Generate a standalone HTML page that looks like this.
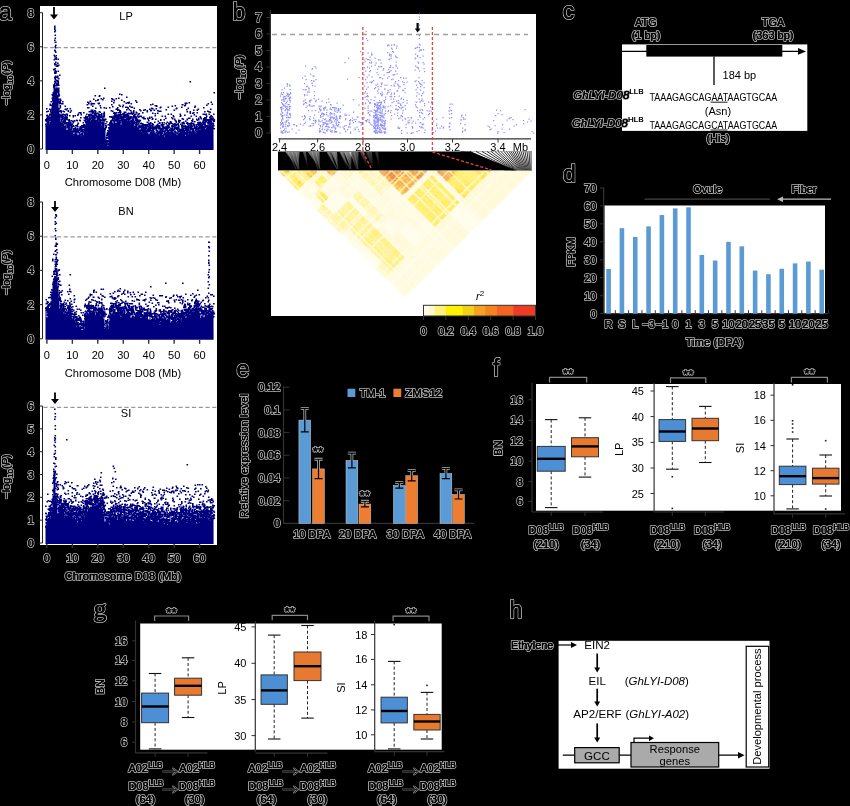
<!DOCTYPE html><html><head><meta charset="utf-8"><style>html,body{margin:0;padding:0;background:#000}svg{display:block;will-change:transform}</style></head><body><svg width="850" height="806" viewBox="0 0 850 806">
<style>text{font-family:"Liberation Sans",sans-serif}.h{stroke:#b8b8b8;stroke-width:2.1px;paint-order:stroke;stroke-linejoin:round}.k{stroke:#000;stroke-width:0.45px}</style>
<rect x="0" y="0" width="850" height="806" fill="#000"/>
<rect x="40" y="6" width="177" height="539" fill="#fff"/>
<text x="-0.9" y="19.8" font-size="23" class="h">a</text>
<text x="-0.9" y="19.8" font-size="23" class="k">a</text>
<path d="M45.5 150L45.5 124.39L46.5 124.39L46.5 123.56L47.5 123.56L47.5 122.66L48.5 122.66L48.5 118.85L49.5 118.85L49.5 124.31L50.5 124.31L50.5 113.55L51.5 113.55L51.5 107.6L52.5 107.6L52.5 96.6L53.5 96.6L53.5 87.19L54.5 87.19L54.5 84.6L55.5 84.6L55.5 88.17L56.5 88.17L56.5 87.3L57.5 87.3L57.5 95.04L58.5 95.04L58.5 107.67L59.5 107.67L59.5 114.83L60.5 114.83L60.5 121.49L61.5 121.49L61.5 123.12L62.5 123.12L62.5 126.19L63.5 126.19L63.5 121.85L64.5 121.85L64.5 125.94L65.5 125.94L65.5 121.89L66.5 121.89L66.5 130.07L67.5 130.07L67.5 125.91L68.5 125.91L68.5 127.15L69.5 127.15L69.5 127.27L70.5 127.27L70.5 131.24L71.5 131.24L71.5 127.64L72.5 127.64L72.5 131.39L73.5 131.39L73.5 136.08L74.5 136.08L74.5 131.81L75.5 131.81L75.5 134.83L76.5 134.83L76.5 131.84L77.5 131.84L77.5 134.94L78.5 134.94L78.5 132.73L79.5 132.73L79.5 134.85L80.5 134.85L80.5 136.76L81.5 136.76L81.5 135.17L82.5 135.17L82.5 130.5L83.5 130.5L83.5 135.25L84.5 135.25L84.5 126.93L85.5 126.93L85.5 121L86.5 121L86.5 121.59L87.5 121.59L87.5 119.16L88.5 119.16L88.5 120.83L89.5 120.83L89.5 121.42L90.5 121.42L90.5 120.16L91.5 120.16L91.5 116.35L92.5 116.35L92.5 116.08L93.5 116.08L93.5 117.82L94.5 117.82L94.5 119.78L95.5 119.78L95.5 120.3L96.5 120.3L96.5 121.32L97.5 121.32L97.5 120.4L98.5 120.4L98.5 122.08L99.5 122.08L99.5 119.95L100.5 119.95L100.5 120.74L101.5 120.74L101.5 125.32L102.5 125.32L102.5 123.17L103.5 123.17L103.5 119L104.5 119L104.5 127.97L105.5 127.97L105.5 139.42L106.5 139.42L106.5 141.73L107.5 141.73L107.5 146L108.5 146L108.5 131.93L109.5 131.93L109.5 123.76L110.5 123.76L110.5 125.02L111.5 125.02L111.5 123.24L112.5 123.24L112.5 124.12L113.5 124.12L113.5 120.03L114.5 120.03L114.5 121.55L115.5 121.55L115.5 123.14L116.5 123.14L116.5 121.75L117.5 121.75L117.5 119.33L118.5 119.33L118.5 120.7L119.5 120.7L119.5 117.27L120.5 117.27L120.5 124.52L121.5 124.52L121.5 120.47L122.5 120.47L122.5 120.64L123.5 120.64L123.5 118.98L124.5 118.98L124.5 119.28L125.5 119.28L125.5 118.85L126.5 118.85L126.5 121.28L127.5 121.28L127.5 120.95L128.5 120.95L128.5 121.23L129.5 121.23L129.5 124.49L130.5 124.49L130.5 117.1L131.5 117.1L131.5 120.79L132.5 120.79L132.5 120.57L133.5 120.57L133.5 121.24L134.5 121.24L134.5 126.05L135.5 126.05L135.5 122.91L136.5 122.91L136.5 120.01L137.5 120.01L137.5 128.17L138.5 128.17L138.5 125.39L139.5 125.39L139.5 130.1L140.5 130.1L140.5 132.75L141.5 132.75L141.5 132.11L142.5 132.11L142.5 133.56L143.5 133.56L143.5 132.98L144.5 132.98L144.5 133L145.5 133L145.5 131.11L146.5 131.11L146.5 132.69L147.5 132.69L147.5 134.83L148.5 134.83L148.5 128.64L149.5 128.64L149.5 135.02L150.5 135.02L150.5 130.24L151.5 130.24L151.5 131.53L152.5 131.53L152.5 130.11L153.5 130.11L153.5 130.71L154.5 130.71L154.5 133.4L155.5 133.4L155.5 137.09L156.5 137.09L156.5 132.73L157.5 132.73L157.5 131.61L158.5 131.61L158.5 132.47L159.5 132.47L159.5 135.51L160.5 135.51L160.5 131.21L161.5 131.21L161.5 129.23L162.5 129.23L162.5 135.05L163.5 135.05L163.5 137.74L164.5 137.74L164.5 133.59L165.5 133.59L165.5 130.04L166.5 130.04L166.5 133.33L167.5 133.33L167.5 132.21L168.5 132.21L168.5 133.99L169.5 133.99L169.5 136.19L170.5 136.19L170.5 130.4L171.5 130.4L171.5 130.6L172.5 130.6L172.5 132.06L173.5 132.06L173.5 133.03L174.5 133.03L174.5 133.26L175.5 133.26L175.5 131.87L176.5 131.87L176.5 135.39L177.5 135.39L177.5 129.44L178.5 129.44L178.5 135.03L179.5 135.03L179.5 131.27L180.5 131.27L180.5 131.04L181.5 131.04L181.5 129.33L182.5 129.33L182.5 130.07L183.5 130.07L183.5 132.49L184.5 132.49L184.5 132.37L185.5 132.37L185.5 135.96L186.5 135.96L186.5 129.69L187.5 129.69L187.5 130.87L188.5 130.87L188.5 134.3L189.5 134.3L189.5 126.59L190.5 126.59L190.5 130.69L191.5 130.69L191.5 131.96L192.5 131.96L192.5 128.44L193.5 128.44L193.5 129.32L194.5 129.32L194.5 132.13L195.5 132.13L195.5 133.39L196.5 133.39L196.5 134.37L197.5 134.37L197.5 128.9L198.5 128.9L198.5 129.6L199.5 129.6L199.5 129.41L200.5 129.41L200.5 132.49L201.5 132.49L201.5 128.81L202.5 128.81L202.5 127.67L203.5 127.67L203.5 128.32L204.5 128.32L204.5 125.83L205.5 125.83L205.5 129.51L206.5 129.51L206.5 128.28L207.5 128.28L207.5 126.01L208.5 126.01L208.5 125.13L209.5 125.13L209.5 122.8L210.5 122.8L210.5 120.98L211.5 120.98L211.5 125.77L212.5 125.77L212.5 127.5L213.5 127.5L213.6 150Z" fill="#00007f"/>
<path d="M45 119h1.6v1.6h-1.6zM45 120h1.6v1.6h-1.6zM45 123.5h1.6v1.6h-1.6zM45.5 119h1.6v1.6h-1.6zM45.5 119.5h1.6v1.6h-1.6zM45.5 125.5h1.6v1.6h-1.6zM46 108h1.6v1.6h-1.6zM46 111h1.6v1.6h-1.6zM46 115h1.6v1.6h-1.6zM46 117.5h1.6v1.6h-1.6zM46 118.5h1.6v1.6h-1.6zM46 120.5h1.6v1.6h-1.6zM46.5 114.5h1.6v1.6h-1.6zM46.5 119h1.6v1.6h-1.6zM46.5 120h1.6v1.6h-1.6zM46.5 121h1.6v1.6h-1.6zM46.5 122.5h1.6v1.6h-1.6zM47 116h1.6v1.6h-1.6zM47 119.5h1.6v1.6h-1.6zM47 122.5h1.6v1.6h-1.6zM47.5 110.5h1.6v1.6h-1.6zM47.5 116.5h1.6v1.6h-1.6zM47.5 117.5h1.6v1.6h-1.6zM47.5 118h1.6v1.6h-1.6zM47.5 119.5h1.6v1.6h-1.6zM47.5 120.5h1.6v1.6h-1.6zM48 116.5h1.6v1.6h-1.6zM48 122h1.6v1.6h-1.6zM48.5 115h1.6v1.6h-1.6zM49 108.5h1.6v1.6h-1.6zM49 113.5h1.6v1.6h-1.6zM49 117h1.6v1.6h-1.6zM49 118h1.6v1.6h-1.6zM49 120h1.6v1.6h-1.6zM49.5 103.5h1.6v1.6h-1.6zM49.5 104.5h1.6v1.6h-1.6zM49.5 117.5h1.6v1.6h-1.6zM49.5 118.5h1.6v1.6h-1.6zM49.5 119.5h1.6v1.6h-1.6zM49.5 123.5h1.6v1.6h-1.6zM49.5 124h1.6v1.6h-1.6zM50 109h1.6v1.6h-1.6zM50 109.5h1.6v1.6h-1.6zM50 111h1.6v1.6h-1.6zM50 117h1.6v1.6h-1.6zM50 118h1.6v1.6h-1.6zM50 122h1.6v1.6h-1.6zM50 123h1.6v1.6h-1.6zM50 124h1.6v1.6h-1.6zM50 125.5h1.6v1.6h-1.6zM50.5 101h1.6v1.6h-1.6zM50.5 111.5h1.6v1.6h-1.6zM50.5 113h1.6v1.6h-1.6zM50.5 113.5h1.6v1.6h-1.6zM50.5 114h1.6v1.6h-1.6zM50.5 114.5h1.6v1.6h-1.6zM50.5 116.5h1.6v1.6h-1.6zM51 104.5h1.6v1.6h-1.6zM51 115h1.6v1.6h-1.6zM51.5 94h1.6v1.6h-1.6zM51.5 97.5h1.6v1.6h-1.6zM51.5 106h1.6v1.6h-1.6zM51.5 108h1.6v1.6h-1.6zM52 94.5h1.6v1.6h-1.6zM52 97.5h1.6v1.6h-1.6zM52 98.5h1.6v1.6h-1.6zM52 100h1.6v1.6h-1.6zM52 103h1.6v1.6h-1.6zM52 103.5h1.6v1.6h-1.6zM52 104.5h1.6v1.6h-1.6zM52 106.5h1.6v1.6h-1.6zM52 108h1.6v1.6h-1.6zM52.5 92h1.6v1.6h-1.6zM52.5 93.5h1.6v1.6h-1.6zM52.5 96h1.6v1.6h-1.6zM52.5 100h1.6v1.6h-1.6zM52.5 107.5h1.6v1.6h-1.6zM53 69h1.6v1.6h-1.6zM53 84.5h1.6v1.6h-1.6zM53 85h1.6v1.6h-1.6zM53 86h1.6v1.6h-1.6zM53 94h1.6v1.6h-1.6zM53 95h1.6v1.6h-1.6zM53.5 54.5h1.6v1.6h-1.6zM53.5 59h1.6v1.6h-1.6zM53.5 68.5h1.6v1.6h-1.6zM53.5 84h1.6v1.6h-1.6zM53.5 86h1.6v1.6h-1.6zM53.5 86.5h1.6v1.6h-1.6zM53.5 91.5h1.6v1.6h-1.6zM54 25.5h1.6v1.6h-1.6zM54 27h1.6v1.6h-1.6zM54 28.5h1.6v1.6h-1.6zM54 31h1.6v1.6h-1.6zM54 39.5h1.6v1.6h-1.6zM54 49.5h1.6v1.6h-1.6zM54 56h1.6v1.6h-1.6zM54 63h1.6v1.6h-1.6zM54 64h1.6v1.6h-1.6zM54 71.5h1.6v1.6h-1.6zM54 72.5h1.6v1.6h-1.6zM54 76.5h1.6v1.6h-1.6zM54 77h1.6v1.6h-1.6zM54 80.5h1.6v1.6h-1.6zM54 82.5h1.6v1.6h-1.6zM54.5 30h1.6v1.6h-1.6zM54.5 34.5h1.6v1.6h-1.6zM54.5 37.5h1.6v1.6h-1.6zM54.5 41.5h1.6v1.6h-1.6zM54.5 46h1.6v1.6h-1.6zM54.5 50.5h1.6v1.6h-1.6zM54.5 58h1.6v1.6h-1.6zM54.5 68h1.6v1.6h-1.6zM54.5 70h1.6v1.6h-1.6zM54.5 78h1.6v1.6h-1.6zM54.5 78.5h1.6v1.6h-1.6zM54.5 81h1.6v1.6h-1.6zM54.5 84.5h1.6v1.6h-1.6zM55 41.5h1.6v1.6h-1.6zM55 44.5h1.6v1.6h-1.6zM55 47h1.6v1.6h-1.6zM55 51.5h1.6v1.6h-1.6zM55 61.5h1.6v1.6h-1.6zM55 63.5h1.6v1.6h-1.6zM55 70.5h1.6v1.6h-1.6zM55 72.5h1.6v1.6h-1.6zM55 75.5h1.6v1.6h-1.6zM55 76.5h1.6v1.6h-1.6zM55 81.5h1.6v1.6h-1.6zM55 82h1.6v1.6h-1.6zM55.5 55h1.6v1.6h-1.6zM55.5 57h1.6v1.6h-1.6zM55.5 58.5h1.6v1.6h-1.6zM55.5 65.5h1.6v1.6h-1.6zM55.5 71h1.6v1.6h-1.6zM55.5 80h1.6v1.6h-1.6zM55.5 85h1.6v1.6h-1.6zM55.5 89h1.6v1.6h-1.6zM56 65.5h1.6v1.6h-1.6zM56 79.5h1.6v1.6h-1.6zM56 83h1.6v1.6h-1.6zM56 83.5h1.6v1.6h-1.6zM56 85h1.6v1.6h-1.6zM56 87.5h1.6v1.6h-1.6zM56 88h1.6v1.6h-1.6zM56 88.5h1.6v1.6h-1.6zM56.5 64.5h1.6v1.6h-1.6zM56.5 65.5h1.6v1.6h-1.6zM56.5 76.5h1.6v1.6h-1.6zM56.5 80h1.6v1.6h-1.6zM56.5 83.5h1.6v1.6h-1.6zM56.5 84.5h1.6v1.6h-1.6zM57 62.5h1.6v1.6h-1.6zM57 65.5h1.6v1.6h-1.6zM57 75.5h1.6v1.6h-1.6zM57 80h1.6v1.6h-1.6zM57 81h1.6v1.6h-1.6zM57 83h1.6v1.6h-1.6zM57 84h1.6v1.6h-1.6zM57 90h1.6v1.6h-1.6zM57 91h1.6v1.6h-1.6zM57 95h1.6v1.6h-1.6zM57.5 58.5h1.6v1.6h-1.6zM57.5 70.5h1.6v1.6h-1.6zM57.5 77.5h1.6v1.6h-1.6zM57.5 80.5h1.6v1.6h-1.6zM57.5 82h1.6v1.6h-1.6zM57.5 83h1.6v1.6h-1.6zM57.5 88.5h1.6v1.6h-1.6zM57.5 92h1.6v1.6h-1.6zM57.5 95.5h1.6v1.6h-1.6zM58 64.5h1.6v1.6h-1.6zM58 78h1.6v1.6h-1.6zM58 84.5h1.6v1.6h-1.6zM58 87.5h1.6v1.6h-1.6zM58 89.5h1.6v1.6h-1.6zM58 90.5h1.6v1.6h-1.6zM58 92.5h1.6v1.6h-1.6zM58 93.5h1.6v1.6h-1.6zM58 95.5h1.6v1.6h-1.6zM58 98.5h1.6v1.6h-1.6zM58 99.5h1.6v1.6h-1.6zM58 101h1.6v1.6h-1.6zM58 101.5h1.6v1.6h-1.6zM58 108h1.6v1.6h-1.6zM58.5 94.5h1.6v1.6h-1.6zM58.5 103h1.6v1.6h-1.6zM59 74.5h1.6v1.6h-1.6zM59 110.5h1.6v1.6h-1.6zM59 114h1.6v1.6h-1.6zM59 115.5h1.6v1.6h-1.6zM59.5 98.5h1.6v1.6h-1.6zM59.5 101h1.6v1.6h-1.6zM59.5 102.5h1.6v1.6h-1.6zM59.5 105h1.6v1.6h-1.6zM59.5 106h1.6v1.6h-1.6zM59.5 107h1.6v1.6h-1.6zM59.5 110.5h1.6v1.6h-1.6zM59.5 116h1.6v1.6h-1.6zM60 99.5h1.6v1.6h-1.6zM60 110h1.6v1.6h-1.6zM60 114.5h1.6v1.6h-1.6zM60.5 103h1.6v1.6h-1.6zM60.5 110.5h1.6v1.6h-1.6zM60.5 111h1.6v1.6h-1.6zM60.5 112h1.6v1.6h-1.6zM60.5 119h1.6v1.6h-1.6zM61 115.5h1.6v1.6h-1.6zM61 117h1.6v1.6h-1.6zM61 120h1.6v1.6h-1.6zM61 120.5h1.6v1.6h-1.6zM61 124.5h1.6v1.6h-1.6zM61.5 114h1.6v1.6h-1.6zM61.5 118h1.6v1.6h-1.6zM61.5 118.5h1.6v1.6h-1.6zM61.5 121.5h1.6v1.6h-1.6zM61.5 122.5h1.6v1.6h-1.6zM61.5 123h1.6v1.6h-1.6zM61.5 123.5h1.6v1.6h-1.6zM62 101h1.6v1.6h-1.6zM62 103h1.6v1.6h-1.6zM62 115h1.6v1.6h-1.6zM62 117h1.6v1.6h-1.6zM62 121.5h1.6v1.6h-1.6zM62 124h1.6v1.6h-1.6zM62.5 110.5h1.6v1.6h-1.6zM62.5 113.5h1.6v1.6h-1.6zM62.5 116h1.6v1.6h-1.6zM62.5 121.5h1.6v1.6h-1.6zM62.5 122h1.6v1.6h-1.6zM62.5 124h1.6v1.6h-1.6zM62.5 124.5h1.6v1.6h-1.6zM62.5 126h1.6v1.6h-1.6zM63 118h1.6v1.6h-1.6zM63 120h1.6v1.6h-1.6zM63 121.5h1.6v1.6h-1.6zM63 127.5h1.6v1.6h-1.6zM63.5 111h1.6v1.6h-1.6zM63.5 118h1.6v1.6h-1.6zM63.5 118.5h1.6v1.6h-1.6zM64 114h1.6v1.6h-1.6zM64 117h1.6v1.6h-1.6zM64 118.5h1.6v1.6h-1.6zM64 120h1.6v1.6h-1.6zM64 121.5h1.6v1.6h-1.6zM64 122.5h1.6v1.6h-1.6zM64 123h1.6v1.6h-1.6zM64.5 105.5h1.6v1.6h-1.6zM64.5 108.5h1.6v1.6h-1.6zM64.5 115h1.6v1.6h-1.6zM64.5 116h1.6v1.6h-1.6zM64.5 116.5h1.6v1.6h-1.6zM64.5 119h1.6v1.6h-1.6zM64.5 120.5h1.6v1.6h-1.6zM64.5 126.5h1.6v1.6h-1.6zM64.5 127h1.6v1.6h-1.6zM65 117.5h1.6v1.6h-1.6zM65 125.5h1.6v1.6h-1.6zM65 126h1.6v1.6h-1.6zM65 127h1.6v1.6h-1.6zM65.5 109h1.6v1.6h-1.6zM65.5 113.5h1.6v1.6h-1.6zM65.5 118.5h1.6v1.6h-1.6zM65.5 122h1.6v1.6h-1.6zM66 116h1.6v1.6h-1.6zM66 116.5h1.6v1.6h-1.6zM66 118h1.6v1.6h-1.6zM66 123h1.6v1.6h-1.6zM66 130.5h1.6v1.6h-1.6zM66.5 108h1.6v1.6h-1.6zM66.5 113.5h1.6v1.6h-1.6zM66.5 114.5h1.6v1.6h-1.6zM66.5 117h1.6v1.6h-1.6zM66.5 119h1.6v1.6h-1.6zM66.5 122.5h1.6v1.6h-1.6zM66.5 124.5h1.6v1.6h-1.6zM66.5 130h1.6v1.6h-1.6zM67 122h1.6v1.6h-1.6zM67 123.5h1.6v1.6h-1.6zM67 126h1.6v1.6h-1.6zM67 126.5h1.6v1.6h-1.6zM67.5 110h1.6v1.6h-1.6zM67.5 110.5h1.6v1.6h-1.6zM67.5 124.5h1.6v1.6h-1.6zM68 119.5h1.6v1.6h-1.6zM68 120h1.6v1.6h-1.6zM68 123h1.6v1.6h-1.6zM68 125.5h1.6v1.6h-1.6zM68 126.5h1.6v1.6h-1.6zM68.5 119h1.6v1.6h-1.6zM68.5 120h1.6v1.6h-1.6zM68.5 120.5h1.6v1.6h-1.6zM68.5 121.5h1.6v1.6h-1.6zM68.5 124h1.6v1.6h-1.6zM68.5 124.5h1.6v1.6h-1.6zM68.5 126.5h1.6v1.6h-1.6zM68.5 128.5h1.6v1.6h-1.6zM69 115h1.6v1.6h-1.6zM69 121h1.6v1.6h-1.6zM69 122h1.6v1.6h-1.6zM69 124h1.6v1.6h-1.6zM69.5 108h1.6v1.6h-1.6zM69.5 111.5h1.6v1.6h-1.6zM69.5 123h1.6v1.6h-1.6zM69.5 125h1.6v1.6h-1.6zM69.5 129h1.6v1.6h-1.6zM70 122h1.6v1.6h-1.6zM70 129.5h1.6v1.6h-1.6zM70 130.5h1.6v1.6h-1.6zM70.5 110h1.6v1.6h-1.6zM70.5 120h1.6v1.6h-1.6zM70.5 124.5h1.6v1.6h-1.6zM70.5 125h1.6v1.6h-1.6zM70.5 125.5h1.6v1.6h-1.6zM70.5 127h1.6v1.6h-1.6zM70.5 128.5h1.6v1.6h-1.6zM71 123.5h1.6v1.6h-1.6zM71 125.5h1.6v1.6h-1.6zM71 127h1.6v1.6h-1.6zM71 130.5h1.6v1.6h-1.6zM71.5 123.5h1.6v1.6h-1.6zM71.5 125.5h1.6v1.6h-1.6zM71.5 126h1.6v1.6h-1.6zM72 120.5h1.6v1.6h-1.6zM72 131.5h1.6v1.6h-1.6zM72.5 115h1.6v1.6h-1.6zM72.5 116h1.6v1.6h-1.6zM72.5 122h1.6v1.6h-1.6zM72.5 125h1.6v1.6h-1.6zM72.5 130.5h1.6v1.6h-1.6zM73 120.5h1.6v1.6h-1.6zM73 125.5h1.6v1.6h-1.6zM73 128h1.6v1.6h-1.6zM73 129h1.6v1.6h-1.6zM73 129.5h1.6v1.6h-1.6zM73 134h1.6v1.6h-1.6zM73 136.5h1.6v1.6h-1.6zM73.5 128.5h1.6v1.6h-1.6zM73.5 130.5h1.6v1.6h-1.6zM73.5 134h1.6v1.6h-1.6zM73.5 134.5h1.6v1.6h-1.6zM74 120h1.6v1.6h-1.6zM74 129h1.6v1.6h-1.6zM74 130.5h1.6v1.6h-1.6zM74 136h1.6v1.6h-1.6zM74 137h1.6v1.6h-1.6zM74.5 115h1.6v1.6h-1.6zM74.5 127h1.6v1.6h-1.6zM74.5 130.5h1.6v1.6h-1.6zM74.5 131.5h1.6v1.6h-1.6zM74.5 133.5h1.6v1.6h-1.6zM74.5 134.5h1.6v1.6h-1.6zM75 125h1.6v1.6h-1.6zM75 128.5h1.6v1.6h-1.6zM75 132.5h1.6v1.6h-1.6zM75 133h1.6v1.6h-1.6zM75 136h1.6v1.6h-1.6zM75 136.5h1.6v1.6h-1.6zM75.5 130h1.6v1.6h-1.6zM75.5 130.5h1.6v1.6h-1.6zM75.5 132h1.6v1.6h-1.6zM75.5 134h1.6v1.6h-1.6zM76 119.5h1.6v1.6h-1.6zM76 129h1.6v1.6h-1.6zM76 131.5h1.6v1.6h-1.6zM76 135.5h1.6v1.6h-1.6zM76.5 120h1.6v1.6h-1.6zM76.5 124.5h1.6v1.6h-1.6zM76.5 126h1.6v1.6h-1.6zM76.5 128h1.6v1.6h-1.6zM76.5 130.5h1.6v1.6h-1.6zM77 114.5h1.6v1.6h-1.6zM77 123.5h1.6v1.6h-1.6zM77 126h1.6v1.6h-1.6zM77 128h1.6v1.6h-1.6zM77 128.5h1.6v1.6h-1.6zM77 129h1.6v1.6h-1.6zM77.5 113.5h1.6v1.6h-1.6zM77.5 122.5h1.6v1.6h-1.6zM77.5 130h1.6v1.6h-1.6zM77.5 130.5h1.6v1.6h-1.6zM77.5 135.5h1.6v1.6h-1.6zM78 131.5h1.6v1.6h-1.6zM78 136.5h1.6v1.6h-1.6zM78.5 112h1.6v1.6h-1.6zM78.5 129.5h1.6v1.6h-1.6zM79 119.5h1.6v1.6h-1.6zM79 127.5h1.6v1.6h-1.6zM79 128h1.6v1.6h-1.6zM79 131.5h1.6v1.6h-1.6zM79 132.5h1.6v1.6h-1.6zM79 134.5h1.6v1.6h-1.6zM79 135.5h1.6v1.6h-1.6zM79.5 120h1.6v1.6h-1.6zM79.5 126h1.6v1.6h-1.6zM79.5 127h1.6v1.6h-1.6zM79.5 134h1.6v1.6h-1.6zM79.5 136h1.6v1.6h-1.6zM80 112h1.6v1.6h-1.6zM80 112.5h1.6v1.6h-1.6zM80 117h1.6v1.6h-1.6zM80 128.5h1.6v1.6h-1.6zM80 130.5h1.6v1.6h-1.6zM80 134h1.6v1.6h-1.6zM80 136h1.6v1.6h-1.6zM80 136.5h1.6v1.6h-1.6zM80.5 114h1.6v1.6h-1.6zM80.5 127.5h1.6v1.6h-1.6zM80.5 129h1.6v1.6h-1.6zM80.5 130h1.6v1.6h-1.6zM80.5 134h1.6v1.6h-1.6zM81 125h1.6v1.6h-1.6zM81 126.5h1.6v1.6h-1.6zM81 127.5h1.6v1.6h-1.6zM81 128.5h1.6v1.6h-1.6zM81 132.5h1.6v1.6h-1.6zM81 138h1.6v1.6h-1.6zM81.5 129h1.6v1.6h-1.6zM81.5 130.5h1.6v1.6h-1.6zM81.5 132.5h1.6v1.6h-1.6zM81.5 133h1.6v1.6h-1.6zM81.5 134.5h1.6v1.6h-1.6zM81.5 136.5h1.6v1.6h-1.6zM82 125h1.6v1.6h-1.6zM82 129h1.6v1.6h-1.6zM82 130.5h1.6v1.6h-1.6zM82 135.5h1.6v1.6h-1.6zM82.5 122h1.6v1.6h-1.6zM82.5 126.5h1.6v1.6h-1.6zM82.5 131h1.6v1.6h-1.6zM83 112h1.6v1.6h-1.6zM83 124h1.6v1.6h-1.6zM83 125h1.6v1.6h-1.6zM83 128.5h1.6v1.6h-1.6zM83 130.5h1.6v1.6h-1.6zM83.5 117h1.6v1.6h-1.6zM83.5 119.5h1.6v1.6h-1.6zM83.5 124h1.6v1.6h-1.6zM83.5 125h1.6v1.6h-1.6zM83.5 126h1.6v1.6h-1.6zM83.5 132h1.6v1.6h-1.6zM83.5 137h1.6v1.6h-1.6zM84 120h1.6v1.6h-1.6zM84 124.5h1.6v1.6h-1.6zM84 126h1.6v1.6h-1.6zM84 126.5h1.6v1.6h-1.6zM84 129h1.6v1.6h-1.6zM84 129.5h1.6v1.6h-1.6zM84 130h1.6v1.6h-1.6zM84 132.5h1.6v1.6h-1.6zM84 134h1.6v1.6h-1.6zM84 135.5h1.6v1.6h-1.6zM84.5 117.5h1.6v1.6h-1.6zM84.5 125.5h1.6v1.6h-1.6zM84.5 127h1.6v1.6h-1.6zM85 115.5h1.6v1.6h-1.6zM85 117h1.6v1.6h-1.6zM85 119h1.6v1.6h-1.6zM85 119.5h1.6v1.6h-1.6zM85 121.5h1.6v1.6h-1.6zM85 125.5h1.6v1.6h-1.6zM85 126h1.6v1.6h-1.6zM85.5 118.5h1.6v1.6h-1.6zM85.5 121h1.6v1.6h-1.6zM86 113.5h1.6v1.6h-1.6zM86 118h1.6v1.6h-1.6zM86 119h1.6v1.6h-1.6zM86.5 104h1.6v1.6h-1.6zM86.5 116h1.6v1.6h-1.6zM86.5 117.5h1.6v1.6h-1.6zM86.5 119h1.6v1.6h-1.6zM87 101.5h1.6v1.6h-1.6zM87 107h1.6v1.6h-1.6zM87 119.5h1.6v1.6h-1.6zM87 121h1.6v1.6h-1.6zM87 122h1.6v1.6h-1.6zM87 122.5h1.6v1.6h-1.6zM87.5 119.5h1.6v1.6h-1.6zM87.5 120.5h1.6v1.6h-1.6zM88 102h1.6v1.6h-1.6zM88 103h1.6v1.6h-1.6zM88 107h1.6v1.6h-1.6zM88 114h1.6v1.6h-1.6zM88 115h1.6v1.6h-1.6zM88 118.5h1.6v1.6h-1.6zM88 120h1.6v1.6h-1.6zM88 121.5h1.6v1.6h-1.6zM88.5 111h1.6v1.6h-1.6zM88.5 116.5h1.6v1.6h-1.6zM88.5 118h1.6v1.6h-1.6zM89 116h1.6v1.6h-1.6zM89 117h1.6v1.6h-1.6zM89 119.5h1.6v1.6h-1.6zM89 120h1.6v1.6h-1.6zM89 121h1.6v1.6h-1.6zM89.5 100.5h1.6v1.6h-1.6zM89.5 113.5h1.6v1.6h-1.6zM89.5 114.5h1.6v1.6h-1.6zM89.5 117.5h1.6v1.6h-1.6zM89.5 118.5h1.6v1.6h-1.6zM89.5 121h1.6v1.6h-1.6zM90 111h1.6v1.6h-1.6zM90 118h1.6v1.6h-1.6zM90 121.5h1.6v1.6h-1.6zM90.5 102.5h1.6v1.6h-1.6zM90.5 104h1.6v1.6h-1.6zM90.5 109.5h1.6v1.6h-1.6zM90.5 110h1.6v1.6h-1.6zM90.5 110.5h1.6v1.6h-1.6zM90.5 111h1.6v1.6h-1.6zM90.5 115h1.6v1.6h-1.6zM90.5 121.5h1.6v1.6h-1.6zM91 111h1.6v1.6h-1.6zM91 114h1.6v1.6h-1.6zM91 117h1.6v1.6h-1.6zM91 120h1.6v1.6h-1.6zM91.5 112.5h1.6v1.6h-1.6zM91.5 116.5h1.6v1.6h-1.6zM92 103h1.6v1.6h-1.6zM92 105.5h1.6v1.6h-1.6zM92 109.5h1.6v1.6h-1.6zM92 115h1.6v1.6h-1.6zM92 116.5h1.6v1.6h-1.6zM92 117h1.6v1.6h-1.6zM92 118h1.6v1.6h-1.6zM92.5 111h1.6v1.6h-1.6zM92.5 112h1.6v1.6h-1.6zM92.5 115.5h1.6v1.6h-1.6zM92.5 116h1.6v1.6h-1.6zM93 98.5h1.6v1.6h-1.6zM93 117h1.6v1.6h-1.6zM93 118h1.6v1.6h-1.6zM93.5 103h1.6v1.6h-1.6zM93.5 112.5h1.6v1.6h-1.6zM93.5 114h1.6v1.6h-1.6zM93.5 116.5h1.6v1.6h-1.6zM94 110h1.6v1.6h-1.6zM94 114h1.6v1.6h-1.6zM94 115.5h1.6v1.6h-1.6zM94 117h1.6v1.6h-1.6zM94 118.5h1.6v1.6h-1.6zM94 120.5h1.6v1.6h-1.6zM94.5 95h1.6v1.6h-1.6zM94.5 110.5h1.6v1.6h-1.6zM94.5 112h1.6v1.6h-1.6zM94.5 114h1.6v1.6h-1.6zM94.5 114.5h1.6v1.6h-1.6zM94.5 117h1.6v1.6h-1.6zM95 100h1.6v1.6h-1.6zM95 107.5h1.6v1.6h-1.6zM95 111h1.6v1.6h-1.6zM95 112h1.6v1.6h-1.6zM95 113h1.6v1.6h-1.6zM95 114.5h1.6v1.6h-1.6zM95 120h1.6v1.6h-1.6zM95.5 113h1.6v1.6h-1.6zM95.5 115h1.6v1.6h-1.6zM96 115.5h1.6v1.6h-1.6zM96 116h1.6v1.6h-1.6zM96 122h1.6v1.6h-1.6zM96 123h1.6v1.6h-1.6zM96.5 113h1.6v1.6h-1.6zM96.5 115.5h1.6v1.6h-1.6zM96.5 116.5h1.6v1.6h-1.6zM96.5 118h1.6v1.6h-1.6zM96.5 118.5h1.6v1.6h-1.6zM96.5 119.5h1.6v1.6h-1.6zM96.5 122h1.6v1.6h-1.6zM97 99.5h1.6v1.6h-1.6zM97 112.5h1.6v1.6h-1.6zM97 121h1.6v1.6h-1.6zM97.5 99h1.6v1.6h-1.6zM97.5 102.5h1.6v1.6h-1.6zM97.5 115.5h1.6v1.6h-1.6zM97.5 117h1.6v1.6h-1.6zM97.5 117.5h1.6v1.6h-1.6zM97.5 119h1.6v1.6h-1.6zM98 103h1.6v1.6h-1.6zM98 113.5h1.6v1.6h-1.6zM98 114h1.6v1.6h-1.6zM98 115.5h1.6v1.6h-1.6zM98 116.5h1.6v1.6h-1.6zM98 117.5h1.6v1.6h-1.6zM98 121.5h1.6v1.6h-1.6zM98 123h1.6v1.6h-1.6zM98.5 95.5h1.6v1.6h-1.6zM98.5 102.5h1.6v1.6h-1.6zM98.5 111h1.6v1.6h-1.6zM98.5 118h1.6v1.6h-1.6zM98.5 119.5h1.6v1.6h-1.6zM98.5 123.5h1.6v1.6h-1.6zM99 95h1.6v1.6h-1.6zM99 115h1.6v1.6h-1.6zM99 116h1.6v1.6h-1.6zM99 120h1.6v1.6h-1.6zM99 123.5h1.6v1.6h-1.6zM99.5 105h1.6v1.6h-1.6zM99.5 111.5h1.6v1.6h-1.6zM99.5 114h1.6v1.6h-1.6zM99.5 116.5h1.6v1.6h-1.6zM99.5 117h1.6v1.6h-1.6zM99.5 119h1.6v1.6h-1.6zM100 107h1.6v1.6h-1.6zM100 116h1.6v1.6h-1.6zM100 119h1.6v1.6h-1.6zM100.5 98h1.6v1.6h-1.6zM100.5 116h1.6v1.6h-1.6zM100.5 116.5h1.6v1.6h-1.6zM100.5 117h1.6v1.6h-1.6zM100.5 119.5h1.6v1.6h-1.6zM100.5 122.5h1.6v1.6h-1.6zM101 113h1.6v1.6h-1.6zM101 114h1.6v1.6h-1.6zM101 114.5h1.6v1.6h-1.6zM101 117h1.6v1.6h-1.6zM101 119.5h1.6v1.6h-1.6zM101 126.5h1.6v1.6h-1.6zM101 127h1.6v1.6h-1.6zM101.5 121.5h1.6v1.6h-1.6zM101.5 122.5h1.6v1.6h-1.6zM101.5 123h1.6v1.6h-1.6zM101.5 126h1.6v1.6h-1.6zM102 99h1.6v1.6h-1.6zM102 116h1.6v1.6h-1.6zM102 116.5h1.6v1.6h-1.6zM102 117h1.6v1.6h-1.6zM102 118h1.6v1.6h-1.6zM102 119h1.6v1.6h-1.6zM102 123.5h1.6v1.6h-1.6zM102.5 120h1.6v1.6h-1.6zM102.5 122h1.6v1.6h-1.6zM102.5 123h1.6v1.6h-1.6zM102.5 124.5h1.6v1.6h-1.6zM102.5 126.5h1.6v1.6h-1.6zM103 97.5h1.6v1.6h-1.6zM103 113h1.6v1.6h-1.6zM103 115h1.6v1.6h-1.6zM103 123h1.6v1.6h-1.6zM103.5 107h1.6v1.6h-1.6zM103.5 111.5h1.6v1.6h-1.6zM103.5 113h1.6v1.6h-1.6zM103.5 114.5h1.6v1.6h-1.6zM103.5 116h1.6v1.6h-1.6zM103.5 118.5h1.6v1.6h-1.6zM104 87.5h1.6v1.6h-1.6zM104 119h1.6v1.6h-1.6zM104 120h1.6v1.6h-1.6zM104 129h1.6v1.6h-1.6zM104.5 128h1.6v1.6h-1.6zM105 118.5h1.6v1.6h-1.6zM105 123h1.6v1.6h-1.6zM105 125h1.6v1.6h-1.6zM105 127h1.6v1.6h-1.6zM105 140h1.6v1.6h-1.6zM105.5 107.5h1.6v1.6h-1.6zM105.5 125h1.6v1.6h-1.6zM105.5 126.5h1.6v1.6h-1.6zM105.5 136.5h1.6v1.6h-1.6zM105.5 138h1.6v1.6h-1.6zM105.5 141h1.6v1.6h-1.6zM106 121h1.6v1.6h-1.6zM106 134.5h1.6v1.6h-1.6zM106 140h1.6v1.6h-1.6zM106 141.5h1.6v1.6h-1.6zM106.5 132.5h1.6v1.6h-1.6zM106.5 133.5h1.6v1.6h-1.6zM106.5 137h1.6v1.6h-1.6zM107 130h1.6v1.6h-1.6zM107 132h1.6v1.6h-1.6zM107 141h1.6v1.6h-1.6zM107 143.5h1.6v1.6h-1.6zM107 146.5h1.6v1.6h-1.6zM107.5 124h1.6v1.6h-1.6zM107.5 133h1.6v1.6h-1.6zM107.5 134.5h1.6v1.6h-1.6zM107.5 135.5h1.6v1.6h-1.6zM107.5 137h1.6v1.6h-1.6zM107.5 137.5h1.6v1.6h-1.6zM107.5 140h1.6v1.6h-1.6zM107.5 140.5h1.6v1.6h-1.6zM107.5 143h1.6v1.6h-1.6zM107.5 144h1.6v1.6h-1.6zM107.5 147h1.6v1.6h-1.6zM108 127h1.6v1.6h-1.6zM108 130h1.6v1.6h-1.6zM108 131.5h1.6v1.6h-1.6zM108 132h1.6v1.6h-1.6zM108.5 127h1.6v1.6h-1.6zM108.5 128h1.6v1.6h-1.6zM108.5 129h1.6v1.6h-1.6zM108.5 130.5h1.6v1.6h-1.6zM108.5 133h1.6v1.6h-1.6zM108.5 139.5h1.6v1.6h-1.6zM108.5 145h1.6v1.6h-1.6zM108.5 146h1.6v1.6h-1.6zM109 107h1.6v1.6h-1.6zM109 116h1.6v1.6h-1.6zM109 122.5h1.6v1.6h-1.6zM109 124.5h1.6v1.6h-1.6zM109 132h1.6v1.6h-1.6zM109.5 122h1.6v1.6h-1.6zM109.5 123h1.6v1.6h-1.6zM109.5 125h1.6v1.6h-1.6zM110 120.5h1.6v1.6h-1.6zM110 122.5h1.6v1.6h-1.6zM110 124.5h1.6v1.6h-1.6zM110.5 110h1.6v1.6h-1.6zM110.5 116h1.6v1.6h-1.6zM110.5 116.5h1.6v1.6h-1.6zM110.5 120h1.6v1.6h-1.6zM110.5 120.5h1.6v1.6h-1.6zM110.5 121h1.6v1.6h-1.6zM110.5 122h1.6v1.6h-1.6zM110.5 123h1.6v1.6h-1.6zM111 98h1.6v1.6h-1.6zM111 100.5h1.6v1.6h-1.6zM111 104h1.6v1.6h-1.6zM111 119.5h1.6v1.6h-1.6zM111 120h1.6v1.6h-1.6zM111 123h1.6v1.6h-1.6zM111 124h1.6v1.6h-1.6zM111 126h1.6v1.6h-1.6zM111.5 119.5h1.6v1.6h-1.6zM111.5 123.5h1.6v1.6h-1.6zM111.5 125h1.6v1.6h-1.6zM112 98.5h1.6v1.6h-1.6zM112 106h1.6v1.6h-1.6zM112 110.5h1.6v1.6h-1.6zM112 116.5h1.6v1.6h-1.6zM112 118h1.6v1.6h-1.6zM112 119h1.6v1.6h-1.6zM112 119.5h1.6v1.6h-1.6zM112 120h1.6v1.6h-1.6zM112 122.5h1.6v1.6h-1.6zM112 123.5h1.6v1.6h-1.6zM112 124.5h1.6v1.6h-1.6zM112.5 115.5h1.6v1.6h-1.6zM112.5 116.5h1.6v1.6h-1.6zM112.5 117h1.6v1.6h-1.6zM112.5 124h1.6v1.6h-1.6zM112.5 125.5h1.6v1.6h-1.6zM113 102h1.6v1.6h-1.6zM113 112.5h1.6v1.6h-1.6zM113 118h1.6v1.6h-1.6zM113.5 99.5h1.6v1.6h-1.6zM113.5 100h1.6v1.6h-1.6zM113.5 112h1.6v1.6h-1.6zM113.5 116.5h1.6v1.6h-1.6zM113.5 117.5h1.6v1.6h-1.6zM113.5 120h1.6v1.6h-1.6zM113.5 120.5h1.6v1.6h-1.6zM113.5 124h1.6v1.6h-1.6zM113.5 124.5h1.6v1.6h-1.6zM114 112.5h1.6v1.6h-1.6zM114 114h1.6v1.6h-1.6zM114 114.5h1.6v1.6h-1.6zM114 116h1.6v1.6h-1.6zM114 117.5h1.6v1.6h-1.6zM114 119h1.6v1.6h-1.6zM114 120h1.6v1.6h-1.6zM114.5 119h1.6v1.6h-1.6zM114.5 119.5h1.6v1.6h-1.6zM115 113.5h1.6v1.6h-1.6zM115 114h1.6v1.6h-1.6zM115 114.5h1.6v1.6h-1.6zM115 119.5h1.6v1.6h-1.6zM115 123.5h1.6v1.6h-1.6zM115 124.5h1.6v1.6h-1.6zM115.5 98h1.6v1.6h-1.6zM115.5 108.5h1.6v1.6h-1.6zM115.5 112h1.6v1.6h-1.6zM115.5 115.5h1.6v1.6h-1.6zM115.5 116h1.6v1.6h-1.6zM115.5 117h1.6v1.6h-1.6zM115.5 120h1.6v1.6h-1.6zM115.5 123h1.6v1.6h-1.6zM116 118h1.6v1.6h-1.6zM116 120h1.6v1.6h-1.6zM116.5 108h1.6v1.6h-1.6zM116.5 114.5h1.6v1.6h-1.6zM116.5 115h1.6v1.6h-1.6zM116.5 115.5h1.6v1.6h-1.6zM116.5 117h1.6v1.6h-1.6zM116.5 118.5h1.6v1.6h-1.6zM116.5 119h1.6v1.6h-1.6zM116.5 120.5h1.6v1.6h-1.6zM117 107h1.6v1.6h-1.6zM117 109.5h1.6v1.6h-1.6zM117 116.5h1.6v1.6h-1.6zM117 117.5h1.6v1.6h-1.6zM117 119.5h1.6v1.6h-1.6zM117.5 112h1.6v1.6h-1.6zM117.5 114h1.6v1.6h-1.6zM117.5 115.5h1.6v1.6h-1.6zM117.5 117.5h1.6v1.6h-1.6zM117.5 118.5h1.6v1.6h-1.6zM118 97.5h1.6v1.6h-1.6zM118 109h1.6v1.6h-1.6zM118 116h1.6v1.6h-1.6zM118 118h1.6v1.6h-1.6zM118.5 104.5h1.6v1.6h-1.6zM118.5 114.5h1.6v1.6h-1.6zM118.5 115.5h1.6v1.6h-1.6zM118.5 117.5h1.6v1.6h-1.6zM118.5 120.5h1.6v1.6h-1.6zM119 93.5h1.6v1.6h-1.6zM119 110.5h1.6v1.6h-1.6zM119 111.5h1.6v1.6h-1.6zM119 114h1.6v1.6h-1.6zM119 114.5h1.6v1.6h-1.6zM119 115h1.6v1.6h-1.6zM119 118h1.6v1.6h-1.6zM119 120h1.6v1.6h-1.6zM119 121.5h1.6v1.6h-1.6zM119.5 105.5h1.6v1.6h-1.6zM119.5 110h1.6v1.6h-1.6zM119.5 110.5h1.6v1.6h-1.6zM119.5 112h1.6v1.6h-1.6zM119.5 113h1.6v1.6h-1.6zM120 111.5h1.6v1.6h-1.6zM120 115.5h1.6v1.6h-1.6zM120 116.5h1.6v1.6h-1.6zM120 117h1.6v1.6h-1.6zM120 118h1.6v1.6h-1.6zM120 122h1.6v1.6h-1.6zM120.5 114h1.6v1.6h-1.6zM120.5 117.5h1.6v1.6h-1.6zM120.5 120h1.6v1.6h-1.6zM120.5 125.5h1.6v1.6h-1.6zM121 94h1.6v1.6h-1.6zM121 99.5h1.6v1.6h-1.6zM121 114h1.6v1.6h-1.6zM121 116.5h1.6v1.6h-1.6zM121 119h1.6v1.6h-1.6zM121 119.5h1.6v1.6h-1.6zM121 120h1.6v1.6h-1.6zM121.5 116h1.6v1.6h-1.6zM121.5 117.5h1.6v1.6h-1.6zM121.5 119h1.6v1.6h-1.6zM121.5 125h1.6v1.6h-1.6zM122 106h1.6v1.6h-1.6zM122 113.5h1.6v1.6h-1.6zM122 114h1.6v1.6h-1.6zM122 116.5h1.6v1.6h-1.6zM122 118.5h1.6v1.6h-1.6zM122 120.5h1.6v1.6h-1.6zM122.5 104.5h1.6v1.6h-1.6zM122.5 113h1.6v1.6h-1.6zM123 113.5h1.6v1.6h-1.6zM123 115h1.6v1.6h-1.6zM123 116h1.6v1.6h-1.6zM123 117.5h1.6v1.6h-1.6zM123 118h1.6v1.6h-1.6zM123 119h1.6v1.6h-1.6zM123 119.5h1.6v1.6h-1.6zM123.5 101h1.6v1.6h-1.6zM123.5 111.5h1.6v1.6h-1.6zM123.5 112.5h1.6v1.6h-1.6zM123.5 115h1.6v1.6h-1.6zM123.5 116.5h1.6v1.6h-1.6zM123.5 120.5h1.6v1.6h-1.6zM124 112h1.6v1.6h-1.6zM124 115.5h1.6v1.6h-1.6zM124 120.5h1.6v1.6h-1.6zM124.5 114h1.6v1.6h-1.6zM124.5 114.5h1.6v1.6h-1.6zM124.5 116.5h1.6v1.6h-1.6zM124.5 119h1.6v1.6h-1.6zM125 106.5h1.6v1.6h-1.6zM125 111.5h1.6v1.6h-1.6zM125 114h1.6v1.6h-1.6zM125 116h1.6v1.6h-1.6zM125 120.5h1.6v1.6h-1.6zM125.5 102.5h1.6v1.6h-1.6zM125.5 115h1.6v1.6h-1.6zM125.5 118h1.6v1.6h-1.6zM125.5 118.5h1.6v1.6h-1.6zM125.5 120h1.6v1.6h-1.6zM126 96.5h1.6v1.6h-1.6zM126 106.5h1.6v1.6h-1.6zM126 109h1.6v1.6h-1.6zM126 113.5h1.6v1.6h-1.6zM126 114.5h1.6v1.6h-1.6zM126 118h1.6v1.6h-1.6zM126.5 116h1.6v1.6h-1.6zM126.5 117.5h1.6v1.6h-1.6zM126.5 122h1.6v1.6h-1.6zM127 102h1.6v1.6h-1.6zM127 107h1.6v1.6h-1.6zM127 113h1.6v1.6h-1.6zM127 118.5h1.6v1.6h-1.6zM127 120.5h1.6v1.6h-1.6zM127.5 107.5h1.6v1.6h-1.6zM127.5 114.5h1.6v1.6h-1.6zM127.5 116h1.6v1.6h-1.6zM127.5 119h1.6v1.6h-1.6zM128 102.5h1.6v1.6h-1.6zM128 112.5h1.6v1.6h-1.6zM128 115.5h1.6v1.6h-1.6zM128 116.5h1.6v1.6h-1.6zM128 117h1.6v1.6h-1.6zM128 118h1.6v1.6h-1.6zM128 120h1.6v1.6h-1.6zM128 121.5h1.6v1.6h-1.6zM128.5 101.5h1.6v1.6h-1.6zM128.5 109h1.6v1.6h-1.6zM128.5 116.5h1.6v1.6h-1.6zM128.5 118.5h1.6v1.6h-1.6zM128.5 122h1.6v1.6h-1.6zM129 105.5h1.6v1.6h-1.6zM129 113h1.6v1.6h-1.6zM129 118h1.6v1.6h-1.6zM129 121h1.6v1.6h-1.6zM129 121.5h1.6v1.6h-1.6zM129 123.5h1.6v1.6h-1.6zM129.5 117.5h1.6v1.6h-1.6zM129.5 120.5h1.6v1.6h-1.6zM129.5 122.5h1.6v1.6h-1.6zM130 110h1.6v1.6h-1.6zM130 112.5h1.6v1.6h-1.6zM130 113h1.6v1.6h-1.6zM130 116h1.6v1.6h-1.6zM130 117.5h1.6v1.6h-1.6zM130 124h1.6v1.6h-1.6zM130.5 103h1.6v1.6h-1.6zM130.5 106.5h1.6v1.6h-1.6zM130.5 112.5h1.6v1.6h-1.6zM130.5 116h1.6v1.6h-1.6zM130.5 122.5h1.6v1.6h-1.6zM130.5 123h1.6v1.6h-1.6zM131 111.5h1.6v1.6h-1.6zM131 112h1.6v1.6h-1.6zM131 116h1.6v1.6h-1.6zM131 120h1.6v1.6h-1.6zM131.5 106.5h1.6v1.6h-1.6zM131.5 113h1.6v1.6h-1.6zM132 113.5h1.6v1.6h-1.6zM132 117.5h1.6v1.6h-1.6zM132 118h1.6v1.6h-1.6zM132 119.5h1.6v1.6h-1.6zM132.5 119h1.6v1.6h-1.6zM132.5 121.5h1.6v1.6h-1.6zM133 110h1.6v1.6h-1.6zM133 111h1.6v1.6h-1.6zM133 112.5h1.6v1.6h-1.6zM133 115h1.6v1.6h-1.6zM133 115.5h1.6v1.6h-1.6zM133 116.5h1.6v1.6h-1.6zM133 117h1.6v1.6h-1.6zM133 120.5h1.6v1.6h-1.6zM133 121h1.6v1.6h-1.6zM133 121.5h1.6v1.6h-1.6zM133.5 107.5h1.6v1.6h-1.6zM133.5 116h1.6v1.6h-1.6zM133.5 122h1.6v1.6h-1.6zM133.5 122.5h1.6v1.6h-1.6zM134 114h1.6v1.6h-1.6zM134 115h1.6v1.6h-1.6zM134 120.5h1.6v1.6h-1.6zM134.5 116h1.6v1.6h-1.6zM134.5 117.5h1.6v1.6h-1.6zM134.5 118h1.6v1.6h-1.6zM134.5 126h1.6v1.6h-1.6zM134.5 127.5h1.6v1.6h-1.6zM135 100h1.6v1.6h-1.6zM135 113.5h1.6v1.6h-1.6zM135 116h1.6v1.6h-1.6zM135 119.5h1.6v1.6h-1.6zM135 122h1.6v1.6h-1.6zM135 124h1.6v1.6h-1.6zM135 126h1.6v1.6h-1.6zM135.5 111.5h1.6v1.6h-1.6zM135.5 117.5h1.6v1.6h-1.6zM135.5 118.5h1.6v1.6h-1.6zM135.5 122h1.6v1.6h-1.6zM135.5 125h1.6v1.6h-1.6zM136 101.5h1.6v1.6h-1.6zM136 112h1.6v1.6h-1.6zM136 116.5h1.6v1.6h-1.6zM136 118h1.6v1.6h-1.6zM136 118.5h1.6v1.6h-1.6zM136 119.5h1.6v1.6h-1.6zM136 121h1.6v1.6h-1.6zM136 121.5h1.6v1.6h-1.6zM136.5 119.5h1.6v1.6h-1.6zM136.5 122h1.6v1.6h-1.6zM137 115h1.6v1.6h-1.6zM137 119h1.6v1.6h-1.6zM137 120h1.6v1.6h-1.6zM137 124h1.6v1.6h-1.6zM137 127.5h1.6v1.6h-1.6zM137 129.5h1.6v1.6h-1.6zM137 130h1.6v1.6h-1.6zM137.5 113.5h1.6v1.6h-1.6zM137.5 120h1.6v1.6h-1.6zM137.5 120.5h1.6v1.6h-1.6zM137.5 127h1.6v1.6h-1.6zM138 116.5h1.6v1.6h-1.6zM138 122.5h1.6v1.6h-1.6zM138 126.5h1.6v1.6h-1.6zM138.5 113h1.6v1.6h-1.6zM138.5 121h1.6v1.6h-1.6zM138.5 124.5h1.6v1.6h-1.6zM138.5 125.5h1.6v1.6h-1.6zM138.5 130h1.6v1.6h-1.6zM139 109h1.6v1.6h-1.6zM139 115.5h1.6v1.6h-1.6zM139 119.5h1.6v1.6h-1.6zM139 130h1.6v1.6h-1.6zM139 131h1.6v1.6h-1.6zM139.5 120h1.6v1.6h-1.6zM139.5 125.5h1.6v1.6h-1.6zM139.5 127h1.6v1.6h-1.6zM139.5 129.5h1.6v1.6h-1.6zM139.5 131.5h1.6v1.6h-1.6zM140 110h1.6v1.6h-1.6zM140 123h1.6v1.6h-1.6zM140 126h1.6v1.6h-1.6zM140 130h1.6v1.6h-1.6zM140 131h1.6v1.6h-1.6zM140.5 115.5h1.6v1.6h-1.6zM140.5 122.5h1.6v1.6h-1.6zM140.5 125h1.6v1.6h-1.6zM140.5 126h1.6v1.6h-1.6zM140.5 129h1.6v1.6h-1.6zM140.5 131.5h1.6v1.6h-1.6zM141 125.5h1.6v1.6h-1.6zM141 126h1.6v1.6h-1.6zM141 127.5h1.6v1.6h-1.6zM141.5 117h1.6v1.6h-1.6zM141.5 124.5h1.6v1.6h-1.6zM141.5 129h1.6v1.6h-1.6zM141.5 129.5h1.6v1.6h-1.6zM142 112h1.6v1.6h-1.6zM142 123h1.6v1.6h-1.6zM142 126h1.6v1.6h-1.6zM142 128.5h1.6v1.6h-1.6zM142 131h1.6v1.6h-1.6zM142 133h1.6v1.6h-1.6zM142 134.5h1.6v1.6h-1.6zM142.5 124.5h1.6v1.6h-1.6zM142.5 125h1.6v1.6h-1.6zM142.5 126.5h1.6v1.6h-1.6zM142.5 127h1.6v1.6h-1.6zM142.5 128.5h1.6v1.6h-1.6zM142.5 132h1.6v1.6h-1.6zM143 109.5h1.6v1.6h-1.6zM143 116.5h1.6v1.6h-1.6zM143 118h1.6v1.6h-1.6zM143 127h1.6v1.6h-1.6zM143 127.5h1.6v1.6h-1.6zM143 128h1.6v1.6h-1.6zM143 130h1.6v1.6h-1.6zM143 130.5h1.6v1.6h-1.6zM143 132h1.6v1.6h-1.6zM143.5 124h1.6v1.6h-1.6zM143.5 125h1.6v1.6h-1.6zM144 127h1.6v1.6h-1.6zM144 129.5h1.6v1.6h-1.6zM144 134.5h1.6v1.6h-1.6zM144.5 109h1.6v1.6h-1.6zM144.5 118h1.6v1.6h-1.6zM144.5 124h1.6v1.6h-1.6zM144.5 126h1.6v1.6h-1.6zM144.5 127h1.6v1.6h-1.6zM144.5 128.5h1.6v1.6h-1.6zM144.5 130h1.6v1.6h-1.6zM144.5 131.5h1.6v1.6h-1.6zM144.5 132.5h1.6v1.6h-1.6zM145 125.5h1.6v1.6h-1.6zM145 127.5h1.6v1.6h-1.6zM145 128h1.6v1.6h-1.6zM145.5 125.5h1.6v1.6h-1.6zM145.5 127.5h1.6v1.6h-1.6zM145.5 130h1.6v1.6h-1.6zM145.5 134h1.6v1.6h-1.6zM146 124h1.6v1.6h-1.6zM146 126h1.6v1.6h-1.6zM146 127.5h1.6v1.6h-1.6zM146 128h1.6v1.6h-1.6zM146 130.5h1.6v1.6h-1.6zM146 131h1.6v1.6h-1.6zM146 132.5h1.6v1.6h-1.6zM146 134h1.6v1.6h-1.6zM146.5 110h1.6v1.6h-1.6zM146.5 111h1.6v1.6h-1.6zM146.5 121.5h1.6v1.6h-1.6zM146.5 124h1.6v1.6h-1.6zM146.5 125.5h1.6v1.6h-1.6zM146.5 128.5h1.6v1.6h-1.6zM146.5 132.5h1.6v1.6h-1.6zM146.5 133.5h1.6v1.6h-1.6zM147 117.5h1.6v1.6h-1.6zM147 125h1.6v1.6h-1.6zM147 129h1.6v1.6h-1.6zM147 130.5h1.6v1.6h-1.6zM147 134.5h1.6v1.6h-1.6zM147.5 118.5h1.6v1.6h-1.6zM147.5 123.5h1.6v1.6h-1.6zM148 120h1.6v1.6h-1.6zM148 122.5h1.6v1.6h-1.6zM148 126h1.6v1.6h-1.6zM148 127h1.6v1.6h-1.6zM148 128h1.6v1.6h-1.6zM148 128.5h1.6v1.6h-1.6zM148.5 125.5h1.6v1.6h-1.6zM148.5 126.5h1.6v1.6h-1.6zM148.5 129h1.6v1.6h-1.6zM148.5 130.5h1.6v1.6h-1.6zM148.5 134h1.6v1.6h-1.6zM148.5 135h1.6v1.6h-1.6zM149 108.5h1.6v1.6h-1.6zM149 116.5h1.6v1.6h-1.6zM149 117.5h1.6v1.6h-1.6zM149 124h1.6v1.6h-1.6zM149 127h1.6v1.6h-1.6zM149.5 123h1.6v1.6h-1.6zM149.5 126h1.6v1.6h-1.6zM149.5 127h1.6v1.6h-1.6zM149.5 128.5h1.6v1.6h-1.6zM149.5 129.5h1.6v1.6h-1.6zM149.5 134h1.6v1.6h-1.6zM149.5 135.5h1.6v1.6h-1.6zM150 104h1.6v1.6h-1.6zM150 110h1.6v1.6h-1.6zM150 122h1.6v1.6h-1.6zM150 125h1.6v1.6h-1.6zM150 130h1.6v1.6h-1.6zM150 132h1.6v1.6h-1.6zM150 133.5h1.6v1.6h-1.6zM150 136.5h1.6v1.6h-1.6zM150.5 109.5h1.6v1.6h-1.6zM150.5 126.5h1.6v1.6h-1.6zM150.5 127h1.6v1.6h-1.6zM150.5 134h1.6v1.6h-1.6zM151 107.5h1.6v1.6h-1.6zM151 116.5h1.6v1.6h-1.6zM151 127h1.6v1.6h-1.6zM151 127.5h1.6v1.6h-1.6zM151 129.5h1.6v1.6h-1.6zM151 131.5h1.6v1.6h-1.6zM151.5 118.5h1.6v1.6h-1.6zM151.5 123h1.6v1.6h-1.6zM151.5 124.5h1.6v1.6h-1.6zM151.5 126.5h1.6v1.6h-1.6zM152 103.5h1.6v1.6h-1.6zM152 108h1.6v1.6h-1.6zM152 112.5h1.6v1.6h-1.6zM152 118h1.6v1.6h-1.6zM152 123.5h1.6v1.6h-1.6zM152 125h1.6v1.6h-1.6zM152 126h1.6v1.6h-1.6zM152 126.5h1.6v1.6h-1.6zM152 128h1.6v1.6h-1.6zM152 129.5h1.6v1.6h-1.6zM152.5 124h1.6v1.6h-1.6zM152.5 129h1.6v1.6h-1.6zM152.5 129.5h1.6v1.6h-1.6zM152.5 131.5h1.6v1.6h-1.6zM153 126.5h1.6v1.6h-1.6zM153 128.5h1.6v1.6h-1.6zM153 131h1.6v1.6h-1.6zM153 131.5h1.6v1.6h-1.6zM153.5 109.5h1.6v1.6h-1.6zM153.5 128h1.6v1.6h-1.6zM154 121.5h1.6v1.6h-1.6zM154 127h1.6v1.6h-1.6zM154 128h1.6v1.6h-1.6zM154 133h1.6v1.6h-1.6zM154 135h1.6v1.6h-1.6zM154.5 105h1.6v1.6h-1.6zM154.5 113h1.6v1.6h-1.6zM154.5 115h1.6v1.6h-1.6zM154.5 125.5h1.6v1.6h-1.6zM154.5 126.5h1.6v1.6h-1.6zM154.5 127.5h1.6v1.6h-1.6zM154.5 134h1.6v1.6h-1.6zM155 118.5h1.6v1.6h-1.6zM155 125.5h1.6v1.6h-1.6zM155 134.5h1.6v1.6h-1.6zM155 135.5h1.6v1.6h-1.6zM155.5 105h1.6v1.6h-1.6zM155.5 108h1.6v1.6h-1.6zM155.5 128.5h1.6v1.6h-1.6zM155.5 129.5h1.6v1.6h-1.6zM155.5 131.5h1.6v1.6h-1.6zM155.5 132h1.6v1.6h-1.6zM155.5 134.5h1.6v1.6h-1.6zM155.5 137.5h1.6v1.6h-1.6zM156 105.5h1.6v1.6h-1.6zM156 125h1.6v1.6h-1.6zM156 127h1.6v1.6h-1.6zM156 134h1.6v1.6h-1.6zM156 136.5h1.6v1.6h-1.6zM156 137.5h1.6v1.6h-1.6zM156.5 124.5h1.6v1.6h-1.6zM156.5 125.5h1.6v1.6h-1.6zM156.5 126.5h1.6v1.6h-1.6zM156.5 130h1.6v1.6h-1.6zM156.5 137h1.6v1.6h-1.6zM157 110h1.6v1.6h-1.6zM157 112.5h1.6v1.6h-1.6zM157 123.5h1.6v1.6h-1.6zM157 125h1.6v1.6h-1.6zM157 127h1.6v1.6h-1.6zM157 131.5h1.6v1.6h-1.6zM157 132.5h1.6v1.6h-1.6zM157 133h1.6v1.6h-1.6zM157 133.5h1.6v1.6h-1.6zM157.5 120.5h1.6v1.6h-1.6zM157.5 126h1.6v1.6h-1.6zM157.5 126.5h1.6v1.6h-1.6zM157.5 128h1.6v1.6h-1.6zM158 125h1.6v1.6h-1.6zM158 127h1.6v1.6h-1.6zM158 128h1.6v1.6h-1.6zM158 132.5h1.6v1.6h-1.6zM158.5 110.5h1.6v1.6h-1.6zM158.5 122.5h1.6v1.6h-1.6zM158.5 125h1.6v1.6h-1.6zM158.5 128h1.6v1.6h-1.6zM158.5 130.5h1.6v1.6h-1.6zM158.5 131.5h1.6v1.6h-1.6zM158.5 132.5h1.6v1.6h-1.6zM159 122h1.6v1.6h-1.6zM159 122.5h1.6v1.6h-1.6zM159 125.5h1.6v1.6h-1.6zM159 126.5h1.6v1.6h-1.6zM159.5 107h1.6v1.6h-1.6zM159.5 129h1.6v1.6h-1.6zM159.5 130.5h1.6v1.6h-1.6zM159.5 132.5h1.6v1.6h-1.6zM159.5 134h1.6v1.6h-1.6zM159.5 134.5h1.6v1.6h-1.6zM159.5 136h1.6v1.6h-1.6zM160 106.5h1.6v1.6h-1.6zM160 110.5h1.6v1.6h-1.6zM160 119h1.6v1.6h-1.6zM160 119.5h1.6v1.6h-1.6zM160 127.5h1.6v1.6h-1.6zM160 131h1.6v1.6h-1.6zM160 137h1.6v1.6h-1.6zM160.5 124h1.6v1.6h-1.6zM160.5 128.5h1.6v1.6h-1.6zM160.5 129h1.6v1.6h-1.6zM160.5 131h1.6v1.6h-1.6zM161 124.5h1.6v1.6h-1.6zM161 125h1.6v1.6h-1.6zM161 128h1.6v1.6h-1.6zM161 132h1.6v1.6h-1.6zM161.5 115.5h1.6v1.6h-1.6zM161.5 122h1.6v1.6h-1.6zM161.5 123h1.6v1.6h-1.6zM161.5 124h1.6v1.6h-1.6zM161.5 129.5h1.6v1.6h-1.6zM161.5 132.5h1.6v1.6h-1.6zM162 125h1.6v1.6h-1.6zM162 126.5h1.6v1.6h-1.6zM162 127.5h1.6v1.6h-1.6zM162 128h1.6v1.6h-1.6zM162 129.5h1.6v1.6h-1.6zM162 131h1.6v1.6h-1.6zM162.5 126h1.6v1.6h-1.6zM162.5 127.5h1.6v1.6h-1.6zM162.5 131h1.6v1.6h-1.6zM162.5 134.5h1.6v1.6h-1.6zM162.5 136h1.6v1.6h-1.6zM163 124h1.6v1.6h-1.6zM163 127h1.6v1.6h-1.6zM163 130.5h1.6v1.6h-1.6zM163 133.5h1.6v1.6h-1.6zM163 134.5h1.6v1.6h-1.6zM163 135h1.6v1.6h-1.6zM163 137.5h1.6v1.6h-1.6zM163.5 119h1.6v1.6h-1.6zM163.5 122h1.6v1.6h-1.6zM163.5 128h1.6v1.6h-1.6zM163.5 139h1.6v1.6h-1.6zM164 126.5h1.6v1.6h-1.6zM164 128h1.6v1.6h-1.6zM164 130.5h1.6v1.6h-1.6zM164 131.5h1.6v1.6h-1.6zM164 133h1.6v1.6h-1.6zM164 137h1.6v1.6h-1.6zM164 138.5h1.6v1.6h-1.6zM164 139h1.6v1.6h-1.6zM164.5 115.5h1.6v1.6h-1.6zM164.5 126.5h1.6v1.6h-1.6zM164.5 128h1.6v1.6h-1.6zM164.5 130h1.6v1.6h-1.6zM164.5 133h1.6v1.6h-1.6zM164.5 133.5h1.6v1.6h-1.6zM165 117.5h1.6v1.6h-1.6zM165 127.5h1.6v1.6h-1.6zM165 129h1.6v1.6h-1.6zM165.5 109h1.6v1.6h-1.6zM165.5 123h1.6v1.6h-1.6zM165.5 126h1.6v1.6h-1.6zM165.5 127h1.6v1.6h-1.6zM166 127.5h1.6v1.6h-1.6zM166 129h1.6v1.6h-1.6zM166 132h1.6v1.6h-1.6zM166 134.5h1.6v1.6h-1.6zM166.5 121.5h1.6v1.6h-1.6zM166.5 124.5h1.6v1.6h-1.6zM166.5 126h1.6v1.6h-1.6zM166.5 127h1.6v1.6h-1.6zM166.5 128h1.6v1.6h-1.6zM166.5 128.5h1.6v1.6h-1.6zM166.5 129.5h1.6v1.6h-1.6zM166.5 132h1.6v1.6h-1.6zM167 125h1.6v1.6h-1.6zM167 127h1.6v1.6h-1.6zM167 128h1.6v1.6h-1.6zM167 130.5h1.6v1.6h-1.6zM167 131.5h1.6v1.6h-1.6zM167.5 106.5h1.6v1.6h-1.6zM167.5 113.5h1.6v1.6h-1.6zM167.5 126h1.6v1.6h-1.6zM168 122.5h1.6v1.6h-1.6zM168 124.5h1.6v1.6h-1.6zM168 125h1.6v1.6h-1.6zM168 127h1.6v1.6h-1.6zM168 130h1.6v1.6h-1.6zM168 131.5h1.6v1.6h-1.6zM168 132.5h1.6v1.6h-1.6zM168 133.5h1.6v1.6h-1.6zM168.5 123.5h1.6v1.6h-1.6zM168.5 126.5h1.6v1.6h-1.6zM168.5 127h1.6v1.6h-1.6zM169 123h1.6v1.6h-1.6zM169 129h1.6v1.6h-1.6zM169 129.5h1.6v1.6h-1.6zM169 132h1.6v1.6h-1.6zM169 132.5h1.6v1.6h-1.6zM169 134.5h1.6v1.6h-1.6zM169 135.5h1.6v1.6h-1.6zM169.5 121h1.6v1.6h-1.6zM169.5 132h1.6v1.6h-1.6zM170 121.5h1.6v1.6h-1.6zM170 122.5h1.6v1.6h-1.6zM170 127.5h1.6v1.6h-1.6zM170 128h1.6v1.6h-1.6zM170 132h1.6v1.6h-1.6zM170 134h1.6v1.6h-1.6zM170.5 113.5h1.6v1.6h-1.6zM170.5 121.5h1.6v1.6h-1.6zM170.5 130h1.6v1.6h-1.6zM170.5 130.5h1.6v1.6h-1.6zM170.5 132h1.6v1.6h-1.6zM171 117h1.6v1.6h-1.6zM171 125.5h1.6v1.6h-1.6zM171 127.5h1.6v1.6h-1.6zM171 128h1.6v1.6h-1.6zM171 129.5h1.6v1.6h-1.6zM171 132h1.6v1.6h-1.6zM171.5 105.5h1.6v1.6h-1.6zM171.5 123h1.6v1.6h-1.6zM171.5 125h1.6v1.6h-1.6zM171.5 128h1.6v1.6h-1.6zM171.5 129.5h1.6v1.6h-1.6zM171.5 131.5h1.6v1.6h-1.6zM172 118h1.6v1.6h-1.6zM172 127h1.6v1.6h-1.6zM172 129h1.6v1.6h-1.6zM172 132.5h1.6v1.6h-1.6zM172.5 115h1.6v1.6h-1.6zM172.5 123.5h1.6v1.6h-1.6zM172.5 125.5h1.6v1.6h-1.6zM172.5 130h1.6v1.6h-1.6zM173 116h1.6v1.6h-1.6zM173 128.5h1.6v1.6h-1.6zM173 132.5h1.6v1.6h-1.6zM173 133.5h1.6v1.6h-1.6zM173.5 109.5h1.6v1.6h-1.6zM173.5 124h1.6v1.6h-1.6zM173.5 128.5h1.6v1.6h-1.6zM174 118.5h1.6v1.6h-1.6zM174 123h1.6v1.6h-1.6zM174 123.5h1.6v1.6h-1.6zM174 125h1.6v1.6h-1.6zM174 126h1.6v1.6h-1.6zM174 126.5h1.6v1.6h-1.6zM174 127.5h1.6v1.6h-1.6zM174 130.5h1.6v1.6h-1.6zM174 131h1.6v1.6h-1.6zM174.5 105h1.6v1.6h-1.6zM174.5 120h1.6v1.6h-1.6zM174.5 123.5h1.6v1.6h-1.6zM174.5 124h1.6v1.6h-1.6zM174.5 130.5h1.6v1.6h-1.6zM174.5 135h1.6v1.6h-1.6zM175 126.5h1.6v1.6h-1.6zM175 127.5h1.6v1.6h-1.6zM175 128h1.6v1.6h-1.6zM175 131.5h1.6v1.6h-1.6zM175 133.5h1.6v1.6h-1.6zM175 134h1.6v1.6h-1.6zM175.5 108h1.6v1.6h-1.6zM175.5 120.5h1.6v1.6h-1.6zM175.5 121.5h1.6v1.6h-1.6zM175.5 124.5h1.6v1.6h-1.6zM175.5 126.5h1.6v1.6h-1.6zM175.5 127h1.6v1.6h-1.6zM176 107.5h1.6v1.6h-1.6zM176 123.5h1.6v1.6h-1.6zM176 127h1.6v1.6h-1.6zM176 128.5h1.6v1.6h-1.6zM176 135.5h1.6v1.6h-1.6zM176.5 128.5h1.6v1.6h-1.6zM176.5 132.5h1.6v1.6h-1.6zM176.5 137h1.6v1.6h-1.6zM177 127h1.6v1.6h-1.6zM177 129.5h1.6v1.6h-1.6zM177.5 123h1.6v1.6h-1.6zM177.5 124h1.6v1.6h-1.6zM177.5 124.5h1.6v1.6h-1.6zM177.5 125.5h1.6v1.6h-1.6zM177.5 126.5h1.6v1.6h-1.6zM177.5 127h1.6v1.6h-1.6zM177.5 131h1.6v1.6h-1.6zM177.5 133.5h1.6v1.6h-1.6zM177.5 135.5h1.6v1.6h-1.6zM178 119.5h1.6v1.6h-1.6zM178 121h1.6v1.6h-1.6zM178 125h1.6v1.6h-1.6zM178 126.5h1.6v1.6h-1.6zM178 128h1.6v1.6h-1.6zM178 130.5h1.6v1.6h-1.6zM178 134.5h1.6v1.6h-1.6zM178.5 121.5h1.6v1.6h-1.6zM178.5 131h1.6v1.6h-1.6zM178.5 133h1.6v1.6h-1.6zM179 128.5h1.6v1.6h-1.6zM179 129h1.6v1.6h-1.6zM179 130.5h1.6v1.6h-1.6zM179 131h1.6v1.6h-1.6zM179 134.5h1.6v1.6h-1.6zM179.5 113.5h1.6v1.6h-1.6zM179.5 115.5h1.6v1.6h-1.6zM179.5 120h1.6v1.6h-1.6zM179.5 129h1.6v1.6h-1.6zM179.5 130h1.6v1.6h-1.6zM179.5 134.5h1.6v1.6h-1.6zM180 115h1.6v1.6h-1.6zM180 123.5h1.6v1.6h-1.6zM180 130h1.6v1.6h-1.6zM180 131h1.6v1.6h-1.6zM180 132.5h1.6v1.6h-1.6zM180.5 130h1.6v1.6h-1.6zM180.5 132.5h1.6v1.6h-1.6zM181 106.5h1.6v1.6h-1.6zM181 124.5h1.6v1.6h-1.6zM181 126h1.6v1.6h-1.6zM181 128.5h1.6v1.6h-1.6zM181 131h1.6v1.6h-1.6zM181 132.5h1.6v1.6h-1.6zM181.5 104h1.6v1.6h-1.6zM181.5 118h1.6v1.6h-1.6zM181.5 122h1.6v1.6h-1.6zM181.5 127.5h1.6v1.6h-1.6zM181.5 128h1.6v1.6h-1.6zM182 104h1.6v1.6h-1.6zM182 123h1.6v1.6h-1.6zM182 125h1.6v1.6h-1.6zM182 126h1.6v1.6h-1.6zM182.5 118.5h1.6v1.6h-1.6zM182.5 127.5h1.6v1.6h-1.6zM182.5 128.5h1.6v1.6h-1.6zM183 121.5h1.6v1.6h-1.6zM183 128h1.6v1.6h-1.6zM183 130h1.6v1.6h-1.6zM183 131h1.6v1.6h-1.6zM183 131.5h1.6v1.6h-1.6zM183 134h1.6v1.6h-1.6zM183.5 123h1.6v1.6h-1.6zM183.5 125.5h1.6v1.6h-1.6zM183.5 127.5h1.6v1.6h-1.6zM183.5 131h1.6v1.6h-1.6zM184 105h1.6v1.6h-1.6zM184 114.5h1.6v1.6h-1.6zM184 127.5h1.6v1.6h-1.6zM184 128h1.6v1.6h-1.6zM184 130h1.6v1.6h-1.6zM184 132h1.6v1.6h-1.6zM184.5 102.5h1.6v1.6h-1.6zM184.5 104.5h1.6v1.6h-1.6zM184.5 125h1.6v1.6h-1.6zM184.5 126h1.6v1.6h-1.6zM184.5 130h1.6v1.6h-1.6zM184.5 133h1.6v1.6h-1.6zM185 103h1.6v1.6h-1.6zM185 120.5h1.6v1.6h-1.6zM185 126h1.6v1.6h-1.6zM185 128.5h1.6v1.6h-1.6zM185 132h1.6v1.6h-1.6zM185 137h1.6v1.6h-1.6zM185.5 126.5h1.6v1.6h-1.6zM185.5 127h1.6v1.6h-1.6zM185.5 128h1.6v1.6h-1.6zM185.5 133.5h1.6v1.6h-1.6zM185.5 136h1.6v1.6h-1.6zM186 102.5h1.6v1.6h-1.6zM186 109h1.6v1.6h-1.6zM186 122.5h1.6v1.6h-1.6zM186 129.5h1.6v1.6h-1.6zM186 131h1.6v1.6h-1.6zM186 132.5h1.6v1.6h-1.6zM186 135h1.6v1.6h-1.6zM186.5 111h1.6v1.6h-1.6zM186.5 118.5h1.6v1.6h-1.6zM186.5 119h1.6v1.6h-1.6zM186.5 122h1.6v1.6h-1.6zM186.5 125.5h1.6v1.6h-1.6zM186.5 129h1.6v1.6h-1.6zM186.5 130h1.6v1.6h-1.6zM186.5 131h1.6v1.6h-1.6zM187 122.5h1.6v1.6h-1.6zM187 123h1.6v1.6h-1.6zM187 123.5h1.6v1.6h-1.6zM187 126.5h1.6v1.6h-1.6zM187 127.5h1.6v1.6h-1.6zM187 129h1.6v1.6h-1.6zM187.5 107.5h1.6v1.6h-1.6zM187.5 123h1.6v1.6h-1.6zM187.5 126h1.6v1.6h-1.6zM187.5 127h1.6v1.6h-1.6zM187.5 128h1.6v1.6h-1.6zM188 117.5h1.6v1.6h-1.6zM188 125h1.6v1.6h-1.6zM188 126h1.6v1.6h-1.6zM188 127.5h1.6v1.6h-1.6zM188 128.5h1.6v1.6h-1.6zM188 129h1.6v1.6h-1.6zM188 129.5h1.6v1.6h-1.6zM188 131.5h1.6v1.6h-1.6zM188.5 102h1.6v1.6h-1.6zM188.5 123h1.6v1.6h-1.6zM188.5 132h1.6v1.6h-1.6zM188.5 133.5h1.6v1.6h-1.6zM189 117.5h1.6v1.6h-1.6zM189 123h1.6v1.6h-1.6zM189 126.5h1.6v1.6h-1.6zM189 131h1.6v1.6h-1.6zM189 134h1.6v1.6h-1.6zM189.5 81h1.6v1.6h-1.6zM189.5 111h1.6v1.6h-1.6zM189.5 112.5h1.6v1.6h-1.6zM189.5 124.5h1.6v1.6h-1.6zM189.5 131.5h1.6v1.6h-1.6zM190 124h1.6v1.6h-1.6zM190 124.5h1.6v1.6h-1.6zM190 126h1.6v1.6h-1.6zM190 127.5h1.6v1.6h-1.6zM190 128h1.6v1.6h-1.6zM190 129h1.6v1.6h-1.6zM190.5 115.5h1.6v1.6h-1.6zM190.5 122h1.6v1.6h-1.6zM190.5 122.5h1.6v1.6h-1.6zM190.5 123.5h1.6v1.6h-1.6zM190.5 125h1.6v1.6h-1.6zM190.5 126h1.6v1.6h-1.6zM190.5 127h1.6v1.6h-1.6zM191 120h1.6v1.6h-1.6zM191 127.5h1.6v1.6h-1.6zM191 128h1.6v1.6h-1.6zM191 132.5h1.6v1.6h-1.6zM191.5 120h1.6v1.6h-1.6zM191.5 125.5h1.6v1.6h-1.6zM191.5 128.5h1.6v1.6h-1.6zM191.5 131h1.6v1.6h-1.6zM192 112.5h1.6v1.6h-1.6zM192 118.5h1.6v1.6h-1.6zM192 120.5h1.6v1.6h-1.6zM192 122.5h1.6v1.6h-1.6zM192 127.5h1.6v1.6h-1.6zM192 129h1.6v1.6h-1.6zM192 130h1.6v1.6h-1.6zM192.5 123h1.6v1.6h-1.6zM192.5 124h1.6v1.6h-1.6zM192.5 128.5h1.6v1.6h-1.6zM192.5 129h1.6v1.6h-1.6zM193 109.5h1.6v1.6h-1.6zM193 112h1.6v1.6h-1.6zM193 123.5h1.6v1.6h-1.6zM193 124h1.6v1.6h-1.6zM193 131h1.6v1.6h-1.6zM193.5 114h1.6v1.6h-1.6zM193.5 124h1.6v1.6h-1.6zM193.5 125.5h1.6v1.6h-1.6zM193.5 127.5h1.6v1.6h-1.6zM194 106.5h1.6v1.6h-1.6zM194 121h1.6v1.6h-1.6zM194 125.5h1.6v1.6h-1.6zM194 126.5h1.6v1.6h-1.6zM194 131.5h1.6v1.6h-1.6zM194 132.5h1.6v1.6h-1.6zM194.5 105.5h1.6v1.6h-1.6zM194.5 126.5h1.6v1.6h-1.6zM194.5 127.5h1.6v1.6h-1.6zM195 128h1.6v1.6h-1.6zM195 129h1.6v1.6h-1.6zM195 129.5h1.6v1.6h-1.6zM195.5 115.5h1.6v1.6h-1.6zM195.5 124h1.6v1.6h-1.6zM195.5 127h1.6v1.6h-1.6zM195.5 128h1.6v1.6h-1.6zM195.5 128.5h1.6v1.6h-1.6zM195.5 129h1.6v1.6h-1.6zM195.5 131h1.6v1.6h-1.6zM195.5 134h1.6v1.6h-1.6zM196 118.5h1.6v1.6h-1.6zM196 124h1.6v1.6h-1.6zM196 124.5h1.6v1.6h-1.6zM196 126h1.6v1.6h-1.6zM196 127.5h1.6v1.6h-1.6zM196 129.5h1.6v1.6h-1.6zM196 133h1.6v1.6h-1.6zM196.5 109.5h1.6v1.6h-1.6zM196.5 112h1.6v1.6h-1.6zM196.5 119.5h1.6v1.6h-1.6zM196.5 128h1.6v1.6h-1.6zM196.5 132h1.6v1.6h-1.6zM196.5 133h1.6v1.6h-1.6zM196.5 133.5h1.6v1.6h-1.6zM197 122h1.6v1.6h-1.6zM197 126h1.6v1.6h-1.6zM197 128h1.6v1.6h-1.6zM197 131h1.6v1.6h-1.6zM197 134.5h1.6v1.6h-1.6zM197.5 108.5h1.6v1.6h-1.6zM197.5 122.5h1.6v1.6h-1.6zM197.5 123.5h1.6v1.6h-1.6zM197.5 135.5h1.6v1.6h-1.6zM198 117.5h1.6v1.6h-1.6zM198 119h1.6v1.6h-1.6zM198 122h1.6v1.6h-1.6zM198 124.5h1.6v1.6h-1.6zM198 127h1.6v1.6h-1.6zM198 127.5h1.6v1.6h-1.6zM198 128.5h1.6v1.6h-1.6zM198.5 121.5h1.6v1.6h-1.6zM198.5 123h1.6v1.6h-1.6zM198.5 124.5h1.6v1.6h-1.6zM199 122.5h1.6v1.6h-1.6zM199 123.5h1.6v1.6h-1.6zM199 125h1.6v1.6h-1.6zM199 126h1.6v1.6h-1.6zM199 127.5h1.6v1.6h-1.6zM199.5 116h1.6v1.6h-1.6zM199.5 121.5h1.6v1.6h-1.6zM199.5 124h1.6v1.6h-1.6zM199.5 125.5h1.6v1.6h-1.6zM200 117h1.6v1.6h-1.6zM200 123h1.6v1.6h-1.6zM200 126h1.6v1.6h-1.6zM200 128h1.6v1.6h-1.6zM200 130h1.6v1.6h-1.6zM200 131.5h1.6v1.6h-1.6zM200 133h1.6v1.6h-1.6zM200.5 118h1.6v1.6h-1.6zM200.5 122.5h1.6v1.6h-1.6zM200.5 123h1.6v1.6h-1.6zM200.5 125.5h1.6v1.6h-1.6zM200.5 127h1.6v1.6h-1.6zM200.5 129h1.6v1.6h-1.6zM200.5 130.5h1.6v1.6h-1.6zM200.5 132h1.6v1.6h-1.6zM201 124.5h1.6v1.6h-1.6zM201.5 123.5h1.6v1.6h-1.6zM201.5 125.5h1.6v1.6h-1.6zM201.5 127h1.6v1.6h-1.6zM201.5 128.5h1.6v1.6h-1.6zM201.5 130h1.6v1.6h-1.6zM202 121.5h1.6v1.6h-1.6zM202 124h1.6v1.6h-1.6zM202 127.5h1.6v1.6h-1.6zM202 128h1.6v1.6h-1.6zM202.5 113.5h1.6v1.6h-1.6zM202.5 119.5h1.6v1.6h-1.6zM202.5 120h1.6v1.6h-1.6zM202.5 123h1.6v1.6h-1.6zM202.5 126h1.6v1.6h-1.6zM202.5 130h1.6v1.6h-1.6zM202.5 130.5h1.6v1.6h-1.6zM203 107h1.6v1.6h-1.6zM203 118h1.6v1.6h-1.6zM203 120h1.6v1.6h-1.6zM203 121.5h1.6v1.6h-1.6zM203 129h1.6v1.6h-1.6zM203.5 113.5h1.6v1.6h-1.6zM203.5 123h1.6v1.6h-1.6zM203.5 124h1.6v1.6h-1.6zM203.5 126.5h1.6v1.6h-1.6zM203.5 127h1.6v1.6h-1.6zM203.5 129.5h1.6v1.6h-1.6zM204 111h1.6v1.6h-1.6zM204 117h1.6v1.6h-1.6zM204 118.5h1.6v1.6h-1.6zM204 122h1.6v1.6h-1.6zM204 124h1.6v1.6h-1.6zM204 126.5h1.6v1.6h-1.6zM204.5 120h1.6v1.6h-1.6zM204.5 123.5h1.6v1.6h-1.6zM204.5 125h1.6v1.6h-1.6zM204.5 126.5h1.6v1.6h-1.6zM205 114h1.6v1.6h-1.6zM205 118.5h1.6v1.6h-1.6zM205 121.5h1.6v1.6h-1.6zM205 125.5h1.6v1.6h-1.6zM205 130.5h1.6v1.6h-1.6zM205.5 113.5h1.6v1.6h-1.6zM205.5 117h1.6v1.6h-1.6zM205.5 120.5h1.6v1.6h-1.6zM205.5 125h1.6v1.6h-1.6zM205.5 125.5h1.6v1.6h-1.6zM205.5 129h1.6v1.6h-1.6zM205.5 130h1.6v1.6h-1.6zM206 104.5h1.6v1.6h-1.6zM206 115.5h1.6v1.6h-1.6zM206 119.5h1.6v1.6h-1.6zM206 125.5h1.6v1.6h-1.6zM206 127.5h1.6v1.6h-1.6zM206 129.5h1.6v1.6h-1.6zM206.5 119h1.6v1.6h-1.6zM206.5 125h1.6v1.6h-1.6zM206.5 126.5h1.6v1.6h-1.6zM206.5 127.5h1.6v1.6h-1.6zM207 110.5h1.6v1.6h-1.6zM207 121.5h1.6v1.6h-1.6zM207 122h1.6v1.6h-1.6zM207 124.5h1.6v1.6h-1.6zM207 126.5h1.6v1.6h-1.6zM207 127h1.6v1.6h-1.6zM207 127.5h1.6v1.6h-1.6zM207 128.5h1.6v1.6h-1.6zM207.5 103h1.6v1.6h-1.6zM207.5 119h1.6v1.6h-1.6zM207.5 119.5h1.6v1.6h-1.6zM207.5 122.5h1.6v1.6h-1.6zM207.5 127h1.6v1.6h-1.6zM208 111h1.6v1.6h-1.6zM208 120h1.6v1.6h-1.6zM208 121.5h1.6v1.6h-1.6zM208 122h1.6v1.6h-1.6zM208 125.5h1.6v1.6h-1.6zM208.5 113.5h1.6v1.6h-1.6zM208.5 119h1.6v1.6h-1.6zM208.5 120.5h1.6v1.6h-1.6zM208.5 123h1.6v1.6h-1.6zM208.5 123.5h1.6v1.6h-1.6zM209 116.5h1.6v1.6h-1.6zM209 119h1.6v1.6h-1.6zM209 119.5h1.6v1.6h-1.6zM209.5 111.5h1.6v1.6h-1.6zM209.5 118h1.6v1.6h-1.6zM209.5 121.5h1.6v1.6h-1.6zM210 108.5h1.6v1.6h-1.6zM210 115.5h1.6v1.6h-1.6zM210 117h1.6v1.6h-1.6zM210 117.5h1.6v1.6h-1.6zM210 119.5h1.6v1.6h-1.6zM210 120h1.6v1.6h-1.6zM210 121h1.6v1.6h-1.6zM210 123.5h1.6v1.6h-1.6zM210.5 101.5h1.6v1.6h-1.6zM210.5 115h1.6v1.6h-1.6zM210.5 118h1.6v1.6h-1.6zM210.5 121h1.6v1.6h-1.6zM210.5 123.5h1.6v1.6h-1.6zM211 122.5h1.6v1.6h-1.6zM211 126h1.6v1.6h-1.6zM211 127h1.6v1.6h-1.6zM211.5 103.5h1.6v1.6h-1.6zM211.5 116h1.6v1.6h-1.6zM211.5 118h1.6v1.6h-1.6zM211.5 119h1.6v1.6h-1.6zM211.5 124.5h1.6v1.6h-1.6zM211.5 126h1.6v1.6h-1.6zM212 126h1.6v1.6h-1.6zM212.5 117.5h1.6v1.6h-1.6zM212.5 119.5h1.6v1.6h-1.6zM212.5 120h1.6v1.6h-1.6zM212.5 122.5h1.6v1.6h-1.6zM212.5 123h1.6v1.6h-1.6zM212.5 124h1.6v1.6h-1.6zM212.5 127.5h1.6v1.6h-1.6zM213 113.5h1.6v1.6h-1.6zM213 120h1.6v1.6h-1.6zM213 120.5h1.6v1.6h-1.6zM213 125h1.6v1.6h-1.6zM213.5 92h1.6v1.6h-1.6zM213.5 119h1.6v1.6h-1.6zM213.5 120.5h1.6v1.6h-1.6zM213.5 128h1.6v1.6h-1.6z" fill="#00007f"/>
<line x1="43.5" y1="47.6" x2="217" y2="47.6" stroke="#999" stroke-width="1.3" stroke-dasharray="4.1 2.65"/>
<line x1="42.5" y1="12.68" x2="42.5" y2="149" stroke="#222" stroke-width="1"/>
<line x1="38.5" y1="149" x2="42.5" y2="149" stroke="#222" stroke-width="1"/>
<text x="33.8" y="153" font-size="11" text-anchor="end" class="h">0</text>
<text x="33.8" y="153" font-size="11" text-anchor="end" class="k">0</text>
<line x1="38.5" y1="114.92" x2="42.5" y2="114.92" stroke="#222" stroke-width="1"/>
<text x="33.8" y="118.92" font-size="11" text-anchor="end" class="h">2</text>
<text x="33.8" y="118.92" font-size="11" text-anchor="end" class="k">2</text>
<line x1="38.5" y1="80.84" x2="42.5" y2="80.84" stroke="#222" stroke-width="1"/>
<text x="33.8" y="84.84" font-size="11" text-anchor="end" class="h">4</text>
<text x="33.8" y="84.84" font-size="11" text-anchor="end" class="k">4</text>
<line x1="38.5" y1="46.76" x2="42.5" y2="46.76" stroke="#222" stroke-width="1"/>
<text x="33.8" y="50.76" font-size="11" text-anchor="end" class="h">6</text>
<text x="33.8" y="50.76" font-size="11" text-anchor="end" class="k">6</text>
<line x1="38.5" y1="12.68" x2="42.5" y2="12.68" stroke="#222" stroke-width="1"/>
<text x="33.8" y="16.68" font-size="11" text-anchor="end" class="h">8</text>
<text x="33.8" y="16.68" font-size="11" text-anchor="end" class="k">8</text>
<line x1="46.9" y1="150" x2="46.9" y2="154" stroke="#333" stroke-width="1.4"/>
<text x="46.9" y="169" font-size="11" text-anchor="middle">0</text>
<line x1="72.35" y1="150" x2="72.35" y2="154" stroke="#333" stroke-width="1.4"/>
<text x="72.35" y="169" font-size="11" text-anchor="middle">10</text>
<line x1="97.8" y1="150" x2="97.8" y2="154" stroke="#333" stroke-width="1.4"/>
<text x="97.8" y="169" font-size="11" text-anchor="middle">20</text>
<line x1="123.25" y1="150" x2="123.25" y2="154" stroke="#333" stroke-width="1.4"/>
<text x="123.25" y="169" font-size="11" text-anchor="middle">30</text>
<line x1="148.7" y1="150" x2="148.7" y2="154" stroke="#333" stroke-width="1.4"/>
<text x="148.7" y="169" font-size="11" text-anchor="middle">40</text>
<line x1="174.15" y1="150" x2="174.15" y2="154" stroke="#333" stroke-width="1.4"/>
<text x="174.15" y="169" font-size="11" text-anchor="middle">50</text>
<line x1="199.6" y1="150" x2="199.6" y2="154" stroke="#333" stroke-width="1.4"/>
<text x="199.6" y="169" font-size="11" text-anchor="middle">60</text>
<text x="123" y="186.2" font-size="11.15" text-anchor="middle">Chromosome D08 (Mb)</text>
<text x="126" y="19.5" font-size="11" text-anchor="middle">LP</text>
<line x1="54" y1="7" x2="54" y2="15" stroke="#000" stroke-width="1.8"/>
<path d="M50 14.5L58 14.5L54 19.5Z" fill="#000"/>
<text x="10" y="82.84" font-size="11" text-anchor="middle" transform="rotate(-90 10 82.84)" class="h">−log<tspan font-size="7.9" dy="3">10</tspan><tspan dy="-3">(</tspan><tspan font-style="italic">P</tspan>)</text>
<text x="10" y="82.84" font-size="11" text-anchor="middle" transform="rotate(-90 10 82.84)" class="k">−log<tspan font-size="7.9" dy="3">10</tspan><tspan dy="-3">(</tspan><tspan font-style="italic">P</tspan>)</text>
<path d="M45.5 339.8L45.5 309.37L46.5 309.37L46.5 317.77L47.5 317.77L47.5 309.15L48.5 309.15L48.5 310.91L49.5 310.91L49.5 308.42L50.5 308.42L50.5 305.51L51.5 305.51L51.5 295.67L52.5 295.67L52.5 283.25L53.5 283.25L53.5 278.13L54.5 278.13L54.5 275.86L55.5 275.86L55.5 278.62L56.5 278.62L56.5 280.06L57.5 280.06L57.5 285.68L58.5 285.68L58.5 297.74L59.5 297.74L59.5 308.97L60.5 308.97L60.5 310.78L61.5 310.78L61.5 308.26L62.5 308.26L62.5 313.89L63.5 313.89L63.5 311.32L64.5 311.32L64.5 313.28L65.5 313.28L65.5 315.44L66.5 315.44L66.5 316.28L67.5 316.28L67.5 315.08L68.5 315.08L68.5 311.03L69.5 311.03L69.5 314.05L70.5 314.05L70.5 315.3L71.5 315.3L71.5 317.94L72.5 317.94L72.5 319.46L73.5 319.46L73.5 319.85L74.5 319.85L74.5 320.22L75.5 320.22L75.5 322.67L76.5 322.67L76.5 327.23L77.5 327.23L77.5 326.88L78.5 326.88L78.5 326.57L79.5 326.57L79.5 327.62L80.5 327.62L80.5 326.28L81.5 326.28L81.5 330.14L82.5 330.14L82.5 329.59L83.5 329.59L83.5 329.29L84.5 329.29L84.5 315.99L85.5 315.99L85.5 315.47L86.5 315.47L86.5 310.95L87.5 310.95L87.5 313.07L88.5 313.07L88.5 314.41L89.5 314.41L89.5 313.62L90.5 313.62L90.5 312.54L91.5 312.54L91.5 314.8L92.5 314.8L92.5 312.22L93.5 312.22L93.5 312.08L94.5 312.08L94.5 311.66L95.5 311.66L95.5 315.4L96.5 315.4L96.5 313.09L97.5 313.09L97.5 312.1L98.5 312.1L98.5 313.55L99.5 313.55L99.5 316L100.5 316L100.5 312.45L101.5 312.45L101.5 312.94L102.5 312.94L102.5 315.23L103.5 315.23L103.5 318.41L104.5 318.41L104.5 329.37L105.5 329.37L105.5 324.78L106.5 324.78L106.5 329.86L107.5 329.86L107.5 330.14L108.5 330.14L108.5 321.24L109.5 321.24L109.5 312.77L110.5 312.77L110.5 309.38L111.5 309.38L111.5 313.84L112.5 313.84L112.5 312.41L113.5 312.41L113.5 314.6L114.5 314.6L114.5 312.28L115.5 312.28L115.5 312.41L116.5 312.41L116.5 314.05L117.5 314.05L117.5 311.17L118.5 311.17L118.5 312.16L119.5 312.16L119.5 314.47L120.5 314.47L120.5 316.41L121.5 316.41L121.5 316.43L122.5 316.43L122.5 313.68L123.5 313.68L123.5 309.77L124.5 309.77L124.5 307.53L125.5 307.53L125.5 314.07L126.5 314.07L126.5 313.45L127.5 313.45L127.5 310.69L128.5 310.69L128.5 313.27L129.5 313.27L129.5 313.58L130.5 313.58L130.5 318.47L131.5 318.47L131.5 316.24L132.5 316.24L132.5 314.19L133.5 314.19L133.5 317.92L134.5 317.92L134.5 317.29L135.5 317.29L135.5 314.77L136.5 314.77L136.5 315.17L137.5 315.17L137.5 314.53L138.5 314.53L138.5 311.82L139.5 311.82L139.5 315.88L140.5 315.88L140.5 317.73L141.5 317.73L141.5 316.39L142.5 316.39L142.5 320.08L143.5 320.08L143.5 315.75L144.5 315.75L144.5 314.61L145.5 314.61L145.5 317.64L146.5 317.64L146.5 315.56L147.5 315.56L147.5 319.16L148.5 319.16L148.5 320.94L149.5 320.94L149.5 315.52L150.5 315.52L150.5 321.14L151.5 321.14L151.5 319.2L152.5 319.2L152.5 319.96L153.5 319.96L153.5 322.47L154.5 322.47L154.5 317.85L155.5 317.85L155.5 320.55L156.5 320.55L156.5 321.16L157.5 321.16L157.5 320.95L158.5 320.95L158.5 319.7L159.5 319.7L159.5 324.6L160.5 324.6L160.5 321.16L161.5 321.16L161.5 317.64L162.5 317.64L162.5 322.09L163.5 322.09L163.5 318.32L164.5 318.32L164.5 319.34L165.5 319.34L165.5 321.35L166.5 321.35L166.5 319.97L167.5 319.97L167.5 320.21L168.5 320.21L168.5 316.26L169.5 316.26L169.5 316.13L170.5 316.13L170.5 322.41L171.5 322.41L171.5 321.2L172.5 321.2L172.5 319.28L173.5 319.28L173.5 317.16L174.5 317.16L174.5 320.11L175.5 320.11L175.5 317.77L176.5 317.77L176.5 321.74L177.5 321.74L177.5 323.77L178.5 323.77L178.5 314.8L179.5 314.8L179.5 320.4L180.5 320.4L180.5 321.6L181.5 321.6L181.5 315.62L182.5 315.62L182.5 315.91L183.5 315.91L183.5 317.5L184.5 317.5L184.5 312.09L185.5 312.09L185.5 317.7L186.5 317.7L186.5 315.86L187.5 315.86L187.5 313.89L188.5 313.89L188.5 315.16L189.5 315.16L189.5 311.72L190.5 311.72L190.5 316.31L191.5 316.31L191.5 315.87L192.5 315.87L192.5 308.99L193.5 308.99L193.5 311.32L194.5 311.32L194.5 308.6L195.5 308.6L195.5 302.99L196.5 302.99L196.5 306.04L197.5 306.04L197.5 308.44L198.5 308.44L198.5 310.86L199.5 310.86L199.5 312.78L200.5 312.78L200.5 318.07L201.5 318.07L201.5 316.64L202.5 316.64L202.5 313.57L203.5 313.57L203.5 319.11L204.5 319.11L204.5 313.09L205.5 313.09L205.5 313.47L206.5 313.47L206.5 315.49L207.5 315.49L207.5 312.71L208.5 312.71L208.5 309.52L209.5 309.52L209.5 313.15L210.5 313.15L210.5 313.32L211.5 313.32L211.5 313.16L212.5 313.16L212.5 316.59L213.5 316.59L213.6 339.8Z" fill="#00007f"/>
<path d="M45 307.5h1.6v1.6h-1.6zM45.5 299h1.6v1.6h-1.6zM45.5 303h1.6v1.6h-1.6zM45.5 307h1.6v1.6h-1.6zM45.5 309.5h1.6v1.6h-1.6zM46 306.5h1.6v1.6h-1.6zM46 308h1.6v1.6h-1.6zM46 317.5h1.6v1.6h-1.6zM46 318.5h1.6v1.6h-1.6zM46.5 301h1.6v1.6h-1.6zM46.5 302.5h1.6v1.6h-1.6zM46.5 310.5h1.6v1.6h-1.6zM46.5 311.5h1.6v1.6h-1.6zM46.5 313.5h1.6v1.6h-1.6zM46.5 314h1.6v1.6h-1.6zM46.5 314.5h1.6v1.6h-1.6zM46.5 319.5h1.6v1.6h-1.6zM47 305.5h1.6v1.6h-1.6zM47 308.5h1.6v1.6h-1.6zM47 309.5h1.6v1.6h-1.6zM47 310.5h1.6v1.6h-1.6zM47 317.5h1.6v1.6h-1.6zM47.5 301.5h1.6v1.6h-1.6zM47.5 304h1.6v1.6h-1.6zM47.5 305.5h1.6v1.6h-1.6zM47.5 306.5h1.6v1.6h-1.6zM47.5 307.5h1.6v1.6h-1.6zM48 297h1.6v1.6h-1.6zM48 305.5h1.6v1.6h-1.6zM48 308h1.6v1.6h-1.6zM48 308.5h1.6v1.6h-1.6zM48.5 303.5h1.6v1.6h-1.6zM48.5 304.5h1.6v1.6h-1.6zM48.5 309.5h1.6v1.6h-1.6zM48.5 311.5h1.6v1.6h-1.6zM49 303h1.6v1.6h-1.6zM49 308.5h1.6v1.6h-1.6zM49.5 296.5h1.6v1.6h-1.6zM49.5 303h1.6v1.6h-1.6zM49.5 304h1.6v1.6h-1.6zM49.5 308h1.6v1.6h-1.6zM49.5 311.5h1.6v1.6h-1.6zM50 291.5h1.6v1.6h-1.6zM50 294h1.6v1.6h-1.6zM50 296.5h1.6v1.6h-1.6zM50 302.5h1.6v1.6h-1.6zM50 303.5h1.6v1.6h-1.6zM50 306.5h1.6v1.6h-1.6zM50 307h1.6v1.6h-1.6zM50.5 297h1.6v1.6h-1.6zM50.5 298h1.6v1.6h-1.6zM50.5 301h1.6v1.6h-1.6zM50.5 302h1.6v1.6h-1.6zM50.5 303h1.6v1.6h-1.6zM50.5 303.5h1.6v1.6h-1.6zM50.5 304h1.6v1.6h-1.6zM51 289h1.6v1.6h-1.6zM51 292h1.6v1.6h-1.6zM51 295h1.6v1.6h-1.6zM51.5 275.5h1.6v1.6h-1.6zM51.5 289.5h1.6v1.6h-1.6zM51.5 291.5h1.6v1.6h-1.6zM51.5 293.5h1.6v1.6h-1.6zM51.5 295h1.6v1.6h-1.6zM51.5 296h1.6v1.6h-1.6zM51.5 298.5h1.6v1.6h-1.6zM51.5 305h1.6v1.6h-1.6zM51.5 306h1.6v1.6h-1.6zM52 258.5h1.6v1.6h-1.6zM52 260h1.6v1.6h-1.6zM52 283.5h1.6v1.6h-1.6zM52 297h1.6v1.6h-1.6zM52.5 281.5h1.6v1.6h-1.6zM52.5 283.5h1.6v1.6h-1.6zM53 253.5h1.6v1.6h-1.6zM53 271h1.6v1.6h-1.6zM53 273.5h1.6v1.6h-1.6zM53 279h1.6v1.6h-1.6zM53 281h1.6v1.6h-1.6zM53 281.5h1.6v1.6h-1.6zM53 282h1.6v1.6h-1.6zM53 283h1.6v1.6h-1.6zM53.5 270.5h1.6v1.6h-1.6zM53.5 272.5h1.6v1.6h-1.6zM53.5 278h1.6v1.6h-1.6zM54 270h1.6v1.6h-1.6zM54 273.5h1.6v1.6h-1.6zM54 276.5h1.6v1.6h-1.6zM54 277h1.6v1.6h-1.6zM54 279.5h1.6v1.6h-1.6zM54.5 217h1.6v1.6h-1.6zM54.5 221h1.6v1.6h-1.6zM54.5 223.5h1.6v1.6h-1.6zM54.5 228h1.6v1.6h-1.6zM54.5 235h1.6v1.6h-1.6zM54.5 245.5h1.6v1.6h-1.6zM54.5 250.5h1.6v1.6h-1.6zM54.5 259h1.6v1.6h-1.6zM54.5 261h1.6v1.6h-1.6zM54.5 263.5h1.6v1.6h-1.6zM54.5 266h1.6v1.6h-1.6zM54.5 268h1.6v1.6h-1.6zM54.5 270.5h1.6v1.6h-1.6zM54.5 276h1.6v1.6h-1.6zM54.5 277.5h1.6v1.6h-1.6zM54.5 279h1.6v1.6h-1.6zM55 214h1.6v1.6h-1.6zM55 230h1.6v1.6h-1.6zM55 237.5h1.6v1.6h-1.6zM55 238.5h1.6v1.6h-1.6zM55 244.5h1.6v1.6h-1.6zM55 245h1.6v1.6h-1.6zM55 250h1.6v1.6h-1.6zM55 254h1.6v1.6h-1.6zM55 261h1.6v1.6h-1.6zM55 265h1.6v1.6h-1.6zM55 268h1.6v1.6h-1.6zM55 268.5h1.6v1.6h-1.6zM55 273.5h1.6v1.6h-1.6zM55.5 214.5h1.6v1.6h-1.6zM55.5 215.5h1.6v1.6h-1.6zM55.5 222.5h1.6v1.6h-1.6zM55.5 242.5h1.6v1.6h-1.6zM55.5 245.5h1.6v1.6h-1.6zM55.5 254h1.6v1.6h-1.6zM55.5 256.5h1.6v1.6h-1.6zM55.5 257h1.6v1.6h-1.6zM55.5 257.5h1.6v1.6h-1.6zM55.5 262h1.6v1.6h-1.6zM55.5 263.5h1.6v1.6h-1.6zM55.5 265.5h1.6v1.6h-1.6zM55.5 268h1.6v1.6h-1.6zM55.5 268.5h1.6v1.6h-1.6zM55.5 270h1.6v1.6h-1.6zM55.5 270.5h1.6v1.6h-1.6zM55.5 271.5h1.6v1.6h-1.6zM55.5 276h1.6v1.6h-1.6zM55.5 280h1.6v1.6h-1.6zM56 243h1.6v1.6h-1.6zM56 249h1.6v1.6h-1.6zM56 259h1.6v1.6h-1.6zM56 268.5h1.6v1.6h-1.6zM56 270.5h1.6v1.6h-1.6zM56 272h1.6v1.6h-1.6zM56 273h1.6v1.6h-1.6zM56 274.5h1.6v1.6h-1.6zM56 278h1.6v1.6h-1.6zM56 278.5h1.6v1.6h-1.6zM56 280h1.6v1.6h-1.6zM56.5 243.5h1.6v1.6h-1.6zM56.5 252h1.6v1.6h-1.6zM56.5 261h1.6v1.6h-1.6zM56.5 263.5h1.6v1.6h-1.6zM56.5 272.5h1.6v1.6h-1.6zM56.5 274.5h1.6v1.6h-1.6zM56.5 275h1.6v1.6h-1.6zM56.5 277.5h1.6v1.6h-1.6zM56.5 279.5h1.6v1.6h-1.6zM57 259.5h1.6v1.6h-1.6zM57 274.5h1.6v1.6h-1.6zM57 277.5h1.6v1.6h-1.6zM57.5 270h1.6v1.6h-1.6zM57.5 277h1.6v1.6h-1.6zM57.5 278.5h1.6v1.6h-1.6zM57.5 283h1.6v1.6h-1.6zM57.5 284h1.6v1.6h-1.6zM57.5 286h1.6v1.6h-1.6zM58 269.5h1.6v1.6h-1.6zM58 281h1.6v1.6h-1.6zM58 294h1.6v1.6h-1.6zM58 298h1.6v1.6h-1.6zM58.5 269h1.6v1.6h-1.6zM58.5 290h1.6v1.6h-1.6zM58.5 292h1.6v1.6h-1.6zM58.5 293h1.6v1.6h-1.6zM58.5 295.5h1.6v1.6h-1.6zM58.5 296.5h1.6v1.6h-1.6zM58.5 299.5h1.6v1.6h-1.6zM59 274h1.6v1.6h-1.6zM59 280.5h1.6v1.6h-1.6zM59 284h1.6v1.6h-1.6zM59 297h1.6v1.6h-1.6zM59 310h1.6v1.6h-1.6zM59.5 297.5h1.6v1.6h-1.6zM59.5 299h1.6v1.6h-1.6zM59.5 305h1.6v1.6h-1.6zM59.5 308h1.6v1.6h-1.6zM60 284.5h1.6v1.6h-1.6zM60 291.5h1.6v1.6h-1.6zM60 300.5h1.6v1.6h-1.6zM60 302.5h1.6v1.6h-1.6zM60 304.5h1.6v1.6h-1.6zM60 306h1.6v1.6h-1.6zM60 306.5h1.6v1.6h-1.6zM60 307h1.6v1.6h-1.6zM60 309h1.6v1.6h-1.6zM60 311h1.6v1.6h-1.6zM60.5 291.5h1.6v1.6h-1.6zM60.5 300.5h1.6v1.6h-1.6zM60.5 303.5h1.6v1.6h-1.6zM60.5 306.5h1.6v1.6h-1.6zM60.5 308.5h1.6v1.6h-1.6zM60.5 309h1.6v1.6h-1.6zM61 294h1.6v1.6h-1.6zM61 304.5h1.6v1.6h-1.6zM61 305h1.6v1.6h-1.6zM61 310h1.6v1.6h-1.6zM61.5 290h1.6v1.6h-1.6zM61.5 303.5h1.6v1.6h-1.6zM61.5 311.5h1.6v1.6h-1.6zM62 304h1.6v1.6h-1.6zM62 307.5h1.6v1.6h-1.6zM62 309h1.6v1.6h-1.6zM62 309.5h1.6v1.6h-1.6zM62 313h1.6v1.6h-1.6zM62 315h1.6v1.6h-1.6zM62.5 303h1.6v1.6h-1.6zM62.5 303.5h1.6v1.6h-1.6zM62.5 305.5h1.6v1.6h-1.6zM62.5 307h1.6v1.6h-1.6zM62.5 307.5h1.6v1.6h-1.6zM63 304.5h1.6v1.6h-1.6zM63 305h1.6v1.6h-1.6zM63 305.5h1.6v1.6h-1.6zM63 306h1.6v1.6h-1.6zM63 308h1.6v1.6h-1.6zM63 309h1.6v1.6h-1.6zM63 311h1.6v1.6h-1.6zM63.5 301.5h1.6v1.6h-1.6zM63.5 308h1.6v1.6h-1.6zM63.5 309h1.6v1.6h-1.6zM63.5 309.5h1.6v1.6h-1.6zM63.5 310h1.6v1.6h-1.6zM64.5 299.5h1.6v1.6h-1.6zM64.5 303.5h1.6v1.6h-1.6zM64.5 306h1.6v1.6h-1.6zM64.5 312h1.6v1.6h-1.6zM64.5 315h1.6v1.6h-1.6zM65 308h1.6v1.6h-1.6zM65 311h1.6v1.6h-1.6zM65 314h1.6v1.6h-1.6zM65 315h1.6v1.6h-1.6zM65.5 302.5h1.6v1.6h-1.6zM65.5 309h1.6v1.6h-1.6zM66 304.5h1.6v1.6h-1.6zM66 309.5h1.6v1.6h-1.6zM66 312h1.6v1.6h-1.6zM66 312.5h1.6v1.6h-1.6zM66 314h1.6v1.6h-1.6zM66 314.5h1.6v1.6h-1.6zM66 315h1.6v1.6h-1.6zM66.5 314.5h1.6v1.6h-1.6zM67 291h1.6v1.6h-1.6zM67 300h1.6v1.6h-1.6zM67 306.5h1.6v1.6h-1.6zM67 307.5h1.6v1.6h-1.6zM67 311.5h1.6v1.6h-1.6zM67 315h1.6v1.6h-1.6zM67.5 305.5h1.6v1.6h-1.6zM67.5 306.5h1.6v1.6h-1.6zM67.5 307h1.6v1.6h-1.6zM67.5 311h1.6v1.6h-1.6zM67.5 313h1.6v1.6h-1.6zM67.5 315h1.6v1.6h-1.6zM68 293.5h1.6v1.6h-1.6zM68 308h1.6v1.6h-1.6zM68 309.5h1.6v1.6h-1.6zM68 310h1.6v1.6h-1.6zM68 312.5h1.6v1.6h-1.6zM68.5 284.5h1.6v1.6h-1.6zM68.5 305h1.6v1.6h-1.6zM68.5 305.5h1.6v1.6h-1.6zM68.5 307h1.6v1.6h-1.6zM68.5 308h1.6v1.6h-1.6zM68.5 309.5h1.6v1.6h-1.6zM68.5 312h1.6v1.6h-1.6zM69 288.5h1.6v1.6h-1.6zM69 290.5h1.6v1.6h-1.6zM69 302h1.6v1.6h-1.6zM69 303h1.6v1.6h-1.6zM69 313.5h1.6v1.6h-1.6zM69.5 274h1.6v1.6h-1.6zM69.5 298h1.6v1.6h-1.6zM69.5 304.5h1.6v1.6h-1.6zM69.5 305.5h1.6v1.6h-1.6zM69.5 308h1.6v1.6h-1.6zM69.5 310.5h1.6v1.6h-1.6zM69.5 311h1.6v1.6h-1.6zM70 291h1.6v1.6h-1.6zM70 309h1.6v1.6h-1.6zM70 311h1.6v1.6h-1.6zM70 312h1.6v1.6h-1.6zM70 313.5h1.6v1.6h-1.6zM70 314h1.6v1.6h-1.6zM70 316.5h1.6v1.6h-1.6zM70.5 300.5h1.6v1.6h-1.6zM70.5 306.5h1.6v1.6h-1.6zM70.5 309h1.6v1.6h-1.6zM71 303.5h1.6v1.6h-1.6zM71 308.5h1.6v1.6h-1.6zM71 313.5h1.6v1.6h-1.6zM71 315.5h1.6v1.6h-1.6zM71 316h1.6v1.6h-1.6zM71.5 308.5h1.6v1.6h-1.6zM71.5 310.5h1.6v1.6h-1.6zM71.5 312.5h1.6v1.6h-1.6zM71.5 313.5h1.6v1.6h-1.6zM71.5 319.5h1.6v1.6h-1.6zM72 306h1.6v1.6h-1.6zM72 319.5h1.6v1.6h-1.6zM72 320.5h1.6v1.6h-1.6zM72.5 316h1.6v1.6h-1.6zM72.5 318h1.6v1.6h-1.6zM72.5 319h1.6v1.6h-1.6zM73 309.5h1.6v1.6h-1.6zM73 310h1.6v1.6h-1.6zM73 313.5h1.6v1.6h-1.6zM73 315.5h1.6v1.6h-1.6zM73 316.5h1.6v1.6h-1.6zM73 317.5h1.6v1.6h-1.6zM73.5 295h1.6v1.6h-1.6zM73.5 299h1.6v1.6h-1.6zM73.5 301.5h1.6v1.6h-1.6zM73.5 320h1.6v1.6h-1.6zM73.5 321h1.6v1.6h-1.6zM74 298.5h1.6v1.6h-1.6zM74 312h1.6v1.6h-1.6zM74 312.5h1.6v1.6h-1.6zM74 313.5h1.6v1.6h-1.6zM74 315h1.6v1.6h-1.6zM74 317h1.6v1.6h-1.6zM74 320h1.6v1.6h-1.6zM74 320.5h1.6v1.6h-1.6zM74.5 313.5h1.6v1.6h-1.6zM74.5 319h1.6v1.6h-1.6zM74.5 319.5h1.6v1.6h-1.6zM75 316h1.6v1.6h-1.6zM75 316.5h1.6v1.6h-1.6zM75.5 305.5h1.6v1.6h-1.6zM75.5 311h1.6v1.6h-1.6zM75.5 313.5h1.6v1.6h-1.6zM75.5 317h1.6v1.6h-1.6zM75.5 322h1.6v1.6h-1.6zM76 316h1.6v1.6h-1.6zM76 318.5h1.6v1.6h-1.6zM76 319.5h1.6v1.6h-1.6zM76 321h1.6v1.6h-1.6zM76 322.5h1.6v1.6h-1.6zM76 324h1.6v1.6h-1.6zM76 328h1.6v1.6h-1.6zM76.5 308.5h1.6v1.6h-1.6zM76.5 323h1.6v1.6h-1.6zM76.5 324.5h1.6v1.6h-1.6zM76.5 325.5h1.6v1.6h-1.6zM76.5 327.5h1.6v1.6h-1.6zM77 317.5h1.6v1.6h-1.6zM77 319.5h1.6v1.6h-1.6zM77 325.5h1.6v1.6h-1.6zM77 326.5h1.6v1.6h-1.6zM77 327h1.6v1.6h-1.6zM77.5 319h1.6v1.6h-1.6zM77.5 319.5h1.6v1.6h-1.6zM77.5 322h1.6v1.6h-1.6zM77.5 324h1.6v1.6h-1.6zM77.5 325.5h1.6v1.6h-1.6zM77.5 326h1.6v1.6h-1.6zM77.5 327h1.6v1.6h-1.6zM78 315h1.6v1.6h-1.6zM78 317.5h1.6v1.6h-1.6zM78 319.5h1.6v1.6h-1.6zM78 324.5h1.6v1.6h-1.6zM78.5 308.5h1.6v1.6h-1.6zM78.5 318h1.6v1.6h-1.6zM78.5 323.5h1.6v1.6h-1.6zM79 316.5h1.6v1.6h-1.6zM79 318h1.6v1.6h-1.6zM79 323h1.6v1.6h-1.6zM79 323.5h1.6v1.6h-1.6zM79 326.5h1.6v1.6h-1.6zM79.5 317h1.6v1.6h-1.6zM79.5 319h1.6v1.6h-1.6zM79.5 320h1.6v1.6h-1.6zM79.5 323h1.6v1.6h-1.6zM79.5 323.5h1.6v1.6h-1.6zM79.5 326.5h1.6v1.6h-1.6zM80 309.5h1.6v1.6h-1.6zM80 318h1.6v1.6h-1.6zM80 321h1.6v1.6h-1.6zM80 327.5h1.6v1.6h-1.6zM80.5 312h1.6v1.6h-1.6zM80.5 319.5h1.6v1.6h-1.6zM80.5 320h1.6v1.6h-1.6zM80.5 322.5h1.6v1.6h-1.6zM80.5 323.5h1.6v1.6h-1.6zM80.5 324.5h1.6v1.6h-1.6zM80.5 325h1.6v1.6h-1.6zM81 320.5h1.6v1.6h-1.6zM81 324h1.6v1.6h-1.6zM81 327h1.6v1.6h-1.6zM81 330h1.6v1.6h-1.6zM81.5 323h1.6v1.6h-1.6zM81.5 327.5h1.6v1.6h-1.6zM82 314.5h1.6v1.6h-1.6zM82 323h1.6v1.6h-1.6zM82 325h1.6v1.6h-1.6zM82 331h1.6v1.6h-1.6zM82 331.5h1.6v1.6h-1.6zM82.5 312h1.6v1.6h-1.6zM82.5 321h1.6v1.6h-1.6zM82.5 322.5h1.6v1.6h-1.6zM82.5 323.5h1.6v1.6h-1.6zM82.5 326h1.6v1.6h-1.6zM83 320.5h1.6v1.6h-1.6zM83 321h1.6v1.6h-1.6zM83 322h1.6v1.6h-1.6zM83 322.5h1.6v1.6h-1.6zM83 323h1.6v1.6h-1.6zM83 325.5h1.6v1.6h-1.6zM83 327.5h1.6v1.6h-1.6zM83 328h1.6v1.6h-1.6zM83 331h1.6v1.6h-1.6zM83.5 323.5h1.6v1.6h-1.6zM83.5 325h1.6v1.6h-1.6zM83.5 329h1.6v1.6h-1.6zM83.5 330h1.6v1.6h-1.6zM83.5 330.5h1.6v1.6h-1.6zM84 305h1.6v1.6h-1.6zM84 306h1.6v1.6h-1.6zM84 314h1.6v1.6h-1.6zM84 314.5h1.6v1.6h-1.6zM84 315.5h1.6v1.6h-1.6zM84 318h1.6v1.6h-1.6zM84 324h1.6v1.6h-1.6zM84.5 303.5h1.6v1.6h-1.6zM84.5 311h1.6v1.6h-1.6zM84.5 313h1.6v1.6h-1.6zM84.5 329h1.6v1.6h-1.6zM85 299.5h1.6v1.6h-1.6zM85 305h1.6v1.6h-1.6zM85 310.5h1.6v1.6h-1.6zM85 313h1.6v1.6h-1.6zM85 313.5h1.6v1.6h-1.6zM85 314h1.6v1.6h-1.6zM85.5 315.5h1.6v1.6h-1.6zM85.5 317h1.6v1.6h-1.6zM86 298.5h1.6v1.6h-1.6zM86 305h1.6v1.6h-1.6zM86 306.5h1.6v1.6h-1.6zM86 307h1.6v1.6h-1.6zM86 311.5h1.6v1.6h-1.6zM86 312h1.6v1.6h-1.6zM86 315h1.6v1.6h-1.6zM86.5 306.5h1.6v1.6h-1.6zM86.5 308h1.6v1.6h-1.6zM86.5 316.5h1.6v1.6h-1.6zM87 304.5h1.6v1.6h-1.6zM87 305h1.6v1.6h-1.6zM87 306.5h1.6v1.6h-1.6zM87 307.5h1.6v1.6h-1.6zM87 310h1.6v1.6h-1.6zM87.5 297.5h1.6v1.6h-1.6zM87.5 306h1.6v1.6h-1.6zM87.5 306.5h1.6v1.6h-1.6zM88 296.5h1.6v1.6h-1.6zM88 302.5h1.6v1.6h-1.6zM88 304h1.6v1.6h-1.6zM88 308.5h1.6v1.6h-1.6zM88 311h1.6v1.6h-1.6zM88.5 301h1.6v1.6h-1.6zM88.5 305.5h1.6v1.6h-1.6zM88.5 307.5h1.6v1.6h-1.6zM88.5 308.5h1.6v1.6h-1.6zM88.5 309.5h1.6v1.6h-1.6zM88.5 310.5h1.6v1.6h-1.6zM88.5 313h1.6v1.6h-1.6zM88.5 314.5h1.6v1.6h-1.6zM89 306.5h1.6v1.6h-1.6zM89 308h1.6v1.6h-1.6zM89 310h1.6v1.6h-1.6zM89 310.5h1.6v1.6h-1.6zM89 311h1.6v1.6h-1.6zM89 312.5h1.6v1.6h-1.6zM89.5 293.5h1.6v1.6h-1.6zM89.5 295h1.6v1.6h-1.6zM89.5 305h1.6v1.6h-1.6zM89.5 306.5h1.6v1.6h-1.6zM89.5 307.5h1.6v1.6h-1.6zM89.5 311.5h1.6v1.6h-1.6zM89.5 315.5h1.6v1.6h-1.6zM90 301.5h1.6v1.6h-1.6zM90 311h1.6v1.6h-1.6zM90 312.5h1.6v1.6h-1.6zM90 313.5h1.6v1.6h-1.6zM90 314h1.6v1.6h-1.6zM90 314.5h1.6v1.6h-1.6zM90.5 294h1.6v1.6h-1.6zM90.5 304.5h1.6v1.6h-1.6zM90.5 307h1.6v1.6h-1.6zM90.5 308h1.6v1.6h-1.6zM90.5 310.5h1.6v1.6h-1.6zM90.5 312.5h1.6v1.6h-1.6zM91 294h1.6v1.6h-1.6zM91 299h1.6v1.6h-1.6zM91 305.5h1.6v1.6h-1.6zM91 313.5h1.6v1.6h-1.6zM91 314h1.6v1.6h-1.6zM91.5 307.5h1.6v1.6h-1.6zM91.5 312.5h1.6v1.6h-1.6zM91.5 314h1.6v1.6h-1.6zM92 305h1.6v1.6h-1.6zM92 305.5h1.6v1.6h-1.6zM92 310.5h1.6v1.6h-1.6zM92 311h1.6v1.6h-1.6zM92 315h1.6v1.6h-1.6zM92 315.5h1.6v1.6h-1.6zM92.5 296.5h1.6v1.6h-1.6zM92.5 299.5h1.6v1.6h-1.6zM92.5 305h1.6v1.6h-1.6zM92.5 306h1.6v1.6h-1.6zM92.5 307.5h1.6v1.6h-1.6zM92.5 310.5h1.6v1.6h-1.6zM92.5 311.5h1.6v1.6h-1.6zM93 290h1.6v1.6h-1.6zM93 291.5h1.6v1.6h-1.6zM93 296.5h1.6v1.6h-1.6zM93 306.5h1.6v1.6h-1.6zM93 307h1.6v1.6h-1.6zM93 307.5h1.6v1.6h-1.6zM93 309h1.6v1.6h-1.6zM93 310.5h1.6v1.6h-1.6zM93.5 289.5h1.6v1.6h-1.6zM93.5 307h1.6v1.6h-1.6zM93.5 313.5h1.6v1.6h-1.6zM94 306.5h1.6v1.6h-1.6zM94 310h1.6v1.6h-1.6zM94.5 300h1.6v1.6h-1.6zM94.5 308.5h1.6v1.6h-1.6zM94.5 309.5h1.6v1.6h-1.6zM94.5 310h1.6v1.6h-1.6zM95 305h1.6v1.6h-1.6zM95 307h1.6v1.6h-1.6zM95 308.5h1.6v1.6h-1.6zM95 310h1.6v1.6h-1.6zM95.5 291.5h1.6v1.6h-1.6zM95.5 303h1.6v1.6h-1.6zM95.5 304.5h1.6v1.6h-1.6zM95.5 309h1.6v1.6h-1.6zM95.5 311.5h1.6v1.6h-1.6zM95.5 314.5h1.6v1.6h-1.6zM95.5 317h1.6v1.6h-1.6zM96 301h1.6v1.6h-1.6zM96 307.5h1.6v1.6h-1.6zM96 308h1.6v1.6h-1.6zM96 309h1.6v1.6h-1.6zM96 313h1.6v1.6h-1.6zM96 314h1.6v1.6h-1.6zM96 317h1.6v1.6h-1.6zM96.5 301.5h1.6v1.6h-1.6zM96.5 312.5h1.6v1.6h-1.6zM96.5 314h1.6v1.6h-1.6zM97 309h1.6v1.6h-1.6zM97 310h1.6v1.6h-1.6zM97.5 296.5h1.6v1.6h-1.6zM97.5 304.5h1.6v1.6h-1.6zM97.5 305h1.6v1.6h-1.6zM97.5 309h1.6v1.6h-1.6zM97.5 310h1.6v1.6h-1.6zM97.5 312h1.6v1.6h-1.6zM98 307.5h1.6v1.6h-1.6zM98 308h1.6v1.6h-1.6zM98 311h1.6v1.6h-1.6zM98 313.5h1.6v1.6h-1.6zM98.5 297.5h1.6v1.6h-1.6zM98.5 301h1.6v1.6h-1.6zM98.5 302.5h1.6v1.6h-1.6zM98.5 310.5h1.6v1.6h-1.6zM98.5 312.5h1.6v1.6h-1.6zM99 308h1.6v1.6h-1.6zM99 308.5h1.6v1.6h-1.6zM99 309.5h1.6v1.6h-1.6zM99 313.5h1.6v1.6h-1.6zM99 315h1.6v1.6h-1.6zM99.5 307.5h1.6v1.6h-1.6zM99.5 311h1.6v1.6h-1.6zM99.5 312h1.6v1.6h-1.6zM99.5 312.5h1.6v1.6h-1.6zM99.5 316.5h1.6v1.6h-1.6zM99.5 317.5h1.6v1.6h-1.6zM100 293.5h1.6v1.6h-1.6zM100 302h1.6v1.6h-1.6zM100 308h1.6v1.6h-1.6zM100 310.5h1.6v1.6h-1.6zM100 312h1.6v1.6h-1.6zM100.5 288.5h1.6v1.6h-1.6zM100.5 309.5h1.6v1.6h-1.6zM101 298.5h1.6v1.6h-1.6zM101 299h1.6v1.6h-1.6zM101 302h1.6v1.6h-1.6zM101 303h1.6v1.6h-1.6zM101 305.5h1.6v1.6h-1.6zM101 306h1.6v1.6h-1.6zM101 307h1.6v1.6h-1.6zM101 309h1.6v1.6h-1.6zM101 310.5h1.6v1.6h-1.6zM101 311.5h1.6v1.6h-1.6zM101 312.5h1.6v1.6h-1.6zM101 314h1.6v1.6h-1.6zM101.5 295h1.6v1.6h-1.6zM101.5 308.5h1.6v1.6h-1.6zM101.5 310.5h1.6v1.6h-1.6zM101.5 312h1.6v1.6h-1.6zM101.5 314h1.6v1.6h-1.6zM102 304.5h1.6v1.6h-1.6zM102 309.5h1.6v1.6h-1.6zM102 310.5h1.6v1.6h-1.6zM102 311h1.6v1.6h-1.6zM102 313.5h1.6v1.6h-1.6zM102.5 288.5h1.6v1.6h-1.6zM102.5 295.5h1.6v1.6h-1.6zM102.5 312h1.6v1.6h-1.6zM102.5 314h1.6v1.6h-1.6zM102.5 315h1.6v1.6h-1.6zM103 305h1.6v1.6h-1.6zM103 307h1.6v1.6h-1.6zM103 311h1.6v1.6h-1.6zM103 312.5h1.6v1.6h-1.6zM103 314h1.6v1.6h-1.6zM103 315h1.6v1.6h-1.6zM103 315.5h1.6v1.6h-1.6zM103.5 308h1.6v1.6h-1.6zM103.5 311.5h1.6v1.6h-1.6zM103.5 316h1.6v1.6h-1.6zM104 296.5h1.6v1.6h-1.6zM104 309h1.6v1.6h-1.6zM104 311.5h1.6v1.6h-1.6zM104 312h1.6v1.6h-1.6zM104 313.5h1.6v1.6h-1.6zM104 315.5h1.6v1.6h-1.6zM104 324h1.6v1.6h-1.6zM104 327h1.6v1.6h-1.6zM104 329h1.6v1.6h-1.6zM104 330h1.6v1.6h-1.6zM104 330.5h1.6v1.6h-1.6zM104.5 322.5h1.6v1.6h-1.6zM104.5 329.5h1.6v1.6h-1.6zM105 314h1.6v1.6h-1.6zM105 320h1.6v1.6h-1.6zM105 320.5h1.6v1.6h-1.6zM105 328h1.6v1.6h-1.6zM105 331h1.6v1.6h-1.6zM105.5 313.5h1.6v1.6h-1.6zM105.5 322h1.6v1.6h-1.6zM106 308h1.6v1.6h-1.6zM106 308.5h1.6v1.6h-1.6zM106 322h1.6v1.6h-1.6zM106 323h1.6v1.6h-1.6zM106 326.5h1.6v1.6h-1.6zM106.5 320.5h1.6v1.6h-1.6zM106.5 321h1.6v1.6h-1.6zM106.5 322h1.6v1.6h-1.6zM106.5 324.5h1.6v1.6h-1.6zM106.5 325h1.6v1.6h-1.6zM106.5 325.5h1.6v1.6h-1.6zM106.5 327h1.6v1.6h-1.6zM106.5 329h1.6v1.6h-1.6zM107 316.5h1.6v1.6h-1.6zM107 319h1.6v1.6h-1.6zM107 321.5h1.6v1.6h-1.6zM107 326h1.6v1.6h-1.6zM107 326.5h1.6v1.6h-1.6zM107 328.5h1.6v1.6h-1.6zM107.5 330.5h1.6v1.6h-1.6zM108 314.5h1.6v1.6h-1.6zM108 315h1.6v1.6h-1.6zM108 315.5h1.6v1.6h-1.6zM108 328.5h1.6v1.6h-1.6zM108 330h1.6v1.6h-1.6zM108 330.5h1.6v1.6h-1.6zM108.5 309h1.6v1.6h-1.6zM108.5 317h1.6v1.6h-1.6zM108.5 322.5h1.6v1.6h-1.6zM108.5 328.5h1.6v1.6h-1.6zM108.5 329h1.6v1.6h-1.6zM108.5 332h1.6v1.6h-1.6zM109 307.5h1.6v1.6h-1.6zM109 310h1.6v1.6h-1.6zM109 311h1.6v1.6h-1.6zM109 312.5h1.6v1.6h-1.6zM109 316.5h1.6v1.6h-1.6zM109.5 293h1.6v1.6h-1.6zM109.5 296h1.6v1.6h-1.6zM109.5 307.5h1.6v1.6h-1.6zM109.5 309h1.6v1.6h-1.6zM109.5 310h1.6v1.6h-1.6zM109.5 320.5h1.6v1.6h-1.6zM110 302.5h1.6v1.6h-1.6zM110 305.5h1.6v1.6h-1.6zM110 310.5h1.6v1.6h-1.6zM110.5 306.5h1.6v1.6h-1.6zM110.5 308.5h1.6v1.6h-1.6zM110.5 310.5h1.6v1.6h-1.6zM111 295.5h1.6v1.6h-1.6zM111 302.5h1.6v1.6h-1.6zM111 304.5h1.6v1.6h-1.6zM111 305.5h1.6v1.6h-1.6zM111 307h1.6v1.6h-1.6zM111 310h1.6v1.6h-1.6zM111.5 297h1.6v1.6h-1.6zM111.5 306.5h1.6v1.6h-1.6zM111.5 307h1.6v1.6h-1.6zM111.5 315.5h1.6v1.6h-1.6zM112 305h1.6v1.6h-1.6zM112 307h1.6v1.6h-1.6zM112 307.5h1.6v1.6h-1.6zM112 309.5h1.6v1.6h-1.6zM112 310h1.6v1.6h-1.6zM112.5 292.5h1.6v1.6h-1.6zM112.5 298h1.6v1.6h-1.6zM112.5 303h1.6v1.6h-1.6zM112.5 306h1.6v1.6h-1.6zM112.5 307h1.6v1.6h-1.6zM112.5 309h1.6v1.6h-1.6zM112.5 309.5h1.6v1.6h-1.6zM112.5 310.5h1.6v1.6h-1.6zM112.5 311.5h1.6v1.6h-1.6zM112.5 313h1.6v1.6h-1.6zM113 297.5h1.6v1.6h-1.6zM113 304.5h1.6v1.6h-1.6zM113 305h1.6v1.6h-1.6zM113 309h1.6v1.6h-1.6zM113.5 306.5h1.6v1.6h-1.6zM113.5 309.5h1.6v1.6h-1.6zM113.5 311h1.6v1.6h-1.6zM113.5 312.5h1.6v1.6h-1.6zM113.5 314.5h1.6v1.6h-1.6zM114 291h1.6v1.6h-1.6zM114 297h1.6v1.6h-1.6zM114 298.5h1.6v1.6h-1.6zM114 303h1.6v1.6h-1.6zM114 306.5h1.6v1.6h-1.6zM114 309h1.6v1.6h-1.6zM114 309.5h1.6v1.6h-1.6zM114 312h1.6v1.6h-1.6zM114 315.5h1.6v1.6h-1.6zM114.5 303h1.6v1.6h-1.6zM114.5 311.5h1.6v1.6h-1.6zM115 297.5h1.6v1.6h-1.6zM115 301h1.6v1.6h-1.6zM115 303h1.6v1.6h-1.6zM115 304h1.6v1.6h-1.6zM115 305h1.6v1.6h-1.6zM115 305.5h1.6v1.6h-1.6zM115 306h1.6v1.6h-1.6zM115.5 304.5h1.6v1.6h-1.6zM115.5 308h1.6v1.6h-1.6zM116 302h1.6v1.6h-1.6zM116 307h1.6v1.6h-1.6zM116 312h1.6v1.6h-1.6zM116 312.5h1.6v1.6h-1.6zM116.5 300h1.6v1.6h-1.6zM116.5 305.5h1.6v1.6h-1.6zM116.5 306.5h1.6v1.6h-1.6zM116.5 312.5h1.6v1.6h-1.6zM117 290.5h1.6v1.6h-1.6zM117 296h1.6v1.6h-1.6zM117 305h1.6v1.6h-1.6zM117 306h1.6v1.6h-1.6zM117 307h1.6v1.6h-1.6zM117 308h1.6v1.6h-1.6zM117 309h1.6v1.6h-1.6zM117 310h1.6v1.6h-1.6zM117 313.5h1.6v1.6h-1.6zM117.5 289.5h1.6v1.6h-1.6zM117.5 295h1.6v1.6h-1.6zM117.5 306h1.6v1.6h-1.6zM117.5 307h1.6v1.6h-1.6zM117.5 309.5h1.6v1.6h-1.6zM117.5 311h1.6v1.6h-1.6zM118 295h1.6v1.6h-1.6zM118 302h1.6v1.6h-1.6zM118 304h1.6v1.6h-1.6zM118 305.5h1.6v1.6h-1.6zM118 308h1.6v1.6h-1.6zM118 308.5h1.6v1.6h-1.6zM118 311h1.6v1.6h-1.6zM118.5 310h1.6v1.6h-1.6zM119 290.5h1.6v1.6h-1.6zM119 304.5h1.6v1.6h-1.6zM119 306.5h1.6v1.6h-1.6zM119 307.5h1.6v1.6h-1.6zM119 310h1.6v1.6h-1.6zM119 312h1.6v1.6h-1.6zM119 312.5h1.6v1.6h-1.6zM119.5 288h1.6v1.6h-1.6zM119.5 303h1.6v1.6h-1.6zM119.5 304.5h1.6v1.6h-1.6zM119.5 309h1.6v1.6h-1.6zM119.5 312h1.6v1.6h-1.6zM119.5 314h1.6v1.6h-1.6zM120 299h1.6v1.6h-1.6zM120 306.5h1.6v1.6h-1.6zM120 307.5h1.6v1.6h-1.6zM120 308.5h1.6v1.6h-1.6zM120 309h1.6v1.6h-1.6zM120 311h1.6v1.6h-1.6zM120 313.5h1.6v1.6h-1.6zM120 314h1.6v1.6h-1.6zM120.5 309.5h1.6v1.6h-1.6zM120.5 314h1.6v1.6h-1.6zM120.5 314.5h1.6v1.6h-1.6zM120.5 317.5h1.6v1.6h-1.6zM121 293.5h1.6v1.6h-1.6zM121 300h1.6v1.6h-1.6zM121 302.5h1.6v1.6h-1.6zM121 307h1.6v1.6h-1.6zM121 308h1.6v1.6h-1.6zM121 310.5h1.6v1.6h-1.6zM121 312h1.6v1.6h-1.6zM121.5 307h1.6v1.6h-1.6zM121.5 310h1.6v1.6h-1.6zM121.5 312.5h1.6v1.6h-1.6zM121.5 313.5h1.6v1.6h-1.6zM121.5 315h1.6v1.6h-1.6zM121.5 316h1.6v1.6h-1.6zM122 301.5h1.6v1.6h-1.6zM122 306.5h1.6v1.6h-1.6zM122 307h1.6v1.6h-1.6zM122 308h1.6v1.6h-1.6zM122 311h1.6v1.6h-1.6zM122 312h1.6v1.6h-1.6zM122 313.5h1.6v1.6h-1.6zM122 315h1.6v1.6h-1.6zM122 315.5h1.6v1.6h-1.6zM122 316h1.6v1.6h-1.6zM122 317.5h1.6v1.6h-1.6zM122.5 292.5h1.6v1.6h-1.6zM122.5 307.5h1.6v1.6h-1.6zM122.5 309.5h1.6v1.6h-1.6zM122.5 314h1.6v1.6h-1.6zM123 291h1.6v1.6h-1.6zM123 301.5h1.6v1.6h-1.6zM123 308h1.6v1.6h-1.6zM123.5 306h1.6v1.6h-1.6zM123.5 313.5h1.6v1.6h-1.6zM124 289.5h1.6v1.6h-1.6zM124 293.5h1.6v1.6h-1.6zM124 302.5h1.6v1.6h-1.6zM124 308h1.6v1.6h-1.6zM124.5 304h1.6v1.6h-1.6zM124.5 305.5h1.6v1.6h-1.6zM124.5 306.5h1.6v1.6h-1.6zM124.5 307.5h1.6v1.6h-1.6zM125 300.5h1.6v1.6h-1.6zM125 306.5h1.6v1.6h-1.6zM125.5 302.5h1.6v1.6h-1.6zM125.5 303h1.6v1.6h-1.6zM125.5 306.5h1.6v1.6h-1.6zM126 307.5h1.6v1.6h-1.6zM126 308.5h1.6v1.6h-1.6zM126 309.5h1.6v1.6h-1.6zM126 313h1.6v1.6h-1.6zM126.5 303h1.6v1.6h-1.6zM126.5 309h1.6v1.6h-1.6zM126.5 310h1.6v1.6h-1.6zM126.5 311h1.6v1.6h-1.6zM126.5 312h1.6v1.6h-1.6zM127 290.5h1.6v1.6h-1.6zM127 292h1.6v1.6h-1.6zM127 302.5h1.6v1.6h-1.6zM127 304.5h1.6v1.6h-1.6zM127 309.5h1.6v1.6h-1.6zM127 310h1.6v1.6h-1.6zM127.5 296h1.6v1.6h-1.6zM127.5 305h1.6v1.6h-1.6zM127.5 309.5h1.6v1.6h-1.6zM127.5 311.5h1.6v1.6h-1.6zM127.5 312h1.6v1.6h-1.6zM128 305h1.6v1.6h-1.6zM128 306.5h1.6v1.6h-1.6zM128 308.5h1.6v1.6h-1.6zM128 310h1.6v1.6h-1.6zM128.5 305h1.6v1.6h-1.6zM128.5 307.5h1.6v1.6h-1.6zM128.5 308.5h1.6v1.6h-1.6zM128.5 309.5h1.6v1.6h-1.6zM128.5 312h1.6v1.6h-1.6zM129 303h1.6v1.6h-1.6zM129 306h1.6v1.6h-1.6zM129 309h1.6v1.6h-1.6zM129 313h1.6v1.6h-1.6zM129 313.5h1.6v1.6h-1.6zM129 314.5h1.6v1.6h-1.6zM129.5 292h1.6v1.6h-1.6zM129.5 308h1.6v1.6h-1.6zM130 294h1.6v1.6h-1.6zM130 303h1.6v1.6h-1.6zM130 308.5h1.6v1.6h-1.6zM130 309h1.6v1.6h-1.6zM130 309.5h1.6v1.6h-1.6zM130 317.5h1.6v1.6h-1.6zM130 318.5h1.6v1.6h-1.6zM130.5 307.5h1.6v1.6h-1.6zM130.5 309.5h1.6v1.6h-1.6zM130.5 310h1.6v1.6h-1.6zM130.5 310.5h1.6v1.6h-1.6zM130.5 312h1.6v1.6h-1.6zM130.5 313h1.6v1.6h-1.6zM130.5 313.5h1.6v1.6h-1.6zM130.5 320h1.6v1.6h-1.6zM131 306h1.6v1.6h-1.6zM131 308.5h1.6v1.6h-1.6zM131 310.5h1.6v1.6h-1.6zM131 311h1.6v1.6h-1.6zM131 311.5h1.6v1.6h-1.6zM131 313.5h1.6v1.6h-1.6zM131 314h1.6v1.6h-1.6zM131 318h1.6v1.6h-1.6zM131.5 296h1.6v1.6h-1.6zM131.5 300h1.6v1.6h-1.6zM131.5 303h1.6v1.6h-1.6zM131.5 308h1.6v1.6h-1.6zM131.5 309h1.6v1.6h-1.6zM131.5 311.5h1.6v1.6h-1.6zM131.5 313h1.6v1.6h-1.6zM132 306.5h1.6v1.6h-1.6zM132 307h1.6v1.6h-1.6zM132 307.5h1.6v1.6h-1.6zM132 308.5h1.6v1.6h-1.6zM132 309.5h1.6v1.6h-1.6zM132 310.5h1.6v1.6h-1.6zM132 311h1.6v1.6h-1.6zM132 311.5h1.6v1.6h-1.6zM132 316h1.6v1.6h-1.6zM132.5 291.5h1.6v1.6h-1.6zM132.5 305.5h1.6v1.6h-1.6zM132.5 308.5h1.6v1.6h-1.6zM132.5 309.5h1.6v1.6h-1.6zM132.5 310.5h1.6v1.6h-1.6zM133 310.5h1.6v1.6h-1.6zM133 311h1.6v1.6h-1.6zM133 311.5h1.6v1.6h-1.6zM133 316h1.6v1.6h-1.6zM133.5 293.5h1.6v1.6h-1.6zM133.5 300.5h1.6v1.6h-1.6zM133.5 312h1.6v1.6h-1.6zM133.5 313h1.6v1.6h-1.6zM133.5 317h1.6v1.6h-1.6zM133.5 318.5h1.6v1.6h-1.6zM134 313.5h1.6v1.6h-1.6zM134 317.5h1.6v1.6h-1.6zM134 318h1.6v1.6h-1.6zM134.5 296h1.6v1.6h-1.6zM134.5 305h1.6v1.6h-1.6zM134.5 306h1.6v1.6h-1.6zM134.5 314h1.6v1.6h-1.6zM134.5 317h1.6v1.6h-1.6zM134.5 319.5h1.6v1.6h-1.6zM135 307.5h1.6v1.6h-1.6zM135 309h1.6v1.6h-1.6zM135 313.5h1.6v1.6h-1.6zM135 315.5h1.6v1.6h-1.6zM135 316.5h1.6v1.6h-1.6zM135.5 306.5h1.6v1.6h-1.6zM135.5 312.5h1.6v1.6h-1.6zM135.5 313h1.6v1.6h-1.6zM135.5 315.5h1.6v1.6h-1.6zM135.5 317.5h1.6v1.6h-1.6zM136 298.5h1.6v1.6h-1.6zM136 299h1.6v1.6h-1.6zM136 306.5h1.6v1.6h-1.6zM136 309.5h1.6v1.6h-1.6zM136 312h1.6v1.6h-1.6zM136 314h1.6v1.6h-1.6zM136.5 307h1.6v1.6h-1.6zM136.5 313h1.6v1.6h-1.6zM136.5 313.5h1.6v1.6h-1.6zM136.5 315.5h1.6v1.6h-1.6zM137 310h1.6v1.6h-1.6zM137 313h1.6v1.6h-1.6zM137 316h1.6v1.6h-1.6zM137 316.5h1.6v1.6h-1.6zM137.5 291.5h1.6v1.6h-1.6zM137.5 299h1.6v1.6h-1.6zM137.5 311.5h1.6v1.6h-1.6zM137.5 313h1.6v1.6h-1.6zM137.5 314.5h1.6v1.6h-1.6zM137.5 315.5h1.6v1.6h-1.6zM138 310h1.6v1.6h-1.6zM138 310.5h1.6v1.6h-1.6zM138 316h1.6v1.6h-1.6zM138.5 299.5h1.6v1.6h-1.6zM138.5 302.5h1.6v1.6h-1.6zM138.5 304h1.6v1.6h-1.6zM138.5 306h1.6v1.6h-1.6zM139 295h1.6v1.6h-1.6zM139 307.5h1.6v1.6h-1.6zM139 309.5h1.6v1.6h-1.6zM139 310.5h1.6v1.6h-1.6zM139 311.5h1.6v1.6h-1.6zM139 312.5h1.6v1.6h-1.6zM139 313.5h1.6v1.6h-1.6zM139 315.5h1.6v1.6h-1.6zM139.5 308.5h1.6v1.6h-1.6zM139.5 310h1.6v1.6h-1.6zM139.5 314.5h1.6v1.6h-1.6zM140 305.5h1.6v1.6h-1.6zM140 311.5h1.6v1.6h-1.6zM140 314h1.6v1.6h-1.6zM140 314.5h1.6v1.6h-1.6zM140.5 293.5h1.6v1.6h-1.6zM140.5 306h1.6v1.6h-1.6zM140.5 311.5h1.6v1.6h-1.6zM140.5 312.5h1.6v1.6h-1.6zM140.5 313h1.6v1.6h-1.6zM140.5 315.5h1.6v1.6h-1.6zM141 307h1.6v1.6h-1.6zM141 308.5h1.6v1.6h-1.6zM141 310.5h1.6v1.6h-1.6zM141 315.5h1.6v1.6h-1.6zM141 318.5h1.6v1.6h-1.6zM141.5 293.5h1.6v1.6h-1.6zM141.5 310h1.6v1.6h-1.6zM141.5 314h1.6v1.6h-1.6zM141.5 317.5h1.6v1.6h-1.6zM141.5 319.5h1.6v1.6h-1.6zM142 309h1.6v1.6h-1.6zM142 310h1.6v1.6h-1.6zM142 311h1.6v1.6h-1.6zM142 315h1.6v1.6h-1.6zM142 317h1.6v1.6h-1.6zM142 321.5h1.6v1.6h-1.6zM142.5 299.5h1.6v1.6h-1.6zM142.5 308.5h1.6v1.6h-1.6zM142.5 315h1.6v1.6h-1.6zM142.5 316.5h1.6v1.6h-1.6zM142.5 317h1.6v1.6h-1.6zM142.5 318h1.6v1.6h-1.6zM142.5 320.5h1.6v1.6h-1.6zM142.5 321h1.6v1.6h-1.6zM143 307.5h1.6v1.6h-1.6zM143 308h1.6v1.6h-1.6zM143 315h1.6v1.6h-1.6zM143 319.5h1.6v1.6h-1.6zM143.5 307.5h1.6v1.6h-1.6zM143.5 312.5h1.6v1.6h-1.6zM143.5 314h1.6v1.6h-1.6zM143.5 316.5h1.6v1.6h-1.6zM143.5 318.5h1.6v1.6h-1.6zM144 294.5h1.6v1.6h-1.6zM144 299h1.6v1.6h-1.6zM144 300h1.6v1.6h-1.6zM144 309.5h1.6v1.6h-1.6zM144 312h1.6v1.6h-1.6zM144.5 309h1.6v1.6h-1.6zM144.5 312.5h1.6v1.6h-1.6zM144.5 313.5h1.6v1.6h-1.6zM144.5 314.5h1.6v1.6h-1.6zM144.5 315h1.6v1.6h-1.6zM144.5 316.5h1.6v1.6h-1.6zM145 291.5h1.6v1.6h-1.6zM145 298.5h1.6v1.6h-1.6zM145 303.5h1.6v1.6h-1.6zM145 314h1.6v1.6h-1.6zM145.5 309h1.6v1.6h-1.6zM145.5 313h1.6v1.6h-1.6zM145.5 315h1.6v1.6h-1.6zM145.5 316h1.6v1.6h-1.6zM145.5 318h1.6v1.6h-1.6zM146 309h1.6v1.6h-1.6zM146 312h1.6v1.6h-1.6zM146 313h1.6v1.6h-1.6zM146 315h1.6v1.6h-1.6zM146 316h1.6v1.6h-1.6zM146 319h1.6v1.6h-1.6zM146.5 305.5h1.6v1.6h-1.6zM146.5 309h1.6v1.6h-1.6zM146.5 310.5h1.6v1.6h-1.6zM146.5 313.5h1.6v1.6h-1.6zM146.5 316h1.6v1.6h-1.6zM146.5 316.5h1.6v1.6h-1.6zM146.5 318h1.6v1.6h-1.6zM147 309.5h1.6v1.6h-1.6zM147 310.5h1.6v1.6h-1.6zM147 311.5h1.6v1.6h-1.6zM147 312h1.6v1.6h-1.6zM147 320.5h1.6v1.6h-1.6zM147.5 305h1.6v1.6h-1.6zM147.5 308h1.6v1.6h-1.6zM147.5 313h1.6v1.6h-1.6zM147.5 315h1.6v1.6h-1.6zM147.5 320h1.6v1.6h-1.6zM147.5 320.5h1.6v1.6h-1.6zM148 319.5h1.6v1.6h-1.6zM148.5 301.5h1.6v1.6h-1.6zM148.5 312.5h1.6v1.6h-1.6zM148.5 313.5h1.6v1.6h-1.6zM148.5 315h1.6v1.6h-1.6zM148.5 320h1.6v1.6h-1.6zM148.5 322h1.6v1.6h-1.6zM148.5 322.5h1.6v1.6h-1.6zM149 312h1.6v1.6h-1.6zM149 319.5h1.6v1.6h-1.6zM149.5 297h1.6v1.6h-1.6zM149.5 308.5h1.6v1.6h-1.6zM149.5 309h1.6v1.6h-1.6zM149.5 311h1.6v1.6h-1.6zM149.5 312.5h1.6v1.6h-1.6zM149.5 314h1.6v1.6h-1.6zM149.5 315.5h1.6v1.6h-1.6zM150 286h1.6v1.6h-1.6zM150 299.5h1.6v1.6h-1.6zM150 310.5h1.6v1.6h-1.6zM150 312h1.6v1.6h-1.6zM150 321.5h1.6v1.6h-1.6zM150.5 297.5h1.6v1.6h-1.6zM150.5 320h1.6v1.6h-1.6zM151 313.5h1.6v1.6h-1.6zM151 314h1.6v1.6h-1.6zM151 314.5h1.6v1.6h-1.6zM151 315.5h1.6v1.6h-1.6zM151 316h1.6v1.6h-1.6zM151 319h1.6v1.6h-1.6zM151 322.5h1.6v1.6h-1.6zM151.5 302.5h1.6v1.6h-1.6zM151.5 313h1.6v1.6h-1.6zM151.5 316.5h1.6v1.6h-1.6zM151.5 318.5h1.6v1.6h-1.6zM151.5 321h1.6v1.6h-1.6zM152 316h1.6v1.6h-1.6zM152 316.5h1.6v1.6h-1.6zM152 318h1.6v1.6h-1.6zM152 320.5h1.6v1.6h-1.6zM152.5 294.5h1.6v1.6h-1.6zM152.5 297h1.6v1.6h-1.6zM152.5 316h1.6v1.6h-1.6zM152.5 320h1.6v1.6h-1.6zM153 306h1.6v1.6h-1.6zM153 313h1.6v1.6h-1.6zM153 318.5h1.6v1.6h-1.6zM153 320.5h1.6v1.6h-1.6zM153.5 311.5h1.6v1.6h-1.6zM153.5 318.5h1.6v1.6h-1.6zM153.5 320h1.6v1.6h-1.6zM153.5 321h1.6v1.6h-1.6zM153.5 321.5h1.6v1.6h-1.6zM154 297.5h1.6v1.6h-1.6zM154 314h1.6v1.6h-1.6zM154 315.5h1.6v1.6h-1.6zM154 317.5h1.6v1.6h-1.6zM154 321.5h1.6v1.6h-1.6zM154 323.5h1.6v1.6h-1.6zM154.5 310h1.6v1.6h-1.6zM154.5 312.5h1.6v1.6h-1.6zM154.5 316.5h1.6v1.6h-1.6zM154.5 320h1.6v1.6h-1.6zM154.5 321h1.6v1.6h-1.6zM155 299h1.6v1.6h-1.6zM155 304.5h1.6v1.6h-1.6zM155 310.5h1.6v1.6h-1.6zM155 314.5h1.6v1.6h-1.6zM155 316.5h1.6v1.6h-1.6zM155.5 308h1.6v1.6h-1.6zM155.5 309.5h1.6v1.6h-1.6zM155.5 313h1.6v1.6h-1.6zM155.5 315.5h1.6v1.6h-1.6zM155.5 319h1.6v1.6h-1.6zM156 315.5h1.6v1.6h-1.6zM156 316h1.6v1.6h-1.6zM156 317.5h1.6v1.6h-1.6zM156 318.5h1.6v1.6h-1.6zM156 320h1.6v1.6h-1.6zM156 321.5h1.6v1.6h-1.6zM156.5 299.5h1.6v1.6h-1.6zM156.5 318h1.6v1.6h-1.6zM156.5 320h1.6v1.6h-1.6zM157 302h1.6v1.6h-1.6zM157 313.5h1.6v1.6h-1.6zM157 318h1.6v1.6h-1.6zM157 319h1.6v1.6h-1.6zM157 320h1.6v1.6h-1.6zM157 320.5h1.6v1.6h-1.6zM157.5 302h1.6v1.6h-1.6zM157.5 315h1.6v1.6h-1.6zM157.5 319.5h1.6v1.6h-1.6zM157.5 321.5h1.6v1.6h-1.6zM158 302h1.6v1.6h-1.6zM158 304h1.6v1.6h-1.6zM158 315h1.6v1.6h-1.6zM158 319.5h1.6v1.6h-1.6zM158 321h1.6v1.6h-1.6zM158.5 309.5h1.6v1.6h-1.6zM158.5 310h1.6v1.6h-1.6zM158.5 314.5h1.6v1.6h-1.6zM158.5 316.5h1.6v1.6h-1.6zM158.5 318.5h1.6v1.6h-1.6zM158.5 319h1.6v1.6h-1.6zM158.5 320.5h1.6v1.6h-1.6zM159 295h1.6v1.6h-1.6zM159 314h1.6v1.6h-1.6zM159 316h1.6v1.6h-1.6zM159 316.5h1.6v1.6h-1.6zM159 317.5h1.6v1.6h-1.6zM159 318h1.6v1.6h-1.6zM159 319.5h1.6v1.6h-1.6zM159 322.5h1.6v1.6h-1.6zM159 326h1.6v1.6h-1.6zM159.5 309h1.6v1.6h-1.6zM159.5 310.5h1.6v1.6h-1.6zM159.5 318h1.6v1.6h-1.6zM159.5 319.5h1.6v1.6h-1.6zM159.5 320h1.6v1.6h-1.6zM160 312h1.6v1.6h-1.6zM160 318h1.6v1.6h-1.6zM160 322h1.6v1.6h-1.6zM160 325h1.6v1.6h-1.6zM160.5 295h1.6v1.6h-1.6zM160.5 313.5h1.6v1.6h-1.6zM160.5 316.5h1.6v1.6h-1.6zM160.5 323.5h1.6v1.6h-1.6zM161 311h1.6v1.6h-1.6zM161 314.5h1.6v1.6h-1.6zM161 315.5h1.6v1.6h-1.6zM161 318h1.6v1.6h-1.6zM161 318.5h1.6v1.6h-1.6zM161 319h1.6v1.6h-1.6zM161 319.5h1.6v1.6h-1.6zM161 321h1.6v1.6h-1.6zM161.5 295h1.6v1.6h-1.6zM161.5 317.5h1.6v1.6h-1.6zM162 305.5h1.6v1.6h-1.6zM162 313h1.6v1.6h-1.6zM162 314h1.6v1.6h-1.6zM162 314.5h1.6v1.6h-1.6zM162.5 310.5h1.6v1.6h-1.6zM162.5 314h1.6v1.6h-1.6zM162.5 315h1.6v1.6h-1.6zM162.5 315.5h1.6v1.6h-1.6zM162.5 319h1.6v1.6h-1.6zM162.5 320.5h1.6v1.6h-1.6zM163 309h1.6v1.6h-1.6zM163 312h1.6v1.6h-1.6zM163 313h1.6v1.6h-1.6zM163 313.5h1.6v1.6h-1.6zM163 316h1.6v1.6h-1.6zM163 318.5h1.6v1.6h-1.6zM163.5 310h1.6v1.6h-1.6zM163.5 316.5h1.6v1.6h-1.6zM164 305.5h1.6v1.6h-1.6zM164 314h1.6v1.6h-1.6zM164 317h1.6v1.6h-1.6zM164 319.5h1.6v1.6h-1.6zM164 320h1.6v1.6h-1.6zM164.5 310.5h1.6v1.6h-1.6zM164.5 312.5h1.6v1.6h-1.6zM164.5 313.5h1.6v1.6h-1.6zM164.5 319h1.6v1.6h-1.6zM164.5 320h1.6v1.6h-1.6zM165 282.5h1.6v1.6h-1.6zM165 296.5h1.6v1.6h-1.6zM165 307h1.6v1.6h-1.6zM165 310.5h1.6v1.6h-1.6zM165 314.5h1.6v1.6h-1.6zM165 317.5h1.6v1.6h-1.6zM165 320.5h1.6v1.6h-1.6zM165 322h1.6v1.6h-1.6zM165.5 296h1.6v1.6h-1.6zM165.5 314.5h1.6v1.6h-1.6zM165.5 315h1.6v1.6h-1.6zM166 300.5h1.6v1.6h-1.6zM166 311h1.6v1.6h-1.6zM166 316h1.6v1.6h-1.6zM166 319.5h1.6v1.6h-1.6zM166 320h1.6v1.6h-1.6zM166 321.5h1.6v1.6h-1.6zM166 322h1.6v1.6h-1.6zM166 322.5h1.6v1.6h-1.6zM166.5 307.5h1.6v1.6h-1.6zM166.5 312.5h1.6v1.6h-1.6zM166.5 320.5h1.6v1.6h-1.6zM167 307h1.6v1.6h-1.6zM167 315.5h1.6v1.6h-1.6zM167 316h1.6v1.6h-1.6zM167 316.5h1.6v1.6h-1.6zM167 318.5h1.6v1.6h-1.6zM167 319.5h1.6v1.6h-1.6zM167 320h1.6v1.6h-1.6zM167.5 300h1.6v1.6h-1.6zM167.5 301h1.6v1.6h-1.6zM167.5 312h1.6v1.6h-1.6zM167.5 313h1.6v1.6h-1.6zM167.5 320.5h1.6v1.6h-1.6zM168 302h1.6v1.6h-1.6zM168 310h1.6v1.6h-1.6zM168 311h1.6v1.6h-1.6zM168 315.5h1.6v1.6h-1.6zM168 317h1.6v1.6h-1.6zM168 317.5h1.6v1.6h-1.6zM168.5 306.5h1.6v1.6h-1.6zM168.5 312h1.6v1.6h-1.6zM168.5 313.5h1.6v1.6h-1.6zM168.5 315h1.6v1.6h-1.6zM168.5 318h1.6v1.6h-1.6zM169 297.5h1.6v1.6h-1.6zM169 311.5h1.6v1.6h-1.6zM169 315.5h1.6v1.6h-1.6zM169 317h1.6v1.6h-1.6zM169.5 310h1.6v1.6h-1.6zM169.5 311h1.6v1.6h-1.6zM169.5 316h1.6v1.6h-1.6zM169.5 316.5h1.6v1.6h-1.6zM169.5 317h1.6v1.6h-1.6zM170 307h1.6v1.6h-1.6zM170 315.5h1.6v1.6h-1.6zM170 317.5h1.6v1.6h-1.6zM170.5 297h1.6v1.6h-1.6zM170.5 317.5h1.6v1.6h-1.6zM170.5 323.5h1.6v1.6h-1.6zM171 309.5h1.6v1.6h-1.6zM171 311h1.6v1.6h-1.6zM171 312h1.6v1.6h-1.6zM171 314h1.6v1.6h-1.6zM171 317h1.6v1.6h-1.6zM171 318.5h1.6v1.6h-1.6zM171 321.5h1.6v1.6h-1.6zM171 322.5h1.6v1.6h-1.6zM171 323.5h1.6v1.6h-1.6zM171.5 315.5h1.6v1.6h-1.6zM171.5 316h1.6v1.6h-1.6zM171.5 317.5h1.6v1.6h-1.6zM171.5 321h1.6v1.6h-1.6zM172 309h1.6v1.6h-1.6zM172 312.5h1.6v1.6h-1.6zM172 314h1.6v1.6h-1.6zM172 315h1.6v1.6h-1.6zM172 317.5h1.6v1.6h-1.6zM172 318h1.6v1.6h-1.6zM172 319h1.6v1.6h-1.6zM172 321h1.6v1.6h-1.6zM172.5 295.5h1.6v1.6h-1.6zM172.5 313h1.6v1.6h-1.6zM172.5 317h1.6v1.6h-1.6zM172.5 318.5h1.6v1.6h-1.6zM172.5 319.5h1.6v1.6h-1.6zM172.5 322.5h1.6v1.6h-1.6zM173 294.5h1.6v1.6h-1.6zM173 311.5h1.6v1.6h-1.6zM173 313h1.6v1.6h-1.6zM173 318.5h1.6v1.6h-1.6zM173 321h1.6v1.6h-1.6zM173.5 299.5h1.6v1.6h-1.6zM173.5 312.5h1.6v1.6h-1.6zM173.5 317h1.6v1.6h-1.6zM173.5 318h1.6v1.6h-1.6zM174 301h1.6v1.6h-1.6zM174 307.5h1.6v1.6h-1.6zM174 310h1.6v1.6h-1.6zM174 311.5h1.6v1.6h-1.6zM174 312.5h1.6v1.6h-1.6zM174 313h1.6v1.6h-1.6zM174 315h1.6v1.6h-1.6zM174 315.5h1.6v1.6h-1.6zM174 316h1.6v1.6h-1.6zM174 316.5h1.6v1.6h-1.6zM174 317h1.6v1.6h-1.6zM174.5 310.5h1.6v1.6h-1.6zM174.5 311.5h1.6v1.6h-1.6zM174.5 317h1.6v1.6h-1.6zM174.5 317.5h1.6v1.6h-1.6zM175 309.5h1.6v1.6h-1.6zM175 314h1.6v1.6h-1.6zM175 315h1.6v1.6h-1.6zM175 318h1.6v1.6h-1.6zM175 319.5h1.6v1.6h-1.6zM175.5 299h1.6v1.6h-1.6zM175.5 313h1.6v1.6h-1.6zM175.5 319.5h1.6v1.6h-1.6zM176 294.5h1.6v1.6h-1.6zM176 316.5h1.6v1.6h-1.6zM176.5 310.5h1.6v1.6h-1.6zM176.5 315h1.6v1.6h-1.6zM177 296h1.6v1.6h-1.6zM177 308.5h1.6v1.6h-1.6zM177 313.5h1.6v1.6h-1.6zM177 315h1.6v1.6h-1.6zM177 316h1.6v1.6h-1.6zM177 318h1.6v1.6h-1.6zM177 318.5h1.6v1.6h-1.6zM177 321h1.6v1.6h-1.6zM177 322.5h1.6v1.6h-1.6zM177.5 312h1.6v1.6h-1.6zM177.5 318h1.6v1.6h-1.6zM177.5 318.5h1.6v1.6h-1.6zM177.5 320h1.6v1.6h-1.6zM177.5 321.5h1.6v1.6h-1.6zM177.5 323h1.6v1.6h-1.6zM178 299.5h1.6v1.6h-1.6zM178 310h1.6v1.6h-1.6zM178 313.5h1.6v1.6h-1.6zM178 314h1.6v1.6h-1.6zM178 314.5h1.6v1.6h-1.6zM178 319h1.6v1.6h-1.6zM178 320h1.6v1.6h-1.6zM178 325h1.6v1.6h-1.6zM178.5 299.5h1.6v1.6h-1.6zM178.5 314h1.6v1.6h-1.6zM178.5 315h1.6v1.6h-1.6zM178.5 316.5h1.6v1.6h-1.6zM178.5 319h1.6v1.6h-1.6zM179 296h1.6v1.6h-1.6zM179 313h1.6v1.6h-1.6zM179 314h1.6v1.6h-1.6zM179 315h1.6v1.6h-1.6zM179.5 297h1.6v1.6h-1.6zM179.5 302h1.6v1.6h-1.6zM179.5 314h1.6v1.6h-1.6zM179.5 317.5h1.6v1.6h-1.6zM179.5 318h1.6v1.6h-1.6zM179.5 319.5h1.6v1.6h-1.6zM179.5 321h1.6v1.6h-1.6zM180 313h1.6v1.6h-1.6zM180 313.5h1.6v1.6h-1.6zM180 314h1.6v1.6h-1.6zM180 314.5h1.6v1.6h-1.6zM180 316.5h1.6v1.6h-1.6zM180 319h1.6v1.6h-1.6zM180 319.5h1.6v1.6h-1.6zM180 322.5h1.6v1.6h-1.6zM180.5 295.5h1.6v1.6h-1.6zM180.5 299h1.6v1.6h-1.6zM180.5 310h1.6v1.6h-1.6zM180.5 311h1.6v1.6h-1.6zM180.5 316h1.6v1.6h-1.6zM181 311h1.6v1.6h-1.6zM181 312h1.6v1.6h-1.6zM181 313.5h1.6v1.6h-1.6zM181 314.5h1.6v1.6h-1.6zM181 317h1.6v1.6h-1.6zM181.5 303h1.6v1.6h-1.6zM181.5 309.5h1.6v1.6h-1.6zM181.5 311.5h1.6v1.6h-1.6zM181.5 315h1.6v1.6h-1.6zM181.5 315.5h1.6v1.6h-1.6zM181.5 320.5h1.6v1.6h-1.6zM182 282.5h1.6v1.6h-1.6zM182 299.5h1.6v1.6h-1.6zM182 300h1.6v1.6h-1.6zM182 301.5h1.6v1.6h-1.6zM182 310.5h1.6v1.6h-1.6zM182 311h1.6v1.6h-1.6zM182 313h1.6v1.6h-1.6zM182 314.5h1.6v1.6h-1.6zM182.5 297h1.6v1.6h-1.6zM182.5 314.5h1.6v1.6h-1.6zM182.5 316h1.6v1.6h-1.6zM183 306.5h1.6v1.6h-1.6zM183 312h1.6v1.6h-1.6zM183 313h1.6v1.6h-1.6zM183 313.5h1.6v1.6h-1.6zM183 315.5h1.6v1.6h-1.6zM183 316.5h1.6v1.6h-1.6zM183.5 305h1.6v1.6h-1.6zM183.5 308.5h1.6v1.6h-1.6zM183.5 313.5h1.6v1.6h-1.6zM183.5 315.5h1.6v1.6h-1.6zM183.5 316.5h1.6v1.6h-1.6zM183.5 318h1.6v1.6h-1.6zM184 303.5h1.6v1.6h-1.6zM184 305h1.6v1.6h-1.6zM184 309.5h1.6v1.6h-1.6zM184.5 300.5h1.6v1.6h-1.6zM184.5 304h1.6v1.6h-1.6zM184.5 305h1.6v1.6h-1.6zM184.5 306.5h1.6v1.6h-1.6zM184.5 308.5h1.6v1.6h-1.6zM184.5 311.5h1.6v1.6h-1.6zM184.5 312.5h1.6v1.6h-1.6zM185 293.5h1.6v1.6h-1.6zM185 306h1.6v1.6h-1.6zM185 311.5h1.6v1.6h-1.6zM185 315h1.6v1.6h-1.6zM185.5 310h1.6v1.6h-1.6zM185.5 310.5h1.6v1.6h-1.6zM185.5 313h1.6v1.6h-1.6zM185.5 313.5h1.6v1.6h-1.6zM185.5 315h1.6v1.6h-1.6zM185.5 319h1.6v1.6h-1.6zM186 308.5h1.6v1.6h-1.6zM186 309.5h1.6v1.6h-1.6zM186 313h1.6v1.6h-1.6zM186 313.5h1.6v1.6h-1.6zM186.5 309.5h1.6v1.6h-1.6zM186.5 310h1.6v1.6h-1.6zM186.5 311.5h1.6v1.6h-1.6zM186.5 313.5h1.6v1.6h-1.6zM186.5 317h1.6v1.6h-1.6zM187 299h1.6v1.6h-1.6zM187 302.5h1.6v1.6h-1.6zM187 303h1.6v1.6h-1.6zM187 304h1.6v1.6h-1.6zM187 308.5h1.6v1.6h-1.6zM187 314.5h1.6v1.6h-1.6zM187.5 310h1.6v1.6h-1.6zM187.5 313.5h1.6v1.6h-1.6zM187.5 314.5h1.6v1.6h-1.6zM187.5 315.5h1.6v1.6h-1.6zM188 307h1.6v1.6h-1.6zM188 307.5h1.6v1.6h-1.6zM188 308.5h1.6v1.6h-1.6zM188 311.5h1.6v1.6h-1.6zM188 313h1.6v1.6h-1.6zM188 315h1.6v1.6h-1.6zM188 315.5h1.6v1.6h-1.6zM188.5 304h1.6v1.6h-1.6zM188.5 307.5h1.6v1.6h-1.6zM188.5 309h1.6v1.6h-1.6zM189 303h1.6v1.6h-1.6zM189 305.5h1.6v1.6h-1.6zM189 312h1.6v1.6h-1.6zM189 313h1.6v1.6h-1.6zM189 315h1.6v1.6h-1.6zM189 317h1.6v1.6h-1.6zM189.5 307h1.6v1.6h-1.6zM189.5 309h1.6v1.6h-1.6zM189.5 309.5h1.6v1.6h-1.6zM189.5 310.5h1.6v1.6h-1.6zM189.5 315h1.6v1.6h-1.6zM190 294.5h1.6v1.6h-1.6zM190 305h1.6v1.6h-1.6zM190 305.5h1.6v1.6h-1.6zM190 306h1.6v1.6h-1.6zM190 310h1.6v1.6h-1.6zM190 311.5h1.6v1.6h-1.6zM190.5 305.5h1.6v1.6h-1.6zM190.5 309.5h1.6v1.6h-1.6zM190.5 311h1.6v1.6h-1.6zM190.5 312h1.6v1.6h-1.6zM190.5 314h1.6v1.6h-1.6zM190.5 315h1.6v1.6h-1.6zM190.5 315.5h1.6v1.6h-1.6zM190.5 316h1.6v1.6h-1.6zM191 300h1.6v1.6h-1.6zM191 310.5h1.6v1.6h-1.6zM191 311h1.6v1.6h-1.6zM191 312.5h1.6v1.6h-1.6zM191.5 299h1.6v1.6h-1.6zM191.5 308h1.6v1.6h-1.6zM191.5 309.5h1.6v1.6h-1.6zM191.5 313.5h1.6v1.6h-1.6zM191.5 314h1.6v1.6h-1.6zM192 293h1.6v1.6h-1.6zM192 312h1.6v1.6h-1.6zM192 315h1.6v1.6h-1.6zM192 316h1.6v1.6h-1.6zM192.5 307.5h1.6v1.6h-1.6zM192.5 308.5h1.6v1.6h-1.6zM193 308.5h1.6v1.6h-1.6zM193 309h1.6v1.6h-1.6zM193 312h1.6v1.6h-1.6zM193.5 296.5h1.6v1.6h-1.6zM193.5 305h1.6v1.6h-1.6zM193.5 306h1.6v1.6h-1.6zM193.5 306.5h1.6v1.6h-1.6zM193.5 308.5h1.6v1.6h-1.6zM193.5 309h1.6v1.6h-1.6zM193.5 309.5h1.6v1.6h-1.6zM193.5 312h1.6v1.6h-1.6zM194 295.5h1.6v1.6h-1.6zM194 301.5h1.6v1.6h-1.6zM194 303h1.6v1.6h-1.6zM194 306h1.6v1.6h-1.6zM194 308.5h1.6v1.6h-1.6zM194 309h1.6v1.6h-1.6zM194.5 301.5h1.6v1.6h-1.6zM195 300h1.6v1.6h-1.6zM195 302.5h1.6v1.6h-1.6zM195 303h1.6v1.6h-1.6zM195 305h1.6v1.6h-1.6zM195 308h1.6v1.6h-1.6zM195 309h1.6v1.6h-1.6zM195.5 294.5h1.6v1.6h-1.6zM195.5 298.5h1.6v1.6h-1.6zM195.5 301h1.6v1.6h-1.6zM195.5 303.5h1.6v1.6h-1.6zM195.5 304.5h1.6v1.6h-1.6zM196 300h1.6v1.6h-1.6zM196 300.5h1.6v1.6h-1.6zM196 301h1.6v1.6h-1.6zM196 303h1.6v1.6h-1.6zM196 304h1.6v1.6h-1.6zM196 305h1.6v1.6h-1.6zM196.5 300.5h1.6v1.6h-1.6zM196.5 303h1.6v1.6h-1.6zM197 289.5h1.6v1.6h-1.6zM197 302h1.6v1.6h-1.6zM197 303.5h1.6v1.6h-1.6zM197 305h1.6v1.6h-1.6zM197 305.5h1.6v1.6h-1.6zM197 306h1.6v1.6h-1.6zM197.5 302.5h1.6v1.6h-1.6zM197.5 303h1.6v1.6h-1.6zM197.5 307.5h1.6v1.6h-1.6zM198 300.5h1.6v1.6h-1.6zM198 305.5h1.6v1.6h-1.6zM198 307.5h1.6v1.6h-1.6zM198 308h1.6v1.6h-1.6zM198 309h1.6v1.6h-1.6zM198.5 294h1.6v1.6h-1.6zM198.5 303.5h1.6v1.6h-1.6zM198.5 304.5h1.6v1.6h-1.6zM198.5 307.5h1.6v1.6h-1.6zM199 309h1.6v1.6h-1.6zM199 310h1.6v1.6h-1.6zM199 313.5h1.6v1.6h-1.6zM199.5 303h1.6v1.6h-1.6zM199.5 307.5h1.6v1.6h-1.6zM199.5 309h1.6v1.6h-1.6zM200 307h1.6v1.6h-1.6zM200.5 301.5h1.6v1.6h-1.6zM200.5 305.5h1.6v1.6h-1.6zM200.5 309h1.6v1.6h-1.6zM200.5 310.5h1.6v1.6h-1.6zM200.5 313h1.6v1.6h-1.6zM200.5 319.5h1.6v1.6h-1.6zM201 308.5h1.6v1.6h-1.6zM201 311h1.6v1.6h-1.6zM201 311.5h1.6v1.6h-1.6zM201 312h1.6v1.6h-1.6zM201 315.5h1.6v1.6h-1.6zM201 316.5h1.6v1.6h-1.6zM201 318h1.6v1.6h-1.6zM201 319.5h1.6v1.6h-1.6zM201.5 310h1.6v1.6h-1.6zM201.5 316.5h1.6v1.6h-1.6zM201.5 319.5h1.6v1.6h-1.6zM202 300h1.6v1.6h-1.6zM202 306.5h1.6v1.6h-1.6zM202 310h1.6v1.6h-1.6zM202 312h1.6v1.6h-1.6zM202 313h1.6v1.6h-1.6zM202 317.5h1.6v1.6h-1.6zM202.5 299.5h1.6v1.6h-1.6zM202.5 310h1.6v1.6h-1.6zM202.5 311h1.6v1.6h-1.6zM202.5 313h1.6v1.6h-1.6zM202.5 314h1.6v1.6h-1.6zM203 306.5h1.6v1.6h-1.6zM203 310h1.6v1.6h-1.6zM203 313.5h1.6v1.6h-1.6zM203.5 311h1.6v1.6h-1.6zM203.5 311.5h1.6v1.6h-1.6zM203.5 312h1.6v1.6h-1.6zM203.5 313h1.6v1.6h-1.6zM203.5 317h1.6v1.6h-1.6zM203.5 318.5h1.6v1.6h-1.6zM203.5 319h1.6v1.6h-1.6zM204 303h1.6v1.6h-1.6zM204 307.5h1.6v1.6h-1.6zM204 308h1.6v1.6h-1.6zM204 311h1.6v1.6h-1.6zM204 312.5h1.6v1.6h-1.6zM204.5 305h1.6v1.6h-1.6zM204.5 308.5h1.6v1.6h-1.6zM204.5 310h1.6v1.6h-1.6zM204.5 317.5h1.6v1.6h-1.6zM205 297h1.6v1.6h-1.6zM205 308.5h1.6v1.6h-1.6zM205 309.5h1.6v1.6h-1.6zM205 314.5h1.6v1.6h-1.6zM205.5 306h1.6v1.6h-1.6zM205.5 308h1.6v1.6h-1.6zM205.5 308.5h1.6v1.6h-1.6zM205.5 311h1.6v1.6h-1.6zM206 310h1.6v1.6h-1.6zM206 312h1.6v1.6h-1.6zM206 312.5h1.6v1.6h-1.6zM206 313h1.6v1.6h-1.6zM206 315h1.6v1.6h-1.6zM206.5 295.5h1.6v1.6h-1.6zM206.5 305.5h1.6v1.6h-1.6zM207 305.5h1.6v1.6h-1.6zM207 306h1.6v1.6h-1.6zM207 310h1.6v1.6h-1.6zM207 312h1.6v1.6h-1.6zM207 315.5h1.6v1.6h-1.6zM207.5 274h1.6v1.6h-1.6zM207.5 281h1.6v1.6h-1.6zM207.5 287.5h1.6v1.6h-1.6zM207.5 297h1.6v1.6h-1.6zM207.5 301h1.6v1.6h-1.6zM207.5 305.5h1.6v1.6h-1.6zM207.5 306h1.6v1.6h-1.6zM207.5 306.5h1.6v1.6h-1.6zM207.5 310.5h1.6v1.6h-1.6zM207.5 312.5h1.6v1.6h-1.6zM207.5 315.5h1.6v1.6h-1.6zM208 241.5h1.6v1.6h-1.6zM208 246h1.6v1.6h-1.6zM208 255h1.6v1.6h-1.6zM208 259.5h1.6v1.6h-1.6zM208 261.5h1.6v1.6h-1.6zM208 262.5h1.6v1.6h-1.6zM208 271.5h1.6v1.6h-1.6zM208 277h1.6v1.6h-1.6zM208 292.5h1.6v1.6h-1.6zM208 299.5h1.6v1.6h-1.6zM208 305h1.6v1.6h-1.6zM208 306h1.6v1.6h-1.6zM208 306.5h1.6v1.6h-1.6zM208 310.5h1.6v1.6h-1.6zM208.5 241.5h1.6v1.6h-1.6zM208.5 247h1.6v1.6h-1.6zM208.5 250.5h1.6v1.6h-1.6zM208.5 264.5h1.6v1.6h-1.6zM208.5 269h1.6v1.6h-1.6zM208.5 276h1.6v1.6h-1.6zM208.5 284h1.6v1.6h-1.6zM208.5 304.5h1.6v1.6h-1.6zM208.5 307.5h1.6v1.6h-1.6zM208.5 308.5h1.6v1.6h-1.6zM208.5 311h1.6v1.6h-1.6zM209 303.5h1.6v1.6h-1.6zM209 306h1.6v1.6h-1.6zM209 309.5h1.6v1.6h-1.6zM209.5 306h1.6v1.6h-1.6zM209.5 310.5h1.6v1.6h-1.6zM209.5 313.5h1.6v1.6h-1.6zM210 294h1.6v1.6h-1.6zM210 308h1.6v1.6h-1.6zM210 311.5h1.6v1.6h-1.6zM210 313.5h1.6v1.6h-1.6zM210 314h1.6v1.6h-1.6zM210 314.5h1.6v1.6h-1.6zM210.5 294h1.6v1.6h-1.6zM210.5 308.5h1.6v1.6h-1.6zM210.5 312h1.6v1.6h-1.6zM210.5 312.5h1.6v1.6h-1.6zM210.5 313.5h1.6v1.6h-1.6zM211 305.5h1.6v1.6h-1.6zM211 308h1.6v1.6h-1.6zM211 312h1.6v1.6h-1.6zM211 313h1.6v1.6h-1.6zM211.5 294h1.6v1.6h-1.6zM211.5 306h1.6v1.6h-1.6zM211.5 308h1.6v1.6h-1.6zM211.5 310h1.6v1.6h-1.6zM211.5 311.5h1.6v1.6h-1.6zM211.5 314.5h1.6v1.6h-1.6zM212 306h1.6v1.6h-1.6zM212 310h1.6v1.6h-1.6zM212 311h1.6v1.6h-1.6zM212 312h1.6v1.6h-1.6zM212 312.5h1.6v1.6h-1.6zM212 313.5h1.6v1.6h-1.6zM212 315h1.6v1.6h-1.6zM212 315.5h1.6v1.6h-1.6zM212 316.5h1.6v1.6h-1.6zM213 295.5h1.6v1.6h-1.6zM213 303h1.6v1.6h-1.6zM213 311.5h1.6v1.6h-1.6zM213 316h1.6v1.6h-1.6zM213.5 313h1.6v1.6h-1.6z" fill="#00007f"/>
<line x1="43.5" y1="236.9" x2="217" y2="236.9" stroke="#999" stroke-width="1.3" stroke-dasharray="4.1 2.65"/>
<line x1="42.5" y1="202" x2="42.5" y2="338.8" stroke="#222" stroke-width="1"/>
<line x1="38.5" y1="338.8" x2="42.5" y2="338.8" stroke="#222" stroke-width="1"/>
<text x="33.8" y="342.8" font-size="11" text-anchor="end" class="h">0</text>
<text x="33.8" y="342.8" font-size="11" text-anchor="end" class="k">0</text>
<line x1="38.5" y1="304.6" x2="42.5" y2="304.6" stroke="#222" stroke-width="1"/>
<text x="33.8" y="308.6" font-size="11" text-anchor="end" class="h">2</text>
<text x="33.8" y="308.6" font-size="11" text-anchor="end" class="k">2</text>
<line x1="38.5" y1="270.4" x2="42.5" y2="270.4" stroke="#222" stroke-width="1"/>
<text x="33.8" y="274.4" font-size="11" text-anchor="end" class="h">4</text>
<text x="33.8" y="274.4" font-size="11" text-anchor="end" class="k">4</text>
<line x1="38.5" y1="236.2" x2="42.5" y2="236.2" stroke="#222" stroke-width="1"/>
<text x="33.8" y="240.2" font-size="11" text-anchor="end" class="h">6</text>
<text x="33.8" y="240.2" font-size="11" text-anchor="end" class="k">6</text>
<line x1="38.5" y1="202" x2="42.5" y2="202" stroke="#222" stroke-width="1"/>
<text x="33.8" y="206" font-size="11" text-anchor="end" class="h">8</text>
<text x="33.8" y="206" font-size="11" text-anchor="end" class="k">8</text>
<line x1="46.9" y1="339.8" x2="46.9" y2="343.8" stroke="#333" stroke-width="1.4"/>
<text x="46.9" y="359" font-size="11" text-anchor="middle">0</text>
<line x1="72.35" y1="339.8" x2="72.35" y2="343.8" stroke="#333" stroke-width="1.4"/>
<text x="72.35" y="359" font-size="11" text-anchor="middle">10</text>
<line x1="97.8" y1="339.8" x2="97.8" y2="343.8" stroke="#333" stroke-width="1.4"/>
<text x="97.8" y="359" font-size="11" text-anchor="middle">20</text>
<line x1="123.25" y1="339.8" x2="123.25" y2="343.8" stroke="#333" stroke-width="1.4"/>
<text x="123.25" y="359" font-size="11" text-anchor="middle">30</text>
<line x1="148.7" y1="339.8" x2="148.7" y2="343.8" stroke="#333" stroke-width="1.4"/>
<text x="148.7" y="359" font-size="11" text-anchor="middle">40</text>
<line x1="174.15" y1="339.8" x2="174.15" y2="343.8" stroke="#333" stroke-width="1.4"/>
<text x="174.15" y="359" font-size="11" text-anchor="middle">50</text>
<line x1="199.6" y1="339.8" x2="199.6" y2="343.8" stroke="#333" stroke-width="1.4"/>
<text x="199.6" y="359" font-size="11" text-anchor="middle">60</text>
<text x="123" y="376.5" font-size="11.15" text-anchor="middle">Chromosome D08 (Mb)</text>
<text x="126" y="214.5" font-size="11" text-anchor="middle">BN</text>
<line x1="55" y1="201" x2="55" y2="207.5" stroke="#000" stroke-width="1.8"/>
<path d="M51 207L59 207L55 212Z" fill="#000"/>
<text x="10" y="272.4" font-size="11" text-anchor="middle" transform="rotate(-90 10 272.4)" class="h">−log<tspan font-size="7.9" dy="3">10</tspan><tspan dy="-3">(</tspan><tspan font-style="italic">P</tspan>)</text>
<text x="10" y="272.4" font-size="11" text-anchor="middle" transform="rotate(-90 10 272.4)" class="k">−log<tspan font-size="7.9" dy="3">10</tspan><tspan dy="-3">(</tspan><tspan font-style="italic">P</tspan>)</text>
<path d="M45.5 544L45.5 525.09L46.5 525.09L46.5 522.86L47.5 522.86L47.5 522.97L48.5 522.97L48.5 520.05L49.5 520.05L49.5 520.67L50.5 520.67L50.5 512.18L51.5 512.18L51.5 506.99L52.5 506.99L52.5 499.92L53.5 499.92L53.5 476.77L54.5 476.77L54.5 476.88L55.5 476.88L55.5 495.73L56.5 495.73L56.5 502.18L57.5 502.18L57.5 514.76L58.5 514.76L58.5 508.44L59.5 508.44L59.5 507.23L60.5 507.23L60.5 507.54L61.5 507.54L61.5 511.12L62.5 511.12L62.5 510.43L63.5 510.43L63.5 513.77L64.5 513.77L64.5 518.61L65.5 518.61L65.5 511.94L66.5 511.94L66.5 515.64L67.5 515.64L67.5 516.34L68.5 516.34L68.5 516.5L69.5 516.5L69.5 513.17L70.5 513.17L70.5 512.79L71.5 512.79L71.5 511.63L72.5 511.63L72.5 519.02L73.5 519.02L73.5 512.69L74.5 512.69L74.5 515.56L75.5 515.56L75.5 519.42L76.5 519.42L76.5 515.87L77.5 515.87L77.5 522.86L78.5 522.86L78.5 512.36L79.5 512.36L79.5 518.65L80.5 518.65L80.5 520.64L81.5 520.64L81.5 516.95L82.5 516.95L82.5 517.69L83.5 517.69L83.5 519.2L84.5 519.2L84.5 511.84L85.5 511.84L85.5 501.64L86.5 501.64L86.5 503.93L87.5 503.93L87.5 511.43L88.5 511.43L88.5 509.61L89.5 509.61L89.5 509.63L90.5 509.63L90.5 508.37L91.5 508.37L91.5 507.24L92.5 507.24L92.5 504.61L93.5 504.61L93.5 504.44L94.5 504.44L94.5 506.3L95.5 506.3L95.5 504.37L96.5 504.37L96.5 504.63L97.5 504.63L97.5 502.65L98.5 502.65L98.5 504.52L99.5 504.52L99.5 508.57L100.5 508.57L100.5 502.29L101.5 502.29L101.5 509.49L102.5 509.49L102.5 507.27L103.5 507.27L103.5 514.1L104.5 514.1L104.5 521.71L105.5 521.71L105.5 522.57L106.5 522.57L106.5 522.23L107.5 522.23L107.5 518.64L108.5 518.64L108.5 526.45L109.5 526.45L109.5 513.51L110.5 513.51L110.5 518.37L111.5 518.37L111.5 516.2L112.5 516.2L112.5 517.06L113.5 517.06L113.5 515.08L114.5 515.08L114.5 517.81L115.5 517.81L115.5 517.74L116.5 517.74L116.5 514.66L117.5 514.66L117.5 519.95L118.5 519.95L118.5 516.45L119.5 516.45L119.5 519.33L120.5 519.33L120.5 518.12L121.5 518.12L121.5 519.1L122.5 519.1L122.5 514.88L123.5 514.88L123.5 516.58L124.5 516.58L124.5 516.83L125.5 516.83L125.5 514.44L126.5 514.44L126.5 521.23L127.5 521.23L127.5 518.66L128.5 518.66L128.5 512.33L129.5 512.33L129.5 520.43L130.5 520.43L130.5 513.73L131.5 513.73L131.5 515.88L132.5 515.88L132.5 520.99L133.5 520.99L133.5 516.7L134.5 516.7L134.5 518.88L135.5 518.88L135.5 518.54L136.5 518.54L136.5 516.96L137.5 516.96L137.5 517.96L138.5 517.96L138.5 511.78L139.5 511.78L139.5 515.2L140.5 515.2L140.5 516.92L141.5 516.92L141.5 514.07L142.5 514.07L142.5 516.93L143.5 516.93L143.5 520.82L144.5 520.82L144.5 523.23L145.5 523.23L145.5 519.37L146.5 519.37L146.5 519.62L147.5 519.62L147.5 514.65L148.5 514.65L148.5 513.24L149.5 513.24L149.5 515.71L150.5 515.71L150.5 520.68L151.5 520.68L151.5 522.65L152.5 522.65L152.5 517.74L153.5 517.74L153.5 516.61L154.5 516.61L154.5 519.35L155.5 519.35L155.5 518.25L156.5 518.25L156.5 517.25L157.5 517.25L157.5 522.12L158.5 522.12L158.5 516.62L159.5 516.62L159.5 519.28L160.5 519.28L160.5 514.04L161.5 514.04L161.5 520.19L162.5 520.19L162.5 515.66L163.5 515.66L163.5 523.68L164.5 523.68L164.5 520.43L165.5 520.43L165.5 519.74L166.5 519.74L166.5 520.55L167.5 520.55L167.5 524.63L168.5 524.63L168.5 524.56L169.5 524.56L169.5 513.35L170.5 513.35L170.5 521.85L171.5 521.85L171.5 521.56L172.5 521.56L172.5 519.04L173.5 519.04L173.5 519.39L174.5 519.39L174.5 522.32L175.5 522.32L175.5 521.23L176.5 521.23L176.5 518.37L177.5 518.37L177.5 524.11L178.5 524.11L178.5 519.18L179.5 519.18L179.5 517.91L180.5 517.91L180.5 516.12L181.5 516.12L181.5 520.37L182.5 520.37L182.5 517.67L183.5 517.67L183.5 518.24L184.5 518.24L184.5 521.04L185.5 521.04L185.5 517.45L186.5 517.45L186.5 522.48L187.5 522.48L187.5 516.94L188.5 516.94L188.5 516.9L189.5 516.9L189.5 514.31L190.5 514.31L190.5 520.79L191.5 520.79L191.5 519.12L192.5 519.12L192.5 514.69L193.5 514.69L193.5 515.08L194.5 515.08L194.5 515.96L195.5 515.96L195.5 519.89L196.5 519.89L196.5 523.38L197.5 523.38L197.5 518.56L198.5 518.56L198.5 522.63L199.5 522.63L199.5 516.45L200.5 516.45L200.5 517.67L201.5 517.67L201.5 516.98L202.5 516.98L202.5 513.25L203.5 513.25L203.5 513.11L204.5 513.11L204.5 517.88L205.5 517.88L205.5 514.84L206.5 514.84L206.5 517.97L207.5 517.97L207.5 512.06L208.5 512.06L208.5 520.95L209.5 520.95L209.5 514.06L210.5 514.06L210.5 520.7L211.5 520.7L211.5 517.66L212.5 517.66L212.5 515.74L213.5 515.74L213.6 544Z" fill="#00007f"/>
<path d="M45 505.5h1.6v1.6h-1.6zM45 512.5h1.6v1.6h-1.6zM45 519h1.6v1.6h-1.6zM45 526h1.6v1.6h-1.6zM45.5 513h1.6v1.6h-1.6zM45.5 515.5h1.6v1.6h-1.6zM45.5 518h1.6v1.6h-1.6zM45.5 521.5h1.6v1.6h-1.6zM45.5 522h1.6v1.6h-1.6zM45.5 523h1.6v1.6h-1.6zM45.5 526.5h1.6v1.6h-1.6zM46 516h1.6v1.6h-1.6zM46 516.5h1.6v1.6h-1.6zM46 519h1.6v1.6h-1.6zM46 519.5h1.6v1.6h-1.6zM46.5 501h1.6v1.6h-1.6zM46.5 521.5h1.6v1.6h-1.6zM46.5 522.5h1.6v1.6h-1.6zM46.5 523h1.6v1.6h-1.6zM47 493.5h1.6v1.6h-1.6zM47 515.5h1.6v1.6h-1.6zM47 519.5h1.6v1.6h-1.6zM47 520h1.6v1.6h-1.6zM47 523.5h1.6v1.6h-1.6zM47 524h1.6v1.6h-1.6zM47.5 500h1.6v1.6h-1.6zM47.5 508.5h1.6v1.6h-1.6zM47.5 514h1.6v1.6h-1.6zM47.5 516h1.6v1.6h-1.6zM47.5 518h1.6v1.6h-1.6zM47.5 518.5h1.6v1.6h-1.6zM47.5 519.5h1.6v1.6h-1.6zM47.5 521.5h1.6v1.6h-1.6zM47.5 522h1.6v1.6h-1.6zM47.5 522.5h1.6v1.6h-1.6zM48 509h1.6v1.6h-1.6zM48 512h1.6v1.6h-1.6zM48 512.5h1.6v1.6h-1.6zM48 515h1.6v1.6h-1.6zM48 520.5h1.6v1.6h-1.6zM48 525h1.6v1.6h-1.6zM48.5 505.5h1.6v1.6h-1.6zM48.5 508h1.6v1.6h-1.6zM48.5 512h1.6v1.6h-1.6zM48.5 514.5h1.6v1.6h-1.6zM48.5 520.5h1.6v1.6h-1.6zM48.5 521.5h1.6v1.6h-1.6zM49 500.5h1.6v1.6h-1.6zM49 509.5h1.6v1.6h-1.6zM49 512.5h1.6v1.6h-1.6zM49 513.5h1.6v1.6h-1.6zM49 515.5h1.6v1.6h-1.6zM49 517h1.6v1.6h-1.6zM49 518h1.6v1.6h-1.6zM49 519.5h1.6v1.6h-1.6zM49 522h1.6v1.6h-1.6zM49.5 506.5h1.6v1.6h-1.6zM49.5 510.5h1.6v1.6h-1.6zM49.5 513h1.6v1.6h-1.6zM49.5 518.5h1.6v1.6h-1.6zM49.5 519h1.6v1.6h-1.6zM50 500.5h1.6v1.6h-1.6zM50 504.5h1.6v1.6h-1.6zM50 505h1.6v1.6h-1.6zM50 507.5h1.6v1.6h-1.6zM50 509h1.6v1.6h-1.6zM50 509.5h1.6v1.6h-1.6zM50 512h1.6v1.6h-1.6zM50 512.5h1.6v1.6h-1.6zM50 513.5h1.6v1.6h-1.6zM50 514.5h1.6v1.6h-1.6zM50 520.5h1.6v1.6h-1.6zM50.5 507.5h1.6v1.6h-1.6zM50.5 513h1.6v1.6h-1.6zM50.5 513.5h1.6v1.6h-1.6zM51 501.5h1.6v1.6h-1.6zM51 504h1.6v1.6h-1.6zM51 507h1.6v1.6h-1.6zM51 510h1.6v1.6h-1.6zM51 512h1.6v1.6h-1.6zM51.5 498.5h1.6v1.6h-1.6zM51.5 501h1.6v1.6h-1.6zM51.5 501.5h1.6v1.6h-1.6zM51.5 502h1.6v1.6h-1.6zM51.5 502.5h1.6v1.6h-1.6zM51.5 507h1.6v1.6h-1.6zM51.5 509h1.6v1.6h-1.6zM51.5 513h1.6v1.6h-1.6zM52 482.5h1.6v1.6h-1.6zM52 489.5h1.6v1.6h-1.6zM52 494h1.6v1.6h-1.6zM52 500h1.6v1.6h-1.6zM52 501h1.6v1.6h-1.6zM52 509h1.6v1.6h-1.6zM52.5 477.5h1.6v1.6h-1.6zM52.5 481.5h1.6v1.6h-1.6zM52.5 490h1.6v1.6h-1.6zM52.5 491h1.6v1.6h-1.6zM52.5 496h1.6v1.6h-1.6zM52.5 497h1.6v1.6h-1.6zM52.5 498.5h1.6v1.6h-1.6zM52.5 500.5h1.6v1.6h-1.6zM53 462.5h1.6v1.6h-1.6zM53 468.5h1.6v1.6h-1.6zM53 469h1.6v1.6h-1.6zM53 471h1.6v1.6h-1.6zM53 474.5h1.6v1.6h-1.6zM53 475h1.6v1.6h-1.6zM53 477h1.6v1.6h-1.6zM53 480h1.6v1.6h-1.6zM53 488.5h1.6v1.6h-1.6zM53 491h1.6v1.6h-1.6zM53 501.5h1.6v1.6h-1.6zM53.5 444.5h1.6v1.6h-1.6zM53.5 453.5h1.6v1.6h-1.6zM53.5 456h1.6v1.6h-1.6zM53.5 473h1.6v1.6h-1.6zM53.5 475.5h1.6v1.6h-1.6zM53.5 477h1.6v1.6h-1.6zM53.5 479h1.6v1.6h-1.6zM53.5 489.5h1.6v1.6h-1.6zM53.5 492h1.6v1.6h-1.6zM53.5 497.5h1.6v1.6h-1.6zM54 408.5h1.6v1.6h-1.6zM54 418.5h1.6v1.6h-1.6zM54 437h1.6v1.6h-1.6zM54 439.5h1.6v1.6h-1.6zM54 463h1.6v1.6h-1.6zM54 471h1.6v1.6h-1.6zM54 472.5h1.6v1.6h-1.6zM54 474h1.6v1.6h-1.6zM54 475h1.6v1.6h-1.6zM54.5 413h1.6v1.6h-1.6zM54.5 416h1.6v1.6h-1.6zM54.5 425h1.6v1.6h-1.6zM54.5 428.5h1.6v1.6h-1.6zM54.5 435h1.6v1.6h-1.6zM54.5 438h1.6v1.6h-1.6zM54.5 441.5h1.6v1.6h-1.6zM54.5 446h1.6v1.6h-1.6zM54.5 450h1.6v1.6h-1.6zM54.5 452.5h1.6v1.6h-1.6zM54.5 466h1.6v1.6h-1.6zM54.5 470.5h1.6v1.6h-1.6zM54.5 471.5h1.6v1.6h-1.6zM54.5 472h1.6v1.6h-1.6zM54.5 478h1.6v1.6h-1.6zM54.5 479h1.6v1.6h-1.6zM55 457h1.6v1.6h-1.6zM55 458.5h1.6v1.6h-1.6zM55 483h1.6v1.6h-1.6zM55 487.5h1.6v1.6h-1.6zM55 493.5h1.6v1.6h-1.6zM55 495.5h1.6v1.6h-1.6zM55 497h1.6v1.6h-1.6zM55 497.5h1.6v1.6h-1.6zM55.5 465.5h1.6v1.6h-1.6zM55.5 477h1.6v1.6h-1.6zM55.5 485.5h1.6v1.6h-1.6zM55.5 493h1.6v1.6h-1.6zM56 473.5h1.6v1.6h-1.6zM56 483.5h1.6v1.6h-1.6zM56 484h1.6v1.6h-1.6zM56 496h1.6v1.6h-1.6zM56 499h1.6v1.6h-1.6zM56 501.5h1.6v1.6h-1.6zM56.5 481.5h1.6v1.6h-1.6zM56.5 483.5h1.6v1.6h-1.6zM56.5 489h1.6v1.6h-1.6zM56.5 495h1.6v1.6h-1.6zM56.5 496h1.6v1.6h-1.6zM56.5 498.5h1.6v1.6h-1.6zM56.5 499.5h1.6v1.6h-1.6zM56.5 501h1.6v1.6h-1.6zM57 481h1.6v1.6h-1.6zM57 486.5h1.6v1.6h-1.6zM57 493.5h1.6v1.6h-1.6zM57 496h1.6v1.6h-1.6zM57 496.5h1.6v1.6h-1.6zM57 504h1.6v1.6h-1.6zM57 508h1.6v1.6h-1.6zM57 513.5h1.6v1.6h-1.6zM57 514h1.6v1.6h-1.6zM57 514.5h1.6v1.6h-1.6zM57 516h1.6v1.6h-1.6zM57 516.5h1.6v1.6h-1.6zM57.5 484h1.6v1.6h-1.6zM57.5 488h1.6v1.6h-1.6zM57.5 488.5h1.6v1.6h-1.6zM57.5 502h1.6v1.6h-1.6zM57.5 516h1.6v1.6h-1.6zM58 500h1.6v1.6h-1.6zM58 504h1.6v1.6h-1.6zM58 506.5h1.6v1.6h-1.6zM58 507.5h1.6v1.6h-1.6zM58 508h1.6v1.6h-1.6zM58 508.5h1.6v1.6h-1.6zM58 510.5h1.6v1.6h-1.6zM58 513h1.6v1.6h-1.6zM58.5 497.5h1.6v1.6h-1.6zM58.5 501.5h1.6v1.6h-1.6zM58.5 502.5h1.6v1.6h-1.6zM58.5 510h1.6v1.6h-1.6zM58.5 513.5h1.6v1.6h-1.6zM59 499h1.6v1.6h-1.6zM59 500h1.6v1.6h-1.6zM59 500.5h1.6v1.6h-1.6zM59 501h1.6v1.6h-1.6zM59 501.5h1.6v1.6h-1.6zM59 505h1.6v1.6h-1.6zM59 508h1.6v1.6h-1.6zM59.5 484h1.6v1.6h-1.6zM59.5 495.5h1.6v1.6h-1.6zM59.5 499.5h1.6v1.6h-1.6zM59.5 500h1.6v1.6h-1.6zM59.5 502h1.6v1.6h-1.6zM59.5 506.5h1.6v1.6h-1.6zM60 497h1.6v1.6h-1.6zM60 501h1.6v1.6h-1.6zM60 508.5h1.6v1.6h-1.6zM60.5 495h1.6v1.6h-1.6zM60.5 499h1.6v1.6h-1.6zM60.5 500h1.6v1.6h-1.6zM60.5 503.5h1.6v1.6h-1.6zM60.5 504h1.6v1.6h-1.6zM60.5 506h1.6v1.6h-1.6zM60.5 506.5h1.6v1.6h-1.6zM60.5 509h1.6v1.6h-1.6zM61 502.5h1.6v1.6h-1.6zM61 503h1.6v1.6h-1.6zM61 505.5h1.6v1.6h-1.6zM61 507h1.6v1.6h-1.6zM61 509.5h1.6v1.6h-1.6zM61 512h1.6v1.6h-1.6zM61 513h1.6v1.6h-1.6zM61.5 485h1.6v1.6h-1.6zM61.5 504h1.6v1.6h-1.6zM61.5 505h1.6v1.6h-1.6zM61.5 508h1.6v1.6h-1.6zM62 509.5h1.6v1.6h-1.6zM62 510.5h1.6v1.6h-1.6zM62.5 486.5h1.6v1.6h-1.6zM62.5 488h1.6v1.6h-1.6zM62.5 503h1.6v1.6h-1.6zM62.5 506.5h1.6v1.6h-1.6zM62.5 510.5h1.6v1.6h-1.6zM62.5 512h1.6v1.6h-1.6zM62.5 512.5h1.6v1.6h-1.6zM63 487.5h1.6v1.6h-1.6zM63 500h1.6v1.6h-1.6zM63 504h1.6v1.6h-1.6zM63 505.5h1.6v1.6h-1.6zM63 506h1.6v1.6h-1.6zM63 508.5h1.6v1.6h-1.6zM63 510.5h1.6v1.6h-1.6zM63 511h1.6v1.6h-1.6zM63 512h1.6v1.6h-1.6zM63.5 498h1.6v1.6h-1.6zM63.5 501.5h1.6v1.6h-1.6zM63.5 504h1.6v1.6h-1.6zM63.5 506h1.6v1.6h-1.6zM63.5 509.5h1.6v1.6h-1.6zM63.5 510.5h1.6v1.6h-1.6zM63.5 513.5h1.6v1.6h-1.6zM64 483h1.6v1.6h-1.6zM64 492.5h1.6v1.6h-1.6zM64 500.5h1.6v1.6h-1.6zM64 503h1.6v1.6h-1.6zM64 507.5h1.6v1.6h-1.6zM64 509.5h1.6v1.6h-1.6zM64 513.5h1.6v1.6h-1.6zM64 515.5h1.6v1.6h-1.6zM64 517.5h1.6v1.6h-1.6zM64.5 481h1.6v1.6h-1.6zM64.5 502h1.6v1.6h-1.6zM64.5 503.5h1.6v1.6h-1.6zM64.5 507h1.6v1.6h-1.6zM64.5 507.5h1.6v1.6h-1.6zM64.5 508h1.6v1.6h-1.6zM64.5 517h1.6v1.6h-1.6zM64.5 518h1.6v1.6h-1.6zM65 493.5h1.6v1.6h-1.6zM65 499.5h1.6v1.6h-1.6zM65 500.5h1.6v1.6h-1.6zM65 501.5h1.6v1.6h-1.6zM65 504.5h1.6v1.6h-1.6zM65 506.5h1.6v1.6h-1.6zM65 509h1.6v1.6h-1.6zM65 511h1.6v1.6h-1.6zM65 512h1.6v1.6h-1.6zM65 515.5h1.6v1.6h-1.6zM65 516.5h1.6v1.6h-1.6zM65.5 482h1.6v1.6h-1.6zM65.5 500.5h1.6v1.6h-1.6zM65.5 507h1.6v1.6h-1.6zM65.5 511.5h1.6v1.6h-1.6zM65.5 516.5h1.6v1.6h-1.6zM65.5 519.5h1.6v1.6h-1.6zM66 439h1.6v1.6h-1.6zM66 503h1.6v1.6h-1.6zM66 504h1.6v1.6h-1.6zM66 504.5h1.6v1.6h-1.6zM66 509.5h1.6v1.6h-1.6zM66 512.5h1.6v1.6h-1.6zM66 513h1.6v1.6h-1.6zM66.5 505.5h1.6v1.6h-1.6zM66.5 512h1.6v1.6h-1.6zM66.5 512.5h1.6v1.6h-1.6zM66.5 513h1.6v1.6h-1.6zM67 506.5h1.6v1.6h-1.6zM67 507h1.6v1.6h-1.6zM67 511.5h1.6v1.6h-1.6zM67 512h1.6v1.6h-1.6zM67 513.5h1.6v1.6h-1.6zM67 515.5h1.6v1.6h-1.6zM67.5 481.5h1.6v1.6h-1.6zM67.5 490h1.6v1.6h-1.6zM67.5 493h1.6v1.6h-1.6zM67.5 498h1.6v1.6h-1.6zM67.5 503h1.6v1.6h-1.6zM67.5 504.5h1.6v1.6h-1.6zM67.5 506h1.6v1.6h-1.6zM67.5 508.5h1.6v1.6h-1.6zM67.5 511h1.6v1.6h-1.6zM67.5 513.5h1.6v1.6h-1.6zM67.5 514h1.6v1.6h-1.6zM67.5 516.5h1.6v1.6h-1.6zM68 505.5h1.6v1.6h-1.6zM68 512h1.6v1.6h-1.6zM68 514.5h1.6v1.6h-1.6zM68 515h1.6v1.6h-1.6zM68.5 498h1.6v1.6h-1.6zM68.5 501.5h1.6v1.6h-1.6zM68.5 507h1.6v1.6h-1.6zM68.5 508h1.6v1.6h-1.6zM68.5 508.5h1.6v1.6h-1.6zM68.5 509.5h1.6v1.6h-1.6zM68.5 512.5h1.6v1.6h-1.6zM68.5 513.5h1.6v1.6h-1.6zM68.5 515h1.6v1.6h-1.6zM69 485.5h1.6v1.6h-1.6zM69 510h1.6v1.6h-1.6zM69 513.5h1.6v1.6h-1.6zM69 514.5h1.6v1.6h-1.6zM69 518h1.6v1.6h-1.6zM69.5 485.5h1.6v1.6h-1.6zM69.5 507h1.6v1.6h-1.6zM69.5 509.5h1.6v1.6h-1.6zM69.5 510.5h1.6v1.6h-1.6zM69.5 512.5h1.6v1.6h-1.6zM69.5 513.5h1.6v1.6h-1.6zM69.5 514h1.6v1.6h-1.6zM69.5 514.5h1.6v1.6h-1.6zM70 499h1.6v1.6h-1.6zM70 505h1.6v1.6h-1.6zM70 506.5h1.6v1.6h-1.6zM70 507h1.6v1.6h-1.6zM70 507.5h1.6v1.6h-1.6zM70 511.5h1.6v1.6h-1.6zM70 512.5h1.6v1.6h-1.6zM70.5 500.5h1.6v1.6h-1.6zM70.5 509h1.6v1.6h-1.6zM70.5 510h1.6v1.6h-1.6zM71 482h1.6v1.6h-1.6zM71 502.5h1.6v1.6h-1.6zM71 509.5h1.6v1.6h-1.6zM71 511h1.6v1.6h-1.6zM71 514.5h1.6v1.6h-1.6zM71.5 487h1.6v1.6h-1.6zM71.5 492h1.6v1.6h-1.6zM71.5 495.5h1.6v1.6h-1.6zM71.5 505.5h1.6v1.6h-1.6zM71.5 508.5h1.6v1.6h-1.6zM71.5 513h1.6v1.6h-1.6zM72 501.5h1.6v1.6h-1.6zM72 507.5h1.6v1.6h-1.6zM72 511h1.6v1.6h-1.6zM72 513.5h1.6v1.6h-1.6zM72 515h1.6v1.6h-1.6zM72 517h1.6v1.6h-1.6zM72 520.5h1.6v1.6h-1.6zM72.5 488h1.6v1.6h-1.6zM72.5 501h1.6v1.6h-1.6zM72.5 510h1.6v1.6h-1.6zM72.5 512h1.6v1.6h-1.6zM72.5 518h1.6v1.6h-1.6zM72.5 518.5h1.6v1.6h-1.6zM73 506h1.6v1.6h-1.6zM73 507.5h1.6v1.6h-1.6zM73 508.5h1.6v1.6h-1.6zM73 512h1.6v1.6h-1.6zM73 513h1.6v1.6h-1.6zM73 513.5h1.6v1.6h-1.6zM73 518.5h1.6v1.6h-1.6zM73.5 497h1.6v1.6h-1.6zM73.5 505.5h1.6v1.6h-1.6zM73.5 508.5h1.6v1.6h-1.6zM73.5 509.5h1.6v1.6h-1.6zM73.5 512.5h1.6v1.6h-1.6zM73.5 518h1.6v1.6h-1.6zM73.5 519.5h1.6v1.6h-1.6zM74 488h1.6v1.6h-1.6zM74 495h1.6v1.6h-1.6zM74 505.5h1.6v1.6h-1.6zM74 509h1.6v1.6h-1.6zM74 512h1.6v1.6h-1.6zM74 513.5h1.6v1.6h-1.6zM74.5 507.5h1.6v1.6h-1.6zM74.5 508h1.6v1.6h-1.6zM74.5 509h1.6v1.6h-1.6zM74.5 511.5h1.6v1.6h-1.6zM75 489.5h1.6v1.6h-1.6zM75 497h1.6v1.6h-1.6zM75 499.5h1.6v1.6h-1.6zM75 500h1.6v1.6h-1.6zM75 506.5h1.6v1.6h-1.6zM75 514.5h1.6v1.6h-1.6zM75 516.5h1.6v1.6h-1.6zM75.5 509.5h1.6v1.6h-1.6zM75.5 512h1.6v1.6h-1.6zM75.5 512.5h1.6v1.6h-1.6zM75.5 513.5h1.6v1.6h-1.6zM75.5 514.5h1.6v1.6h-1.6zM75.5 519h1.6v1.6h-1.6zM75.5 520h1.6v1.6h-1.6zM75.5 521.5h1.6v1.6h-1.6zM76 493.5h1.6v1.6h-1.6zM76 506.5h1.6v1.6h-1.6zM76 507.5h1.6v1.6h-1.6zM76 511h1.6v1.6h-1.6zM76 511.5h1.6v1.6h-1.6zM76 513.5h1.6v1.6h-1.6zM76 515h1.6v1.6h-1.6zM76 517h1.6v1.6h-1.6zM76 518h1.6v1.6h-1.6zM76 519h1.6v1.6h-1.6zM76.5 485h1.6v1.6h-1.6zM76.5 492h1.6v1.6h-1.6zM76.5 506.5h1.6v1.6h-1.6zM76.5 507h1.6v1.6h-1.6zM76.5 509h1.6v1.6h-1.6zM76.5 513h1.6v1.6h-1.6zM76.5 513.5h1.6v1.6h-1.6zM76.5 516h1.6v1.6h-1.6zM77 485h1.6v1.6h-1.6zM77 504h1.6v1.6h-1.6zM77 509.5h1.6v1.6h-1.6zM77 516.5h1.6v1.6h-1.6zM77 522.5h1.6v1.6h-1.6zM77.5 507.5h1.6v1.6h-1.6zM77.5 512.5h1.6v1.6h-1.6zM77.5 514.5h1.6v1.6h-1.6zM77.5 516.5h1.6v1.6h-1.6zM77.5 519.5h1.6v1.6h-1.6zM78 501.5h1.6v1.6h-1.6zM78 505.5h1.6v1.6h-1.6zM78 507.5h1.6v1.6h-1.6zM78 508.5h1.6v1.6h-1.6zM78 511h1.6v1.6h-1.6zM78 513.5h1.6v1.6h-1.6zM78 514.5h1.6v1.6h-1.6zM78 517.5h1.6v1.6h-1.6zM78 519h1.6v1.6h-1.6zM78 519.5h1.6v1.6h-1.6zM78 521h1.6v1.6h-1.6zM78 522h1.6v1.6h-1.6zM78.5 493.5h1.6v1.6h-1.6zM78.5 508h1.6v1.6h-1.6zM78.5 510.5h1.6v1.6h-1.6zM78.5 512h1.6v1.6h-1.6zM78.5 513.5h1.6v1.6h-1.6zM79 506.5h1.6v1.6h-1.6zM79 509h1.6v1.6h-1.6zM79 510.5h1.6v1.6h-1.6zM79 512.5h1.6v1.6h-1.6zM79.5 508.5h1.6v1.6h-1.6zM79.5 509h1.6v1.6h-1.6zM79.5 510.5h1.6v1.6h-1.6zM79.5 512.5h1.6v1.6h-1.6zM79.5 514h1.6v1.6h-1.6zM79.5 515h1.6v1.6h-1.6zM79.5 518.5h1.6v1.6h-1.6zM79.5 520h1.6v1.6h-1.6zM80 495.5h1.6v1.6h-1.6zM80 507h1.6v1.6h-1.6zM80 507.5h1.6v1.6h-1.6zM80 508h1.6v1.6h-1.6zM80 511h1.6v1.6h-1.6zM80 517.5h1.6v1.6h-1.6zM80.5 501h1.6v1.6h-1.6zM80.5 504.5h1.6v1.6h-1.6zM80.5 509h1.6v1.6h-1.6zM80.5 516h1.6v1.6h-1.6zM80.5 518.5h1.6v1.6h-1.6zM80.5 521.5h1.6v1.6h-1.6zM80.5 522.5h1.6v1.6h-1.6zM80.5 523h1.6v1.6h-1.6zM81 511.5h1.6v1.6h-1.6zM81 512h1.6v1.6h-1.6zM81 513h1.6v1.6h-1.6zM81 515h1.6v1.6h-1.6zM81 516.5h1.6v1.6h-1.6zM81 518.5h1.6v1.6h-1.6zM81.5 488.5h1.6v1.6h-1.6zM81.5 501.5h1.6v1.6h-1.6zM81.5 509h1.6v1.6h-1.6zM81.5 511h1.6v1.6h-1.6zM81.5 512.5h1.6v1.6h-1.6zM81.5 514h1.6v1.6h-1.6zM81.5 521h1.6v1.6h-1.6zM82 496h1.6v1.6h-1.6zM82 499.5h1.6v1.6h-1.6zM82 508.5h1.6v1.6h-1.6zM82 512h1.6v1.6h-1.6zM82 518.5h1.6v1.6h-1.6zM82.5 502.5h1.6v1.6h-1.6zM82.5 506h1.6v1.6h-1.6zM82.5 508.5h1.6v1.6h-1.6zM82.5 510h1.6v1.6h-1.6zM82.5 511h1.6v1.6h-1.6zM82.5 516h1.6v1.6h-1.6zM82.5 517h1.6v1.6h-1.6zM82.5 519h1.6v1.6h-1.6zM82.5 519.5h1.6v1.6h-1.6zM83 487.5h1.6v1.6h-1.6zM83 505h1.6v1.6h-1.6zM83 507.5h1.6v1.6h-1.6zM83 508h1.6v1.6h-1.6zM83 508.5h1.6v1.6h-1.6zM83 512h1.6v1.6h-1.6zM83 514.5h1.6v1.6h-1.6zM83 516h1.6v1.6h-1.6zM83.5 500.5h1.6v1.6h-1.6zM83.5 511.5h1.6v1.6h-1.6zM83.5 513.5h1.6v1.6h-1.6zM83.5 518.5h1.6v1.6h-1.6zM83.5 519h1.6v1.6h-1.6zM84 485.5h1.6v1.6h-1.6zM84 506.5h1.6v1.6h-1.6zM84 507h1.6v1.6h-1.6zM84 507.5h1.6v1.6h-1.6zM84 510.5h1.6v1.6h-1.6zM84 514h1.6v1.6h-1.6zM84 520h1.6v1.6h-1.6zM84.5 500.5h1.6v1.6h-1.6zM84.5 501.5h1.6v1.6h-1.6zM84.5 502h1.6v1.6h-1.6zM84.5 503.5h1.6v1.6h-1.6zM84.5 507.5h1.6v1.6h-1.6zM84.5 510h1.6v1.6h-1.6zM84.5 513h1.6v1.6h-1.6zM84.5 517h1.6v1.6h-1.6zM84.5 519.5h1.6v1.6h-1.6zM85 495.5h1.6v1.6h-1.6zM85 500h1.6v1.6h-1.6zM85 501.5h1.6v1.6h-1.6zM85 503h1.6v1.6h-1.6zM85 508.5h1.6v1.6h-1.6zM85.5 487h1.6v1.6h-1.6zM85.5 494.5h1.6v1.6h-1.6zM85.5 498h1.6v1.6h-1.6zM85.5 501.5h1.6v1.6h-1.6zM85.5 511h1.6v1.6h-1.6zM86 494.5h1.6v1.6h-1.6zM86 503h1.6v1.6h-1.6zM86 504.5h1.6v1.6h-1.6zM86.5 486h1.6v1.6h-1.6zM86.5 494h1.6v1.6h-1.6zM86.5 494.5h1.6v1.6h-1.6zM86.5 500h1.6v1.6h-1.6zM86.5 501h1.6v1.6h-1.6zM86.5 501.5h1.6v1.6h-1.6zM86.5 502h1.6v1.6h-1.6zM86.5 503h1.6v1.6h-1.6zM86.5 504.5h1.6v1.6h-1.6zM86.5 505h1.6v1.6h-1.6zM87 485h1.6v1.6h-1.6zM87 498h1.6v1.6h-1.6zM87 502h1.6v1.6h-1.6zM87 505.5h1.6v1.6h-1.6zM87 508h1.6v1.6h-1.6zM87.5 502h1.6v1.6h-1.6zM87.5 506h1.6v1.6h-1.6zM87.5 506.5h1.6v1.6h-1.6zM88 484h1.6v1.6h-1.6zM88 498.5h1.6v1.6h-1.6zM88 500.5h1.6v1.6h-1.6zM88 501h1.6v1.6h-1.6zM88 502.5h1.6v1.6h-1.6zM88 508.5h1.6v1.6h-1.6zM88 509h1.6v1.6h-1.6zM88 509.5h1.6v1.6h-1.6zM88 511h1.6v1.6h-1.6zM88.5 492h1.6v1.6h-1.6zM88.5 493h1.6v1.6h-1.6zM88.5 497h1.6v1.6h-1.6zM88.5 498.5h1.6v1.6h-1.6zM88.5 501.5h1.6v1.6h-1.6zM88.5 503.5h1.6v1.6h-1.6zM88.5 511h1.6v1.6h-1.6zM88.5 512h1.6v1.6h-1.6zM89 496.5h1.6v1.6h-1.6zM89 499.5h1.6v1.6h-1.6zM89 501h1.6v1.6h-1.6zM89 502h1.6v1.6h-1.6zM89 507.5h1.6v1.6h-1.6zM89 509.5h1.6v1.6h-1.6zM89 511.5h1.6v1.6h-1.6zM89.5 493h1.6v1.6h-1.6zM89.5 499.5h1.6v1.6h-1.6zM89.5 502h1.6v1.6h-1.6zM89.5 503h1.6v1.6h-1.6zM89.5 507.5h1.6v1.6h-1.6zM89.5 509h1.6v1.6h-1.6zM90 496h1.6v1.6h-1.6zM90 497.5h1.6v1.6h-1.6zM90 499h1.6v1.6h-1.6zM90 502.5h1.6v1.6h-1.6zM90 503.5h1.6v1.6h-1.6zM90 504h1.6v1.6h-1.6zM90 506.5h1.6v1.6h-1.6zM90 507h1.6v1.6h-1.6zM90 507.5h1.6v1.6h-1.6zM90 508h1.6v1.6h-1.6zM90.5 495.5h1.6v1.6h-1.6zM90.5 500h1.6v1.6h-1.6zM90.5 503.5h1.6v1.6h-1.6zM90.5 506.5h1.6v1.6h-1.6zM91 498.5h1.6v1.6h-1.6zM91 501h1.6v1.6h-1.6zM91 502h1.6v1.6h-1.6zM91 506.5h1.6v1.6h-1.6zM91 508h1.6v1.6h-1.6zM91 510.5h1.6v1.6h-1.6zM91.5 490.5h1.6v1.6h-1.6zM91.5 499.5h1.6v1.6h-1.6zM91.5 504h1.6v1.6h-1.6zM91.5 509.5h1.6v1.6h-1.6zM92 498.5h1.6v1.6h-1.6zM92 503h1.6v1.6h-1.6zM92 505h1.6v1.6h-1.6zM92 507h1.6v1.6h-1.6zM92.5 485h1.6v1.6h-1.6zM92.5 493.5h1.6v1.6h-1.6zM92.5 504h1.6v1.6h-1.6zM93 482.5h1.6v1.6h-1.6zM93 487.5h1.6v1.6h-1.6zM93 497.5h1.6v1.6h-1.6zM93 498h1.6v1.6h-1.6zM93 503h1.6v1.6h-1.6zM93 506h1.6v1.6h-1.6zM93 506.5h1.6v1.6h-1.6zM93.5 495h1.6v1.6h-1.6zM93.5 496.5h1.6v1.6h-1.6zM93.5 497.5h1.6v1.6h-1.6zM93.5 498.5h1.6v1.6h-1.6zM93.5 499h1.6v1.6h-1.6zM93.5 500.5h1.6v1.6h-1.6zM93.5 504h1.6v1.6h-1.6zM94 478.5h1.6v1.6h-1.6zM94 485.5h1.6v1.6h-1.6zM94 490h1.6v1.6h-1.6zM94 494.5h1.6v1.6h-1.6zM94 495h1.6v1.6h-1.6zM94 500.5h1.6v1.6h-1.6zM94 502h1.6v1.6h-1.6zM94.5 492.5h1.6v1.6h-1.6zM94.5 495h1.6v1.6h-1.6zM94.5 496.5h1.6v1.6h-1.6zM94.5 497.5h1.6v1.6h-1.6zM94.5 506h1.6v1.6h-1.6zM95 481h1.6v1.6h-1.6zM95 482h1.6v1.6h-1.6zM95 491h1.6v1.6h-1.6zM95 497h1.6v1.6h-1.6zM95 498.5h1.6v1.6h-1.6zM95 500h1.6v1.6h-1.6zM95 500.5h1.6v1.6h-1.6zM95 501.5h1.6v1.6h-1.6zM95 502h1.6v1.6h-1.6zM95 503h1.6v1.6h-1.6zM95 504h1.6v1.6h-1.6zM95 506h1.6v1.6h-1.6zM95.5 495.5h1.6v1.6h-1.6zM95.5 499h1.6v1.6h-1.6zM95.5 499.5h1.6v1.6h-1.6zM96 483.5h1.6v1.6h-1.6zM96 495h1.6v1.6h-1.6zM96 496.5h1.6v1.6h-1.6zM96 499.5h1.6v1.6h-1.6zM96 500.5h1.6v1.6h-1.6zM96 501h1.6v1.6h-1.6zM96 502h1.6v1.6h-1.6zM96.5 496.5h1.6v1.6h-1.6zM96.5 497.5h1.6v1.6h-1.6zM96.5 498h1.6v1.6h-1.6zM96.5 499h1.6v1.6h-1.6zM96.5 506h1.6v1.6h-1.6zM97 481.5h1.6v1.6h-1.6zM97 486.5h1.6v1.6h-1.6zM97 492.5h1.6v1.6h-1.6zM97 495.5h1.6v1.6h-1.6zM97 501h1.6v1.6h-1.6zM97 502h1.6v1.6h-1.6zM97.5 492h1.6v1.6h-1.6zM97.5 492.5h1.6v1.6h-1.6zM97.5 493.5h1.6v1.6h-1.6zM97.5 499.5h1.6v1.6h-1.6zM97.5 500h1.6v1.6h-1.6zM97.5 504.5h1.6v1.6h-1.6zM97.5 506h1.6v1.6h-1.6zM98 491h1.6v1.6h-1.6zM98 498h1.6v1.6h-1.6zM98 499.5h1.6v1.6h-1.6zM98 502.5h1.6v1.6h-1.6zM98 504h1.6v1.6h-1.6zM98 505h1.6v1.6h-1.6zM98.5 505h1.6v1.6h-1.6zM99 479.5h1.6v1.6h-1.6zM99 488h1.6v1.6h-1.6zM99 497.5h1.6v1.6h-1.6zM99 503h1.6v1.6h-1.6zM99 503.5h1.6v1.6h-1.6zM99 506.5h1.6v1.6h-1.6zM99 509.5h1.6v1.6h-1.6zM99.5 480.5h1.6v1.6h-1.6zM99.5 481h1.6v1.6h-1.6zM99.5 484.5h1.6v1.6h-1.6zM99.5 500h1.6v1.6h-1.6zM99.5 501.5h1.6v1.6h-1.6zM99.5 504.5h1.6v1.6h-1.6zM99.5 505h1.6v1.6h-1.6zM99.5 506h1.6v1.6h-1.6zM99.5 509h1.6v1.6h-1.6zM100 476.5h1.6v1.6h-1.6zM100 490.5h1.6v1.6h-1.6zM100 493h1.6v1.6h-1.6zM100 498.5h1.6v1.6h-1.6zM100 500.5h1.6v1.6h-1.6zM100 505h1.6v1.6h-1.6zM100 509.5h1.6v1.6h-1.6zM100.5 472h1.6v1.6h-1.6zM100.5 496h1.6v1.6h-1.6zM100.5 497.5h1.6v1.6h-1.6zM100.5 502.5h1.6v1.6h-1.6zM100.5 503.5h1.6v1.6h-1.6zM100.5 504h1.6v1.6h-1.6zM100.5 507.5h1.6v1.6h-1.6zM100.5 510.5h1.6v1.6h-1.6zM101 484.5h1.6v1.6h-1.6zM101 500h1.6v1.6h-1.6zM101 500.5h1.6v1.6h-1.6zM101 501h1.6v1.6h-1.6zM101 502h1.6v1.6h-1.6zM101 503.5h1.6v1.6h-1.6zM101 509h1.6v1.6h-1.6zM101.5 494.5h1.6v1.6h-1.6zM101.5 496.5h1.6v1.6h-1.6zM101.5 497h1.6v1.6h-1.6zM101.5 505h1.6v1.6h-1.6zM102 488.5h1.6v1.6h-1.6zM102 493.5h1.6v1.6h-1.6zM102 497h1.6v1.6h-1.6zM102 497.5h1.6v1.6h-1.6zM102 499h1.6v1.6h-1.6zM102 501h1.6v1.6h-1.6zM102 502.5h1.6v1.6h-1.6zM102 504.5h1.6v1.6h-1.6zM102 505h1.6v1.6h-1.6zM102 507h1.6v1.6h-1.6zM102.5 489.5h1.6v1.6h-1.6zM102.5 492h1.6v1.6h-1.6zM102.5 500.5h1.6v1.6h-1.6zM102.5 501h1.6v1.6h-1.6zM102.5 502h1.6v1.6h-1.6zM102.5 503.5h1.6v1.6h-1.6zM102.5 504h1.6v1.6h-1.6zM102.5 505.5h1.6v1.6h-1.6zM102.5 506h1.6v1.6h-1.6zM103 494.5h1.6v1.6h-1.6zM103 501h1.6v1.6h-1.6zM103 505h1.6v1.6h-1.6zM103 506h1.6v1.6h-1.6zM103 508h1.6v1.6h-1.6zM103 508.5h1.6v1.6h-1.6zM103 512h1.6v1.6h-1.6zM103.5 493.5h1.6v1.6h-1.6zM103.5 502h1.6v1.6h-1.6zM103.5 505.5h1.6v1.6h-1.6zM103.5 507.5h1.6v1.6h-1.6zM103.5 508.5h1.6v1.6h-1.6zM103.5 515h1.6v1.6h-1.6zM104 497.5h1.6v1.6h-1.6zM104 505h1.6v1.6h-1.6zM104 509h1.6v1.6h-1.6zM104 511h1.6v1.6h-1.6zM104 512h1.6v1.6h-1.6zM104 512.5h1.6v1.6h-1.6zM104 514h1.6v1.6h-1.6zM104 514.5h1.6v1.6h-1.6zM104 522h1.6v1.6h-1.6zM104.5 496.5h1.6v1.6h-1.6zM104.5 504.5h1.6v1.6h-1.6zM104.5 509.5h1.6v1.6h-1.6zM104.5 510.5h1.6v1.6h-1.6zM104.5 517h1.6v1.6h-1.6zM104.5 521.5h1.6v1.6h-1.6zM105 513.5h1.6v1.6h-1.6zM105 515h1.6v1.6h-1.6zM105 517h1.6v1.6h-1.6zM105 517.5h1.6v1.6h-1.6zM105 522h1.6v1.6h-1.6zM105 522.5h1.6v1.6h-1.6zM105.5 497h1.6v1.6h-1.6zM105.5 518.5h1.6v1.6h-1.6zM105.5 520h1.6v1.6h-1.6zM105.5 520.5h1.6v1.6h-1.6zM105.5 522h1.6v1.6h-1.6zM105.5 522.5h1.6v1.6h-1.6zM106 495.5h1.6v1.6h-1.6zM106 511.5h1.6v1.6h-1.6zM106 512h1.6v1.6h-1.6zM106 513.5h1.6v1.6h-1.6zM106 514h1.6v1.6h-1.6zM106 515h1.6v1.6h-1.6zM106 517h1.6v1.6h-1.6zM106 521.5h1.6v1.6h-1.6zM106.5 502.5h1.6v1.6h-1.6zM106.5 511.5h1.6v1.6h-1.6zM106.5 512.5h1.6v1.6h-1.6zM106.5 520.5h1.6v1.6h-1.6zM106.5 522.5h1.6v1.6h-1.6zM106.5 523h1.6v1.6h-1.6zM107 515h1.6v1.6h-1.6zM107 517.5h1.6v1.6h-1.6zM107 518h1.6v1.6h-1.6zM107 518.5h1.6v1.6h-1.6zM107 520.5h1.6v1.6h-1.6zM107 523.5h1.6v1.6h-1.6zM107.5 497h1.6v1.6h-1.6zM107.5 511h1.6v1.6h-1.6zM107.5 513h1.6v1.6h-1.6zM107.5 515h1.6v1.6h-1.6zM107.5 519h1.6v1.6h-1.6zM107.5 519.5h1.6v1.6h-1.6zM107.5 524h1.6v1.6h-1.6zM108 508h1.6v1.6h-1.6zM108 511.5h1.6v1.6h-1.6zM108 518h1.6v1.6h-1.6zM108 522h1.6v1.6h-1.6zM108 525h1.6v1.6h-1.6zM108 526.5h1.6v1.6h-1.6zM108 528.5h1.6v1.6h-1.6zM108.5 514.5h1.6v1.6h-1.6zM108.5 516.5h1.6v1.6h-1.6zM108.5 517.5h1.6v1.6h-1.6zM108.5 518.5h1.6v1.6h-1.6zM108.5 519h1.6v1.6h-1.6zM108.5 521h1.6v1.6h-1.6zM108.5 524.5h1.6v1.6h-1.6zM108.5 525.5h1.6v1.6h-1.6zM108.5 526.5h1.6v1.6h-1.6zM109 513.5h1.6v1.6h-1.6zM109 515.5h1.6v1.6h-1.6zM109 518h1.6v1.6h-1.6zM109 527.5h1.6v1.6h-1.6zM109.5 490.5h1.6v1.6h-1.6zM109.5 508h1.6v1.6h-1.6zM109.5 511h1.6v1.6h-1.6zM109.5 511.5h1.6v1.6h-1.6zM109.5 512.5h1.6v1.6h-1.6zM109.5 524.5h1.6v1.6h-1.6zM110 500.5h1.6v1.6h-1.6zM110 501.5h1.6v1.6h-1.6zM110 509.5h1.6v1.6h-1.6zM110 510h1.6v1.6h-1.6zM110 513.5h1.6v1.6h-1.6zM110 516h1.6v1.6h-1.6zM110 517.5h1.6v1.6h-1.6zM110.5 495.5h1.6v1.6h-1.6zM110.5 506.5h1.6v1.6h-1.6zM110.5 509h1.6v1.6h-1.6zM110.5 510h1.6v1.6h-1.6zM110.5 515h1.6v1.6h-1.6zM110.5 519.5h1.6v1.6h-1.6zM110.5 520h1.6v1.6h-1.6zM110.5 520.5h1.6v1.6h-1.6zM111 482h1.6v1.6h-1.6zM111 502.5h1.6v1.6h-1.6zM111 509h1.6v1.6h-1.6zM111 511.5h1.6v1.6h-1.6zM111 514h1.6v1.6h-1.6zM111 514.5h1.6v1.6h-1.6zM111 515h1.6v1.6h-1.6zM111 517.5h1.6v1.6h-1.6zM111.5 511.5h1.6v1.6h-1.6zM111.5 512h1.6v1.6h-1.6zM111.5 512.5h1.6v1.6h-1.6zM111.5 513h1.6v1.6h-1.6zM111.5 514h1.6v1.6h-1.6zM112 477.5h1.6v1.6h-1.6zM112 478h1.6v1.6h-1.6zM112 490h1.6v1.6h-1.6zM112 501.5h1.6v1.6h-1.6zM112 507h1.6v1.6h-1.6zM112 508h1.6v1.6h-1.6zM112 511h1.6v1.6h-1.6zM112 513.5h1.6v1.6h-1.6zM112 514h1.6v1.6h-1.6zM112 517.5h1.6v1.6h-1.6zM112 518h1.6v1.6h-1.6zM112.5 465.5h1.6v1.6h-1.6zM112.5 485.5h1.6v1.6h-1.6zM112.5 495h1.6v1.6h-1.6zM112.5 505.5h1.6v1.6h-1.6zM112.5 507.5h1.6v1.6h-1.6zM112.5 509.5h1.6v1.6h-1.6zM112.5 513.5h1.6v1.6h-1.6zM112.5 516.5h1.6v1.6h-1.6zM113 481h1.6v1.6h-1.6zM113 495.5h1.6v1.6h-1.6zM113 504.5h1.6v1.6h-1.6zM113 508.5h1.6v1.6h-1.6zM113 509.5h1.6v1.6h-1.6zM113 511h1.6v1.6h-1.6zM113 515.5h1.6v1.6h-1.6zM113.5 467.5h1.6v1.6h-1.6zM113.5 507.5h1.6v1.6h-1.6zM113.5 510h1.6v1.6h-1.6zM113.5 510.5h1.6v1.6h-1.6zM114 493h1.6v1.6h-1.6zM114 500h1.6v1.6h-1.6zM114 508h1.6v1.6h-1.6zM114 511.5h1.6v1.6h-1.6zM114 513h1.6v1.6h-1.6zM114 513.5h1.6v1.6h-1.6zM114 514h1.6v1.6h-1.6zM114 517.5h1.6v1.6h-1.6zM114 519h1.6v1.6h-1.6zM114.5 471h1.6v1.6h-1.6zM114.5 496h1.6v1.6h-1.6zM114.5 501h1.6v1.6h-1.6zM114.5 506h1.6v1.6h-1.6zM114.5 506.5h1.6v1.6h-1.6zM114.5 507.5h1.6v1.6h-1.6zM114.5 513.5h1.6v1.6h-1.6zM114.5 514.5h1.6v1.6h-1.6zM114.5 519.5h1.6v1.6h-1.6zM114.5 520h1.6v1.6h-1.6zM115 478.5h1.6v1.6h-1.6zM115 503h1.6v1.6h-1.6zM115 504h1.6v1.6h-1.6zM115 506h1.6v1.6h-1.6zM115 508h1.6v1.6h-1.6zM115 510.5h1.6v1.6h-1.6zM115 516h1.6v1.6h-1.6zM115 518.5h1.6v1.6h-1.6zM115.5 507h1.6v1.6h-1.6zM115.5 508h1.6v1.6h-1.6zM115.5 508.5h1.6v1.6h-1.6zM115.5 510h1.6v1.6h-1.6zM115.5 510.5h1.6v1.6h-1.6zM115.5 511h1.6v1.6h-1.6zM115.5 515.5h1.6v1.6h-1.6zM115.5 517.5h1.6v1.6h-1.6zM115.5 519h1.6v1.6h-1.6zM116 487h1.6v1.6h-1.6zM116 494h1.6v1.6h-1.6zM116 497h1.6v1.6h-1.6zM116 503h1.6v1.6h-1.6zM116 507h1.6v1.6h-1.6zM116 510h1.6v1.6h-1.6zM116 510.5h1.6v1.6h-1.6zM116 515h1.6v1.6h-1.6zM116 517h1.6v1.6h-1.6zM116.5 505h1.6v1.6h-1.6zM116.5 509h1.6v1.6h-1.6zM116.5 510h1.6v1.6h-1.6zM117 506h1.6v1.6h-1.6zM117 507.5h1.6v1.6h-1.6zM117 508h1.6v1.6h-1.6zM117 508.5h1.6v1.6h-1.6zM117 509.5h1.6v1.6h-1.6zM117 512.5h1.6v1.6h-1.6zM117 513h1.6v1.6h-1.6zM117.5 491.5h1.6v1.6h-1.6zM117.5 507.5h1.6v1.6h-1.6zM117.5 508h1.6v1.6h-1.6zM117.5 510h1.6v1.6h-1.6zM117.5 513.5h1.6v1.6h-1.6zM117.5 514.5h1.6v1.6h-1.6zM117.5 515h1.6v1.6h-1.6zM117.5 521h1.6v1.6h-1.6zM118 491h1.6v1.6h-1.6zM118 493h1.6v1.6h-1.6zM118 498.5h1.6v1.6h-1.6zM118 502h1.6v1.6h-1.6zM118 508h1.6v1.6h-1.6zM118 509h1.6v1.6h-1.6zM118 509.5h1.6v1.6h-1.6zM118 511h1.6v1.6h-1.6zM118 514.5h1.6v1.6h-1.6zM118 516.5h1.6v1.6h-1.6zM118 517.5h1.6v1.6h-1.6zM118 518.5h1.6v1.6h-1.6zM118.5 504.5h1.6v1.6h-1.6zM118.5 505.5h1.6v1.6h-1.6zM118.5 508.5h1.6v1.6h-1.6zM119 495.5h1.6v1.6h-1.6zM119 505.5h1.6v1.6h-1.6zM119 507h1.6v1.6h-1.6zM119 508.5h1.6v1.6h-1.6zM119 509.5h1.6v1.6h-1.6zM119 513.5h1.6v1.6h-1.6zM119 515.5h1.6v1.6h-1.6zM119 516.5h1.6v1.6h-1.6zM119 518.5h1.6v1.6h-1.6zM119 519.5h1.6v1.6h-1.6zM119.5 487h1.6v1.6h-1.6zM119.5 497.5h1.6v1.6h-1.6zM119.5 500.5h1.6v1.6h-1.6zM119.5 511h1.6v1.6h-1.6zM119.5 515h1.6v1.6h-1.6zM119.5 515.5h1.6v1.6h-1.6zM119.5 517.5h1.6v1.6h-1.6zM119.5 520.5h1.6v1.6h-1.6zM120 485.5h1.6v1.6h-1.6zM120 486.5h1.6v1.6h-1.6zM120 504.5h1.6v1.6h-1.6zM120 507h1.6v1.6h-1.6zM120 508.5h1.6v1.6h-1.6zM120 512.5h1.6v1.6h-1.6zM120 515h1.6v1.6h-1.6zM120 515.5h1.6v1.6h-1.6zM120.5 487h1.6v1.6h-1.6zM120.5 506.5h1.6v1.6h-1.6zM120.5 508.5h1.6v1.6h-1.6zM120.5 509h1.6v1.6h-1.6zM120.5 510h1.6v1.6h-1.6zM120.5 511h1.6v1.6h-1.6zM120.5 511.5h1.6v1.6h-1.6zM120.5 512.5h1.6v1.6h-1.6zM120.5 513.5h1.6v1.6h-1.6zM120.5 517.5h1.6v1.6h-1.6zM120.5 518.5h1.6v1.6h-1.6zM121 497h1.6v1.6h-1.6zM121 506h1.6v1.6h-1.6zM121 516.5h1.6v1.6h-1.6zM121 517h1.6v1.6h-1.6zM121 521h1.6v1.6h-1.6zM121.5 489h1.6v1.6h-1.6zM121.5 503.5h1.6v1.6h-1.6zM121.5 514h1.6v1.6h-1.6zM121.5 520h1.6v1.6h-1.6zM122 494h1.6v1.6h-1.6zM122 497h1.6v1.6h-1.6zM122 509h1.6v1.6h-1.6zM122 511.5h1.6v1.6h-1.6zM122 516.5h1.6v1.6h-1.6zM122 517h1.6v1.6h-1.6zM122.5 507.5h1.6v1.6h-1.6zM122.5 508h1.6v1.6h-1.6zM122.5 508.5h1.6v1.6h-1.6zM122.5 509h1.6v1.6h-1.6zM122.5 510h1.6v1.6h-1.6zM123 495.5h1.6v1.6h-1.6zM123 506h1.6v1.6h-1.6zM123 508h1.6v1.6h-1.6zM123 509.5h1.6v1.6h-1.6zM123 510h1.6v1.6h-1.6zM123 511h1.6v1.6h-1.6zM123 512h1.6v1.6h-1.6zM123.5 507.5h1.6v1.6h-1.6zM123.5 508.5h1.6v1.6h-1.6zM123.5 511h1.6v1.6h-1.6zM123.5 513h1.6v1.6h-1.6zM123.5 514.5h1.6v1.6h-1.6zM123.5 516h1.6v1.6h-1.6zM123.5 518.5h1.6v1.6h-1.6zM124 487.5h1.6v1.6h-1.6zM124 500h1.6v1.6h-1.6zM124 504h1.6v1.6h-1.6zM124 506h1.6v1.6h-1.6zM124 508h1.6v1.6h-1.6zM124 509h1.6v1.6h-1.6zM124 514h1.6v1.6h-1.6zM124 519h1.6v1.6h-1.6zM124.5 503.5h1.6v1.6h-1.6zM124.5 505h1.6v1.6h-1.6zM124.5 509.5h1.6v1.6h-1.6zM124.5 512h1.6v1.6h-1.6zM124.5 515.5h1.6v1.6h-1.6zM124.5 516h1.6v1.6h-1.6zM125 488h1.6v1.6h-1.6zM125 495.5h1.6v1.6h-1.6zM125 505h1.6v1.6h-1.6zM125 509h1.6v1.6h-1.6zM125 510h1.6v1.6h-1.6zM125 512h1.6v1.6h-1.6zM125 515.5h1.6v1.6h-1.6zM125 517h1.6v1.6h-1.6zM125 517.5h1.6v1.6h-1.6zM125.5 491h1.6v1.6h-1.6zM125.5 500.5h1.6v1.6h-1.6zM125.5 507h1.6v1.6h-1.6zM125.5 509h1.6v1.6h-1.6zM125.5 509.5h1.6v1.6h-1.6zM125.5 513h1.6v1.6h-1.6zM125.5 517.5h1.6v1.6h-1.6zM126 507h1.6v1.6h-1.6zM126 512.5h1.6v1.6h-1.6zM126 517h1.6v1.6h-1.6zM126 517.5h1.6v1.6h-1.6zM126 521h1.6v1.6h-1.6zM126.5 490h1.6v1.6h-1.6zM126.5 504h1.6v1.6h-1.6zM126.5 512.5h1.6v1.6h-1.6zM126.5 514.5h1.6v1.6h-1.6zM126.5 515h1.6v1.6h-1.6zM126.5 515.5h1.6v1.6h-1.6zM126.5 516h1.6v1.6h-1.6zM127 506.5h1.6v1.6h-1.6zM127 507.5h1.6v1.6h-1.6zM127 509.5h1.6v1.6h-1.6zM127 512.5h1.6v1.6h-1.6zM127 515h1.6v1.6h-1.6zM127 516.5h1.6v1.6h-1.6zM127 518.5h1.6v1.6h-1.6zM127 519h1.6v1.6h-1.6zM127 519.5h1.6v1.6h-1.6zM127.5 497.5h1.6v1.6h-1.6zM127.5 499.5h1.6v1.6h-1.6zM127.5 506.5h1.6v1.6h-1.6zM127.5 509.5h1.6v1.6h-1.6zM127.5 510.5h1.6v1.6h-1.6zM127.5 514.5h1.6v1.6h-1.6zM127.5 517h1.6v1.6h-1.6zM127.5 517.5h1.6v1.6h-1.6zM127.5 520h1.6v1.6h-1.6zM128 489.5h1.6v1.6h-1.6zM128 506.5h1.6v1.6h-1.6zM128 509h1.6v1.6h-1.6zM128 511h1.6v1.6h-1.6zM128 511.5h1.6v1.6h-1.6zM128 512h1.6v1.6h-1.6zM128 512.5h1.6v1.6h-1.6zM128 519.5h1.6v1.6h-1.6zM128.5 494.5h1.6v1.6h-1.6zM128.5 509.5h1.6v1.6h-1.6zM128.5 510h1.6v1.6h-1.6zM128.5 513h1.6v1.6h-1.6zM128.5 517.5h1.6v1.6h-1.6zM129 499h1.6v1.6h-1.6zM129 506.5h1.6v1.6h-1.6zM129 511.5h1.6v1.6h-1.6zM129 512h1.6v1.6h-1.6zM129 517h1.6v1.6h-1.6zM129.5 495h1.6v1.6h-1.6zM129.5 505h1.6v1.6h-1.6zM129.5 507h1.6v1.6h-1.6zM129.5 509.5h1.6v1.6h-1.6zM129.5 513.5h1.6v1.6h-1.6zM129.5 522h1.6v1.6h-1.6zM130 503.5h1.6v1.6h-1.6zM130 504h1.6v1.6h-1.6zM130 506h1.6v1.6h-1.6zM130 510.5h1.6v1.6h-1.6zM130 511.5h1.6v1.6h-1.6zM130 513.5h1.6v1.6h-1.6zM130 517.5h1.6v1.6h-1.6zM130 521h1.6v1.6h-1.6zM130.5 492.5h1.6v1.6h-1.6zM130.5 504.5h1.6v1.6h-1.6zM130.5 510h1.6v1.6h-1.6zM130.5 510.5h1.6v1.6h-1.6zM130.5 511h1.6v1.6h-1.6zM130.5 516h1.6v1.6h-1.6zM130.5 516.5h1.6v1.6h-1.6zM130.5 520h1.6v1.6h-1.6zM131 505.5h1.6v1.6h-1.6zM131 508h1.6v1.6h-1.6zM131 510h1.6v1.6h-1.6zM131 510.5h1.6v1.6h-1.6zM131 511h1.6v1.6h-1.6zM131 511.5h1.6v1.6h-1.6zM131 513h1.6v1.6h-1.6zM131.5 491.5h1.6v1.6h-1.6zM131.5 505h1.6v1.6h-1.6zM131.5 507.5h1.6v1.6h-1.6zM131.5 508h1.6v1.6h-1.6zM131.5 515h1.6v1.6h-1.6zM131.5 515.5h1.6v1.6h-1.6zM131.5 518h1.6v1.6h-1.6zM132 490.5h1.6v1.6h-1.6zM132 503.5h1.6v1.6h-1.6zM132 508.5h1.6v1.6h-1.6zM132 511h1.6v1.6h-1.6zM132 514h1.6v1.6h-1.6zM132 517.5h1.6v1.6h-1.6zM132 521.5h1.6v1.6h-1.6zM132.5 499h1.6v1.6h-1.6zM132.5 504.5h1.6v1.6h-1.6zM132.5 510h1.6v1.6h-1.6zM132.5 514.5h1.6v1.6h-1.6zM132.5 517h1.6v1.6h-1.6zM132.5 518h1.6v1.6h-1.6zM133 491.5h1.6v1.6h-1.6zM133 509h1.6v1.6h-1.6zM133 513h1.6v1.6h-1.6zM133 513.5h1.6v1.6h-1.6zM133 514h1.6v1.6h-1.6zM133 517.5h1.6v1.6h-1.6zM133.5 504.5h1.6v1.6h-1.6zM133.5 511.5h1.6v1.6h-1.6zM133.5 512.5h1.6v1.6h-1.6zM133.5 513h1.6v1.6h-1.6zM133.5 514h1.6v1.6h-1.6zM133.5 515.5h1.6v1.6h-1.6zM133.5 516h1.6v1.6h-1.6zM133.5 518.5h1.6v1.6h-1.6zM134 487h1.6v1.6h-1.6zM134 506.5h1.6v1.6h-1.6zM134 508.5h1.6v1.6h-1.6zM134 509.5h1.6v1.6h-1.6zM134 511.5h1.6v1.6h-1.6zM134 512.5h1.6v1.6h-1.6zM134 515h1.6v1.6h-1.6zM134 520.5h1.6v1.6h-1.6zM134 521h1.6v1.6h-1.6zM134.5 490h1.6v1.6h-1.6zM134.5 500h1.6v1.6h-1.6zM134.5 508h1.6v1.6h-1.6zM134.5 511.5h1.6v1.6h-1.6zM134.5 512h1.6v1.6h-1.6zM134.5 516.5h1.6v1.6h-1.6zM135 505h1.6v1.6h-1.6zM135 507h1.6v1.6h-1.6zM135 509.5h1.6v1.6h-1.6zM135 510.5h1.6v1.6h-1.6zM135 512.5h1.6v1.6h-1.6zM135 520h1.6v1.6h-1.6zM135.5 499.5h1.6v1.6h-1.6zM135.5 508.5h1.6v1.6h-1.6zM135.5 510.5h1.6v1.6h-1.6zM135.5 513.5h1.6v1.6h-1.6zM135.5 515h1.6v1.6h-1.6zM135.5 515.5h1.6v1.6h-1.6zM135.5 516h1.6v1.6h-1.6zM135.5 518h1.6v1.6h-1.6zM136 499.5h1.6v1.6h-1.6zM136 506h1.6v1.6h-1.6zM136 507h1.6v1.6h-1.6zM136 517h1.6v1.6h-1.6zM136 517.5h1.6v1.6h-1.6zM136 521h1.6v1.6h-1.6zM136.5 503h1.6v1.6h-1.6zM136.5 505.5h1.6v1.6h-1.6zM136.5 506h1.6v1.6h-1.6zM136.5 507.5h1.6v1.6h-1.6zM136.5 508.5h1.6v1.6h-1.6zM136.5 509.5h1.6v1.6h-1.6zM136.5 512.5h1.6v1.6h-1.6zM136.5 513.5h1.6v1.6h-1.6zM137 487.5h1.6v1.6h-1.6zM137 488h1.6v1.6h-1.6zM137 502h1.6v1.6h-1.6zM137 505h1.6v1.6h-1.6zM137 512.5h1.6v1.6h-1.6zM137 514h1.6v1.6h-1.6zM137 520h1.6v1.6h-1.6zM137.5 510.5h1.6v1.6h-1.6zM137.5 514.5h1.6v1.6h-1.6zM137.5 515h1.6v1.6h-1.6zM137.5 516h1.6v1.6h-1.6zM137.5 517h1.6v1.6h-1.6zM138 492.5h1.6v1.6h-1.6zM138 505h1.6v1.6h-1.6zM138 509.5h1.6v1.6h-1.6zM138 513.5h1.6v1.6h-1.6zM138 517h1.6v1.6h-1.6zM138.5 486h1.6v1.6h-1.6zM138.5 505.5h1.6v1.6h-1.6zM138.5 513h1.6v1.6h-1.6zM139 490h1.6v1.6h-1.6zM139 508h1.6v1.6h-1.6zM139 512h1.6v1.6h-1.6zM139 512.5h1.6v1.6h-1.6zM139 513.5h1.6v1.6h-1.6zM139.5 493.5h1.6v1.6h-1.6zM139.5 506h1.6v1.6h-1.6zM139.5 510.5h1.6v1.6h-1.6zM139.5 512h1.6v1.6h-1.6zM139.5 513h1.6v1.6h-1.6zM139.5 514h1.6v1.6h-1.6zM139.5 516.5h1.6v1.6h-1.6zM140 489h1.6v1.6h-1.6zM140 494.5h1.6v1.6h-1.6zM140 495.5h1.6v1.6h-1.6zM140 496.5h1.6v1.6h-1.6zM140 508.5h1.6v1.6h-1.6zM140 514.5h1.6v1.6h-1.6zM140 515.5h1.6v1.6h-1.6zM140 516h1.6v1.6h-1.6zM140.5 494.5h1.6v1.6h-1.6zM140.5 507h1.6v1.6h-1.6zM140.5 508.5h1.6v1.6h-1.6zM140.5 514.5h1.6v1.6h-1.6zM140.5 518h1.6v1.6h-1.6zM140.5 519h1.6v1.6h-1.6zM141 507h1.6v1.6h-1.6zM141 507.5h1.6v1.6h-1.6zM141 512h1.6v1.6h-1.6zM141 513h1.6v1.6h-1.6zM141 513.5h1.6v1.6h-1.6zM141 514h1.6v1.6h-1.6zM141.5 500.5h1.6v1.6h-1.6zM141.5 511h1.6v1.6h-1.6zM141.5 513.5h1.6v1.6h-1.6zM141.5 515.5h1.6v1.6h-1.6zM142 490.5h1.6v1.6h-1.6zM142 502.5h1.6v1.6h-1.6zM142 506.5h1.6v1.6h-1.6zM142 507.5h1.6v1.6h-1.6zM142 508.5h1.6v1.6h-1.6zM142 514.5h1.6v1.6h-1.6zM142 515.5h1.6v1.6h-1.6zM142 517.5h1.6v1.6h-1.6zM142.5 491.5h1.6v1.6h-1.6zM142.5 501h1.6v1.6h-1.6zM142.5 507.5h1.6v1.6h-1.6zM142.5 509.5h1.6v1.6h-1.6zM142.5 510.5h1.6v1.6h-1.6zM142.5 511.5h1.6v1.6h-1.6zM142.5 512h1.6v1.6h-1.6zM142.5 513h1.6v1.6h-1.6zM142.5 514.5h1.6v1.6h-1.6zM143 488.5h1.6v1.6h-1.6zM143 508h1.6v1.6h-1.6zM143 510.5h1.6v1.6h-1.6zM143 517.5h1.6v1.6h-1.6zM143 518.5h1.6v1.6h-1.6zM143 521h1.6v1.6h-1.6zM143.5 512.5h1.6v1.6h-1.6zM143.5 515.5h1.6v1.6h-1.6zM143.5 520.5h1.6v1.6h-1.6zM144 487h1.6v1.6h-1.6zM144 502h1.6v1.6h-1.6zM144 513.5h1.6v1.6h-1.6zM144 515h1.6v1.6h-1.6zM144 518.5h1.6v1.6h-1.6zM144 520h1.6v1.6h-1.6zM144 520.5h1.6v1.6h-1.6zM144 521.5h1.6v1.6h-1.6zM144.5 497.5h1.6v1.6h-1.6zM144.5 498.5h1.6v1.6h-1.6zM144.5 504h1.6v1.6h-1.6zM144.5 505.5h1.6v1.6h-1.6zM144.5 510h1.6v1.6h-1.6zM144.5 513h1.6v1.6h-1.6zM144.5 514h1.6v1.6h-1.6zM144.5 515.5h1.6v1.6h-1.6zM144.5 520h1.6v1.6h-1.6zM144.5 520.5h1.6v1.6h-1.6zM144.5 521h1.6v1.6h-1.6zM144.5 523.5h1.6v1.6h-1.6zM144.5 524.5h1.6v1.6h-1.6zM145 510h1.6v1.6h-1.6zM145 511h1.6v1.6h-1.6zM145 518.5h1.6v1.6h-1.6zM145 520h1.6v1.6h-1.6zM145 521h1.6v1.6h-1.6zM145 524.5h1.6v1.6h-1.6zM145.5 503h1.6v1.6h-1.6zM145.5 504h1.6v1.6h-1.6zM145.5 507.5h1.6v1.6h-1.6zM145.5 510.5h1.6v1.6h-1.6zM145.5 513h1.6v1.6h-1.6zM145.5 514.5h1.6v1.6h-1.6zM145.5 517h1.6v1.6h-1.6zM145.5 519.5h1.6v1.6h-1.6zM145.5 521.5h1.6v1.6h-1.6zM146 510h1.6v1.6h-1.6zM146 518h1.6v1.6h-1.6zM146 518.5h1.6v1.6h-1.6zM146 521h1.6v1.6h-1.6zM146.5 489h1.6v1.6h-1.6zM146.5 505.5h1.6v1.6h-1.6zM146.5 510h1.6v1.6h-1.6zM146.5 512h1.6v1.6h-1.6zM146.5 521h1.6v1.6h-1.6zM147 511h1.6v1.6h-1.6zM147 516h1.6v1.6h-1.6zM147 516.5h1.6v1.6h-1.6zM147 517.5h1.6v1.6h-1.6zM147 518.5h1.6v1.6h-1.6zM147.5 502h1.6v1.6h-1.6zM147.5 503h1.6v1.6h-1.6zM147.5 505.5h1.6v1.6h-1.6zM147.5 508h1.6v1.6h-1.6zM147.5 509h1.6v1.6h-1.6zM147.5 511h1.6v1.6h-1.6zM147.5 512h1.6v1.6h-1.6zM147.5 514.5h1.6v1.6h-1.6zM148 499h1.6v1.6h-1.6zM148 507h1.6v1.6h-1.6zM148 507.5h1.6v1.6h-1.6zM148 512h1.6v1.6h-1.6zM148 512.5h1.6v1.6h-1.6zM148 513.5h1.6v1.6h-1.6zM148.5 502.5h1.6v1.6h-1.6zM148.5 503h1.6v1.6h-1.6zM148.5 506h1.6v1.6h-1.6zM148.5 507.5h1.6v1.6h-1.6zM148.5 511h1.6v1.6h-1.6zM148.5 517h1.6v1.6h-1.6zM149 500h1.6v1.6h-1.6zM149 506.5h1.6v1.6h-1.6zM149 507h1.6v1.6h-1.6zM149 511h1.6v1.6h-1.6zM149 512h1.6v1.6h-1.6zM149 513h1.6v1.6h-1.6zM149.5 501h1.6v1.6h-1.6zM149.5 508.5h1.6v1.6h-1.6zM149.5 509h1.6v1.6h-1.6zM149.5 517h1.6v1.6h-1.6zM150 503h1.6v1.6h-1.6zM150 507.5h1.6v1.6h-1.6zM150 514h1.6v1.6h-1.6zM150 515.5h1.6v1.6h-1.6zM150 517h1.6v1.6h-1.6zM150 522h1.6v1.6h-1.6zM150.5 504h1.6v1.6h-1.6zM150.5 506.5h1.6v1.6h-1.6zM150.5 509.5h1.6v1.6h-1.6zM150.5 513.5h1.6v1.6h-1.6zM150.5 517h1.6v1.6h-1.6zM150.5 518.5h1.6v1.6h-1.6zM150.5 521.5h1.6v1.6h-1.6zM151 492h1.6v1.6h-1.6zM151 513h1.6v1.6h-1.6zM151 516h1.6v1.6h-1.6zM151 521h1.6v1.6h-1.6zM151 523.5h1.6v1.6h-1.6zM151 524.5h1.6v1.6h-1.6zM151.5 494.5h1.6v1.6h-1.6zM151.5 512h1.6v1.6h-1.6zM151.5 514.5h1.6v1.6h-1.6zM151.5 516h1.6v1.6h-1.6zM151.5 517.5h1.6v1.6h-1.6zM151.5 522h1.6v1.6h-1.6zM151.5 524h1.6v1.6h-1.6zM151.5 525h1.6v1.6h-1.6zM152 489.5h1.6v1.6h-1.6zM152 494h1.6v1.6h-1.6zM152 507.5h1.6v1.6h-1.6zM152 509.5h1.6v1.6h-1.6zM152 511h1.6v1.6h-1.6zM152 513h1.6v1.6h-1.6zM152 515.5h1.6v1.6h-1.6zM152 516h1.6v1.6h-1.6zM152 519h1.6v1.6h-1.6zM152 523.5h1.6v1.6h-1.6zM152.5 486.5h1.6v1.6h-1.6zM152.5 511.5h1.6v1.6h-1.6zM152.5 513.5h1.6v1.6h-1.6zM152.5 516h1.6v1.6h-1.6zM152.5 518.5h1.6v1.6h-1.6zM152.5 519h1.6v1.6h-1.6zM152.5 522.5h1.6v1.6h-1.6zM153 509h1.6v1.6h-1.6zM153 510h1.6v1.6h-1.6zM153 512h1.6v1.6h-1.6zM153 515.5h1.6v1.6h-1.6zM153.5 497.5h1.6v1.6h-1.6zM153.5 509h1.6v1.6h-1.6zM153.5 514h1.6v1.6h-1.6zM153.5 516h1.6v1.6h-1.6zM154 493.5h1.6v1.6h-1.6zM154 497.5h1.6v1.6h-1.6zM154 503h1.6v1.6h-1.6zM154 506h1.6v1.6h-1.6zM154 508h1.6v1.6h-1.6zM154 512.5h1.6v1.6h-1.6zM154 513.5h1.6v1.6h-1.6zM154 515h1.6v1.6h-1.6zM154 517.5h1.6v1.6h-1.6zM154 518h1.6v1.6h-1.6zM154 520h1.6v1.6h-1.6zM154 521.5h1.6v1.6h-1.6zM154.5 490.5h1.6v1.6h-1.6zM154.5 511h1.6v1.6h-1.6zM154.5 514h1.6v1.6h-1.6zM154.5 518.5h1.6v1.6h-1.6zM154.5 521.5h1.6v1.6h-1.6zM155 507h1.6v1.6h-1.6zM155 512.5h1.6v1.6h-1.6zM155 515h1.6v1.6h-1.6zM155 516h1.6v1.6h-1.6zM155 518.5h1.6v1.6h-1.6zM155 519.5h1.6v1.6h-1.6zM155.5 494.5h1.6v1.6h-1.6zM155.5 509h1.6v1.6h-1.6zM155.5 512h1.6v1.6h-1.6zM155.5 513h1.6v1.6h-1.6zM155.5 514h1.6v1.6h-1.6zM155.5 516h1.6v1.6h-1.6zM155.5 517h1.6v1.6h-1.6zM156 502h1.6v1.6h-1.6zM156 506h1.6v1.6h-1.6zM156 517h1.6v1.6h-1.6zM156 517.5h1.6v1.6h-1.6zM156 520.5h1.6v1.6h-1.6zM156.5 504.5h1.6v1.6h-1.6zM156.5 516h1.6v1.6h-1.6zM156.5 518h1.6v1.6h-1.6zM156.5 519h1.6v1.6h-1.6zM157 500.5h1.6v1.6h-1.6zM157 509h1.6v1.6h-1.6zM157 509.5h1.6v1.6h-1.6zM157 510.5h1.6v1.6h-1.6zM157 511.5h1.6v1.6h-1.6zM157 515.5h1.6v1.6h-1.6zM157 524h1.6v1.6h-1.6zM157.5 499.5h1.6v1.6h-1.6zM157.5 510h1.6v1.6h-1.6zM157.5 512.5h1.6v1.6h-1.6zM157.5 513h1.6v1.6h-1.6zM157.5 513.5h1.6v1.6h-1.6zM157.5 514h1.6v1.6h-1.6zM157.5 515h1.6v1.6h-1.6zM157.5 517.5h1.6v1.6h-1.6zM158 490h1.6v1.6h-1.6zM158 508h1.6v1.6h-1.6zM158 516.5h1.6v1.6h-1.6zM158 518h1.6v1.6h-1.6zM158 518.5h1.6v1.6h-1.6zM158 523h1.6v1.6h-1.6zM158.5 491.5h1.6v1.6h-1.6zM158.5 492.5h1.6v1.6h-1.6zM158.5 503.5h1.6v1.6h-1.6zM158.5 510.5h1.6v1.6h-1.6zM158.5 511h1.6v1.6h-1.6zM158.5 511.5h1.6v1.6h-1.6zM158.5 513h1.6v1.6h-1.6zM158.5 515h1.6v1.6h-1.6zM158.5 515.5h1.6v1.6h-1.6zM158.5 516.5h1.6v1.6h-1.6zM158.5 517h1.6v1.6h-1.6zM159 514.5h1.6v1.6h-1.6zM159 516h1.6v1.6h-1.6zM159.5 488.5h1.6v1.6h-1.6zM159.5 511.5h1.6v1.6h-1.6zM159.5 513h1.6v1.6h-1.6zM159.5 514h1.6v1.6h-1.6zM159.5 515h1.6v1.6h-1.6zM159.5 519.5h1.6v1.6h-1.6zM160 497.5h1.6v1.6h-1.6zM160 508h1.6v1.6h-1.6zM160 513.5h1.6v1.6h-1.6zM160 515.5h1.6v1.6h-1.6zM160 516.5h1.6v1.6h-1.6zM160.5 494h1.6v1.6h-1.6zM160.5 498h1.6v1.6h-1.6zM160.5 499h1.6v1.6h-1.6zM160.5 506.5h1.6v1.6h-1.6zM160.5 510.5h1.6v1.6h-1.6zM160.5 515.5h1.6v1.6h-1.6zM160.5 518.5h1.6v1.6h-1.6zM161 496.5h1.6v1.6h-1.6zM161 498.5h1.6v1.6h-1.6zM161 506.5h1.6v1.6h-1.6zM161 508h1.6v1.6h-1.6zM161 509h1.6v1.6h-1.6zM161 511h1.6v1.6h-1.6zM161.5 509h1.6v1.6h-1.6zM161.5 509.5h1.6v1.6h-1.6zM161.5 513.5h1.6v1.6h-1.6zM161.5 514h1.6v1.6h-1.6zM161.5 514.5h1.6v1.6h-1.6zM161.5 515.5h1.6v1.6h-1.6zM161.5 518.5h1.6v1.6h-1.6zM161.5 520h1.6v1.6h-1.6zM161.5 522h1.6v1.6h-1.6zM162 489.5h1.6v1.6h-1.6zM162 506.5h1.6v1.6h-1.6zM162 507.5h1.6v1.6h-1.6zM162 508h1.6v1.6h-1.6zM162 508.5h1.6v1.6h-1.6zM162 518.5h1.6v1.6h-1.6zM162 522.5h1.6v1.6h-1.6zM162.5 495h1.6v1.6h-1.6zM162.5 497.5h1.6v1.6h-1.6zM162.5 504h1.6v1.6h-1.6zM162.5 511h1.6v1.6h-1.6zM162.5 514h1.6v1.6h-1.6zM162.5 518h1.6v1.6h-1.6zM162.5 521.5h1.6v1.6h-1.6zM163 510.5h1.6v1.6h-1.6zM163 517.5h1.6v1.6h-1.6zM163 519.5h1.6v1.6h-1.6zM163.5 489.5h1.6v1.6h-1.6zM163.5 491.5h1.6v1.6h-1.6zM163.5 493.5h1.6v1.6h-1.6zM163.5 510.5h1.6v1.6h-1.6zM163.5 511h1.6v1.6h-1.6zM163.5 512.5h1.6v1.6h-1.6zM163.5 513h1.6v1.6h-1.6zM163.5 513.5h1.6v1.6h-1.6zM163.5 525h1.6v1.6h-1.6zM164 502h1.6v1.6h-1.6zM164 512h1.6v1.6h-1.6zM164 513h1.6v1.6h-1.6zM164 514h1.6v1.6h-1.6zM164 515.5h1.6v1.6h-1.6zM164 518.5h1.6v1.6h-1.6zM164 519h1.6v1.6h-1.6zM164 520h1.6v1.6h-1.6zM164 521h1.6v1.6h-1.6zM164 521.5h1.6v1.6h-1.6zM164.5 512h1.6v1.6h-1.6zM164.5 512.5h1.6v1.6h-1.6zM164.5 514h1.6v1.6h-1.6zM164.5 515h1.6v1.6h-1.6zM164.5 518.5h1.6v1.6h-1.6zM164.5 520h1.6v1.6h-1.6zM164.5 521.5h1.6v1.6h-1.6zM164.5 525h1.6v1.6h-1.6zM165 498.5h1.6v1.6h-1.6zM165 501.5h1.6v1.6h-1.6zM165 503.5h1.6v1.6h-1.6zM165 513h1.6v1.6h-1.6zM165 514h1.6v1.6h-1.6zM165 515h1.6v1.6h-1.6zM165.5 490h1.6v1.6h-1.6zM165.5 509h1.6v1.6h-1.6zM165.5 510h1.6v1.6h-1.6zM165.5 515.5h1.6v1.6h-1.6zM165.5 516h1.6v1.6h-1.6zM165.5 520h1.6v1.6h-1.6zM165.5 521.5h1.6v1.6h-1.6zM166 487.5h1.6v1.6h-1.6zM166 507.5h1.6v1.6h-1.6zM166 515.5h1.6v1.6h-1.6zM166 518h1.6v1.6h-1.6zM166 518.5h1.6v1.6h-1.6zM166 521h1.6v1.6h-1.6zM166.5 503.5h1.6v1.6h-1.6zM166.5 511.5h1.6v1.6h-1.6zM166.5 513.5h1.6v1.6h-1.6zM166.5 516h1.6v1.6h-1.6zM166.5 516.5h1.6v1.6h-1.6zM166.5 519h1.6v1.6h-1.6zM166.5 520.5h1.6v1.6h-1.6zM166.5 521h1.6v1.6h-1.6zM166.5 522.5h1.6v1.6h-1.6zM167 491h1.6v1.6h-1.6zM167 502h1.6v1.6h-1.6zM167 503h1.6v1.6h-1.6zM167 507.5h1.6v1.6h-1.6zM167 514.5h1.6v1.6h-1.6zM167 519h1.6v1.6h-1.6zM167 519.5h1.6v1.6h-1.6zM167 520h1.6v1.6h-1.6zM167 520.5h1.6v1.6h-1.6zM167 521h1.6v1.6h-1.6zM167 521.5h1.6v1.6h-1.6zM167 522h1.6v1.6h-1.6zM167.5 505.5h1.6v1.6h-1.6zM167.5 509.5h1.6v1.6h-1.6zM167.5 513h1.6v1.6h-1.6zM167.5 520.5h1.6v1.6h-1.6zM167.5 522h1.6v1.6h-1.6zM167.5 522.5h1.6v1.6h-1.6zM168 504.5h1.6v1.6h-1.6zM168 516h1.6v1.6h-1.6zM168 516.5h1.6v1.6h-1.6zM168 519h1.6v1.6h-1.6zM168 521.5h1.6v1.6h-1.6zM168 522h1.6v1.6h-1.6zM168 523h1.6v1.6h-1.6zM168 523.5h1.6v1.6h-1.6zM168 526h1.6v1.6h-1.6zM168 527h1.6v1.6h-1.6zM168.5 488.5h1.6v1.6h-1.6zM168.5 504.5h1.6v1.6h-1.6zM168.5 515h1.6v1.6h-1.6zM168.5 519h1.6v1.6h-1.6zM168.5 519.5h1.6v1.6h-1.6zM168.5 522h1.6v1.6h-1.6zM168.5 523h1.6v1.6h-1.6zM168.5 523.5h1.6v1.6h-1.6zM169 491.5h1.6v1.6h-1.6zM169 511.5h1.6v1.6h-1.6zM169 512h1.6v1.6h-1.6zM169 513.5h1.6v1.6h-1.6zM169 523h1.6v1.6h-1.6zM169.5 512h1.6v1.6h-1.6zM169.5 514h1.6v1.6h-1.6zM169.5 525.5h1.6v1.6h-1.6zM170 507.5h1.6v1.6h-1.6zM170 509h1.6v1.6h-1.6zM170 512.5h1.6v1.6h-1.6zM170 513h1.6v1.6h-1.6zM170 513.5h1.6v1.6h-1.6zM170 523.5h1.6v1.6h-1.6zM170.5 492h1.6v1.6h-1.6zM170.5 511.5h1.6v1.6h-1.6zM170.5 513.5h1.6v1.6h-1.6zM170.5 514h1.6v1.6h-1.6zM170.5 515h1.6v1.6h-1.6zM170.5 523.5h1.6v1.6h-1.6zM171 491h1.6v1.6h-1.6zM171 510.5h1.6v1.6h-1.6zM171 512.5h1.6v1.6h-1.6zM171 513h1.6v1.6h-1.6zM171 513.5h1.6v1.6h-1.6zM171 514h1.6v1.6h-1.6zM171 517.5h1.6v1.6h-1.6zM171 519.5h1.6v1.6h-1.6zM171 521h1.6v1.6h-1.6zM171 522h1.6v1.6h-1.6zM171 522.5h1.6v1.6h-1.6zM171.5 487.5h1.6v1.6h-1.6zM171.5 490.5h1.6v1.6h-1.6zM171.5 511h1.6v1.6h-1.6zM171.5 511.5h1.6v1.6h-1.6zM171.5 512h1.6v1.6h-1.6zM171.5 517.5h1.6v1.6h-1.6zM171.5 519h1.6v1.6h-1.6zM171.5 519.5h1.6v1.6h-1.6zM172 486.5h1.6v1.6h-1.6zM172 497.5h1.6v1.6h-1.6zM172 500h1.6v1.6h-1.6zM172 511h1.6v1.6h-1.6zM172 513h1.6v1.6h-1.6zM172 513.5h1.6v1.6h-1.6zM172 514h1.6v1.6h-1.6zM172 514.5h1.6v1.6h-1.6zM172 518h1.6v1.6h-1.6zM172 523.5h1.6v1.6h-1.6zM172.5 499h1.6v1.6h-1.6zM172.5 508h1.6v1.6h-1.6zM172.5 511h1.6v1.6h-1.6zM172.5 511.5h1.6v1.6h-1.6zM172.5 517h1.6v1.6h-1.6zM172.5 518.5h1.6v1.6h-1.6zM172.5 521h1.6v1.6h-1.6zM173 490.5h1.6v1.6h-1.6zM173 492h1.6v1.6h-1.6zM173 514h1.6v1.6h-1.6zM173 516.5h1.6v1.6h-1.6zM173 517.5h1.6v1.6h-1.6zM173 521h1.6v1.6h-1.6zM173.5 501h1.6v1.6h-1.6zM173.5 505h1.6v1.6h-1.6zM173.5 508h1.6v1.6h-1.6zM173.5 510.5h1.6v1.6h-1.6zM173.5 511.5h1.6v1.6h-1.6zM173.5 512.5h1.6v1.6h-1.6zM173.5 513h1.6v1.6h-1.6zM173.5 515.5h1.6v1.6h-1.6zM173.5 517.5h1.6v1.6h-1.6zM173.5 518.5h1.6v1.6h-1.6zM173.5 520h1.6v1.6h-1.6zM173.5 520.5h1.6v1.6h-1.6zM174 508h1.6v1.6h-1.6zM174 513h1.6v1.6h-1.6zM174.5 509.5h1.6v1.6h-1.6zM174.5 515.5h1.6v1.6h-1.6zM174.5 518h1.6v1.6h-1.6zM174.5 518.5h1.6v1.6h-1.6zM174.5 521.5h1.6v1.6h-1.6zM174.5 522h1.6v1.6h-1.6zM174.5 522.5h1.6v1.6h-1.6zM174.5 524h1.6v1.6h-1.6zM175 489.5h1.6v1.6h-1.6zM175 490h1.6v1.6h-1.6zM175 512h1.6v1.6h-1.6zM175 512.5h1.6v1.6h-1.6zM175 514.5h1.6v1.6h-1.6zM175 516h1.6v1.6h-1.6zM175 517h1.6v1.6h-1.6zM175 518h1.6v1.6h-1.6zM175 521.5h1.6v1.6h-1.6zM175.5 485.5h1.6v1.6h-1.6zM175.5 511.5h1.6v1.6h-1.6zM175.5 513.5h1.6v1.6h-1.6zM175.5 514.5h1.6v1.6h-1.6zM175.5 515h1.6v1.6h-1.6zM175.5 515.5h1.6v1.6h-1.6zM175.5 516.5h1.6v1.6h-1.6zM175.5 521.5h1.6v1.6h-1.6zM175.5 523.5h1.6v1.6h-1.6zM176 487h1.6v1.6h-1.6zM176 508.5h1.6v1.6h-1.6zM176 509.5h1.6v1.6h-1.6zM176 510.5h1.6v1.6h-1.6zM176 513.5h1.6v1.6h-1.6zM176.5 489.5h1.6v1.6h-1.6zM176.5 495.5h1.6v1.6h-1.6zM176.5 507h1.6v1.6h-1.6zM176.5 508.5h1.6v1.6h-1.6zM176.5 511.5h1.6v1.6h-1.6zM176.5 515.5h1.6v1.6h-1.6zM176.5 518h1.6v1.6h-1.6zM176.5 522.5h1.6v1.6h-1.6zM177 487.5h1.6v1.6h-1.6zM177 512h1.6v1.6h-1.6zM177 513h1.6v1.6h-1.6zM177 518.5h1.6v1.6h-1.6zM177 526.5h1.6v1.6h-1.6zM177.5 512h1.6v1.6h-1.6zM177.5 513h1.6v1.6h-1.6zM177.5 515.5h1.6v1.6h-1.6zM177.5 516h1.6v1.6h-1.6zM177.5 519h1.6v1.6h-1.6zM177.5 519.5h1.6v1.6h-1.6zM177.5 522.5h1.6v1.6h-1.6zM177.5 523.5h1.6v1.6h-1.6zM178 493h1.6v1.6h-1.6zM178 504h1.6v1.6h-1.6zM178 513h1.6v1.6h-1.6zM178 515.5h1.6v1.6h-1.6zM178 516h1.6v1.6h-1.6zM178 517.5h1.6v1.6h-1.6zM178 521.5h1.6v1.6h-1.6zM178 522h1.6v1.6h-1.6zM178.5 506h1.6v1.6h-1.6zM178.5 513.5h1.6v1.6h-1.6zM178.5 519h1.6v1.6h-1.6zM178.5 519.5h1.6v1.6h-1.6zM178.5 520.5h1.6v1.6h-1.6zM179 498.5h1.6v1.6h-1.6zM179 512h1.6v1.6h-1.6zM179 514.5h1.6v1.6h-1.6zM179 515h1.6v1.6h-1.6zM179.5 490.5h1.6v1.6h-1.6zM179.5 508.5h1.6v1.6h-1.6zM179.5 513.5h1.6v1.6h-1.6zM179.5 515.5h1.6v1.6h-1.6zM179.5 517h1.6v1.6h-1.6zM179.5 518h1.6v1.6h-1.6zM180 504h1.6v1.6h-1.6zM180 508h1.6v1.6h-1.6zM180 509h1.6v1.6h-1.6zM180 509.5h1.6v1.6h-1.6zM180 511h1.6v1.6h-1.6zM180 516h1.6v1.6h-1.6zM180 516.5h1.6v1.6h-1.6zM180 517.5h1.6v1.6h-1.6zM180.5 488h1.6v1.6h-1.6zM180.5 492h1.6v1.6h-1.6zM180.5 506.5h1.6v1.6h-1.6zM180.5 507.5h1.6v1.6h-1.6zM180.5 508.5h1.6v1.6h-1.6zM180.5 511.5h1.6v1.6h-1.6zM180.5 513.5h1.6v1.6h-1.6zM180.5 514.5h1.6v1.6h-1.6zM180.5 516.5h1.6v1.6h-1.6zM181 501h1.6v1.6h-1.6zM181 502.5h1.6v1.6h-1.6zM181 510h1.6v1.6h-1.6zM181 512.5h1.6v1.6h-1.6zM181 513.5h1.6v1.6h-1.6zM181 514.5h1.6v1.6h-1.6zM181 515.5h1.6v1.6h-1.6zM181 516h1.6v1.6h-1.6zM181 520.5h1.6v1.6h-1.6zM181.5 509.5h1.6v1.6h-1.6zM181.5 511.5h1.6v1.6h-1.6zM181.5 514.5h1.6v1.6h-1.6zM181.5 519h1.6v1.6h-1.6zM182 490h1.6v1.6h-1.6zM182 507h1.6v1.6h-1.6zM182 509h1.6v1.6h-1.6zM182 511h1.6v1.6h-1.6zM182 515.5h1.6v1.6h-1.6zM182 519h1.6v1.6h-1.6zM182 522.5h1.6v1.6h-1.6zM182.5 505.5h1.6v1.6h-1.6zM182.5 507h1.6v1.6h-1.6zM182.5 508h1.6v1.6h-1.6zM182.5 510h1.6v1.6h-1.6zM182.5 511.5h1.6v1.6h-1.6zM182.5 515.5h1.6v1.6h-1.6zM182.5 519.5h1.6v1.6h-1.6zM183 485.5h1.6v1.6h-1.6zM183 506h1.6v1.6h-1.6zM183 509h1.6v1.6h-1.6zM183 512h1.6v1.6h-1.6zM183 512.5h1.6v1.6h-1.6zM183 513h1.6v1.6h-1.6zM183 513.5h1.6v1.6h-1.6zM183 519.5h1.6v1.6h-1.6zM183 520h1.6v1.6h-1.6zM183.5 490h1.6v1.6h-1.6zM183.5 515.5h1.6v1.6h-1.6zM183.5 516.5h1.6v1.6h-1.6zM183.5 517h1.6v1.6h-1.6zM183.5 517.5h1.6v1.6h-1.6zM184 508.5h1.6v1.6h-1.6zM184 510h1.6v1.6h-1.6zM184 515.5h1.6v1.6h-1.6zM184 519.5h1.6v1.6h-1.6zM184.5 490.5h1.6v1.6h-1.6zM184.5 501h1.6v1.6h-1.6zM184.5 509.5h1.6v1.6h-1.6zM184.5 512h1.6v1.6h-1.6zM184.5 513.5h1.6v1.6h-1.6zM184.5 514.5h1.6v1.6h-1.6zM184.5 515.5h1.6v1.6h-1.6zM184.5 517h1.6v1.6h-1.6zM184.5 517.5h1.6v1.6h-1.6zM184.5 518.5h1.6v1.6h-1.6zM184.5 520h1.6v1.6h-1.6zM184.5 520.5h1.6v1.6h-1.6zM185 494h1.6v1.6h-1.6zM185 498h1.6v1.6h-1.6zM185 498.5h1.6v1.6h-1.6zM185 508h1.6v1.6h-1.6zM185 511h1.6v1.6h-1.6zM185 515h1.6v1.6h-1.6zM185.5 504.5h1.6v1.6h-1.6zM185.5 506h1.6v1.6h-1.6zM185.5 508.5h1.6v1.6h-1.6zM185.5 515h1.6v1.6h-1.6zM185.5 516h1.6v1.6h-1.6zM185.5 516.5h1.6v1.6h-1.6zM186 487h1.6v1.6h-1.6zM186 509.5h1.6v1.6h-1.6zM186 510.5h1.6v1.6h-1.6zM186 511.5h1.6v1.6h-1.6zM186 513h1.6v1.6h-1.6zM186 516.5h1.6v1.6h-1.6zM186 519h1.6v1.6h-1.6zM186 520.5h1.6v1.6h-1.6zM186.5 464h1.6v1.6h-1.6zM186.5 512.5h1.6v1.6h-1.6zM186.5 513.5h1.6v1.6h-1.6zM186.5 516h1.6v1.6h-1.6zM187 498h1.6v1.6h-1.6zM187 513h1.6v1.6h-1.6zM187 513.5h1.6v1.6h-1.6zM187 514h1.6v1.6h-1.6zM187 516.5h1.6v1.6h-1.6zM187 524h1.6v1.6h-1.6zM187.5 487.5h1.6v1.6h-1.6zM187.5 491h1.6v1.6h-1.6zM187.5 502.5h1.6v1.6h-1.6zM187.5 509.5h1.6v1.6h-1.6zM187.5 518h1.6v1.6h-1.6zM187.5 518.5h1.6v1.6h-1.6zM187.5 521h1.6v1.6h-1.6zM187.5 522.5h1.6v1.6h-1.6zM188 507.5h1.6v1.6h-1.6zM188 510.5h1.6v1.6h-1.6zM188 512h1.6v1.6h-1.6zM188 514.5h1.6v1.6h-1.6zM188 515h1.6v1.6h-1.6zM188 517h1.6v1.6h-1.6zM188 518h1.6v1.6h-1.6zM188.5 500h1.6v1.6h-1.6zM188.5 502h1.6v1.6h-1.6zM188.5 506.5h1.6v1.6h-1.6zM188.5 509.5h1.6v1.6h-1.6zM188.5 510h1.6v1.6h-1.6zM188.5 510.5h1.6v1.6h-1.6zM188.5 511.5h1.6v1.6h-1.6zM188.5 512.5h1.6v1.6h-1.6zM188.5 518.5h1.6v1.6h-1.6zM189 494h1.6v1.6h-1.6zM189 499.5h1.6v1.6h-1.6zM189 505.5h1.6v1.6h-1.6zM189 509h1.6v1.6h-1.6zM189 512.5h1.6v1.6h-1.6zM189 513h1.6v1.6h-1.6zM189 515h1.6v1.6h-1.6zM189.5 499.5h1.6v1.6h-1.6zM189.5 509h1.6v1.6h-1.6zM189.5 513h1.6v1.6h-1.6zM189.5 514h1.6v1.6h-1.6zM189.5 514.5h1.6v1.6h-1.6zM190 497.5h1.6v1.6h-1.6zM190 502.5h1.6v1.6h-1.6zM190 507.5h1.6v1.6h-1.6zM190 513.5h1.6v1.6h-1.6zM190 514h1.6v1.6h-1.6zM190 514.5h1.6v1.6h-1.6zM190 516.5h1.6v1.6h-1.6zM190 519h1.6v1.6h-1.6zM190.5 499h1.6v1.6h-1.6zM190.5 510.5h1.6v1.6h-1.6zM190.5 512.5h1.6v1.6h-1.6zM191 513h1.6v1.6h-1.6zM191 513.5h1.6v1.6h-1.6zM191 514h1.6v1.6h-1.6zM191 516h1.6v1.6h-1.6zM191 518h1.6v1.6h-1.6zM191 519h1.6v1.6h-1.6zM191 519.5h1.6v1.6h-1.6zM191 520.5h1.6v1.6h-1.6zM191.5 495.5h1.6v1.6h-1.6zM191.5 509h1.6v1.6h-1.6zM191.5 510h1.6v1.6h-1.6zM191.5 511.5h1.6v1.6h-1.6zM191.5 512.5h1.6v1.6h-1.6zM191.5 514h1.6v1.6h-1.6zM191.5 514.5h1.6v1.6h-1.6zM191.5 515h1.6v1.6h-1.6zM191.5 518h1.6v1.6h-1.6zM191.5 521h1.6v1.6h-1.6zM192 503h1.6v1.6h-1.6zM192 504.5h1.6v1.6h-1.6zM192 506h1.6v1.6h-1.6zM192 513.5h1.6v1.6h-1.6zM192 515.5h1.6v1.6h-1.6zM192 517h1.6v1.6h-1.6zM192.5 506h1.6v1.6h-1.6zM192.5 507h1.6v1.6h-1.6zM192.5 512.5h1.6v1.6h-1.6zM192.5 516.5h1.6v1.6h-1.6zM193 496.5h1.6v1.6h-1.6zM193 505.5h1.6v1.6h-1.6zM193 512h1.6v1.6h-1.6zM193 513h1.6v1.6h-1.6zM193.5 506h1.6v1.6h-1.6zM193.5 509h1.6v1.6h-1.6zM193.5 509.5h1.6v1.6h-1.6zM193.5 510.5h1.6v1.6h-1.6zM193.5 512h1.6v1.6h-1.6zM193.5 515h1.6v1.6h-1.6zM194 488.5h1.6v1.6h-1.6zM194 493.5h1.6v1.6h-1.6zM194 510.5h1.6v1.6h-1.6zM194 511h1.6v1.6h-1.6zM194 513h1.6v1.6h-1.6zM194.5 484.5h1.6v1.6h-1.6zM194.5 508.5h1.6v1.6h-1.6zM194.5 512.5h1.6v1.6h-1.6zM194.5 515h1.6v1.6h-1.6zM194.5 516.5h1.6v1.6h-1.6zM194.5 517.5h1.6v1.6h-1.6zM195 487.5h1.6v1.6h-1.6zM195 491h1.6v1.6h-1.6zM195 506h1.6v1.6h-1.6zM195 511.5h1.6v1.6h-1.6zM195 513h1.6v1.6h-1.6zM195 516h1.6v1.6h-1.6zM195.5 511h1.6v1.6h-1.6zM195.5 512.5h1.6v1.6h-1.6zM195.5 517.5h1.6v1.6h-1.6zM195.5 520.5h1.6v1.6h-1.6zM196 504.5h1.6v1.6h-1.6zM196 506h1.6v1.6h-1.6zM196 507.5h1.6v1.6h-1.6zM196 510h1.6v1.6h-1.6zM196 511.5h1.6v1.6h-1.6zM196 512h1.6v1.6h-1.6zM196 512.5h1.6v1.6h-1.6zM196 519h1.6v1.6h-1.6zM196 519.5h1.6v1.6h-1.6zM196.5 506h1.6v1.6h-1.6zM196.5 511.5h1.6v1.6h-1.6zM196.5 514.5h1.6v1.6h-1.6zM196.5 515.5h1.6v1.6h-1.6zM196.5 519h1.6v1.6h-1.6zM196.5 520.5h1.6v1.6h-1.6zM196.5 525h1.6v1.6h-1.6zM197 484h1.6v1.6h-1.6zM197 507h1.6v1.6h-1.6zM197 513h1.6v1.6h-1.6zM197 513.5h1.6v1.6h-1.6zM197 516h1.6v1.6h-1.6zM197 516.5h1.6v1.6h-1.6zM197 517.5h1.6v1.6h-1.6zM197 518h1.6v1.6h-1.6zM197 519.5h1.6v1.6h-1.6zM197 520.5h1.6v1.6h-1.6zM197 522h1.6v1.6h-1.6zM197.5 490.5h1.6v1.6h-1.6zM197.5 506h1.6v1.6h-1.6zM197.5 510.5h1.6v1.6h-1.6zM197.5 513h1.6v1.6h-1.6zM197.5 515h1.6v1.6h-1.6zM197.5 516.5h1.6v1.6h-1.6zM197.5 517h1.6v1.6h-1.6zM197.5 521h1.6v1.6h-1.6zM197.5 521.5h1.6v1.6h-1.6zM198 498.5h1.6v1.6h-1.6zM198 514.5h1.6v1.6h-1.6zM198 515.5h1.6v1.6h-1.6zM198 516h1.6v1.6h-1.6zM198 518h1.6v1.6h-1.6zM198 518.5h1.6v1.6h-1.6zM198 519h1.6v1.6h-1.6zM198 520h1.6v1.6h-1.6zM198 523h1.6v1.6h-1.6zM198 524h1.6v1.6h-1.6zM198.5 504h1.6v1.6h-1.6zM198.5 506.5h1.6v1.6h-1.6zM198.5 508h1.6v1.6h-1.6zM198.5 511.5h1.6v1.6h-1.6zM198.5 518.5h1.6v1.6h-1.6zM198.5 519h1.6v1.6h-1.6zM198.5 519.5h1.6v1.6h-1.6zM198.5 520.5h1.6v1.6h-1.6zM199 484h1.6v1.6h-1.6zM199 494.5h1.6v1.6h-1.6zM199 501.5h1.6v1.6h-1.6zM199 510.5h1.6v1.6h-1.6zM199 511.5h1.6v1.6h-1.6zM199 512h1.6v1.6h-1.6zM199 514h1.6v1.6h-1.6zM199 523.5h1.6v1.6h-1.6zM199.5 506h1.6v1.6h-1.6zM199.5 508h1.6v1.6h-1.6zM199.5 508.5h1.6v1.6h-1.6zM199.5 513.5h1.6v1.6h-1.6zM199.5 514h1.6v1.6h-1.6zM199.5 522.5h1.6v1.6h-1.6zM200 488h1.6v1.6h-1.6zM200 493.5h1.6v1.6h-1.6zM200 501.5h1.6v1.6h-1.6zM200 506.5h1.6v1.6h-1.6zM200 510.5h1.6v1.6h-1.6zM200 512h1.6v1.6h-1.6zM200 514h1.6v1.6h-1.6zM200 515.5h1.6v1.6h-1.6zM200 516h1.6v1.6h-1.6zM200 518h1.6v1.6h-1.6zM200.5 513.5h1.6v1.6h-1.6zM200.5 514h1.6v1.6h-1.6zM200.5 515h1.6v1.6h-1.6zM200.5 515.5h1.6v1.6h-1.6zM201 509.5h1.6v1.6h-1.6zM201 510h1.6v1.6h-1.6zM201 514h1.6v1.6h-1.6zM201 519.5h1.6v1.6h-1.6zM201.5 484h1.6v1.6h-1.6zM201.5 504h1.6v1.6h-1.6zM201.5 511h1.6v1.6h-1.6zM201.5 512h1.6v1.6h-1.6zM201.5 514.5h1.6v1.6h-1.6zM201.5 515h1.6v1.6h-1.6zM201.5 518.5h1.6v1.6h-1.6zM202 502.5h1.6v1.6h-1.6zM202 503h1.6v1.6h-1.6zM202 514h1.6v1.6h-1.6zM202 515.5h1.6v1.6h-1.6zM202 516.5h1.6v1.6h-1.6zM202.5 495.5h1.6v1.6h-1.6zM202.5 500.5h1.6v1.6h-1.6zM202.5 505.5h1.6v1.6h-1.6zM202.5 510.5h1.6v1.6h-1.6zM202.5 511.5h1.6v1.6h-1.6zM202.5 514h1.6v1.6h-1.6zM202.5 514.5h1.6v1.6h-1.6zM203 509h1.6v1.6h-1.6zM203 513.5h1.6v1.6h-1.6zM203 515h1.6v1.6h-1.6zM203 515.5h1.6v1.6h-1.6zM203.5 503.5h1.6v1.6h-1.6zM203.5 504.5h1.6v1.6h-1.6zM203.5 506h1.6v1.6h-1.6zM203.5 507h1.6v1.6h-1.6zM203.5 514h1.6v1.6h-1.6zM204 493h1.6v1.6h-1.6zM204 504.5h1.6v1.6h-1.6zM204 507.5h1.6v1.6h-1.6zM204 509h1.6v1.6h-1.6zM204 511h1.6v1.6h-1.6zM204 512h1.6v1.6h-1.6zM204 515h1.6v1.6h-1.6zM204.5 491h1.6v1.6h-1.6zM204.5 506.5h1.6v1.6h-1.6zM204.5 507.5h1.6v1.6h-1.6zM204.5 510.5h1.6v1.6h-1.6zM204.5 512.5h1.6v1.6h-1.6zM204.5 513h1.6v1.6h-1.6zM204.5 514.5h1.6v1.6h-1.6zM204.5 515h1.6v1.6h-1.6zM204.5 516.5h1.6v1.6h-1.6zM204.5 517h1.6v1.6h-1.6zM205 486h1.6v1.6h-1.6zM205 507h1.6v1.6h-1.6zM205 510h1.6v1.6h-1.6zM205 513h1.6v1.6h-1.6zM205 513.5h1.6v1.6h-1.6zM205 515.5h1.6v1.6h-1.6zM205 516.5h1.6v1.6h-1.6zM205.5 490h1.6v1.6h-1.6zM205.5 506.5h1.6v1.6h-1.6zM205.5 510h1.6v1.6h-1.6zM205.5 511h1.6v1.6h-1.6zM205.5 511.5h1.6v1.6h-1.6zM205.5 515.5h1.6v1.6h-1.6zM205.5 516.5h1.6v1.6h-1.6zM205.5 519.5h1.6v1.6h-1.6zM206 487.5h1.6v1.6h-1.6zM206 501h1.6v1.6h-1.6zM206 506.5h1.6v1.6h-1.6zM206 508.5h1.6v1.6h-1.6zM206 509h1.6v1.6h-1.6zM206 514h1.6v1.6h-1.6zM206.5 506h1.6v1.6h-1.6zM206.5 506.5h1.6v1.6h-1.6zM206.5 508.5h1.6v1.6h-1.6zM206.5 511.5h1.6v1.6h-1.6zM206.5 512h1.6v1.6h-1.6zM206.5 513.5h1.6v1.6h-1.6zM206.5 515.5h1.6v1.6h-1.6zM207 491h1.6v1.6h-1.6zM207 509.5h1.6v1.6h-1.6zM207 510.5h1.6v1.6h-1.6zM207 511.5h1.6v1.6h-1.6zM207 516h1.6v1.6h-1.6zM207.5 489.5h1.6v1.6h-1.6zM207.5 490h1.6v1.6h-1.6zM207.5 499.5h1.6v1.6h-1.6zM207.5 506.5h1.6v1.6h-1.6zM207.5 507h1.6v1.6h-1.6zM207.5 509.5h1.6v1.6h-1.6zM207.5 510.5h1.6v1.6h-1.6zM207.5 511h1.6v1.6h-1.6zM207.5 513h1.6v1.6h-1.6zM207.5 513.5h1.6v1.6h-1.6zM207.5 517h1.6v1.6h-1.6zM208 496.5h1.6v1.6h-1.6zM208 499.5h1.6v1.6h-1.6zM208 511h1.6v1.6h-1.6zM208 514h1.6v1.6h-1.6zM208 519.5h1.6v1.6h-1.6zM208.5 511h1.6v1.6h-1.6zM208.5 514h1.6v1.6h-1.6zM208.5 515.5h1.6v1.6h-1.6zM208.5 519h1.6v1.6h-1.6zM208.5 521.5h1.6v1.6h-1.6zM209 506.5h1.6v1.6h-1.6zM209 510.5h1.6v1.6h-1.6zM209 514.5h1.6v1.6h-1.6zM209 515h1.6v1.6h-1.6zM209 517h1.6v1.6h-1.6zM209 519h1.6v1.6h-1.6zM209 522.5h1.6v1.6h-1.6zM209.5 499h1.6v1.6h-1.6zM209.5 501h1.6v1.6h-1.6zM209.5 510h1.6v1.6h-1.6zM209.5 512.5h1.6v1.6h-1.6zM209.5 522.5h1.6v1.6h-1.6zM210 502h1.6v1.6h-1.6zM210 506h1.6v1.6h-1.6zM210 508h1.6v1.6h-1.6zM210 508.5h1.6v1.6h-1.6zM210 509.5h1.6v1.6h-1.6zM210 511.5h1.6v1.6h-1.6zM210 514h1.6v1.6h-1.6zM210 515h1.6v1.6h-1.6zM210 517.5h1.6v1.6h-1.6zM210.5 499.5h1.6v1.6h-1.6zM210.5 512.5h1.6v1.6h-1.6zM210.5 517h1.6v1.6h-1.6zM210.5 518.5h1.6v1.6h-1.6zM210.5 519.5h1.6v1.6h-1.6zM211 498h1.6v1.6h-1.6zM211 499.5h1.6v1.6h-1.6zM211 502h1.6v1.6h-1.6zM211 508.5h1.6v1.6h-1.6zM211 510.5h1.6v1.6h-1.6zM211 511h1.6v1.6h-1.6zM211 512h1.6v1.6h-1.6zM211 515.5h1.6v1.6h-1.6zM211 519h1.6v1.6h-1.6zM211 522.5h1.6v1.6h-1.6zM211.5 507h1.6v1.6h-1.6zM211.5 509.5h1.6v1.6h-1.6zM211.5 512.5h1.6v1.6h-1.6zM211.5 515.5h1.6v1.6h-1.6zM211.5 518.5h1.6v1.6h-1.6zM211.5 519.5h1.6v1.6h-1.6zM211.5 522.5h1.6v1.6h-1.6zM212 499.5h1.6v1.6h-1.6zM212 504.5h1.6v1.6h-1.6zM212 505h1.6v1.6h-1.6zM212 515h1.6v1.6h-1.6zM212.5 501h1.6v1.6h-1.6zM212.5 506h1.6v1.6h-1.6zM212.5 507h1.6v1.6h-1.6zM212.5 514.5h1.6v1.6h-1.6zM212.5 518h1.6v1.6h-1.6zM213 510.5h1.6v1.6h-1.6zM213 514h1.6v1.6h-1.6zM213 516h1.6v1.6h-1.6zM213.5 505h1.6v1.6h-1.6zM213.5 511.5h1.6v1.6h-1.6zM213.5 514.5h1.6v1.6h-1.6zM213.5 517.5h1.6v1.6h-1.6z" fill="#00007f"/>
<line x1="43.5" y1="407.3" x2="217" y2="407.3" stroke="#999" stroke-width="1.3" stroke-dasharray="4.1 2.65"/>
<line x1="42.5" y1="406.02" x2="42.5" y2="543" stroke="#222" stroke-width="1"/>
<line x1="38.5" y1="543" x2="42.5" y2="543" stroke="#222" stroke-width="1"/>
<text x="33.8" y="547" font-size="11" text-anchor="end" class="h">0</text>
<text x="33.8" y="547" font-size="11" text-anchor="end" class="k">0</text>
<line x1="38.5" y1="520.17" x2="42.5" y2="520.17" stroke="#222" stroke-width="1"/>
<text x="33.8" y="524.17" font-size="11" text-anchor="end" class="h">1</text>
<text x="33.8" y="524.17" font-size="11" text-anchor="end" class="k">1</text>
<line x1="38.5" y1="497.34" x2="42.5" y2="497.34" stroke="#222" stroke-width="1"/>
<text x="33.8" y="501.34" font-size="11" text-anchor="end" class="h">2</text>
<text x="33.8" y="501.34" font-size="11" text-anchor="end" class="k">2</text>
<line x1="38.5" y1="474.51" x2="42.5" y2="474.51" stroke="#222" stroke-width="1"/>
<text x="33.8" y="478.51" font-size="11" text-anchor="end" class="h">3</text>
<text x="33.8" y="478.51" font-size="11" text-anchor="end" class="k">3</text>
<line x1="38.5" y1="451.68" x2="42.5" y2="451.68" stroke="#222" stroke-width="1"/>
<text x="33.8" y="455.68" font-size="11" text-anchor="end" class="h">4</text>
<text x="33.8" y="455.68" font-size="11" text-anchor="end" class="k">4</text>
<line x1="38.5" y1="428.85" x2="42.5" y2="428.85" stroke="#222" stroke-width="1"/>
<text x="33.8" y="432.85" font-size="11" text-anchor="end" class="h">5</text>
<text x="33.8" y="432.85" font-size="11" text-anchor="end" class="k">5</text>
<line x1="38.5" y1="406.02" x2="42.5" y2="406.02" stroke="#222" stroke-width="1"/>
<text x="33.8" y="410.02" font-size="11" text-anchor="end" class="h">6</text>
<text x="33.8" y="410.02" font-size="11" text-anchor="end" class="k">6</text>
<line x1="46.9" y1="544" x2="46.9" y2="548" stroke="#333" stroke-width="1.4"/>
<text x="46.9" y="562" font-size="11" text-anchor="middle" class="h">0</text>
<text x="46.9" y="562" font-size="11" text-anchor="middle" class="k">0</text>
<line x1="72.35" y1="544" x2="72.35" y2="548" stroke="#333" stroke-width="1.4"/>
<text x="72.35" y="562" font-size="11" text-anchor="middle" class="h">10</text>
<text x="72.35" y="562" font-size="11" text-anchor="middle" class="k">10</text>
<line x1="97.8" y1="544" x2="97.8" y2="548" stroke="#333" stroke-width="1.4"/>
<text x="97.8" y="562" font-size="11" text-anchor="middle" class="h">20</text>
<text x="97.8" y="562" font-size="11" text-anchor="middle" class="k">20</text>
<line x1="123.25" y1="544" x2="123.25" y2="548" stroke="#333" stroke-width="1.4"/>
<text x="123.25" y="562" font-size="11" text-anchor="middle" class="h">30</text>
<text x="123.25" y="562" font-size="11" text-anchor="middle" class="k">30</text>
<line x1="148.7" y1="544" x2="148.7" y2="548" stroke="#333" stroke-width="1.4"/>
<text x="148.7" y="562" font-size="11" text-anchor="middle" class="h">40</text>
<text x="148.7" y="562" font-size="11" text-anchor="middle" class="k">40</text>
<line x1="174.15" y1="544" x2="174.15" y2="548" stroke="#333" stroke-width="1.4"/>
<text x="174.15" y="562" font-size="11" text-anchor="middle" class="h">50</text>
<text x="174.15" y="562" font-size="11" text-anchor="middle" class="k">50</text>
<line x1="199.6" y1="544" x2="199.6" y2="548" stroke="#333" stroke-width="1.4"/>
<text x="199.6" y="562" font-size="11" text-anchor="middle" class="h">60</text>
<text x="199.6" y="562" font-size="11" text-anchor="middle" class="k">60</text>
<text x="123" y="579.5" font-size="11.15" text-anchor="middle" class="h">Chromosome D08 (Mb)</text>
<text x="123" y="579.5" font-size="11.15" text-anchor="middle" class="k">Chromosome D08 (Mb)</text>
<text x="126" y="416.5" font-size="11" text-anchor="middle">SI</text>
<line x1="55" y1="392.5" x2="55" y2="399.5" stroke="#000" stroke-width="1.8"/>
<path d="M51 399L59 399L55 404Z" fill="#000"/>
<text x="10" y="476.51" font-size="11" text-anchor="middle" transform="rotate(-90 10 476.51)" class="h">−log<tspan font-size="7.9" dy="3">10</tspan><tspan dy="-3">(</tspan><tspan font-style="italic">P</tspan>)</text>
<text x="10" y="476.51" font-size="11" text-anchor="middle" transform="rotate(-90 10 476.51)" class="k">−log<tspan font-size="7.9" dy="3">10</tspan><tspan dy="-3">(</tspan><tspan font-style="italic">P</tspan>)</text>
<rect x="271" y="14" width="265" height="302" fill="#fff"/>
<text x="232.6" y="20" font-size="23" class="h">b</text>
<text x="232.6" y="20" font-size="23" class="k">b</text>
<line x1="270.3" y1="10" x2="270.3" y2="133.5" stroke="#333" stroke-width="1.2"/>
<line x1="266.5" y1="133" x2="270.3" y2="133" stroke="#333" stroke-width="1"/>
<text x="262" y="137.3" font-size="12" text-anchor="end" class="h">0</text>
<text x="262" y="137.3" font-size="12" text-anchor="end" class="k">0</text>
<line x1="266.5" y1="116.5" x2="270.3" y2="116.5" stroke="#333" stroke-width="1"/>
<text x="262" y="120.8" font-size="12" text-anchor="end" class="h">1</text>
<text x="262" y="120.8" font-size="12" text-anchor="end" class="k">1</text>
<line x1="266.5" y1="100" x2="270.3" y2="100" stroke="#333" stroke-width="1"/>
<text x="262" y="104.3" font-size="12" text-anchor="end" class="h">2</text>
<text x="262" y="104.3" font-size="12" text-anchor="end" class="k">2</text>
<line x1="266.5" y1="83.5" x2="270.3" y2="83.5" stroke="#333" stroke-width="1"/>
<text x="262" y="87.8" font-size="12" text-anchor="end" class="h">3</text>
<text x="262" y="87.8" font-size="12" text-anchor="end" class="k">3</text>
<line x1="266.5" y1="67" x2="270.3" y2="67" stroke="#333" stroke-width="1"/>
<text x="262" y="71.3" font-size="12" text-anchor="end" class="h">4</text>
<text x="262" y="71.3" font-size="12" text-anchor="end" class="k">4</text>
<line x1="266.5" y1="50.5" x2="270.3" y2="50.5" stroke="#333" stroke-width="1"/>
<text x="262" y="54.8" font-size="12" text-anchor="end" class="h">5</text>
<text x="262" y="54.8" font-size="12" text-anchor="end" class="k">5</text>
<line x1="266.5" y1="34" x2="270.3" y2="34" stroke="#333" stroke-width="1"/>
<text x="262" y="38.3" font-size="12" text-anchor="end" class="h">6</text>
<text x="262" y="38.3" font-size="12" text-anchor="end" class="k">6</text>
<line x1="266.5" y1="17.5" x2="270.3" y2="17.5" stroke="#333" stroke-width="1"/>
<text x="262" y="21.8" font-size="12" text-anchor="end" class="h">7</text>
<text x="262" y="21.8" font-size="12" text-anchor="end" class="k">7</text>
<text x="243" y="77" font-size="11" text-anchor="middle" transform="rotate(-90 243 77)" class="h">−log<tspan font-size="7.9" dy="3">10</tspan><tspan dy="-3">(</tspan><tspan font-style="italic">P</tspan>)</text>
<text x="243" y="77" font-size="11" text-anchor="middle" transform="rotate(-90 243 77)" class="k">−log<tspan font-size="7.9" dy="3">10</tspan><tspan dy="-3">(</tspan><tspan font-style="italic">P</tspan>)</text>
<line x1="272" y1="34.6" x2="528" y2="34.6" stroke="#a0a0a0" stroke-width="1.5" stroke-dasharray="5 4"/>
<path d="M280 95.5h1.2v1.2h-1.2zM280 107h1.2v1.2h-1.2zM280 113.5h1.2v1.2h-1.2zM280 122h1.2v1.2h-1.2zM280 124.5h1.2v1.2h-1.2zM280 127.5h1.2v1.2h-1.2zM280.5 93.5h1.2v1.2h-1.2zM280.5 107h1.2v1.2h-1.2zM280.5 108h1.2v1.2h-1.2zM280.5 114h1.2v1.2h-1.2zM280.5 123.5h1.2v1.2h-1.2zM280.5 131.5h1.2v1.2h-1.2zM281 92h1.2v1.2h-1.2zM281 99.5h1.2v1.2h-1.2zM281 102h1.2v1.2h-1.2zM281 106.5h1.2v1.2h-1.2zM281 109h1.2v1.2h-1.2zM281 110.5h1.2v1.2h-1.2zM281 115.5h1.2v1.2h-1.2zM281 119.5h1.2v1.2h-1.2zM281 120.5h1.2v1.2h-1.2zM281 123h1.2v1.2h-1.2zM281 130.5h1.2v1.2h-1.2zM281.5 89h1.2v1.2h-1.2zM281.5 106.5h1.2v1.2h-1.2zM281.5 112.5h1.2v1.2h-1.2zM281.5 131h1.2v1.2h-1.2zM281.5 131.5h1.2v1.2h-1.2zM281.5 132.5h1.2v1.2h-1.2zM282 94h1.2v1.2h-1.2zM282 103h1.2v1.2h-1.2zM282 103.5h1.2v1.2h-1.2zM282 112h1.2v1.2h-1.2zM282 115h1.2v1.2h-1.2zM282 116h1.2v1.2h-1.2zM282 116.5h1.2v1.2h-1.2zM282 118h1.2v1.2h-1.2zM282 122h1.2v1.2h-1.2zM282 122.5h1.2v1.2h-1.2zM282 123h1.2v1.2h-1.2zM282 126h1.2v1.2h-1.2zM282 126.5h1.2v1.2h-1.2zM282.5 99h1.2v1.2h-1.2zM282.5 104h1.2v1.2h-1.2zM282.5 108h1.2v1.2h-1.2zM282.5 118.5h1.2v1.2h-1.2zM282.5 125h1.2v1.2h-1.2zM282.5 132.5h1.2v1.2h-1.2zM283 92h1.2v1.2h-1.2zM283 96.5h1.2v1.2h-1.2zM283 98.5h1.2v1.2h-1.2zM283 100.5h1.2v1.2h-1.2zM283 105h1.2v1.2h-1.2zM283 123.5h1.2v1.2h-1.2zM283 126h1.2v1.2h-1.2zM283 130h1.2v1.2h-1.2zM283.5 96h1.2v1.2h-1.2zM283.5 104.5h1.2v1.2h-1.2zM283.5 105.5h1.2v1.2h-1.2zM283.5 114.5h1.2v1.2h-1.2zM284 87.5h1.2v1.2h-1.2zM284 100.5h1.2v1.2h-1.2zM284 128.5h1.2v1.2h-1.2zM284.5 96h1.2v1.2h-1.2zM284.5 98h1.2v1.2h-1.2zM284.5 98.5h1.2v1.2h-1.2zM284.5 110h1.2v1.2h-1.2zM284.5 121.5h1.2v1.2h-1.2zM284.5 130.5h1.2v1.2h-1.2zM284.5 132h1.2v1.2h-1.2zM285 103h1.2v1.2h-1.2zM285 105.5h1.2v1.2h-1.2zM285 106.5h1.2v1.2h-1.2zM285 109h1.2v1.2h-1.2zM285 123.5h1.2v1.2h-1.2zM285 125.5h1.2v1.2h-1.2zM285.5 97.5h1.2v1.2h-1.2zM285.5 98h1.2v1.2h-1.2zM285.5 114.5h1.2v1.2h-1.2zM285.5 127.5h1.2v1.2h-1.2zM285.5 130.5h1.2v1.2h-1.2zM286 95h1.2v1.2h-1.2zM286 102h1.2v1.2h-1.2zM286 108h1.2v1.2h-1.2zM286 117h1.2v1.2h-1.2zM286 120h1.2v1.2h-1.2zM286 121h1.2v1.2h-1.2zM286 121.5h1.2v1.2h-1.2zM286.5 83h1.2v1.2h-1.2zM286.5 85.5h1.2v1.2h-1.2zM286.5 92.5h1.2v1.2h-1.2zM286.5 100.5h1.2v1.2h-1.2zM286.5 106h1.2v1.2h-1.2zM286.5 107.5h1.2v1.2h-1.2zM286.5 112.5h1.2v1.2h-1.2zM286.5 114.5h1.2v1.2h-1.2zM287 84h1.2v1.2h-1.2zM287 93.5h1.2v1.2h-1.2zM287 94h1.2v1.2h-1.2zM287 109h1.2v1.2h-1.2zM287 109.5h1.2v1.2h-1.2zM287 111.5h1.2v1.2h-1.2zM287 112.5h1.2v1.2h-1.2zM287 125h1.2v1.2h-1.2zM287 125.5h1.2v1.2h-1.2zM287 131.5h1.2v1.2h-1.2zM287.5 94h1.2v1.2h-1.2zM287.5 96h1.2v1.2h-1.2zM287.5 104h1.2v1.2h-1.2zM287.5 109h1.2v1.2h-1.2zM287.5 116.5h1.2v1.2h-1.2zM287.5 117h1.2v1.2h-1.2zM287.5 119.5h1.2v1.2h-1.2zM288 93.5h1.2v1.2h-1.2zM288 95.5h1.2v1.2h-1.2zM288 122h1.2v1.2h-1.2zM288 125.5h1.2v1.2h-1.2zM288.5 98h1.2v1.2h-1.2zM288.5 104h1.2v1.2h-1.2zM288.5 106.5h1.2v1.2h-1.2zM288.5 109.5h1.2v1.2h-1.2zM288.5 117h1.2v1.2h-1.2zM288.5 123h1.2v1.2h-1.2zM288.5 131.5h1.2v1.2h-1.2zM289 84.5h1.2v1.2h-1.2zM289 94h1.2v1.2h-1.2zM289 97h1.2v1.2h-1.2zM289 99.5h1.2v1.2h-1.2zM289 106h1.2v1.2h-1.2zM289 108h1.2v1.2h-1.2zM289 113.5h1.2v1.2h-1.2zM289 114h1.2v1.2h-1.2zM289 117h1.2v1.2h-1.2zM289 124.5h1.2v1.2h-1.2zM289.5 85.5h1.2v1.2h-1.2zM289.5 89h1.2v1.2h-1.2zM289.5 98h1.2v1.2h-1.2zM289.5 100h1.2v1.2h-1.2zM289.5 101.5h1.2v1.2h-1.2zM289.5 113h1.2v1.2h-1.2zM290 92h1.2v1.2h-1.2zM290 93h1.2v1.2h-1.2zM290 96.5h1.2v1.2h-1.2zM290 106h1.2v1.2h-1.2zM290 114.5h1.2v1.2h-1.2zM290 116.5h1.2v1.2h-1.2zM291.5 128.5h1.2v1.2h-1.2zM293 124h1.2v1.2h-1.2zM294 124h1.2v1.2h-1.2zM295.5 132.5h1.2v1.2h-1.2zM296 125h1.2v1.2h-1.2zM296 125.5h1.2v1.2h-1.2zM298.5 129.5h1.2v1.2h-1.2zM300 123.5h1.2v1.2h-1.2zM301.5 116h1.2v1.2h-1.2zM302 77.5h1.2v1.2h-1.2zM302.5 89h1.2v1.2h-1.2zM302.5 124.5h1.2v1.2h-1.2zM303 100.5h1.2v1.2h-1.2zM303 104h1.2v1.2h-1.2zM303 119h1.2v1.2h-1.2zM303.5 103h1.2v1.2h-1.2zM304 83h1.2v1.2h-1.2zM304 94h1.2v1.2h-1.2zM304 95h1.2v1.2h-1.2zM304 115h1.2v1.2h-1.2zM304 116h1.2v1.2h-1.2zM304 118h1.2v1.2h-1.2zM304 123h1.2v1.2h-1.2zM304.5 75.5h1.2v1.2h-1.2zM304.5 89h1.2v1.2h-1.2zM304.5 99.5h1.2v1.2h-1.2zM305 65.5h1.2v1.2h-1.2zM305 102h1.2v1.2h-1.2zM305 116.5h1.2v1.2h-1.2zM305 121.5h1.2v1.2h-1.2zM305.5 79h1.2v1.2h-1.2zM305.5 89h1.2v1.2h-1.2zM305.5 107h1.2v1.2h-1.2zM306 86h1.2v1.2h-1.2zM306 102.5h1.2v1.2h-1.2zM306.5 94.5h1.2v1.2h-1.2zM306.5 105.5h1.2v1.2h-1.2zM307 85.5h1.2v1.2h-1.2zM307 91.5h1.2v1.2h-1.2zM308 87.5h1.2v1.2h-1.2zM308 110h1.2v1.2h-1.2zM308.5 87.5h1.2v1.2h-1.2zM308.5 89.5h1.2v1.2h-1.2zM308.5 91.5h1.2v1.2h-1.2zM308.5 104.5h1.2v1.2h-1.2zM308.5 125.5h1.2v1.2h-1.2zM309 100.5h1.2v1.2h-1.2zM309 104h1.2v1.2h-1.2zM309 105h1.2v1.2h-1.2zM309 118h1.2v1.2h-1.2zM309.5 100h1.2v1.2h-1.2zM309.5 101.5h1.2v1.2h-1.2zM309.5 116h1.2v1.2h-1.2zM309.5 119h1.2v1.2h-1.2zM310 73.5h1.2v1.2h-1.2zM310 125h1.2v1.2h-1.2zM310 125.5h1.2v1.2h-1.2zM310.5 99.5h1.2v1.2h-1.2zM310.5 105.5h1.2v1.2h-1.2zM311 80h1.2v1.2h-1.2zM311.5 68.5h1.2v1.2h-1.2zM311.5 82.5h1.2v1.2h-1.2zM311.5 83h1.2v1.2h-1.2zM311.5 110h1.2v1.2h-1.2zM311.5 123h1.2v1.2h-1.2zM312 68h1.2v1.2h-1.2zM312 85h1.2v1.2h-1.2zM312 105.5h1.2v1.2h-1.2zM312.5 75.5h1.2v1.2h-1.2zM312.5 125h1.2v1.2h-1.2zM313 75.5h1.2v1.2h-1.2zM313 80.5h1.2v1.2h-1.2zM313 117.5h1.2v1.2h-1.2zM313 120h1.2v1.2h-1.2zM313 123h1.2v1.2h-1.2zM313.5 75.5h1.2v1.2h-1.2zM313.5 80.5h1.2v1.2h-1.2zM313.5 91h1.2v1.2h-1.2zM313.5 98h1.2v1.2h-1.2zM313.5 105h1.2v1.2h-1.2zM314 95h1.2v1.2h-1.2zM314 114.5h1.2v1.2h-1.2zM314.5 66h1.2v1.2h-1.2zM314.5 85.5h1.2v1.2h-1.2zM314.5 110h1.2v1.2h-1.2zM314.5 119.5h1.2v1.2h-1.2zM315 101h1.2v1.2h-1.2zM315 120h1.2v1.2h-1.2zM315 121.5h1.2v1.2h-1.2zM315 122h1.2v1.2h-1.2zM315.5 67.5h1.2v1.2h-1.2zM315.5 79h1.2v1.2h-1.2zM315.5 99.5h1.2v1.2h-1.2zM315.5 100h1.2v1.2h-1.2zM315.5 120.5h1.2v1.2h-1.2zM318 98.5h1.2v1.2h-1.2zM318 111.5h1.2v1.2h-1.2zM318 120.5h1.2v1.2h-1.2zM318 123.5h1.2v1.2h-1.2zM318.5 105.5h1.2v1.2h-1.2zM318.5 119.5h1.2v1.2h-1.2zM319 108h1.2v1.2h-1.2zM319 108.5h1.2v1.2h-1.2zM319 128h1.2v1.2h-1.2zM319 130h1.2v1.2h-1.2zM319 131.5h1.2v1.2h-1.2zM319.5 106.5h1.2v1.2h-1.2zM319.5 109h1.2v1.2h-1.2zM319.5 121h1.2v1.2h-1.2zM319.5 125h1.2v1.2h-1.2zM319.5 130h1.2v1.2h-1.2zM319.5 131h1.2v1.2h-1.2zM320 110h1.2v1.2h-1.2zM320 115h1.2v1.2h-1.2zM320 116.5h1.2v1.2h-1.2zM320 125h1.2v1.2h-1.2zM320 126h1.2v1.2h-1.2zM320 131h1.2v1.2h-1.2zM320.5 105.5h1.2v1.2h-1.2zM320.5 109.5h1.2v1.2h-1.2zM320.5 116h1.2v1.2h-1.2zM321 113.5h1.2v1.2h-1.2zM321.5 100.5h1.2v1.2h-1.2zM321.5 112.5h1.2v1.2h-1.2zM321.5 113h1.2v1.2h-1.2zM321.5 120h1.2v1.2h-1.2zM321.5 120.5h1.2v1.2h-1.2zM321.5 129h1.2v1.2h-1.2zM322 113h1.2v1.2h-1.2zM322 125.5h1.2v1.2h-1.2zM322 127.5h1.2v1.2h-1.2zM322.5 115.5h1.2v1.2h-1.2zM322.5 118h1.2v1.2h-1.2zM322.5 122h1.2v1.2h-1.2zM322.5 124h1.2v1.2h-1.2zM322.5 131.5h1.2v1.2h-1.2zM323 108h1.2v1.2h-1.2zM323 113h1.2v1.2h-1.2zM323 114h1.2v1.2h-1.2zM323.5 107h1.2v1.2h-1.2zM323.5 109h1.2v1.2h-1.2zM323.5 109.5h1.2v1.2h-1.2zM323.5 122.5h1.2v1.2h-1.2zM323.5 123.5h1.2v1.2h-1.2zM323.5 132h1.2v1.2h-1.2zM324 107h1.2v1.2h-1.2zM324 114h1.2v1.2h-1.2zM324 119h1.2v1.2h-1.2zM324 122h1.2v1.2h-1.2zM324 129h1.2v1.2h-1.2zM324.5 107.5h1.2v1.2h-1.2zM324.5 132.5h1.2v1.2h-1.2zM325 106.5h1.2v1.2h-1.2zM325 118.5h1.2v1.2h-1.2zM325 122.5h1.2v1.2h-1.2zM325 126h1.2v1.2h-1.2zM325.5 120.5h1.2v1.2h-1.2zM326 102h1.2v1.2h-1.2zM326 112h1.2v1.2h-1.2zM326 114h1.2v1.2h-1.2zM326 120.5h1.2v1.2h-1.2zM326 123.5h1.2v1.2h-1.2zM326 125.5h1.2v1.2h-1.2zM326 126h1.2v1.2h-1.2zM326 130h1.2v1.2h-1.2zM326.5 109.5h1.2v1.2h-1.2zM326.5 123h1.2v1.2h-1.2zM326.5 124h1.2v1.2h-1.2zM326.5 128.5h1.2v1.2h-1.2zM326.5 130.5h1.2v1.2h-1.2zM327.5 115.5h1.2v1.2h-1.2zM327.5 120.5h1.2v1.2h-1.2zM327.5 123.5h1.2v1.2h-1.2zM327.5 126h1.2v1.2h-1.2zM327.5 129h1.2v1.2h-1.2zM328 98.5h1.2v1.2h-1.2zM328 126h1.2v1.2h-1.2zM328.5 101.5h1.2v1.2h-1.2zM328.5 120.5h1.2v1.2h-1.2zM328.5 127h1.2v1.2h-1.2zM329 119h1.2v1.2h-1.2zM329.5 108.5h1.2v1.2h-1.2zM329.5 113h1.2v1.2h-1.2zM329.5 114.5h1.2v1.2h-1.2zM329.5 117h1.2v1.2h-1.2zM329.5 119.5h1.2v1.2h-1.2zM329.5 122.5h1.2v1.2h-1.2zM329.5 129.5h1.2v1.2h-1.2zM330 104h1.2v1.2h-1.2zM330 107.5h1.2v1.2h-1.2zM330 112h1.2v1.2h-1.2zM330 116.5h1.2v1.2h-1.2zM330 118h1.2v1.2h-1.2zM330 119.5h1.2v1.2h-1.2zM330 131h1.2v1.2h-1.2zM330.5 104.5h1.2v1.2h-1.2zM330.5 120h1.2v1.2h-1.2zM331 109h1.2v1.2h-1.2zM331 113h1.2v1.2h-1.2zM331 116.5h1.2v1.2h-1.2zM331 122h1.2v1.2h-1.2zM331 127h1.2v1.2h-1.2zM331.5 113.5h1.2v1.2h-1.2zM331.5 121h1.2v1.2h-1.2zM331.5 130h1.2v1.2h-1.2zM331.5 130.5h1.2v1.2h-1.2zM331.5 131.5h1.2v1.2h-1.2zM332 107h1.2v1.2h-1.2zM332 116.5h1.2v1.2h-1.2zM332.5 107h1.2v1.2h-1.2zM332.5 118h1.2v1.2h-1.2zM332.5 124h1.2v1.2h-1.2zM332.5 126.5h1.2v1.2h-1.2zM333 118h1.2v1.2h-1.2zM333 125h1.2v1.2h-1.2zM333.5 107h1.2v1.2h-1.2zM333.5 113h1.2v1.2h-1.2zM333.5 117h1.2v1.2h-1.2zM333.5 118h1.2v1.2h-1.2zM334 109.5h1.2v1.2h-1.2zM334 114.5h1.2v1.2h-1.2zM334 120.5h1.2v1.2h-1.2zM334 126.5h1.2v1.2h-1.2zM334 130.5h1.2v1.2h-1.2zM334 131h1.2v1.2h-1.2zM334.5 107h1.2v1.2h-1.2zM334.5 108.5h1.2v1.2h-1.2zM334.5 111h1.2v1.2h-1.2zM334.5 128h1.2v1.2h-1.2zM334.5 131.5h1.2v1.2h-1.2zM335 119h1.2v1.2h-1.2zM335 127.5h1.2v1.2h-1.2zM335 128.5h1.2v1.2h-1.2zM335 131h1.2v1.2h-1.2zM335.5 116.5h1.2v1.2h-1.2zM335.5 118.5h1.2v1.2h-1.2zM335.5 122h1.2v1.2h-1.2zM335.5 123h1.2v1.2h-1.2zM335.5 125h1.2v1.2h-1.2zM335.5 131.5h1.2v1.2h-1.2zM336 107.5h1.2v1.2h-1.2zM336 115.5h1.2v1.2h-1.2zM336 116.5h1.2v1.2h-1.2zM336 120.5h1.2v1.2h-1.2zM336 123.5h1.2v1.2h-1.2zM336 131h1.2v1.2h-1.2zM336.5 102.5h1.2v1.2h-1.2zM336.5 109.5h1.2v1.2h-1.2zM336.5 111.5h1.2v1.2h-1.2zM336.5 118h1.2v1.2h-1.2zM337 111.5h1.2v1.2h-1.2zM337 119.5h1.2v1.2h-1.2zM337 125h1.2v1.2h-1.2zM337.5 125.5h1.2v1.2h-1.2zM338 108h1.2v1.2h-1.2zM338 109h1.2v1.2h-1.2zM338 110h1.2v1.2h-1.2zM338 121.5h1.2v1.2h-1.2zM338 122h1.2v1.2h-1.2zM338 124h1.2v1.2h-1.2zM338.5 109.5h1.2v1.2h-1.2zM339 116h1.2v1.2h-1.2zM339 117.5h1.2v1.2h-1.2zM339 122h1.2v1.2h-1.2zM339.5 111.5h1.2v1.2h-1.2zM339.5 115h1.2v1.2h-1.2zM339.5 116h1.2v1.2h-1.2zM339.5 118h1.2v1.2h-1.2zM339.5 126.5h1.2v1.2h-1.2zM339.5 132.5h1.2v1.2h-1.2zM340 108h1.2v1.2h-1.2zM340 116h1.2v1.2h-1.2zM342.5 104.5h1.2v1.2h-1.2zM342.5 126.5h1.2v1.2h-1.2zM343.5 128h1.2v1.2h-1.2zM344 125.5h1.2v1.2h-1.2zM344 128.5h1.2v1.2h-1.2zM344.5 62h1.2v1.2h-1.2zM344.5 113.5h1.2v1.2h-1.2zM344.5 115h1.2v1.2h-1.2zM345 118h1.2v1.2h-1.2zM345 119h1.2v1.2h-1.2zM345 130.5h1.2v1.2h-1.2zM345 131h1.2v1.2h-1.2zM345.5 125h1.2v1.2h-1.2zM346 114.5h1.2v1.2h-1.2zM347 78.5h1.2v1.2h-1.2zM347 129h1.2v1.2h-1.2zM348 57.5h1.2v1.2h-1.2zM348 126.5h1.2v1.2h-1.2zM348.5 114.5h1.2v1.2h-1.2zM349 120h1.2v1.2h-1.2zM349 123h1.2v1.2h-1.2zM349 124h1.2v1.2h-1.2zM349.5 122.5h1.2v1.2h-1.2zM349.5 126.5h1.2v1.2h-1.2zM350 119h1.2v1.2h-1.2zM350 120h1.2v1.2h-1.2zM350 131.5h1.2v1.2h-1.2zM350 132.5h1.2v1.2h-1.2zM352 117.5h1.2v1.2h-1.2zM352 120h1.2v1.2h-1.2zM353 99h1.2v1.2h-1.2zM353 111.5h1.2v1.2h-1.2zM353 122h1.2v1.2h-1.2zM353.5 119h1.2v1.2h-1.2zM354.5 127.5h1.2v1.2h-1.2zM354.5 129h1.2v1.2h-1.2zM355 121h1.2v1.2h-1.2zM355.5 119h1.2v1.2h-1.2zM356.5 116.5h1.2v1.2h-1.2zM356.5 126.5h1.2v1.2h-1.2zM357.5 116.5h1.2v1.2h-1.2zM358 129h1.2v1.2h-1.2zM358.5 77h1.2v1.2h-1.2zM358.5 104.5h1.2v1.2h-1.2zM358.5 121h1.2v1.2h-1.2zM358.5 121.5h1.2v1.2h-1.2zM358.5 131h1.2v1.2h-1.2zM360 51h1.2v1.2h-1.2zM360 122h1.2v1.2h-1.2zM360.5 124.5h1.2v1.2h-1.2zM361 122h1.2v1.2h-1.2zM361.5 54.5h1.2v1.2h-1.2zM361.5 117.5h1.2v1.2h-1.2zM361.5 123h1.2v1.2h-1.2zM363.5 59.5h1.2v1.2h-1.2zM363.5 74.5h1.2v1.2h-1.2zM363.5 117h1.2v1.2h-1.2zM364 67h1.2v1.2h-1.2zM364 85.5h1.2v1.2h-1.2zM364 92.5h1.2v1.2h-1.2zM364.5 61h1.2v1.2h-1.2zM364.5 96.5h1.2v1.2h-1.2zM364.5 107.5h1.2v1.2h-1.2zM365 70.5h1.2v1.2h-1.2zM365 79h1.2v1.2h-1.2zM365 91h1.2v1.2h-1.2zM365 102.5h1.2v1.2h-1.2zM365 103h1.2v1.2h-1.2zM365 120h1.2v1.2h-1.2zM365.5 31h1.2v1.2h-1.2zM365.5 58h1.2v1.2h-1.2zM366 38h1.2v1.2h-1.2zM366 88.5h1.2v1.2h-1.2zM366 96h1.2v1.2h-1.2zM366 120h1.2v1.2h-1.2zM366 121h1.2v1.2h-1.2zM366.5 76.5h1.2v1.2h-1.2zM366.5 82h1.2v1.2h-1.2zM366.5 93h1.2v1.2h-1.2zM366.5 99h1.2v1.2h-1.2zM367 40h1.2v1.2h-1.2zM367 59h1.2v1.2h-1.2zM367 66.5h1.2v1.2h-1.2zM367 95h1.2v1.2h-1.2zM367 119h1.2v1.2h-1.2zM367.5 52.5h1.2v1.2h-1.2zM367.5 86.5h1.2v1.2h-1.2zM367.5 96h1.2v1.2h-1.2zM367.5 105.5h1.2v1.2h-1.2zM367.5 107.5h1.2v1.2h-1.2zM367.5 110h1.2v1.2h-1.2zM367.5 112.5h1.2v1.2h-1.2zM368 59h1.2v1.2h-1.2zM368 100.5h1.2v1.2h-1.2zM368 112h1.2v1.2h-1.2zM368.5 74.5h1.2v1.2h-1.2zM368.5 119.5h1.2v1.2h-1.2zM368.5 121.5h1.2v1.2h-1.2zM369 62h1.2v1.2h-1.2zM369 67.5h1.2v1.2h-1.2zM369 71h1.2v1.2h-1.2zM369 102.5h1.2v1.2h-1.2zM369 114h1.2v1.2h-1.2zM369 122h1.2v1.2h-1.2zM369.5 56.5h1.2v1.2h-1.2zM369.5 59.5h1.2v1.2h-1.2zM369.5 81.5h1.2v1.2h-1.2zM369.5 102h1.2v1.2h-1.2zM369.5 110.5h1.2v1.2h-1.2zM369.5 115h1.2v1.2h-1.2zM370 70h1.2v1.2h-1.2zM370 102.5h1.2v1.2h-1.2zM370 123.5h1.2v1.2h-1.2zM370.5 62.5h1.2v1.2h-1.2zM370.5 99h1.2v1.2h-1.2zM371 52.5h1.2v1.2h-1.2zM371 54.5h1.2v1.2h-1.2zM371 61.5h1.2v1.2h-1.2zM371 65.5h1.2v1.2h-1.2zM371 82h1.2v1.2h-1.2zM371 110.5h1.2v1.2h-1.2zM371.5 54h1.2v1.2h-1.2zM371.5 76.5h1.2v1.2h-1.2zM371.5 81h1.2v1.2h-1.2zM371.5 124.5h1.2v1.2h-1.2zM373 80h1.2v1.2h-1.2zM373 115h1.2v1.2h-1.2zM373 116.5h1.2v1.2h-1.2zM373 126h1.2v1.2h-1.2zM373.5 100h1.2v1.2h-1.2zM373.5 109.5h1.2v1.2h-1.2zM373.5 112h1.2v1.2h-1.2zM373.5 115h1.2v1.2h-1.2zM373.5 116.5h1.2v1.2h-1.2zM373.5 119.5h1.2v1.2h-1.2zM373.5 120.5h1.2v1.2h-1.2zM373.5 121.5h1.2v1.2h-1.2zM373.5 122.5h1.2v1.2h-1.2zM373.5 125h1.2v1.2h-1.2zM373.5 127.5h1.2v1.2h-1.2zM373.5 128h1.2v1.2h-1.2zM373.5 131h1.2v1.2h-1.2zM374 88h1.2v1.2h-1.2zM374 103h1.2v1.2h-1.2zM374 104h1.2v1.2h-1.2zM374 106h1.2v1.2h-1.2zM374 109.5h1.2v1.2h-1.2zM374 119.5h1.2v1.2h-1.2zM374 123.5h1.2v1.2h-1.2zM374 127h1.2v1.2h-1.2zM374 130.5h1.2v1.2h-1.2zM374.5 57.5h1.2v1.2h-1.2zM374.5 64.5h1.2v1.2h-1.2zM374.5 96.5h1.2v1.2h-1.2zM374.5 116.5h1.2v1.2h-1.2zM374.5 118h1.2v1.2h-1.2zM374.5 120.5h1.2v1.2h-1.2zM374.5 130.5h1.2v1.2h-1.2zM374.5 131.5h1.2v1.2h-1.2zM375 87h1.2v1.2h-1.2zM375 103.5h1.2v1.2h-1.2zM375 104.5h1.2v1.2h-1.2zM375 110h1.2v1.2h-1.2zM375 111h1.2v1.2h-1.2zM375 112.5h1.2v1.2h-1.2zM375 114h1.2v1.2h-1.2zM375 115h1.2v1.2h-1.2zM375 117.5h1.2v1.2h-1.2zM375 122.5h1.2v1.2h-1.2zM375 124.5h1.2v1.2h-1.2zM375 126h1.2v1.2h-1.2zM375 126.5h1.2v1.2h-1.2zM375 128h1.2v1.2h-1.2zM375 129.5h1.2v1.2h-1.2zM375 132.5h1.2v1.2h-1.2zM375.5 62.5h1.2v1.2h-1.2zM375.5 84.5h1.2v1.2h-1.2zM375.5 104.5h1.2v1.2h-1.2zM375.5 110.5h1.2v1.2h-1.2zM375.5 114h1.2v1.2h-1.2zM375.5 117h1.2v1.2h-1.2zM375.5 117.5h1.2v1.2h-1.2zM375.5 121.5h1.2v1.2h-1.2zM375.5 125.5h1.2v1.2h-1.2zM375.5 131.5h1.2v1.2h-1.2zM376 106.5h1.2v1.2h-1.2zM376 111h1.2v1.2h-1.2zM376 113.5h1.2v1.2h-1.2zM376 116.5h1.2v1.2h-1.2zM376 117h1.2v1.2h-1.2zM376 124.5h1.2v1.2h-1.2zM376 125h1.2v1.2h-1.2zM376 130h1.2v1.2h-1.2zM376.5 72h1.2v1.2h-1.2zM376.5 102h1.2v1.2h-1.2zM376.5 105.5h1.2v1.2h-1.2zM376.5 109h1.2v1.2h-1.2zM376.5 109.5h1.2v1.2h-1.2zM376.5 115h1.2v1.2h-1.2zM376.5 116h1.2v1.2h-1.2zM376.5 118h1.2v1.2h-1.2zM376.5 119h1.2v1.2h-1.2zM376.5 120h1.2v1.2h-1.2zM376.5 121h1.2v1.2h-1.2zM376.5 121.5h1.2v1.2h-1.2zM376.5 128h1.2v1.2h-1.2zM376.5 132.5h1.2v1.2h-1.2zM377 68.5h1.2v1.2h-1.2zM377 83.5h1.2v1.2h-1.2zM377 90.5h1.2v1.2h-1.2zM377 104h1.2v1.2h-1.2zM377 107.5h1.2v1.2h-1.2zM377 108h1.2v1.2h-1.2zM377 109.5h1.2v1.2h-1.2zM377 110h1.2v1.2h-1.2zM377 116.5h1.2v1.2h-1.2zM377 119h1.2v1.2h-1.2zM377 120.5h1.2v1.2h-1.2zM377 124.5h1.2v1.2h-1.2zM377 127h1.2v1.2h-1.2zM377 132h1.2v1.2h-1.2zM377 132.5h1.2v1.2h-1.2zM377.5 74h1.2v1.2h-1.2zM377.5 86h1.2v1.2h-1.2zM377.5 92.5h1.2v1.2h-1.2zM377.5 102.5h1.2v1.2h-1.2zM377.5 105h1.2v1.2h-1.2zM377.5 107h1.2v1.2h-1.2zM377.5 108h1.2v1.2h-1.2zM377.5 111.5h1.2v1.2h-1.2zM377.5 114h1.2v1.2h-1.2zM377.5 121h1.2v1.2h-1.2zM377.5 122h1.2v1.2h-1.2zM377.5 123h1.2v1.2h-1.2zM377.5 123.5h1.2v1.2h-1.2zM377.5 124.5h1.2v1.2h-1.2zM377.5 125h1.2v1.2h-1.2zM377.5 126h1.2v1.2h-1.2zM377.5 128h1.2v1.2h-1.2zM377.5 130.5h1.2v1.2h-1.2zM378 59h1.2v1.2h-1.2zM378 66h1.2v1.2h-1.2zM378 88.5h1.2v1.2h-1.2zM378 117.5h1.2v1.2h-1.2zM378 118.5h1.2v1.2h-1.2zM378 119.5h1.2v1.2h-1.2zM378 120h1.2v1.2h-1.2zM378 130.5h1.2v1.2h-1.2zM378.5 102h1.2v1.2h-1.2zM378.5 105.5h1.2v1.2h-1.2zM378.5 107.5h1.2v1.2h-1.2zM378.5 108h1.2v1.2h-1.2zM378.5 108.5h1.2v1.2h-1.2zM379 77h1.2v1.2h-1.2zM379 100h1.2v1.2h-1.2zM379 102h1.2v1.2h-1.2zM379 105h1.2v1.2h-1.2zM379 108h1.2v1.2h-1.2zM379 111.5h1.2v1.2h-1.2zM379 114.5h1.2v1.2h-1.2zM379 119.5h1.2v1.2h-1.2zM379 127h1.2v1.2h-1.2zM379 129h1.2v1.2h-1.2zM379 131h1.2v1.2h-1.2zM379 132h1.2v1.2h-1.2zM379.5 59.5h1.2v1.2h-1.2zM379.5 66h1.2v1.2h-1.2zM379.5 105.5h1.2v1.2h-1.2zM379.5 111.5h1.2v1.2h-1.2zM379.5 112.5h1.2v1.2h-1.2zM379.5 117h1.2v1.2h-1.2zM379.5 125h1.2v1.2h-1.2zM379.5 128.5h1.2v1.2h-1.2zM379.5 131.5h1.2v1.2h-1.2zM380 77h1.2v1.2h-1.2zM380 93h1.2v1.2h-1.2zM380 102h1.2v1.2h-1.2zM380 104h1.2v1.2h-1.2zM380 106.5h1.2v1.2h-1.2zM380 109.5h1.2v1.2h-1.2zM380 115h1.2v1.2h-1.2zM380 117.5h1.2v1.2h-1.2zM380 119h1.2v1.2h-1.2zM380 123.5h1.2v1.2h-1.2zM380 128.5h1.2v1.2h-1.2zM380 132h1.2v1.2h-1.2zM380.5 62.5h1.2v1.2h-1.2zM380.5 82.5h1.2v1.2h-1.2zM380.5 86h1.2v1.2h-1.2zM380.5 93.5h1.2v1.2h-1.2zM380.5 101.5h1.2v1.2h-1.2zM380.5 107.5h1.2v1.2h-1.2zM380.5 112.5h1.2v1.2h-1.2zM380.5 115.5h1.2v1.2h-1.2zM380.5 120h1.2v1.2h-1.2zM380.5 124h1.2v1.2h-1.2zM380.5 125h1.2v1.2h-1.2zM380.5 130h1.2v1.2h-1.2zM381 66h1.2v1.2h-1.2zM381 84h1.2v1.2h-1.2zM381 95h1.2v1.2h-1.2zM381 101.5h1.2v1.2h-1.2zM381 102.5h1.2v1.2h-1.2zM381 112.5h1.2v1.2h-1.2zM381 116h1.2v1.2h-1.2zM381 125.5h1.2v1.2h-1.2zM381 131h1.2v1.2h-1.2zM381.5 82.5h1.2v1.2h-1.2zM381.5 91.5h1.2v1.2h-1.2zM381.5 95h1.2v1.2h-1.2zM381.5 110.5h1.2v1.2h-1.2zM381.5 111h1.2v1.2h-1.2zM381.5 112.5h1.2v1.2h-1.2zM381.5 114.5h1.2v1.2h-1.2zM381.5 115h1.2v1.2h-1.2zM381.5 119h1.2v1.2h-1.2zM381.5 121h1.2v1.2h-1.2zM381.5 122h1.2v1.2h-1.2zM381.5 124h1.2v1.2h-1.2zM381.5 124.5h1.2v1.2h-1.2zM381.5 127h1.2v1.2h-1.2zM381.5 132h1.2v1.2h-1.2zM382 78h1.2v1.2h-1.2zM382 93.5h1.2v1.2h-1.2zM382 109h1.2v1.2h-1.2zM382 115.5h1.2v1.2h-1.2zM382 125h1.2v1.2h-1.2zM382.5 69.5h1.2v1.2h-1.2zM382.5 105.5h1.2v1.2h-1.2zM382.5 107h1.2v1.2h-1.2zM382.5 116h1.2v1.2h-1.2zM382.5 117h1.2v1.2h-1.2zM382.5 120h1.2v1.2h-1.2zM382.5 125h1.2v1.2h-1.2zM382.5 127.5h1.2v1.2h-1.2zM382.5 128h1.2v1.2h-1.2zM383 68h1.2v1.2h-1.2zM383 105.5h1.2v1.2h-1.2zM383 106.5h1.2v1.2h-1.2zM383 107h1.2v1.2h-1.2zM383.5 74.5h1.2v1.2h-1.2zM383.5 100h1.2v1.2h-1.2zM383.5 113.5h1.2v1.2h-1.2zM383.5 114.5h1.2v1.2h-1.2zM383.5 117.5h1.2v1.2h-1.2zM383.5 120.5h1.2v1.2h-1.2zM383.5 123h1.2v1.2h-1.2zM383.5 125.5h1.2v1.2h-1.2zM383.5 126h1.2v1.2h-1.2zM383.5 128.5h1.2v1.2h-1.2zM383.5 131h1.2v1.2h-1.2zM384 88.5h1.2v1.2h-1.2zM384 100.5h1.2v1.2h-1.2zM384 102h1.2v1.2h-1.2zM384 121h1.2v1.2h-1.2zM384 124.5h1.2v1.2h-1.2zM384 131.5h1.2v1.2h-1.2zM384 132.5h1.2v1.2h-1.2zM384.5 84.5h1.2v1.2h-1.2zM384.5 88.5h1.2v1.2h-1.2zM384.5 106h1.2v1.2h-1.2zM384.5 107.5h1.2v1.2h-1.2zM384.5 122h1.2v1.2h-1.2zM384.5 123h1.2v1.2h-1.2zM384.5 127.5h1.2v1.2h-1.2zM384.5 128h1.2v1.2h-1.2zM384.5 128.5h1.2v1.2h-1.2zM384.5 131.5h1.2v1.2h-1.2zM384.5 132.5h1.2v1.2h-1.2zM385 96.5h1.2v1.2h-1.2zM385 98.5h1.2v1.2h-1.2zM385 110.5h1.2v1.2h-1.2zM385 113h1.2v1.2h-1.2zM385 120h1.2v1.2h-1.2zM385 128h1.2v1.2h-1.2zM385 129h1.2v1.2h-1.2zM385 132h1.2v1.2h-1.2zM386.5 72h1.2v1.2h-1.2zM386.5 84.5h1.2v1.2h-1.2zM386.5 93.5h1.2v1.2h-1.2zM387 45h1.2v1.2h-1.2zM387 52h1.2v1.2h-1.2zM387 77.5h1.2v1.2h-1.2zM387 92h1.2v1.2h-1.2zM387.5 44.5h1.2v1.2h-1.2zM387.5 72h1.2v1.2h-1.2zM387.5 90h1.2v1.2h-1.2zM387.5 106h1.2v1.2h-1.2zM387.5 111h1.2v1.2h-1.2zM388 69h1.2v1.2h-1.2zM388 110h1.2v1.2h-1.2zM388.5 44.5h1.2v1.2h-1.2zM388.5 59h1.2v1.2h-1.2zM388.5 72h1.2v1.2h-1.2zM388.5 76h1.2v1.2h-1.2zM388.5 91.5h1.2v1.2h-1.2zM389 53.5h1.2v1.2h-1.2zM389 55h1.2v1.2h-1.2zM389 58.5h1.2v1.2h-1.2zM389 67h1.2v1.2h-1.2zM389 71h1.2v1.2h-1.2zM389.5 89h1.2v1.2h-1.2zM389.5 96h1.2v1.2h-1.2zM390 65h1.2v1.2h-1.2zM390 66.5h1.2v1.2h-1.2zM390 105h1.2v1.2h-1.2zM390 112h1.2v1.2h-1.2zM390.5 54h1.2v1.2h-1.2zM390.5 55.5h1.2v1.2h-1.2zM390.5 57.5h1.2v1.2h-1.2zM390.5 70h1.2v1.2h-1.2zM390.5 85h1.2v1.2h-1.2zM390.5 94h1.2v1.2h-1.2zM390.5 98.5h1.2v1.2h-1.2zM390.5 110h1.2v1.2h-1.2zM390.5 118.5h1.2v1.2h-1.2zM391 44.5h1.2v1.2h-1.2zM391 47.5h1.2v1.2h-1.2zM391 79h1.2v1.2h-1.2zM391 92.5h1.2v1.2h-1.2zM391 96h1.2v1.2h-1.2zM391 115h1.2v1.2h-1.2zM391.5 48.5h1.2v1.2h-1.2zM391.5 102h1.2v1.2h-1.2zM392 51h1.2v1.2h-1.2zM392.5 67h1.2v1.2h-1.2zM392.5 74.5h1.2v1.2h-1.2zM392.5 78.5h1.2v1.2h-1.2zM393 51.5h1.2v1.2h-1.2zM393 98.5h1.2v1.2h-1.2zM393.5 44h1.2v1.2h-1.2zM393.5 74h1.2v1.2h-1.2zM393.5 84.5h1.2v1.2h-1.2zM393.5 85.5h1.2v1.2h-1.2zM393.5 93.5h1.2v1.2h-1.2zM393.5 101h1.2v1.2h-1.2zM394 44.5h1.2v1.2h-1.2zM394 74h1.2v1.2h-1.2zM394 92.5h1.2v1.2h-1.2zM394 96h1.2v1.2h-1.2zM394 113.5h1.2v1.2h-1.2zM394.5 82.5h1.2v1.2h-1.2zM395 55.5h1.2v1.2h-1.2zM395 70.5h1.2v1.2h-1.2zM395 81h1.2v1.2h-1.2zM395 108.5h1.2v1.2h-1.2zM395.5 56.5h1.2v1.2h-1.2zM395.5 61.5h1.2v1.2h-1.2zM395.5 64.5h1.2v1.2h-1.2zM395.5 66h1.2v1.2h-1.2zM395.5 105h1.2v1.2h-1.2zM396 47.5h1.2v1.2h-1.2zM396 100.5h1.2v1.2h-1.2zM396 108.5h1.2v1.2h-1.2zM396.5 45.5h1.2v1.2h-1.2zM396.5 57h1.2v1.2h-1.2zM396.5 73.5h1.2v1.2h-1.2zM396.5 90.5h1.2v1.2h-1.2zM397 67.5h1.2v1.2h-1.2zM397 83.5h1.2v1.2h-1.2zM397 90h1.2v1.2h-1.2zM397 109.5h1.2v1.2h-1.2zM397 112.5h1.2v1.2h-1.2zM397 115h1.2v1.2h-1.2zM397.5 84.5h1.2v1.2h-1.2zM397.5 102.5h1.2v1.2h-1.2zM397.5 109h1.2v1.2h-1.2zM397.5 126.5h1.2v1.2h-1.2zM397.5 127.5h1.2v1.2h-1.2zM398 80h1.2v1.2h-1.2zM398 87.5h1.2v1.2h-1.2zM398 100h1.2v1.2h-1.2zM398 106h1.2v1.2h-1.2zM398 118h1.2v1.2h-1.2zM398.5 85.5h1.2v1.2h-1.2zM398.5 95.5h1.2v1.2h-1.2zM398.5 102.5h1.2v1.2h-1.2zM398.5 128h1.2v1.2h-1.2zM399 107h1.2v1.2h-1.2zM399 127.5h1.2v1.2h-1.2zM399.5 86h1.2v1.2h-1.2zM399.5 117.5h1.2v1.2h-1.2zM400 77h1.2v1.2h-1.2zM400 103.5h1.2v1.2h-1.2zM400 104.5h1.2v1.2h-1.2zM400.5 98.5h1.2v1.2h-1.2zM400.5 105h1.2v1.2h-1.2zM400.5 108h1.2v1.2h-1.2zM400.5 115h1.2v1.2h-1.2zM400.5 115.5h1.2v1.2h-1.2zM401 97.5h1.2v1.2h-1.2zM401 115.5h1.2v1.2h-1.2zM401 130h1.2v1.2h-1.2zM401 132.5h1.2v1.2h-1.2zM401.5 107h1.2v1.2h-1.2zM402 81h1.2v1.2h-1.2zM402 89.5h1.2v1.2h-1.2zM402 112.5h1.2v1.2h-1.2zM402 116h1.2v1.2h-1.2zM402 119.5h1.2v1.2h-1.2zM402.5 102h1.2v1.2h-1.2zM402.5 106.5h1.2v1.2h-1.2zM402.5 110h1.2v1.2h-1.2zM403 77.5h1.2v1.2h-1.2zM403 90h1.2v1.2h-1.2zM403 99h1.2v1.2h-1.2zM403.5 82h1.2v1.2h-1.2zM403.5 84h1.2v1.2h-1.2zM404.5 88h1.2v1.2h-1.2zM404.5 92h1.2v1.2h-1.2zM404.5 105h1.2v1.2h-1.2zM404.5 118h1.2v1.2h-1.2zM405 108.5h1.2v1.2h-1.2zM405 118.5h1.2v1.2h-1.2zM405.5 77.5h1.2v1.2h-1.2zM405.5 124h1.2v1.2h-1.2zM405.5 127h1.2v1.2h-1.2zM406.5 81.5h1.2v1.2h-1.2zM406.5 100h1.2v1.2h-1.2zM406.5 102.5h1.2v1.2h-1.2zM406.5 132.5h1.2v1.2h-1.2zM407.5 117h1.2v1.2h-1.2zM407.5 120.5h1.2v1.2h-1.2zM407.5 122.5h1.2v1.2h-1.2zM408.5 122h1.2v1.2h-1.2zM409 119.5h1.2v1.2h-1.2zM410.5 117.5h1.2v1.2h-1.2zM410.5 133h1.2v1.2h-1.2zM411 117h1.2v1.2h-1.2zM411 132.5h1.2v1.2h-1.2zM411.5 122.5h1.2v1.2h-1.2zM411.5 126h1.2v1.2h-1.2zM412 126.5h1.2v1.2h-1.2zM412 127.5h1.2v1.2h-1.2zM412.5 120.5h1.2v1.2h-1.2zM412.5 132h1.2v1.2h-1.2zM414.5 48h1.2v1.2h-1.2zM414.5 58h1.2v1.2h-1.2zM414.5 69.5h1.2v1.2h-1.2zM414.5 81h1.2v1.2h-1.2zM415 47.5h1.2v1.2h-1.2zM415 53.5h1.2v1.2h-1.2zM415 57.5h1.2v1.2h-1.2zM415 65.5h1.2v1.2h-1.2zM415 104h1.2v1.2h-1.2zM415 122.5h1.2v1.2h-1.2zM415.5 80h1.2v1.2h-1.2zM415.5 89h1.2v1.2h-1.2zM415.5 101.5h1.2v1.2h-1.2zM415.5 106h1.2v1.2h-1.2zM416 84.5h1.2v1.2h-1.2zM416 95.5h1.2v1.2h-1.2zM416 101.5h1.2v1.2h-1.2zM416.5 47h1.2v1.2h-1.2zM416.5 66.5h1.2v1.2h-1.2zM416.5 92h1.2v1.2h-1.2zM416.5 107h1.2v1.2h-1.2zM416.5 131h1.2v1.2h-1.2zM417 46.5h1.2v1.2h-1.2zM417 55h1.2v1.2h-1.2zM417 56h1.2v1.2h-1.2zM417 87h1.2v1.2h-1.2zM417 110h1.2v1.2h-1.2zM417.5 61.5h1.2v1.2h-1.2zM417.5 67h1.2v1.2h-1.2zM417.5 119h1.2v1.2h-1.2zM418 62.5h1.2v1.2h-1.2zM418 68h1.2v1.2h-1.2zM418 81h1.2v1.2h-1.2zM418.5 77h1.2v1.2h-1.2zM418.5 93.5h1.2v1.2h-1.2zM418.5 98.5h1.2v1.2h-1.2zM418.5 130h1.2v1.2h-1.2zM418.8 12.5h1.2v1.2h-1.2zM418.8 13.38h1.2v1.2h-1.2zM418.8 16.5h1.2v1.2h-1.2zM418.8 19h1.2v1.2h-1.2zM418.8 24.5h1.2v1.2h-1.2zM418.8 29.5h1.2v1.2h-1.2zM418.8 35h1.2v1.2h-1.2zM418.8 38h1.2v1.2h-1.2zM418.8 43.5h1.2v1.2h-1.2zM418.8 47h1.2v1.2h-1.2zM418.8 50.5h1.2v1.2h-1.2zM419 70.5h1.2v1.2h-1.2zM419 82.5h1.2v1.2h-1.2zM419 112h1.2v1.2h-1.2zM419 115h1.2v1.2h-1.2zM419 126h1.2v1.2h-1.2zM419.5 44.5h1.2v1.2h-1.2zM419.5 49.5h1.2v1.2h-1.2zM419.5 57h1.2v1.2h-1.2zM419.5 83h1.2v1.2h-1.2zM419.5 101h1.2v1.2h-1.2zM419.5 101.5h1.2v1.2h-1.2zM419.5 109.5h1.2v1.2h-1.2zM419.5 110h1.2v1.2h-1.2zM419.5 116.5h1.2v1.2h-1.2zM419.5 122h1.2v1.2h-1.2zM420 83.5h1.2v1.2h-1.2zM420 86h1.2v1.2h-1.2zM420 89.5h1.2v1.2h-1.2zM420 122h1.2v1.2h-1.2zM420.5 49h1.2v1.2h-1.2zM420.5 49.5h1.2v1.2h-1.2zM420.5 83.5h1.2v1.2h-1.2zM420.5 126.5h1.2v1.2h-1.2zM420.5 127h1.2v1.2h-1.2zM421 95h1.2v1.2h-1.2zM421 100h1.2v1.2h-1.2zM421 112h1.2v1.2h-1.2zM421.5 80h1.2v1.2h-1.2zM421.5 84.5h1.2v1.2h-1.2zM421.5 98.5h1.2v1.2h-1.2zM421.5 109h1.2v1.2h-1.2zM421.5 123.5h1.2v1.2h-1.2zM421.5 126.5h1.2v1.2h-1.2zM422 93h1.2v1.2h-1.2zM422 109.5h1.2v1.2h-1.2zM422 113h1.2v1.2h-1.2zM422 124h1.2v1.2h-1.2zM422.5 55.5h1.2v1.2h-1.2zM422.5 62h1.2v1.2h-1.2zM422.5 100.5h1.2v1.2h-1.2zM422.5 118.5h1.2v1.2h-1.2zM422.5 127.5h1.2v1.2h-1.2zM423 49h1.2v1.2h-1.2zM423 91.5h1.2v1.2h-1.2zM423 123.5h1.2v1.2h-1.2zM423.5 63.5h1.2v1.2h-1.2zM423.5 68h1.2v1.2h-1.2zM423.5 82h1.2v1.2h-1.2zM423.5 87h1.2v1.2h-1.2zM424 71h1.2v1.2h-1.2zM424 103h1.2v1.2h-1.2zM424 105h1.2v1.2h-1.2zM424 117h1.2v1.2h-1.2zM424 132h1.2v1.2h-1.2zM424.5 129.5h1.2v1.2h-1.2zM426.5 110h1.2v1.2h-1.2zM428 101.5h1.2v1.2h-1.2zM428 114h1.2v1.2h-1.2zM428.5 110.5h1.2v1.2h-1.2zM429 113h1.2v1.2h-1.2zM430 106.5h1.2v1.2h-1.2zM430.5 110.5h1.2v1.2h-1.2zM431 101.5h1.2v1.2h-1.2zM431 102h1.2v1.2h-1.2zM431.5 101h1.2v1.2h-1.2zM431.5 102.5h1.2v1.2h-1.2zM431.5 130h1.2v1.2h-1.2zM433 120.5h1.2v1.2h-1.2zM433 132h1.2v1.2h-1.2zM435 130.5h1.2v1.2h-1.2zM436 118.5h1.2v1.2h-1.2zM436 123.5h1.2v1.2h-1.2zM436 125h1.2v1.2h-1.2zM437 127.5h1.2v1.2h-1.2zM439.5 127.5h1.2v1.2h-1.2zM441 125.5h1.2v1.2h-1.2zM442.5 117h1.2v1.2h-1.2zM442.5 127.5h1.2v1.2h-1.2zM443 126.5h1.2v1.2h-1.2zM448.5 110.5h1.2v1.2h-1.2zM448.5 126h1.2v1.2h-1.2zM449 107h1.2v1.2h-1.2zM449 113.5h1.2v1.2h-1.2zM449 117.5h1.2v1.2h-1.2zM449 123h1.2v1.2h-1.2zM449 126.5h1.2v1.2h-1.2zM449.5 103.5h1.2v1.2h-1.2zM449.5 109.5h1.2v1.2h-1.2zM449.5 122.5h1.2v1.2h-1.2zM449.5 129h1.2v1.2h-1.2zM451 110h1.2v1.2h-1.2zM451 113h1.2v1.2h-1.2zM451 117h1.2v1.2h-1.2zM451.5 103.5h1.2v1.2h-1.2zM460 123h1.2v1.2h-1.2zM460.5 119h1.2v1.2h-1.2zM460.5 119.5h1.2v1.2h-1.2zM461 115.5h1.2v1.2h-1.2zM461.5 114.5h1.2v1.2h-1.2zM462 127.5h1.2v1.2h-1.2zM462 130.5h1.2v1.2h-1.2zM462 131.5h1.2v1.2h-1.2zM462.5 117h1.2v1.2h-1.2zM463 118.5h1.2v1.2h-1.2zM464.5 118.5h1.2v1.2h-1.2zM464.5 124h1.2v1.2h-1.2zM464.5 129h1.2v1.2h-1.2zM464.5 130h1.2v1.2h-1.2zM465 114.5h1.2v1.2h-1.2zM487.5 125.5h1.2v1.2h-1.2zM489 126.5h1.2v1.2h-1.2zM489.5 129h1.2v1.2h-1.2zM490.5 128.5h1.2v1.2h-1.2zM493 120h1.2v1.2h-1.2zM494.5 125h1.2v1.2h-1.2zM495 115h1.2v1.2h-1.2zM496 109.5h1.2v1.2h-1.2zM497 132.5h1.2v1.2h-1.2zM497.5 113h1.2v1.2h-1.2zM497.5 131h1.2v1.2h-1.2zM500 110h1.2v1.2h-1.2zM501.5 114h1.2v1.2h-1.2zM501.5 128.5h1.2v1.2h-1.2zM502 124h1.2v1.2h-1.2zM503.5 132h1.2v1.2h-1.2zM506.5 119.5h1.2v1.2h-1.2zM508.5 118h1.2v1.2h-1.2zM509 117.5h1.2v1.2h-1.2zM509 128.5h1.2v1.2h-1.2zM510.5 117h1.2v1.2h-1.2zM512.5 119h1.2v1.2h-1.2zM513.5 125.5h1.2v1.2h-1.2zM516 124h1.2v1.2h-1.2zM523 120h1.2v1.2h-1.2zM523 123h1.2v1.2h-1.2zM524.5 109h1.2v1.2h-1.2zM527 121.5h1.2v1.2h-1.2zM528.5 118.5h1.2v1.2h-1.2zM530.5 120.5h1.2v1.2h-1.2zM531.5 131h1.2v1.2h-1.2zM533 132.5h1.2v1.2h-1.2z" fill="#4a4af5" fill-opacity="0.62"/>
<line x1="278.5" y1="138.8" x2="531" y2="138.8" stroke="#333" stroke-width="1.2"/>
<line x1="279.6" y1="138.8" x2="279.6" y2="142.5" stroke="#333" stroke-width="1"/>
<text x="279.6" y="150.5" font-size="11" text-anchor="middle">2.4</text>
<line x1="317.6" y1="138.8" x2="317.6" y2="142.5" stroke="#333" stroke-width="1"/>
<text x="317.6" y="150.5" font-size="11" text-anchor="middle">2.6</text>
<line x1="363" y1="138.8" x2="363" y2="142.5" stroke="#333" stroke-width="1"/>
<text x="363" y="150.5" font-size="11" text-anchor="middle">2.8</text>
<line x1="407.5" y1="138.8" x2="407.5" y2="142.5" stroke="#333" stroke-width="1"/>
<text x="407.5" y="150.5" font-size="11" text-anchor="middle">3.0</text>
<line x1="452.5" y1="138.8" x2="452.5" y2="142.5" stroke="#333" stroke-width="1"/>
<text x="452.5" y="150.5" font-size="11" text-anchor="middle">3.2</text>
<line x1="498" y1="138.8" x2="498" y2="142.5" stroke="#333" stroke-width="1"/>
<text x="498" y="150.5" font-size="11" text-anchor="middle">3.4</text>
<text x="520.5" y="150.5" font-size="11" text-anchor="middle">Mb</text>
<line x1="417.6" y1="23" x2="417.6" y2="29" stroke="#000" stroke-width="2.2"/>
<path d="M414.85 28.5L420.35 28.5L417.6 32.5Z" fill="#000"/>
<rect x="278" y="151.5" width="254" height="19" fill="#000"/>
<path d="M464 151.5L532 151.5L532 170.5L514 170.5Z" fill="#fff"/>
<path d="M470 151.5L513 170.5M476 151.5L513.86 170.5M482 151.5L514.73 170.5M487 151.5L515.59 170.5M491 151.5L516.45 170.5M495 151.5L517.32 170.5M498 151.5L518.18 170.5M501 151.5L519.05 170.5M504 151.5L519.91 170.5M506.5 151.5L520.77 170.5M509 151.5L521.64 170.5M511 151.5L522.5 170.5M513 151.5L523.36 170.5M515 151.5L524.23 170.5M517 151.5L525.09 170.5M519 151.5L525.95 170.5M521 151.5L526.82 170.5M523 151.5L527.68 170.5M525 151.5L528.55 170.5M527 151.5L529.41 170.5M529 151.5L530.27 170.5M531 151.5L531.14 170.5" fill="none" stroke="#000" stroke-width="0.8"/>
<path d="M460 151.5L470 151.5L516 170.5L505 170.5Z" fill="#000"/>
<defs><linearGradient id="wg" x1="0" y1="0" x2="0" y2="1"><stop offset="0" stop-color="#fff" stop-opacity="0.55"/><stop offset="1" stop-color="#fff" stop-opacity="0.05"/></linearGradient></defs>
<path d="M285.5 152L299.5 152L298.5 169Z" fill="url(#wg)" fill-opacity="0.9"/>
<path d="M303 152L306 152L308 169Z" fill="url(#wg)" fill-opacity="0.6"/>
<path d="M307.8 152L319.5 152L320 169Z" fill="url(#wg)" fill-opacity="0.9"/>
<path d="M326.6 152L331 152L336 169Z" fill="url(#wg)" fill-opacity="0.7"/>
<path d="M331 152L337 152L338.4 169Z" fill="url(#wg)" fill-opacity="0.9"/>
<path d="M339.5 152L344 152L348 169Z" fill="url(#wg)" fill-opacity="0.8"/>
<path d="M344 152L351.3 152L351.3 169Z" fill="url(#wg)" fill-opacity="1.0"/>
<path d="M349 152L358.4 152L358.4 169Z" fill="url(#wg)" fill-opacity="0.7"/>
<path d="M360 152L364 152L368 169Z" fill="url(#wg)" fill-opacity="0.5"/>
<path d="M366 152L372 152L373 169Z" fill="url(#wg)" fill-opacity="0.45"/>
<path d="M375 152L378 152L380 169Z" fill="url(#wg)" fill-opacity="0.35"/>
<path d="M288 152L296 169M292 152L298 169M296 152L299 169M312 152L318 169M316 152L320 169M328 152L337 169M334 152L338 169M341 152L350 169M345 152L351 169M350 152L357 169M354 152L358 169" fill="none" stroke="#fff" stroke-width="0.5" stroke-opacity="0.45"/>
<g transform="matrix(0.5,-0.5,0.5,0.5,278,170.5)">
<path fill="#fff5b1" stroke="#fff5b1" stroke-width="0.5" d="M0 2h2v2h-2zM0 86h2v2h-2zM0 92h2v2h-2zM0 98h2v8h-2zM0 108h2v2h-2zM0 114h2v2h-2zM0 118h2v2h-2zM0 122h2v2h-2zM0 126h2v2h-2zM2 6h2v2h-2zM2 10h2v2h-2zM4 78h2v2h-2zM4 86h2v2h-2zM4 94h2v2h-2zM4 106h2v6h-2zM4 116h2v2h-2zM4 120h2v4h-2zM4 126h2v2h-2zM6 86h2v2h-2zM6 92h2v4h-2zM6 98h2v2h-2zM6 104h2v6h-2zM6 114h2v2h-2zM6 126h2v2h-2zM8 100h2v2h-2zM8 114h2v2h-2zM8 210h2v2h-2zM10 100h2v2h-2zM10 108h2v2h-2zM10 114h2v2h-2zM12 30h2v2h-2zM12 100h2v2h-2zM12 104h2v2h-2zM12 108h2v2h-2zM12 118h2v2h-2zM12 130h2v2h-2zM12 134h2v2h-2zM12 140h2v2h-2zM12 144h2v2h-2zM12 154h2v2h-2zM12 178h2v2h-2zM12 188h2v6h-2zM14 102h2v4h-2zM14 114h2v2h-2zM14 130h2v2h-2zM22 100h2v2h-2zM22 108h2v2h-2zM22 114h2v2h-2zM22 130h2v2h-2zM22 134h2v2h-2zM22 190h2v2h-2zM24 100h2v2h-2zM24 104h2v2h-2zM24 130h2v2h-2zM24 138h2v2h-2zM24 144h2v2h-2zM24 190h2v4h-2zM28 102h2v4h-2zM28 108h2v2h-2zM28 114h2v2h-2zM28 118h2v2h-2zM28 126h2v2h-2zM28 130h2v2h-2zM28 134h2v2h-2zM28 152h2v2h-2zM28 190h2v4h-2zM30 102h2v2h-2zM30 114h2v2h-2zM30 118h2v2h-2zM30 130h2v2h-2zM30 138h2v2h-2zM48 100h2v4h-2zM48 114h2v2h-2zM48 118h2v2h-2zM48 134h2v2h-2zM48 138h2v4h-2zM48 144h2v2h-2zM50 100h2v2h-2zM50 104h2v2h-2zM50 108h2v2h-2zM50 114h2v2h-2zM50 118h2v2h-2zM50 126h2v2h-2zM50 130h2v2h-2zM50 136h2v2h-2zM50 140h2v2h-2zM50 144h2v2h-2zM52 104h2v2h-2zM52 130h2v2h-2zM52 140h2v2h-2zM52 144h2v2h-2zM54 100h2v2h-2zM54 114h2v2h-2zM54 118h2v2h-2zM54 132h2v6h-2zM54 140h2v2h-2zM54 148h2v2h-2zM56 102h2v4h-2zM56 108h2v2h-2zM56 122h2v2h-2zM56 132h2v2h-2zM56 146h2v2h-2zM58 100h2v4h-2zM58 108h2v2h-2zM58 118h2v2h-2zM58 126h2v2h-2zM58 134h2v8h-2zM78 86h2v2h-2zM78 92h2v2h-2zM78 98h2v2h-2zM78 106h2v2h-2zM78 110h2v2h-2zM78 120h2v2h-2zM80 86h2v2h-2zM80 98h2v2h-2zM80 106h2v2h-2zM80 110h2v2h-2zM80 120h2v2h-2zM82 106h2v6h-2zM82 116h2v2h-2zM82 126h2v2h-2zM84 106h2v2h-2zM84 110h2v2h-2zM84 116h2v2h-2zM84 120h2v4h-2zM84 126h2v2h-2zM86 90h2v6h-2zM90 92h2v2h-2zM90 106h2v2h-2zM92 98h2v2h-2zM94 98h2v2h-2zM94 116h2v2h-2zM100 112h2v2h-2zM100 124h2v2h-2zM100 128h2v2h-2zM100 142h2v2h-2zM102 112h2v2h-2zM102 128h2v2h-2zM102 142h2v2h-2zM104 128h2v2h-2zM108 128h2v2h-2zM108 142h2v2h-2zM110 128h2v2h-2zM112 114h2v2h-2zM112 130h2v2h-2zM112 134h2v4h-2zM112 140h2v2h-2zM112 144h2v2h-2zM112 148h2v2h-2zM114 128h2v2h-2zM114 142h2v2h-2zM118 142h2v2h-2zM120 128h2v2h-2zM124 128h2v2h-2zM124 134h2v8h-2zM124 148h2v2h-2zM126 142h2v2h-2zM128 130h2v2h-2zM130 142h2v2h-2zM134 142h2v2h-2zM158 170h2v2h-2zM160 170h2v2h-2zM168 170h2v2h-2z"/>
<path fill="#ffe557" stroke="#ffe557" stroke-width="0.5" d="M0 4h2v4h-2zM0 32h2v2h-2zM0 38h2v2h-2zM4 6h2v2h-2zM6 34h2v2h-2zM8 26h2v2h-2zM8 30h2v2h-2zM10 26h2v2h-2zM14 76h2v2h-2zM18 72h2v2h-2zM20 76h2v2h-2zM24 32h2v2h-2zM26 28h2v2h-2zM30 34h2v2h-2zM54 56h2v2h-2zM100 130h2v2h-2zM100 144h2v2h-2zM102 130h2v2h-2zM104 130h2v2h-2zM106 198h2v2h-2zM106 210h2v2h-2zM110 158h2v2h-2zM110 162h2v2h-2zM110 182h2v2h-2zM110 198h2v2h-2zM114 144h2v2h-2zM116 160h2v2h-2zM116 182h2v2h-2zM122 162h2v2h-2zM122 204h2v2h-2zM122 210h2v2h-2zM132 160h2v2h-2zM146 158h2v6h-2zM146 182h2v2h-2zM146 194h2v2h-2zM146 204h2v2h-2zM158 182h2v2h-2zM158 194h2v2h-2zM158 208h2v4h-2zM160 182h2v2h-2zM160 194h2v2h-2zM160 200h2v2h-2zM160 204h2v2h-2zM160 208h2v2h-2zM162 198h2v2h-2zM162 210h2v2h-2zM164 204h2v2h-2zM168 200h2v2h-2zM168 212h2v2h-2zM172 198h2v2h-2zM176 198h2v2h-2zM196 198h2v4h-2zM196 212h2v2h-2zM200 202h2v4h-2zM200 208h2v2h-2zM204 212h2v2h-2zM208 210h2v2h-2z"/>
<path fill="#f9c758" stroke="#f9c758" stroke-width="0.5" d="M0 8h2v4h-2zM8 34h2v2h-2zM26 34h2v2h-2zM48 58h2v2h-2zM50 52h2v2h-2zM50 58h2v2h-2zM54 58h2v2h-2zM100 108h2v2h-2zM106 138h2v2h-2zM108 136h2v2h-2zM110 130h2v2h-2zM118 126h2v2h-2zM118 132h2v2h-2zM118 140h2v2h-2zM118 148h2v2h-2zM120 130h2v2h-2zM120 134h2v2h-2zM138 144h2v2h-2zM164 166h2v4h-2zM164 174h2v2h-2zM166 174h2v2h-2zM166 178h2v2h-2zM168 174h2v2h-2zM172 174h2v2h-2zM174 176h2v2h-2zM198 210h2v2h-2z"/>
<path fill="#fff39a" stroke="#fff39a" stroke-width="0.5" d="M0 12h2v2h-2zM0 78h2v8h-2zM0 106h2v2h-2zM0 110h2v2h-2zM4 14h2v2h-2zM4 22h2v2h-2zM4 84h2v2h-2zM6 12h2v2h-2zM6 22h2v2h-2zM6 84h2v2h-2zM8 94h2v2h-2zM8 106h2v2h-2zM8 116h2v2h-2zM10 82h2v4h-2zM10 106h2v2h-2zM10 110h2v2h-2zM10 116h2v2h-2zM10 122h2v2h-2zM10 126h2v2h-2zM12 14h2v2h-2zM12 22h2v2h-2zM12 32h2v2h-2zM12 36h2v2h-2zM12 106h2v2h-2zM12 120h2v2h-2zM12 132h2v2h-2zM12 156h2v2h-2zM12 164h2v2h-2zM12 168h2v2h-2zM12 176h2v2h-2zM12 180h2v4h-2zM12 186h2v2h-2zM12 194h2v2h-2zM12 202h2v4h-2zM12 210h2v2h-2zM14 22h2v2h-2zM14 26h2v2h-2zM14 34h2v2h-2zM14 38h2v2h-2zM14 106h2v2h-2zM14 120h2v4h-2zM14 126h2v2h-2zM14 136h2v2h-2zM14 140h2v2h-2zM14 148h2v2h-2zM14 156h2v2h-2zM14 164h2v2h-2zM14 176h2v4h-2zM14 182h2v2h-2zM14 186h2v2h-2zM14 198h2v8h-2zM14 212h2v2h-2zM18 24h2v2h-2zM18 28h2v4h-2zM18 100h2v2h-2zM18 118h2v2h-2zM18 130h2v2h-2zM18 134h2v2h-2zM18 138h2v2h-2zM18 144h2v2h-2zM20 24h2v2h-2zM20 30h2v2h-2zM20 36h2v2h-2zM20 100h2v2h-2zM20 108h2v2h-2zM20 114h2v2h-2zM20 130h2v2h-2zM20 140h2v2h-2zM20 152h2v4h-2zM20 178h2v2h-2zM20 184h2v2h-2zM20 188h2v2h-2zM22 26h2v2h-2zM22 34h2v2h-2zM22 106h2v2h-2zM22 110h2v2h-2zM22 116h2v2h-2zM22 120h2v4h-2zM22 126h2v2h-2zM22 136h2v2h-2zM22 146h2v4h-2zM22 156h2v2h-2zM22 160h2v2h-2zM22 164h2v2h-2zM22 168h2v2h-2zM22 174h2v6h-2zM22 188h2v2h-2zM22 194h2v2h-2zM22 200h2v2h-2zM22 208h2v2h-2zM22 212h2v2h-2zM24 56h2v2h-2zM24 106h2v2h-2zM24 110h2v2h-2zM24 116h2v2h-2zM24 132h2v2h-2zM24 136h2v2h-2zM24 146h2v2h-2zM24 158h2v2h-2zM24 162h2v4h-2zM24 172h2v2h-2zM24 176h2v2h-2zM24 180h2v4h-2zM24 186h2v4h-2zM24 194h2v2h-2zM24 198h2v8h-2zM24 208h2v2h-2zM26 104h2v2h-2zM26 108h2v2h-2zM26 118h2v2h-2zM26 126h2v2h-2zM26 130h2v2h-2zM26 140h2v2h-2zM26 144h2v2h-2zM26 152h2v4h-2zM26 184h2v2h-2zM26 192h2v2h-2zM26 196h2v2h-2zM28 54h2v2h-2zM28 58h2v2h-2zM28 116h2v2h-2zM28 132h2v2h-2zM28 136h2v2h-2zM28 146h2v2h-2zM28 162h2v2h-2zM28 166h2v4h-2zM28 172h2v2h-2zM28 176h2v4h-2zM28 194h2v2h-2zM28 198h2v8h-2zM28 212h2v2h-2zM30 56h2v2h-2zM30 106h2v2h-2zM30 116h2v2h-2zM30 120h2v2h-2zM30 146h2v4h-2zM30 152h2v2h-2zM30 156h2v2h-2zM30 160h2v2h-2zM30 164h2v6h-2zM30 172h2v2h-2zM30 176h2v2h-2zM30 180h2v4h-2zM30 194h2v2h-2zM30 200h2v6h-2zM32 104h2v2h-2zM32 114h2v2h-2zM32 126h2v2h-2zM32 138h2v4h-2zM32 144h2v2h-2zM32 152h2v2h-2zM32 174h2v4h-2zM32 184h2v2h-2zM34 100h2v6h-2zM34 114h2v2h-2zM34 118h2v2h-2zM34 130h2v2h-2zM34 134h2v2h-2zM34 144h2v2h-2zM34 148h2v2h-2zM34 192h2v2h-2zM36 104h2v2h-2zM36 120h2v2h-2zM36 134h2v4h-2zM36 140h2v2h-2zM36 148h2v2h-2zM36 152h2v4h-2zM36 164h2v2h-2zM36 168h2v2h-2zM36 172h2v4h-2zM36 178h2v2h-2zM36 184h2v2h-2zM36 188h2v6h-2zM36 208h2v2h-2zM38 100h2v2h-2zM38 108h2v2h-2zM38 114h2v2h-2zM38 118h2v2h-2zM38 130h2v2h-2zM38 138h2v2h-2zM38 144h2v2h-2zM38 152h2v2h-2zM38 190h2v2h-2zM48 116h2v2h-2zM48 120h2v2h-2zM48 132h2v2h-2zM50 106h2v2h-2zM50 122h2v2h-2zM52 110h2v2h-2zM52 116h2v2h-2zM52 120h2v2h-2zM52 126h2v2h-2zM52 132h2v2h-2zM52 136h2v2h-2zM52 146h2v2h-2zM54 106h2v2h-2zM54 110h2v2h-2zM58 106h2v2h-2zM58 110h2v2h-2zM78 80h2v6h-2zM80 90h2v2h-2zM80 94h2v2h-2zM82 90h2v2h-2zM84 90h2v2h-2zM84 94h2v2h-2zM100 184h2v2h-2zM106 112h2v2h-2zM106 124h2v2h-2zM108 124h2v2h-2zM110 112h2v2h-2zM110 124h2v2h-2zM112 116h2v2h-2zM112 120h2v4h-2zM112 126h2v2h-2zM116 124h2v2h-2zM116 142h2v2h-2zM118 192h2v2h-2zM120 124h2v2h-2zM122 124h2v2h-2zM128 136h2v2h-2zM128 142h2v2h-2zM128 146h2v4h-2zM130 190h2v2h-2zM132 142h2v2h-2zM136 142h2v2h-2zM144 192h2v2h-2zM184 192h2v2h-2zM190 192h2v2h-2zM192 202h2v2h-2z"/>
<path fill="#fff18c" stroke="#fff18c" stroke-width="0.5" d="M0 14h2v2h-2zM0 22h2v2h-2zM4 18h2v4h-2zM6 14h2v2h-2zM6 20h2v2h-2zM8 78h2v8h-2zM8 110h2v2h-2zM8 120h2v2h-2zM10 14h2v2h-2zM10 22h2v2h-2zM10 80h2v2h-2zM12 20h2v2h-2zM12 38h2v2h-2zM12 60h2v2h-2zM12 66h2v2h-2zM12 158h2v6h-2zM12 198h2v2h-2zM12 212h2v2h-2zM14 110h2v2h-2zM14 132h2v2h-2zM14 146h2v2h-2zM14 158h2v6h-2zM14 166h2v2h-2zM14 180h2v2h-2zM14 194h2v2h-2zM18 104h2v2h-2zM18 108h2v2h-2zM18 116h2v2h-2zM18 122h2v2h-2zM18 140h2v2h-2zM18 148h2v2h-2zM18 154h2v2h-2zM18 164h2v4h-2zM18 174h2v2h-2zM18 178h2v2h-2zM18 184h2v2h-2zM18 188h2v6h-2zM18 196h2v2h-2zM20 22h2v2h-2zM20 26h2v2h-2zM20 34h2v2h-2zM20 38h2v2h-2zM20 104h2v4h-2zM20 110h2v2h-2zM20 122h2v2h-2zM20 126h2v2h-2zM20 132h2v8h-2zM20 146h2v4h-2zM20 158h2v4h-2zM20 164h2v2h-2zM20 172h2v6h-2zM20 194h2v4h-2zM20 212h2v2h-2zM22 38h2v2h-2zM22 158h2v2h-2zM22 162h2v2h-2zM22 182h2v2h-2zM22 198h2v2h-2zM22 202h2v4h-2zM22 210h2v2h-2zM24 50h2v2h-2zM24 54h2v2h-2zM24 156h2v2h-2zM24 160h2v2h-2zM24 210h2v4h-2zM26 102h2v2h-2zM26 106h2v2h-2zM26 120h2v2h-2zM26 134h2v2h-2zM26 138h2v2h-2zM26 164h2v4h-2zM26 174h2v2h-2zM26 178h2v2h-2zM26 186h2v6h-2zM26 194h2v2h-2zM26 202h2v2h-2zM26 212h2v2h-2zM28 50h2v2h-2zM28 156h2v6h-2zM28 182h2v2h-2zM28 210h2v2h-2zM30 58h2v2h-2zM30 110h2v2h-2zM30 132h2v2h-2zM30 136h2v2h-2zM30 162h2v2h-2zM30 198h2v2h-2zM30 210h2v4h-2zM32 106h2v6h-2zM32 120h2v4h-2zM32 132h2v4h-2zM32 148h2v2h-2zM32 154h2v4h-2zM32 164h2v6h-2zM32 178h2v4h-2zM32 186h2v6h-2zM32 194h2v4h-2zM32 200h2v4h-2zM34 108h2v2h-2zM34 120h2v4h-2zM34 126h2v2h-2zM34 136h2v6h-2zM34 152h2v4h-2zM34 164h2v2h-2zM34 174h2v2h-2zM34 178h2v2h-2zM34 184h2v2h-2zM34 188h2v4h-2zM36 54h2v4h-2zM36 106h2v2h-2zM36 110h2v2h-2zM36 116h2v2h-2zM36 122h2v2h-2zM36 132h2v2h-2zM36 158h2v6h-2zM36 166h2v2h-2zM36 176h2v2h-2zM36 182h2v2h-2zM36 186h2v2h-2zM36 194h2v4h-2zM36 200h2v6h-2zM38 102h2v4h-2zM38 110h2v2h-2zM38 122h2v2h-2zM38 126h2v2h-2zM38 134h2v2h-2zM38 140h2v2h-2zM38 166h2v2h-2zM38 174h2v2h-2zM38 178h2v2h-2zM38 188h2v2h-2zM38 192h2v2h-2zM48 122h2v2h-2zM52 106h2v2h-2zM52 122h2v2h-2zM80 82h2v4h-2zM82 84h2v2h-2zM100 164h2v2h-2zM100 178h2v2h-2zM100 188h2v6h-2zM100 196h2v2h-2zM102 164h2v2h-2zM102 178h2v2h-2zM102 184h2v2h-2zM102 192h2v2h-2zM108 190h2v2h-2zM114 174h2v2h-2zM114 184h2v2h-2zM114 196h2v2h-2zM118 174h2v2h-2zM118 184h2v2h-2zM118 190h2v2h-2zM130 174h2v2h-2zM130 180h2v2h-2zM130 184h2v2h-2zM130 192h2v2h-2zM134 190h2v2h-2zM138 178h2v2h-2zM138 192h2v2h-2zM142 146h2v2h-2zM144 164h2v2h-2zM144 188h2v4h-2zM178 192h2v2h-2zM180 190h2v2h-2zM182 192h2v2h-2zM184 186h2v2h-2zM184 190h2v2h-2zM184 196h2v2h-2zM184 200h2v4h-2zM184 208h2v2h-2zM186 196h2v2h-2zM188 192h2v2h-2zM188 208h2v2h-2zM188 212h2v2h-2zM190 196h2v2h-2zM190 200h2v2h-2zM190 210h2v2h-2zM192 194h2v8h-2zM192 208h2v4h-2z"/>
<path fill="#fff9d1" stroke="#fff9d1" stroke-width="0.5" d="M0 16h2v2h-2zM0 208h2v2h-2zM2 12h2v6h-2zM2 22h2v2h-2zM2 80h2v4h-2zM2 94h2v4h-2zM2 106h2v2h-2zM2 116h2v2h-2zM4 16h2v2h-2zM4 196h2v2h-2zM4 202h2v2h-2zM4 208h2v2h-2zM6 16h2v2h-2zM8 16h2v2h-2zM10 16h2v2h-2zM12 206h2v2h-2zM14 16h2v2h-2zM14 142h2v2h-2zM14 206h2v2h-2zM16 20h2v4h-2zM16 26h2v2h-2zM16 34h2v2h-2zM16 38h2v2h-2zM16 60h2v2h-2zM16 66h2v2h-2zM16 106h2v2h-2zM16 110h2v4h-2zM16 122h2v4h-2zM16 128h2v2h-2zM16 136h2v2h-2zM16 142h2v2h-2zM16 146h2v6h-2zM16 156h2v10h-2zM16 174h2v2h-2zM16 180h2v4h-2zM16 198h2v14h-2zM18 112h2v2h-2zM18 124h2v2h-2zM18 128h2v2h-2zM18 142h2v2h-2zM18 150h2v2h-2zM18 206h2v2h-2zM20 124h2v2h-2zM20 128h2v2h-2zM20 142h2v2h-2zM20 150h2v2h-2zM20 206h2v2h-2zM22 150h2v2h-2zM22 206h2v2h-2zM24 42h2v4h-2zM26 112h2v2h-2zM26 128h2v2h-2zM26 142h2v2h-2zM26 150h2v2h-2zM26 206h2v2h-2zM28 42h2v6h-2zM28 150h2v2h-2zM30 42h2v4h-2zM30 206h2v2h-2zM32 124h2v2h-2zM32 142h2v2h-2zM32 150h2v2h-2zM32 206h2v2h-2zM34 112h2v2h-2zM34 124h2v2h-2zM34 128h2v2h-2zM34 142h2v2h-2zM34 150h2v2h-2zM36 124h2v2h-2zM36 128h2v2h-2zM36 142h2v2h-2zM36 150h2v2h-2zM36 206h2v2h-2zM38 112h2v2h-2zM38 124h2v2h-2zM38 128h2v2h-2zM38 142h2v2h-2zM38 150h2v2h-2zM38 170h2v2h-2zM38 206h2v2h-2zM42 56h2v2h-2zM44 50h2v2h-2zM44 54h2v4h-2zM46 54h2v2h-2zM52 112h2v2h-2zM52 124h2v2h-2zM60 66h2v2h-2zM66 74h2v2h-2zM84 96h2v2h-2zM94 96h2v2h-2zM100 206h2v2h-2zM102 170h2v2h-2zM104 170h2v2h-2zM108 170h2v2h-2zM108 206h2v2h-2zM110 170h2v2h-2zM112 164h2v2h-2zM112 170h2v6h-2zM112 178h2v2h-2zM112 184h2v2h-2zM112 188h2v10h-2zM112 200h2v4h-2zM112 208h2v2h-2zM114 206h2v2h-2zM116 170h2v2h-2zM118 170h2v2h-2zM120 170h2v2h-2zM122 170h2v2h-2zM124 164h2v2h-2zM124 168h2v4h-2zM124 178h2v2h-2zM124 184h2v2h-2zM124 190h2v4h-2zM124 200h2v4h-2zM126 170h2v2h-2zM128 170h2v2h-2zM128 174h2v2h-2zM128 190h2v4h-2zM128 202h2v2h-2zM130 206h2v2h-2zM134 170h2v2h-2zM136 170h2v2h-2zM138 170h2v2h-2zM140 170h2v2h-2zM142 170h2v2h-2zM142 174h2v2h-2zM142 178h2v2h-2zM144 170h2v2h-2zM146 170h2v2h-2zM148 170h2v2h-2zM158 214h2v2h-2zM158 246h2v2h-2zM160 220h2v2h-2zM170 180h2v10h-2zM170 192h2v6h-2zM170 200h2v4h-2zM170 208h2v2h-2zM170 212h2v2h-2zM180 206h2v2h-2zM182 246h2v2h-2zM184 206h2v2h-2zM186 206h2v2h-2zM188 206h2v2h-2zM190 206h2v2h-2zM192 206h2v2h-2zM198 246h2v2h-2zM210 220h2v2h-2zM214 216h2v2h-2zM214 220h2v2h-2zM214 232h2v2h-2zM214 236h2v2h-2zM214 240h2v2h-2zM214 244h2v6h-2zM216 218h2v4h-2zM216 232h2v6h-2zM216 240h2v2h-2zM216 246h2v4h-2zM218 220h2v2h-2zM218 232h2v2h-2zM218 240h2v4h-2zM218 246h2v4h-2zM220 232h2v6h-2zM220 240h2v10h-2zM220 252h2v2h-2zM230 232h2v2h-2zM230 236h2v2h-2zM230 248h2v2h-2zM232 236h2v2h-2zM232 244h2v4h-2zM234 240h2v2h-2zM234 246h2v2h-2zM236 240h2v2h-2zM236 246h2v2h-2zM240 246h2v2h-2zM242 246h2v4h-2zM246 248h2v2h-2zM246 252h2v2h-2z"/>
<path fill="#ffef71" stroke="#ffef71" stroke-width="0.5" d="M0 18h2v2h-2zM0 28h2v2h-2zM4 24h2v2h-2zM4 30h2v2h-2zM6 28h2v2h-2zM12 18h2v2h-2zM12 68h2v2h-2zM12 72h2v2h-2zM14 18h2v4h-2zM14 64h2v2h-2zM14 70h2v2h-2zM14 74h2v2h-2zM18 32h2v2h-2zM18 38h2v2h-2zM18 110h2v2h-2zM18 120h2v2h-2zM18 132h2v2h-2zM18 146h2v2h-2zM18 156h2v8h-2zM18 182h2v2h-2zM18 194h2v2h-2zM18 198h2v2h-2zM18 204h2v2h-2zM20 60h2v2h-2zM20 204h2v2h-2zM22 64h2v2h-2zM22 70h2v2h-2zM22 74h2v2h-2zM26 48h2v6h-2zM26 58h2v2h-2zM26 160h2v4h-2zM32 48h2v2h-2zM32 160h2v2h-2zM32 198h2v2h-2zM32 204h2v2h-2zM34 50h2v4h-2zM34 106h2v2h-2zM34 132h2v2h-2zM34 146h2v2h-2zM34 160h2v4h-2zM34 166h2v2h-2zM34 176h2v2h-2zM34 180h2v2h-2zM34 194h2v2h-2zM34 198h2v2h-2zM34 202h2v4h-2zM34 210h2v2h-2zM36 52h2v2h-2zM36 58h2v2h-2zM38 132h2v2h-2zM38 146h2v2h-2zM38 156h2v2h-2zM38 172h2v2h-2zM38 176h2v2h-2zM38 180h2v4h-2zM38 186h2v2h-2zM38 194h2v2h-2zM38 202h2v4h-2zM38 208h2v6h-2zM100 158h2v4h-2zM100 168h2v2h-2zM100 172h2v2h-2zM100 180h2v4h-2zM100 194h2v2h-2zM100 200h2v2h-2zM100 204h2v2h-2zM100 212h2v2h-2zM102 162h2v2h-2zM102 168h2v2h-2zM102 172h2v2h-2zM102 182h2v2h-2zM102 198h2v2h-2zM102 202h2v4h-2zM104 164h2v4h-2zM104 172h2v2h-2zM104 176h2v6h-2zM104 194h2v6h-2zM104 202h2v4h-2zM106 184h2v2h-2zM106 190h2v2h-2zM108 164h2v2h-2zM108 172h2v4h-2zM108 202h2v4h-2zM108 208h2v2h-2zM110 174h2v2h-2zM110 184h2v2h-2zM110 190h2v2h-2zM114 162h2v4h-2zM114 180h2v4h-2zM114 186h2v2h-2zM114 194h2v2h-2zM114 200h2v4h-2zM116 178h2v2h-2zM116 184h2v2h-2zM116 188h2v2h-2zM118 162h2v2h-2zM118 166h2v4h-2zM118 186h2v2h-2zM118 196h2v2h-2zM118 202h2v4h-2zM118 208h2v6h-2zM120 174h2v2h-2zM120 178h2v2h-2zM120 190h2v4h-2zM122 184h2v2h-2zM122 190h2v2h-2zM126 164h2v6h-2zM126 176h2v2h-2zM126 186h2v2h-2zM126 194h2v4h-2zM126 200h2v2h-2zM130 160h2v2h-2zM130 176h2v2h-2zM130 182h2v2h-2zM130 194h2v2h-2zM130 200h2v4h-2zM130 210h2v2h-2zM132 178h2v2h-2zM132 184h2v2h-2zM132 190h2v4h-2zM134 164h2v2h-2zM134 172h2v6h-2zM134 180h2v4h-2zM134 194h2v4h-2zM134 208h2v2h-2zM136 174h2v4h-2zM136 184h2v2h-2zM136 188h2v2h-2zM136 192h2v2h-2zM136 196h2v2h-2zM138 166h2v4h-2zM138 176h2v2h-2zM138 180h2v2h-2zM138 184h2v6h-2zM138 194h2v2h-2zM138 198h2v4h-2zM138 208h2v2h-2zM138 212h2v2h-2zM140 164h2v4h-2zM140 174h2v4h-2zM140 184h2v2h-2zM140 196h2v2h-2zM140 200h2v2h-2zM144 160h2v4h-2zM144 166h2v2h-2zM144 172h2v6h-2zM144 180h2v2h-2zM144 194h2v4h-2zM144 200h2v2h-2zM144 204h2v2h-2zM144 212h2v2h-2zM146 184h2v2h-2zM146 190h2v2h-2zM148 164h2v6h-2zM148 172h2v2h-2zM148 184h2v2h-2zM148 190h2v6h-2zM148 208h2v2h-2zM160 184h2v2h-2zM160 188h2v4h-2zM162 184h2v2h-2zM162 192h2v2h-2zM164 186h2v4h-2zM164 192h2v2h-2zM166 188h2v6h-2zM168 180h2v2h-2zM168 184h2v2h-2zM168 188h2v4h-2zM172 192h2v2h-2zM174 180h2v2h-2zM174 186h2v4h-2zM174 196h2v2h-2zM174 208h2v2h-2zM174 212h2v2h-2zM176 194h2v2h-2zM178 180h2v2h-2zM178 186h2v2h-2zM178 194h2v4h-2zM180 182h2v2h-2zM180 188h2v2h-2zM180 192h2v2h-2zM180 202h2v4h-2zM180 212h2v2h-2zM182 184h2v6h-2zM182 198h2v8h-2zM182 210h2v2h-2zM184 204h2v2h-2zM184 210h2v2h-2zM186 188h2v2h-2zM186 192h2v2h-2zM186 198h2v2h-2zM186 208h2v4h-2zM188 194h2v2h-2zM188 200h2v2h-2zM188 204h2v2h-2zM188 210h2v2h-2zM190 198h2v2h-2zM194 198h2v4h-2zM194 208h2v2h-2z"/>
<path fill="#fff07f" stroke="#fff07f" stroke-width="0.5" d="M0 20h2v2h-2zM4 28h2v2h-2zM6 18h2v2h-2zM8 12h2v4h-2zM8 22h2v2h-2zM10 12h2v2h-2zM12 64h2v2h-2zM12 70h2v2h-2zM12 74h2v2h-2zM14 60h2v2h-2zM14 66h2v2h-2zM14 210h2v2h-2zM18 26h2v2h-2zM18 34h2v4h-2zM18 106h2v2h-2zM18 126h2v2h-2zM18 136h2v2h-2zM18 152h2v2h-2zM18 168h2v2h-2zM18 172h2v2h-2zM18 176h2v2h-2zM18 180h2v2h-2zM18 186h2v2h-2zM18 200h2v4h-2zM18 208h2v6h-2zM20 32h2v2h-2zM20 116h2v2h-2zM20 120h2v2h-2zM20 156h2v2h-2zM20 162h2v2h-2zM20 166h2v4h-2zM20 180h2v4h-2zM20 186h2v2h-2zM20 198h2v6h-2zM20 208h2v4h-2zM22 60h2v2h-2zM22 66h2v2h-2zM22 72h2v2h-2zM24 48h2v2h-2zM24 52h2v2h-2zM24 58h2v2h-2zM26 54h2v4h-2zM26 110h2v2h-2zM26 116h2v2h-2zM26 122h2v2h-2zM26 132h2v2h-2zM26 136h2v2h-2zM26 146h2v4h-2zM26 156h2v2h-2zM26 168h2v2h-2zM26 172h2v2h-2zM26 176h2v2h-2zM26 180h2v4h-2zM26 198h2v4h-2zM26 204h2v2h-2zM26 208h2v4h-2zM28 48h2v2h-2zM28 52h2v2h-2zM30 48h2v8h-2zM30 158h2v2h-2zM32 50h2v2h-2zM32 54h2v6h-2zM32 116h2v2h-2zM32 136h2v2h-2zM32 146h2v2h-2zM32 158h2v2h-2zM32 162h2v2h-2zM32 172h2v2h-2zM32 182h2v2h-2zM32 208h2v6h-2zM34 56h2v4h-2zM34 110h2v2h-2zM34 116h2v2h-2zM34 156h2v2h-2zM34 168h2v2h-2zM34 172h2v2h-2zM34 186h2v2h-2zM34 196h2v2h-2zM34 200h2v2h-2zM34 208h2v2h-2zM34 212h2v2h-2zM36 48h2v4h-2zM36 146h2v2h-2zM36 156h2v2h-2zM36 180h2v2h-2zM36 198h2v2h-2zM36 210h2v4h-2zM38 54h2v4h-2zM38 106h2v2h-2zM38 116h2v2h-2zM38 120h2v2h-2zM38 136h2v2h-2zM38 148h2v2h-2zM38 154h2v2h-2zM38 162h2v4h-2zM38 168h2v2h-2zM38 184h2v2h-2zM38 196h2v2h-2zM38 200h2v2h-2zM100 162h2v2h-2zM100 166h2v2h-2zM100 174h2v4h-2zM100 186h2v2h-2zM100 202h2v2h-2zM100 208h2v4h-2zM102 174h2v4h-2zM102 180h2v2h-2zM102 186h2v6h-2zM102 196h2v2h-2zM102 200h2v2h-2zM102 208h2v2h-2zM104 162h2v2h-2zM104 168h2v2h-2zM104 174h2v2h-2zM104 182h2v4h-2zM104 188h2v6h-2zM104 208h2v2h-2zM104 212h2v2h-2zM106 192h2v2h-2zM108 168h2v2h-2zM108 178h2v2h-2zM108 184h2v2h-2zM108 188h2v2h-2zM108 192h2v2h-2zM108 196h2v2h-2zM114 166h2v4h-2zM114 172h2v2h-2zM114 176h2v4h-2zM114 188h2v6h-2zM114 208h2v2h-2zM114 212h2v2h-2zM116 190h2v4h-2zM118 164h2v2h-2zM118 172h2v2h-2zM118 176h2v6h-2zM118 188h2v2h-2zM118 194h2v2h-2zM118 200h2v2h-2zM120 184h2v2h-2zM122 178h2v2h-2zM122 192h2v2h-2zM126 174h2v2h-2zM126 178h2v2h-2zM126 184h2v2h-2zM126 188h2v6h-2zM130 162h2v8h-2zM130 172h2v2h-2zM130 178h2v2h-2zM130 186h2v4h-2zM130 196h2v4h-2zM130 208h2v2h-2zM130 212h2v2h-2zM134 166h2v4h-2zM134 178h2v2h-2zM134 184h2v6h-2zM134 192h2v2h-2zM138 174h2v2h-2zM138 190h2v2h-2zM138 196h2v2h-2zM140 178h2v2h-2zM140 188h2v6h-2zM144 168h2v2h-2zM144 178h2v2h-2zM144 184h2v2h-2zM144 202h2v2h-2zM144 208h2v2h-2zM148 174h2v2h-2zM148 188h2v2h-2zM148 196h2v2h-2zM160 192h2v2h-2zM164 184h2v2h-2zM164 190h2v2h-2zM166 184h2v2h-2zM168 192h2v2h-2zM172 184h2v2h-2zM174 184h2v2h-2zM174 190h2v4h-2zM176 184h2v2h-2zM176 192h2v2h-2zM178 184h2v2h-2zM178 188h2v4h-2zM180 184h2v2h-2zM180 196h2v2h-2zM180 200h2v2h-2zM180 208h2v2h-2zM182 190h2v2h-2zM182 196h2v2h-2zM182 208h2v2h-2zM184 188h2v2h-2zM184 194h2v2h-2zM184 198h2v2h-2zM184 212h2v2h-2zM186 190h2v2h-2zM186 200h2v4h-2zM188 190h2v2h-2zM188 196h2v4h-2zM188 202h2v2h-2zM190 194h2v2h-2zM190 202h2v4h-2zM190 208h2v2h-2zM190 212h2v2h-2zM192 204h2v2h-2zM192 212h2v2h-2zM194 196h2v2h-2zM194 202h2v2h-2z"/>
<path fill="#ffee64" stroke="#ffee64" stroke-width="0.5" d="M0 24h2v2h-2zM0 30h2v2h-2zM4 36h2v2h-2zM6 30h2v2h-2zM6 36h2v2h-2zM10 18h2v4h-2zM10 30h2v2h-2zM14 72h2v2h-2zM18 22h2v2h-2zM20 66h2v2h-2zM22 76h2v2h-2zM26 158h2v2h-2zM28 30h2v2h-2zM34 54h2v2h-2zM34 158h2v2h-2zM34 182h2v2h-2zM38 48h2v4h-2zM38 58h2v2h-2zM38 158h2v4h-2zM38 198h2v2h-2zM100 198h2v2h-2zM102 166h2v2h-2zM102 194h2v2h-2zM102 210h2v4h-2zM104 158h2v4h-2zM104 186h2v2h-2zM104 200h2v2h-2zM104 210h2v2h-2zM106 174h2v2h-2zM106 178h2v2h-2zM106 186h2v4h-2zM108 158h2v4h-2zM108 166h2v2h-2zM108 176h2v2h-2zM108 180h2v4h-2zM108 186h2v2h-2zM108 194h2v2h-2zM108 198h2v4h-2zM108 210h2v4h-2zM110 164h2v2h-2zM110 176h2v4h-2zM110 192h2v2h-2zM110 196h2v2h-2zM110 212h2v2h-2zM114 158h2v4h-2zM114 198h2v2h-2zM114 204h2v2h-2zM114 210h2v2h-2zM116 174h2v2h-2zM116 196h2v2h-2zM116 202h2v2h-2zM116 212h2v2h-2zM118 158h2v4h-2zM118 182h2v2h-2zM118 198h2v2h-2zM120 166h2v2h-2zM120 180h2v2h-2zM120 188h2v2h-2zM120 202h2v2h-2zM120 208h2v2h-2zM122 164h2v2h-2zM122 174h2v4h-2zM122 180h2v2h-2zM122 186h2v2h-2zM122 196h2v2h-2zM122 202h2v2h-2zM122 212h2v2h-2zM126 158h2v4h-2zM126 172h2v2h-2zM126 180h2v4h-2zM126 198h2v2h-2zM126 204h2v2h-2zM126 208h2v2h-2zM126 212h2v2h-2zM130 158h2v2h-2zM130 204h2v2h-2zM132 174h2v2h-2zM132 196h2v2h-2zM134 158h2v6h-2zM134 200h2v4h-2zM134 212h2v2h-2zM136 164h2v6h-2zM136 178h2v2h-2zM136 182h2v2h-2zM136 190h2v2h-2zM136 200h2v2h-2zM136 212h2v2h-2zM138 160h2v6h-2zM138 172h2v2h-2zM138 182h2v2h-2zM138 202h2v4h-2zM140 160h2v2h-2zM140 168h2v2h-2zM140 180h2v4h-2zM140 204h2v2h-2zM140 208h2v2h-2zM140 212h2v2h-2zM144 182h2v2h-2zM144 186h2v2h-2zM144 198h2v2h-2zM144 210h2v2h-2zM146 164h2v2h-2zM146 172h2v6h-2zM146 186h2v2h-2zM146 192h2v2h-2zM146 196h2v2h-2zM148 176h2v4h-2zM148 182h2v2h-2zM148 186h2v2h-2zM148 198h2v2h-2zM148 202h2v4h-2zM148 212h2v2h-2zM158 190h2v4h-2zM162 180h2v2h-2zM162 186h2v6h-2zM162 208h2v2h-2zM164 180h2v2h-2zM164 194h2v4h-2zM164 200h2v2h-2zM164 212h2v2h-2zM166 186h2v2h-2zM166 196h2v2h-2zM166 200h2v2h-2zM166 208h2v2h-2zM168 182h2v2h-2zM168 186h2v2h-2zM168 196h2v2h-2zM168 208h2v2h-2zM172 186h2v6h-2zM172 194h2v4h-2zM174 200h2v2h-2zM176 180h2v4h-2zM176 186h2v6h-2zM178 182h2v2h-2zM178 198h2v6h-2zM178 210h2v2h-2zM180 186h2v2h-2zM180 194h2v2h-2zM180 198h2v2h-2zM180 210h2v2h-2zM182 194h2v2h-2zM182 212h2v2h-2zM186 194h2v2h-2zM186 204h2v2h-2zM186 212h2v2h-2zM194 212h2v2h-2z"/>
<path fill="#ffe85b" stroke="#ffe85b" stroke-width="0.5" d="M0 26h2v2h-2zM4 26h2v2h-2zM4 34h2v2h-2zM4 38h2v2h-2zM6 26h2v2h-2zM6 32h2v2h-2zM6 38h2v2h-2zM8 24h2v2h-2zM8 28h2v2h-2zM8 36h2v2h-2zM10 24h2v2h-2zM18 60h2v2h-2zM18 64h2v2h-2zM18 70h2v2h-2zM20 64h2v2h-2zM20 68h2v8h-2zM24 36h2v2h-2zM28 36h2v2h-2zM30 36h2v2h-2zM38 52h2v2h-2zM106 158h2v2h-2zM106 162h2v2h-2zM106 168h2v2h-2zM106 172h2v2h-2zM106 176h2v2h-2zM106 194h2v2h-2zM106 204h2v2h-2zM106 208h2v2h-2zM110 160h2v2h-2zM110 172h2v2h-2zM110 202h2v2h-2zM110 208h2v2h-2zM116 158h2v2h-2zM116 166h2v4h-2zM116 172h2v2h-2zM116 186h2v2h-2zM116 194h2v2h-2zM116 198h2v4h-2zM116 204h2v2h-2zM118 130h2v2h-2zM120 158h2v2h-2zM120 182h2v2h-2zM120 200h2v2h-2zM120 204h2v2h-2zM120 212h2v2h-2zM122 182h2v2h-2zM132 158h2v2h-2zM132 166h2v4h-2zM132 182h2v2h-2zM132 198h2v6h-2zM132 210h2v2h-2zM136 158h2v2h-2zM136 162h2v2h-2zM136 172h2v2h-2zM136 180h2v2h-2zM136 198h2v2h-2zM136 204h2v2h-2zM136 210h2v2h-2zM140 210h2v2h-2zM146 166h2v4h-2zM146 198h2v4h-2zM146 212h2v2h-2zM148 158h2v2h-2zM158 180h2v2h-2zM158 186h2v4h-2zM158 196h2v2h-2zM160 180h2v2h-2zM160 196h2v2h-2zM160 212h2v2h-2zM162 194h2v2h-2zM162 200h2v2h-2zM164 202h2v2h-2zM164 210h2v2h-2zM166 182h2v2h-2zM166 198h2v2h-2zM166 202h2v4h-2zM166 210h2v2h-2zM168 210h2v2h-2zM172 200h2v4h-2zM172 208h2v2h-2zM174 202h2v4h-2zM174 210h2v2h-2zM176 202h2v4h-2zM176 208h2v2h-2zM176 212h2v2h-2zM178 212h2v2h-2zM196 204h2v2h-2zM198 208h2v2h-2zM200 212h2v2h-2zM202 212h2v2h-2zM208 212h2v2h-2z"/>
<path fill="#fedd50" stroke="#fedd50" stroke-width="0.5" d="M0 34h2v2h-2zM4 10h2v2h-2zM6 10h2v2h-2zM8 38h2v2h-2zM10 38h2v2h-2zM18 68h2v2h-2zM24 38h2v2h-2zM28 34h2v2h-2zM48 56h2v2h-2zM50 54h2v4h-2zM52 56h2v2h-2zM100 114h2v2h-2zM100 134h2v2h-2zM100 148h2v2h-2zM102 140h2v2h-2zM102 148h2v2h-2zM104 134h2v2h-2zM104 140h2v2h-2zM106 130h2v2h-2zM108 130h2v2h-2zM108 134h2v2h-2zM108 140h2v2h-2zM114 140h2v2h-2zM118 144h2v2h-2zM126 130h2v2h-2zM126 144h2v2h-2zM130 134h2v2h-2zM130 144h2v2h-2zM158 198h2v2h-2zM158 204h2v2h-2zM164 178h2v2h-2zM198 200h2v2h-2zM198 212h2v2h-2zM204 210h2v2h-2z"/>
<path fill="#ffeb5f" stroke="#ffeb5f" stroke-width="0.5" d="M0 36h2v2h-2zM4 32h2v2h-2zM6 24h2v2h-2zM8 18h2v4h-2zM10 28h2v2h-2zM10 36h2v2h-2zM12 76h2v2h-2zM14 68h2v2h-2zM18 20h2v2h-2zM18 66h2v2h-2zM18 74h2v2h-2zM22 68h2v2h-2zM24 28h2v4h-2zM28 32h2v2h-2zM32 52h2v2h-2zM34 48h2v2h-2zM102 158h2v4h-2zM106 160h2v2h-2zM106 164h2v4h-2zM106 180h2v4h-2zM106 196h2v2h-2zM106 200h2v4h-2zM106 212h2v2h-2zM108 162h2v2h-2zM110 166h2v4h-2zM110 180h2v2h-2zM110 186h2v4h-2zM110 194h2v2h-2zM110 200h2v2h-2zM110 204h2v2h-2zM110 210h2v2h-2zM116 162h2v4h-2zM116 176h2v2h-2zM116 180h2v2h-2zM116 208h2v2h-2zM120 160h2v6h-2zM120 168h2v2h-2zM120 172h2v2h-2zM120 176h2v2h-2zM120 186h2v2h-2zM120 194h2v6h-2zM120 210h2v2h-2zM122 158h2v4h-2zM122 166h2v4h-2zM122 172h2v2h-2zM122 188h2v2h-2zM122 194h2v2h-2zM122 198h2v4h-2zM122 208h2v2h-2zM126 162h2v2h-2zM126 202h2v2h-2zM126 210h2v2h-2zM132 162h2v4h-2zM132 172h2v2h-2zM132 176h2v2h-2zM132 180h2v2h-2zM132 186h2v4h-2zM132 194h2v2h-2zM132 204h2v2h-2zM132 208h2v2h-2zM132 212h2v2h-2zM134 198h2v2h-2zM134 204h2v2h-2zM134 210h2v2h-2zM136 160h2v2h-2zM136 186h2v2h-2zM136 194h2v2h-2zM136 202h2v2h-2zM136 208h2v2h-2zM138 158h2v2h-2zM138 210h2v2h-2zM140 158h2v2h-2zM140 162h2v2h-2zM140 172h2v2h-2zM140 186h2v2h-2zM140 194h2v2h-2zM140 198h2v2h-2zM140 202h2v2h-2zM144 158h2v2h-2zM146 178h2v4h-2zM146 188h2v2h-2zM146 202h2v2h-2zM146 208h2v2h-2zM148 160h2v4h-2zM148 180h2v2h-2zM148 200h2v2h-2zM148 210h2v2h-2zM158 184h2v2h-2zM160 186h2v2h-2zM162 182h2v2h-2zM162 196h2v2h-2zM164 182h2v2h-2zM164 198h2v2h-2zM164 208h2v2h-2zM166 180h2v2h-2zM166 194h2v2h-2zM166 212h2v2h-2zM168 194h2v2h-2zM168 202h2v4h-2zM172 180h2v4h-2zM172 204h2v2h-2zM172 210h2v4h-2zM174 182h2v2h-2zM174 194h2v2h-2zM174 198h2v2h-2zM176 196h2v2h-2zM176 200h2v2h-2zM176 210h2v2h-2zM178 204h2v2h-2zM178 208h2v2h-2zM194 204h2v2h-2zM194 210h2v2h-2zM196 202h2v2h-2zM196 208h2v2h-2zM202 208h2v2h-2z"/>
<path fill="#fffdeb" stroke="#fffdeb" stroke-width="0.5" d="M0 40h2v2h-2zM0 60h2v18h-2zM0 128h2v2h-2zM0 142h2v2h-2zM0 150h2v2h-2zM0 162h2v34h-2zM0 224h2v4h-2zM0 238h2v2h-2zM2 40h2v38h-2zM2 128h2v68h-2zM2 214h2v40h-2zM4 40h2v2h-2zM4 60h2v18h-2zM4 128h2v2h-2zM4 142h2v2h-2zM4 150h2v2h-2zM4 158h2v38h-2zM4 224h2v4h-2zM4 238h2v2h-2zM6 40h2v2h-2zM6 60h2v18h-2zM6 128h2v2h-2zM6 142h2v2h-2zM6 150h2v2h-2zM6 160h2v2h-2zM6 164h2v32h-2zM6 224h2v4h-2zM6 238h2v2h-2zM8 60h2v8h-2zM8 70h2v6h-2zM8 128h2v2h-2zM8 142h2v2h-2zM8 150h2v2h-2zM8 170h2v2h-2zM8 174h2v2h-2zM8 178h2v18h-2zM8 224h2v4h-2zM10 40h2v2h-2zM10 60h2v8h-2zM10 70h2v6h-2zM10 128h2v2h-2zM10 142h2v2h-2zM10 150h2v2h-2zM10 164h2v2h-2zM10 168h2v28h-2zM10 224h2v4h-2zM10 238h2v2h-2zM12 40h2v2h-2zM12 48h2v12h-2zM12 78h2v22h-2zM12 224h2v4h-2zM12 238h2v2h-2zM14 40h2v2h-2zM14 48h2v12h-2zM14 78h2v22h-2zM14 224h2v4h-2zM14 238h2v2h-2zM16 40h2v20h-2zM16 78h2v22h-2zM16 214h2v6h-2zM16 222h2v10h-2zM16 234h2v2h-2zM16 240h2v6h-2zM16 250h2v4h-2zM18 56h2v2h-2zM18 78h2v22h-2zM18 224h2v2h-2zM20 48h2v2h-2zM20 54h2v4h-2zM20 78h2v22h-2zM20 224h2v2h-2zM22 40h2v2h-2zM22 48h2v4h-2zM22 54h2v6h-2zM22 78h2v22h-2zM22 224h2v4h-2zM22 238h2v2h-2zM24 62h2v2h-2zM24 78h2v22h-2zM24 224h2v4h-2zM24 238h2v2h-2zM26 62h2v2h-2zM26 78h2v22h-2zM26 224h2v4h-2zM26 238h2v2h-2zM28 62h2v2h-2zM28 78h2v22h-2zM28 224h2v4h-2zM28 238h2v2h-2zM30 62h2v2h-2zM30 78h2v22h-2zM30 224h2v4h-2zM30 238h2v2h-2zM32 62h2v2h-2zM32 78h2v22h-2zM32 224h2v4h-2zM32 238h2v2h-2zM34 62h2v2h-2zM34 78h2v22h-2zM34 224h2v4h-2zM34 238h2v2h-2zM36 62h2v2h-2zM36 78h2v22h-2zM36 224h2v4h-2zM36 238h2v2h-2zM38 62h2v2h-2zM38 78h2v22h-2zM38 224h2v4h-2zM38 238h2v2h-2zM40 60h2v18h-2zM40 88h2v2h-2zM40 98h2v30h-2zM40 130h2v2h-2zM40 150h2v8h-2zM40 208h2v2h-2zM40 218h2v2h-2zM40 222h2v4h-2zM40 228h2v4h-2zM40 234h2v2h-2zM40 240h2v6h-2zM40 250h2v4h-2zM42 60h2v18h-2zM42 88h2v2h-2zM42 100h2v10h-2zM42 112h2v8h-2zM42 122h2v8h-2zM42 150h2v8h-2zM42 170h2v2h-2zM42 206h2v2h-2zM42 224h2v4h-2zM42 238h2v2h-2zM44 60h2v18h-2zM44 88h2v2h-2zM44 100h2v30h-2zM44 142h2v2h-2zM44 150h2v8h-2zM44 170h2v2h-2zM44 206h2v2h-2zM44 224h2v4h-2zM44 238h2v2h-2zM46 60h2v18h-2zM46 88h2v2h-2zM46 100h2v6h-2zM46 108h2v2h-2zM46 112h2v4h-2zM46 118h2v10h-2zM46 150h2v8h-2zM46 170h2v2h-2zM46 224h2v4h-2zM48 62h2v2h-2zM48 88h2v2h-2zM48 160h2v20h-2zM48 224h2v4h-2zM48 238h2v2h-2zM50 62h2v2h-2zM50 88h2v2h-2zM50 96h2v2h-2zM50 160h2v20h-2zM50 224h2v4h-2zM50 238h2v2h-2zM52 62h2v2h-2zM52 88h2v2h-2zM52 162h2v18h-2zM52 224h2v4h-2zM52 238h2v2h-2zM54 62h2v2h-2zM54 88h2v2h-2zM54 96h2v2h-2zM54 158h2v22h-2zM54 224h2v4h-2zM54 238h2v2h-2zM56 62h2v2h-2zM56 88h2v2h-2zM56 96h2v2h-2zM56 150h2v2h-2zM56 158h2v22h-2zM56 224h2v4h-2zM56 238h2v2h-2zM58 62h2v2h-2zM58 88h2v2h-2zM58 158h2v22h-2zM58 224h2v4h-2zM58 238h2v2h-2zM60 88h2v2h-2zM60 96h2v2h-2zM60 112h2v2h-2zM60 124h2v2h-2zM60 128h2v2h-2zM60 142h2v2h-2zM60 170h2v2h-2zM60 180h2v34h-2zM60 224h2v4h-2zM60 238h2v2h-2zM62 78h2v72h-2zM62 158h2v56h-2zM62 216h2v4h-2zM62 222h2v24h-2zM62 248h2v6h-2zM64 88h2v2h-2zM64 96h2v2h-2zM64 112h2v2h-2zM64 124h2v2h-2zM64 128h2v2h-2zM64 142h2v2h-2zM64 170h2v2h-2zM64 180h2v34h-2zM64 224h2v4h-2zM64 238h2v2h-2zM66 88h2v2h-2zM66 96h2v2h-2zM66 112h2v2h-2zM66 124h2v2h-2zM66 128h2v2h-2zM66 142h2v2h-2zM66 170h2v2h-2zM66 180h2v34h-2zM66 224h2v4h-2zM66 238h2v2h-2zM68 88h2v2h-2zM68 96h2v2h-2zM68 112h2v2h-2zM68 124h2v2h-2zM68 128h2v2h-2zM68 142h2v2h-2zM68 170h2v2h-2zM68 180h2v34h-2zM68 224h2v2h-2zM70 88h2v2h-2zM70 96h2v2h-2zM70 112h2v2h-2zM70 124h2v2h-2zM70 128h2v2h-2zM70 142h2v2h-2zM70 170h2v2h-2zM70 180h2v34h-2zM70 224h2v4h-2zM70 238h2v2h-2zM72 88h2v2h-2zM72 96h2v2h-2zM72 112h2v2h-2zM72 124h2v2h-2zM72 128h2v2h-2zM72 142h2v2h-2zM72 170h2v2h-2zM72 180h2v34h-2zM72 224h2v4h-2zM72 238h2v2h-2zM74 88h2v2h-2zM74 96h2v2h-2zM74 112h2v2h-2zM74 124h2v2h-2zM74 128h2v2h-2zM74 142h2v2h-2zM74 170h2v2h-2zM74 180h2v34h-2zM74 224h2v4h-2zM74 238h2v2h-2zM76 88h2v2h-2zM76 96h2v2h-2zM76 112h2v2h-2zM76 124h2v2h-2zM76 128h2v2h-2zM76 142h2v2h-2zM76 170h2v2h-2zM76 180h2v34h-2zM76 224h2v4h-2zM78 128h2v2h-2zM78 142h2v2h-2zM78 150h2v2h-2zM78 170h2v2h-2zM78 196h2v2h-2zM78 200h2v10h-2zM78 212h2v2h-2zM78 224h2v4h-2zM78 238h2v2h-2zM80 128h2v2h-2zM80 142h2v2h-2zM80 150h2v2h-2zM80 170h2v2h-2zM80 196h2v2h-2zM80 202h2v2h-2zM80 206h2v4h-2zM80 212h2v2h-2zM80 224h2v4h-2zM80 238h2v2h-2zM82 128h2v2h-2zM82 142h2v2h-2zM82 150h2v2h-2zM82 170h2v2h-2zM82 196h2v2h-2zM82 202h2v2h-2zM82 206h2v2h-2zM82 212h2v2h-2zM82 224h2v4h-2zM82 238h2v2h-2zM84 128h2v2h-2zM84 142h2v2h-2zM84 150h2v2h-2zM84 170h2v2h-2zM84 202h2v2h-2zM84 206h2v2h-2zM84 212h2v2h-2zM84 224h2v4h-2zM84 238h2v2h-2zM86 128h2v2h-2zM86 142h2v2h-2zM86 150h2v2h-2zM86 170h2v2h-2zM86 196h2v18h-2zM86 224h2v4h-2zM86 238h2v2h-2zM88 128h2v126h-2zM90 128h2v2h-2zM90 142h2v2h-2zM90 150h2v2h-2zM90 170h2v2h-2zM90 196h2v14h-2zM90 212h2v2h-2zM90 224h2v4h-2zM90 238h2v2h-2zM92 128h2v2h-2zM92 142h2v2h-2zM92 150h2v2h-2zM92 170h2v2h-2zM92 196h2v18h-2zM92 224h2v4h-2zM92 238h2v2h-2zM94 128h2v2h-2zM94 142h2v2h-2zM94 150h2v2h-2zM94 170h2v2h-2zM94 196h2v2h-2zM94 200h2v10h-2zM94 212h2v2h-2zM94 224h2v4h-2zM94 238h2v2h-2zM96 128h2v54h-2zM96 184h2v2h-2zM96 188h2v6h-2zM96 196h2v58h-2zM98 128h2v2h-2zM98 142h2v2h-2zM98 150h2v2h-2zM98 170h2v2h-2zM98 196h2v18h-2zM98 224h2v4h-2zM98 238h2v2h-2zM100 150h2v2h-2zM100 224h2v2h-2zM102 150h2v2h-2zM102 224h2v2h-2zM104 150h2v2h-2zM104 224h2v2h-2zM106 150h2v2h-2zM106 224h2v2h-2zM108 150h2v2h-2zM108 224h2v2h-2zM110 150h2v2h-2zM112 150h2v8h-2zM112 224h2v2h-2zM112 228h2v2h-2zM114 150h2v2h-2zM114 224h2v4h-2zM116 150h2v2h-2zM118 150h2v2h-2zM118 224h2v4h-2zM120 150h2v2h-2zM122 150h2v2h-2zM122 224h2v2h-2zM124 150h2v8h-2zM124 228h2v4h-2zM124 242h2v2h-2zM124 250h2v2h-2zM126 150h2v2h-2zM126 224h2v2h-2zM128 150h2v8h-2zM128 214h2v40h-2zM130 150h2v2h-2zM130 214h2v40h-2zM132 150h2v2h-2zM132 214h2v40h-2zM134 150h2v2h-2zM134 214h2v40h-2zM136 150h2v2h-2zM136 214h2v40h-2zM138 150h2v2h-2zM138 214h2v40h-2zM140 150h2v2h-2zM140 214h2v40h-2zM142 150h2v8h-2zM142 214h2v40h-2zM144 150h2v2h-2zM144 214h2v40h-2zM146 150h2v2h-2zM146 214h2v40h-2zM148 150h2v2h-2zM148 214h2v40h-2zM150 170h2v4h-2zM150 184h2v2h-2zM150 188h2v6h-2zM150 196h2v24h-2zM150 222h2v4h-2zM150 228h2v18h-2zM150 248h2v6h-2zM152 170h2v2h-2zM152 206h2v2h-2zM152 224h2v4h-2zM152 238h2v2h-2zM154 170h2v2h-2zM154 206h2v2h-2zM154 224h2v4h-2zM154 238h2v2h-2zM156 170h2v2h-2zM156 206h2v2h-2zM156 224h2v4h-2zM156 238h2v2h-2zM166 224h2v2h-2zM168 224h2v2h-2zM170 218h2v2h-2zM170 222h2v4h-2zM170 228h2v4h-2zM170 234h2v8h-2zM170 244h2v2h-2zM170 250h2v4h-2zM174 224h2v2h-2zM176 224h2v2h-2zM178 224h2v2h-2zM184 224h2v2h-2zM190 224h2v2h-2zM192 224h2v2h-2zM196 224h2v2h-2z"/>
<path fill="#fffbe2" stroke="#fffbe2" stroke-width="0.5" d="M0 42h2v18h-2zM0 130h2v12h-2zM0 144h2v6h-2zM0 152h2v10h-2zM0 206h2v2h-2zM0 214h2v10h-2zM0 228h2v10h-2zM0 240h2v6h-2zM0 248h2v6h-2zM2 196h2v14h-2zM2 212h2v2h-2zM4 42h2v18h-2zM4 130h2v12h-2zM4 144h2v6h-2zM4 152h2v6h-2zM4 206h2v2h-2zM4 214h2v10h-2zM4 228h2v10h-2zM4 240h2v14h-2zM6 42h2v18h-2zM6 130h2v12h-2zM6 144h2v6h-2zM6 152h2v8h-2zM6 162h2v2h-2zM6 206h2v2h-2zM6 214h2v10h-2zM6 228h2v10h-2zM6 240h2v6h-2zM6 248h2v6h-2zM8 40h2v20h-2zM8 68h2v2h-2zM8 76h2v2h-2zM8 130h2v12h-2zM8 144h2v6h-2zM8 152h2v18h-2zM8 172h2v2h-2zM8 176h2v2h-2zM8 216h2v4h-2zM8 222h2v2h-2zM8 228h2v4h-2zM8 234h2v12h-2zM8 250h2v4h-2zM10 42h2v18h-2zM10 68h2v2h-2zM10 76h2v2h-2zM10 130h2v12h-2zM10 144h2v6h-2zM10 152h2v12h-2zM10 166h2v2h-2zM10 214h2v10h-2zM10 228h2v4h-2zM10 234h2v4h-2zM10 240h2v6h-2zM10 248h2v6h-2zM12 42h2v6h-2zM12 216h2v4h-2zM12 222h2v2h-2zM12 228h2v10h-2zM12 240h2v6h-2zM12 250h2v4h-2zM14 42h2v4h-2zM14 216h2v2h-2zM14 222h2v2h-2zM14 228h2v10h-2zM14 244h2v2h-2zM14 250h2v4h-2zM16 220h2v2h-2zM16 232h2v2h-2zM16 236h2v4h-2zM16 246h2v4h-2zM18 40h2v2h-2zM18 44h2v2h-2zM18 48h2v8h-2zM18 58h2v2h-2zM18 226h2v2h-2zM18 238h2v2h-2zM20 40h2v4h-2zM20 50h2v4h-2zM20 58h2v2h-2zM20 226h2v4h-2zM20 238h2v2h-2zM20 242h2v2h-2zM20 250h2v2h-2zM22 42h2v6h-2zM22 52h2v2h-2zM22 216h2v2h-2zM22 222h2v2h-2zM22 228h2v4h-2zM22 234h2v4h-2zM22 240h2v6h-2zM22 250h2v4h-2zM24 40h2v2h-2zM24 60h2v2h-2zM24 64h2v14h-2zM24 214h2v10h-2zM24 228h2v10h-2zM24 240h2v14h-2zM26 60h2v2h-2zM26 64h2v14h-2zM26 214h2v10h-2zM26 228h2v10h-2zM26 240h2v14h-2zM28 40h2v2h-2zM28 60h2v2h-2zM28 64h2v14h-2zM28 214h2v10h-2zM28 228h2v10h-2zM28 240h2v14h-2zM30 40h2v2h-2zM30 60h2v2h-2zM30 64h2v14h-2zM30 214h2v10h-2zM30 228h2v10h-2zM30 240h2v14h-2zM32 40h2v2h-2zM32 60h2v2h-2zM32 64h2v14h-2zM32 214h2v10h-2zM32 228h2v10h-2zM32 240h2v14h-2zM34 60h2v2h-2zM34 64h2v14h-2zM34 214h2v10h-2zM34 228h2v10h-2zM34 240h2v14h-2zM36 40h2v2h-2zM36 60h2v2h-2zM36 64h2v14h-2zM36 214h2v10h-2zM36 228h2v10h-2zM36 240h2v14h-2zM38 60h2v2h-2zM38 64h2v14h-2zM38 214h2v10h-2zM38 228h2v10h-2zM38 240h2v14h-2zM40 44h2v2h-2zM40 48h2v12h-2zM40 78h2v10h-2zM40 90h2v8h-2zM40 128h2v2h-2zM40 132h2v18h-2zM40 158h2v50h-2zM40 210h2v8h-2zM40 220h2v2h-2zM40 226h2v2h-2zM40 232h2v2h-2zM40 236h2v4h-2zM40 246h2v4h-2zM42 92h2v2h-2zM42 96h2v4h-2zM42 110h2v2h-2zM42 120h2v2h-2zM42 130h2v2h-2zM42 140h2v6h-2zM42 184h2v2h-2zM42 192h2v2h-2zM42 196h2v2h-2zM42 208h2v2h-2zM42 212h2v8h-2zM42 222h2v2h-2zM42 228h2v4h-2zM42 242h2v4h-2zM42 248h2v6h-2zM44 86h2v2h-2zM44 90h2v4h-2zM44 96h2v4h-2zM44 130h2v2h-2zM44 134h2v2h-2zM44 138h2v4h-2zM44 144h2v2h-2zM44 188h2v2h-2zM44 192h2v2h-2zM44 196h2v8h-2zM44 208h2v16h-2zM44 228h2v10h-2zM44 240h2v14h-2zM46 86h2v2h-2zM46 96h2v4h-2zM46 106h2v2h-2zM46 110h2v2h-2zM46 116h2v2h-2zM46 128h2v4h-2zM46 138h2v2h-2zM46 142h2v4h-2zM46 148h2v2h-2zM46 192h2v2h-2zM46 196h2v2h-2zM46 206h2v2h-2zM46 212h2v2h-2zM46 216h2v2h-2zM46 222h2v2h-2zM46 228h2v12h-2zM46 242h2v4h-2zM46 248h2v6h-2zM48 60h2v2h-2zM48 64h2v12h-2zM48 78h2v2h-2zM48 90h2v4h-2zM48 96h2v4h-2zM48 150h2v2h-2zM48 158h2v2h-2zM48 206h2v2h-2zM48 214h2v10h-2zM48 228h2v10h-2zM48 240h2v14h-2zM50 60h2v2h-2zM50 64h2v14h-2zM50 80h2v2h-2zM50 86h2v2h-2zM50 92h2v2h-2zM50 98h2v2h-2zM50 150h2v4h-2zM50 158h2v2h-2zM50 206h2v2h-2zM50 214h2v10h-2zM50 228h2v10h-2zM50 240h2v14h-2zM52 60h2v2h-2zM52 64h2v14h-2zM52 86h2v2h-2zM52 90h2v4h-2zM52 96h2v2h-2zM52 150h2v2h-2zM52 158h2v4h-2zM52 206h2v2h-2zM52 214h2v10h-2zM52 228h2v10h-2zM52 240h2v14h-2zM54 60h2v2h-2zM54 64h2v16h-2zM54 86h2v2h-2zM54 90h2v6h-2zM54 98h2v2h-2zM54 150h2v2h-2zM54 154h2v2h-2zM54 206h2v2h-2zM54 214h2v10h-2zM54 228h2v10h-2zM54 240h2v14h-2zM56 60h2v2h-2zM56 64h2v24h-2zM56 90h2v6h-2zM56 98h2v2h-2zM56 152h2v4h-2zM56 190h2v4h-2zM56 206h2v2h-2zM56 214h2v10h-2zM56 228h2v10h-2zM56 240h2v14h-2zM58 60h2v2h-2zM58 64h2v16h-2zM58 86h2v2h-2zM58 92h2v8h-2zM58 150h2v2h-2zM58 206h2v2h-2zM58 214h2v10h-2zM58 228h2v10h-2zM58 240h2v14h-2zM60 62h2v2h-2zM60 78h2v10h-2zM60 90h2v6h-2zM60 98h2v14h-2zM60 114h2v10h-2zM60 126h2v2h-2zM60 130h2v12h-2zM60 144h2v8h-2zM60 158h2v12h-2zM60 172h2v8h-2zM60 214h2v10h-2zM60 228h2v10h-2zM60 240h2v6h-2zM60 248h2v6h-2zM62 64h2v4h-2zM62 70h2v6h-2zM62 150h2v8h-2zM62 214h2v2h-2zM62 220h2v2h-2zM62 246h2v2h-2zM64 78h2v10h-2zM64 90h2v6h-2zM64 98h2v14h-2zM64 114h2v10h-2zM64 126h2v2h-2zM64 130h2v12h-2zM64 144h2v8h-2zM64 158h2v12h-2zM64 172h2v8h-2zM64 216h2v4h-2zM64 222h2v2h-2zM64 228h2v10h-2zM64 240h2v14h-2zM66 78h2v10h-2zM66 90h2v6h-2zM66 98h2v14h-2zM66 114h2v10h-2zM66 126h2v2h-2zM66 130h2v12h-2zM66 144h2v8h-2zM66 158h2v12h-2zM66 172h2v8h-2zM66 214h2v6h-2zM66 222h2v2h-2zM66 228h2v10h-2zM66 240h2v14h-2zM68 78h2v10h-2zM68 90h2v6h-2zM68 98h2v14h-2zM68 114h2v10h-2zM68 126h2v2h-2zM68 130h2v12h-2zM68 144h2v8h-2zM68 158h2v12h-2zM68 172h2v8h-2zM68 216h2v2h-2zM68 222h2v2h-2zM68 226h2v4h-2zM68 234h2v2h-2zM68 238h2v2h-2zM68 250h2v4h-2zM70 78h2v10h-2zM70 90h2v6h-2zM70 98h2v14h-2zM70 114h2v10h-2zM70 126h2v2h-2zM70 130h2v12h-2zM70 144h2v8h-2zM70 158h2v12h-2zM70 172h2v8h-2zM70 216h2v4h-2zM70 222h2v2h-2zM70 228h2v10h-2zM70 240h2v14h-2zM72 78h2v10h-2zM72 90h2v6h-2zM72 98h2v14h-2zM72 114h2v10h-2zM72 126h2v2h-2zM72 130h2v12h-2zM72 144h2v8h-2zM72 158h2v12h-2zM72 172h2v8h-2zM72 214h2v10h-2zM72 228h2v10h-2zM72 240h2v6h-2zM72 248h2v6h-2zM74 78h2v10h-2zM74 90h2v6h-2zM74 98h2v14h-2zM74 114h2v10h-2zM74 126h2v2h-2zM74 130h2v12h-2zM74 144h2v8h-2zM74 158h2v12h-2zM74 172h2v8h-2zM74 216h2v8h-2zM74 228h2v10h-2zM74 240h2v6h-2zM74 248h2v6h-2zM76 78h2v10h-2zM76 90h2v6h-2zM76 98h2v14h-2zM76 114h2v10h-2zM76 126h2v2h-2zM76 130h2v12h-2zM76 144h2v8h-2zM76 158h2v12h-2zM76 172h2v8h-2zM76 222h2v2h-2zM76 228h2v2h-2zM76 238h2v2h-2zM76 250h2v4h-2zM78 112h2v2h-2zM78 124h2v2h-2zM78 130h2v12h-2zM78 144h2v6h-2zM78 152h2v18h-2zM78 172h2v24h-2zM78 198h2v2h-2zM78 210h2v2h-2zM78 214h2v10h-2zM78 228h2v10h-2zM78 240h2v14h-2zM80 130h2v12h-2zM80 144h2v6h-2zM80 152h2v18h-2zM80 172h2v8h-2zM80 184h2v2h-2zM80 188h2v6h-2zM80 198h2v4h-2zM80 204h2v2h-2zM80 210h2v2h-2zM80 214h2v10h-2zM80 228h2v10h-2zM80 240h2v14h-2zM82 130h2v12h-2zM82 144h2v6h-2zM82 152h2v18h-2zM82 172h2v8h-2zM82 184h2v2h-2zM82 190h2v2h-2zM82 198h2v4h-2zM82 204h2v2h-2zM82 208h2v4h-2zM82 214h2v10h-2zM82 228h2v10h-2zM82 240h2v6h-2zM82 248h2v6h-2zM84 130h2v12h-2zM84 144h2v6h-2zM84 152h2v18h-2zM84 172h2v8h-2zM84 190h2v4h-2zM84 196h2v6h-2zM84 204h2v2h-2zM84 208h2v4h-2zM84 214h2v6h-2zM84 222h2v2h-2zM84 228h2v10h-2zM84 240h2v6h-2zM84 248h2v6h-2zM86 112h2v2h-2zM86 124h2v2h-2zM86 130h2v12h-2zM86 144h2v6h-2zM86 152h2v18h-2zM86 172h2v22h-2zM86 214h2v10h-2zM86 228h2v10h-2zM86 240h2v14h-2zM88 100h2v20h-2zM88 122h2v6h-2zM90 112h2v2h-2zM90 124h2v2h-2zM90 130h2v12h-2zM90 144h2v6h-2zM90 152h2v18h-2zM90 172h2v14h-2zM90 188h2v6h-2zM90 210h2v2h-2zM90 214h2v10h-2zM90 228h2v10h-2zM90 240h2v14h-2zM92 112h2v2h-2zM92 124h2v2h-2zM92 130h2v12h-2zM92 144h2v6h-2zM92 152h2v18h-2zM92 172h2v10h-2zM92 184h2v12h-2zM92 214h2v10h-2zM92 228h2v10h-2zM92 240h2v14h-2zM94 130h2v12h-2zM94 144h2v6h-2zM94 152h2v18h-2zM94 172h2v8h-2zM94 184h2v2h-2zM94 188h2v2h-2zM94 192h2v2h-2zM94 198h2v2h-2zM94 210h2v2h-2zM94 214h2v10h-2zM94 228h2v10h-2zM94 240h2v14h-2zM96 100h2v2h-2zM96 104h2v2h-2zM96 182h2v2h-2zM96 186h2v2h-2zM96 194h2v2h-2zM98 112h2v2h-2zM98 124h2v2h-2zM98 130h2v12h-2zM98 144h2v6h-2zM98 152h2v18h-2zM98 172h2v24h-2zM98 214h2v10h-2zM98 228h2v10h-2zM98 240h2v14h-2zM100 152h2v6h-2zM100 222h2v2h-2zM100 226h2v2h-2zM100 238h2v2h-2zM100 242h2v4h-2zM100 250h2v2h-2zM102 152h2v6h-2zM102 222h2v2h-2zM102 226h2v6h-2zM102 238h2v2h-2zM102 252h2v2h-2zM104 152h2v6h-2zM104 226h2v6h-2zM104 238h2v2h-2zM104 250h2v2h-2zM106 152h2v4h-2zM106 226h2v2h-2zM106 238h2v2h-2zM108 152h2v6h-2zM108 226h2v2h-2zM108 238h2v2h-2zM108 244h2v2h-2zM108 250h2v2h-2zM110 152h2v4h-2zM110 224h2v4h-2zM110 238h2v2h-2zM112 214h2v10h-2zM112 226h2v2h-2zM112 230h2v24h-2zM114 152h2v6h-2zM114 222h2v2h-2zM114 228h2v4h-2zM114 238h2v2h-2zM114 242h2v4h-2zM114 252h2v2h-2zM116 152h2v6h-2zM116 224h2v4h-2zM116 238h2v2h-2zM118 152h2v6h-2zM118 222h2v2h-2zM118 238h2v2h-2zM120 152h2v6h-2zM120 224h2v4h-2zM120 238h2v2h-2zM122 152h2v6h-2zM122 226h2v2h-2zM122 238h2v2h-2zM124 214h2v14h-2zM124 232h2v10h-2zM124 244h2v6h-2zM124 252h2v2h-2zM126 152h2v6h-2zM126 226h2v2h-2zM126 238h2v2h-2zM130 152h2v6h-2zM132 152h2v6h-2zM134 152h2v6h-2zM136 152h2v6h-2zM138 152h2v6h-2zM140 152h2v6h-2zM144 152h2v6h-2zM146 152h2v6h-2zM148 152h2v6h-2zM150 152h2v2h-2zM150 158h2v12h-2zM150 174h2v10h-2zM150 186h2v2h-2zM150 194h2v2h-2zM150 220h2v2h-2zM150 226h2v2h-2zM150 246h2v2h-2zM152 164h2v2h-2zM152 176h2v30h-2zM152 208h2v12h-2zM152 222h2v2h-2zM152 228h2v10h-2zM152 240h2v14h-2zM154 160h2v2h-2zM154 164h2v4h-2zM154 174h2v12h-2zM154 188h2v6h-2zM154 196h2v10h-2zM154 208h2v16h-2zM154 228h2v10h-2zM154 240h2v14h-2zM156 190h2v4h-2zM156 196h2v10h-2zM156 208h2v8h-2zM156 222h2v2h-2zM156 228h2v10h-2zM156 240h2v6h-2zM156 250h2v4h-2zM158 224h2v4h-2zM158 238h2v2h-2zM160 224h2v4h-2zM160 238h2v2h-2zM162 224h2v4h-2zM162 238h2v2h-2zM164 224h2v4h-2zM164 238h2v2h-2zM166 226h2v2h-2zM166 238h2v2h-2zM168 226h2v2h-2zM168 238h2v2h-2zM170 214h2v4h-2zM170 220h2v2h-2zM170 226h2v2h-2zM170 232h2v2h-2zM170 242h2v2h-2zM170 246h2v4h-2zM172 224h2v4h-2zM172 238h2v2h-2zM174 226h2v2h-2zM174 238h2v2h-2zM174 250h2v2h-2zM176 226h2v2h-2zM176 238h2v2h-2zM178 222h2v2h-2zM178 226h2v4h-2zM178 238h2v2h-2zM178 250h2v2h-2zM180 224h2v4h-2zM180 238h2v2h-2zM182 224h2v4h-2zM182 238h2v2h-2zM184 226h2v4h-2zM184 238h2v2h-2zM186 224h2v4h-2zM186 238h2v2h-2zM188 224h2v4h-2zM188 238h2v2h-2zM190 226h2v4h-2zM190 238h2v2h-2zM192 222h2v2h-2zM192 226h2v6h-2zM192 238h2v2h-2zM192 242h2v4h-2zM192 250h2v4h-2zM194 224h2v4h-2zM194 238h2v2h-2zM196 226h2v4h-2zM196 238h2v2h-2zM198 224h2v4h-2zM198 238h2v2h-2zM200 224h2v4h-2zM200 238h2v2h-2zM202 224h2v4h-2zM202 238h2v2h-2zM204 224h2v4h-2zM204 238h2v2h-2zM206 214h2v40h-2zM208 222h2v6h-2zM208 238h2v2h-2zM210 224h2v4h-2zM210 238h2v2h-2zM212 224h2v4h-2zM212 238h2v2h-2zM214 224h2v4h-2zM214 238h2v2h-2zM216 224h2v4h-2zM216 238h2v2h-2zM218 224h2v4h-2zM218 238h2v2h-2zM220 224h2v4h-2zM220 238h2v2h-2zM222 224h2v4h-2zM222 238h2v2h-2zM224 226h2v28h-2zM226 228h2v26h-2zM228 238h2v2h-2zM230 238h2v2h-2zM232 238h2v2h-2zM234 238h2v2h-2zM236 238h2v2h-2zM238 240h2v14h-2z"/>
<path fill="#fffada" stroke="#fffada" stroke-width="0.5" d="M0 88h2v2h-2zM0 96h2v2h-2zM0 112h2v2h-2zM0 124h2v2h-2zM0 246h2v2h-2zM2 78h2v2h-2zM2 84h2v10h-2zM2 98h2v8h-2zM2 108h2v8h-2zM2 118h2v10h-2zM2 210h2v2h-2zM4 88h2v2h-2zM4 96h2v2h-2zM4 112h2v2h-2zM4 124h2v2h-2zM6 88h2v2h-2zM6 96h2v2h-2zM6 112h2v2h-2zM6 124h2v2h-2zM6 246h2v2h-2zM8 88h2v2h-2zM8 96h2v2h-2zM8 112h2v2h-2zM8 124h2v2h-2zM8 206h2v2h-2zM8 214h2v2h-2zM8 220h2v2h-2zM8 232h2v2h-2zM8 246h2v4h-2zM10 88h2v2h-2zM10 96h2v2h-2zM10 112h2v2h-2zM10 124h2v2h-2zM10 206h2v2h-2zM10 232h2v2h-2zM10 246h2v2h-2zM12 16h2v2h-2zM12 112h2v2h-2zM12 124h2v2h-2zM12 128h2v2h-2zM12 142h2v2h-2zM12 150h2v2h-2zM12 170h2v2h-2zM12 214h2v2h-2zM12 220h2v2h-2zM12 246h2v4h-2zM14 46h2v2h-2zM14 112h2v2h-2zM14 124h2v2h-2zM14 128h2v2h-2zM14 150h2v2h-2zM14 170h2v2h-2zM14 214h2v2h-2zM14 218h2v4h-2zM14 240h2v4h-2zM14 246h2v4h-2zM16 24h2v2h-2zM16 28h2v6h-2zM16 36h2v2h-2zM16 100h2v6h-2zM16 108h2v2h-2zM16 114h2v8h-2zM16 126h2v2h-2zM16 130h2v6h-2zM16 138h2v4h-2zM16 144h2v2h-2zM16 152h2v4h-2zM16 166h2v8h-2zM16 176h2v4h-2zM16 184h2v14h-2zM16 212h2v2h-2zM18 42h2v2h-2zM18 46h2v2h-2zM18 170h2v2h-2zM18 214h2v10h-2zM18 228h2v10h-2zM18 240h2v14h-2zM20 44h2v4h-2zM20 112h2v2h-2zM20 170h2v2h-2zM20 214h2v10h-2zM20 230h2v8h-2zM20 240h2v2h-2zM20 244h2v6h-2zM20 252h2v2h-2zM22 112h2v2h-2zM22 124h2v2h-2zM22 128h2v2h-2zM22 142h2v2h-2zM22 170h2v2h-2zM22 214h2v2h-2zM22 218h2v4h-2zM22 232h2v2h-2zM22 246h2v4h-2zM24 112h2v2h-2zM24 124h2v2h-2zM24 128h2v2h-2zM24 142h2v2h-2zM24 150h2v2h-2zM24 170h2v2h-2zM24 206h2v2h-2zM26 40h2v2h-2zM26 124h2v2h-2zM26 170h2v2h-2zM28 112h2v2h-2zM28 124h2v2h-2zM28 128h2v2h-2zM28 142h2v2h-2zM28 170h2v2h-2zM28 206h2v2h-2zM30 112h2v2h-2zM30 124h2v2h-2zM30 128h2v2h-2zM30 142h2v2h-2zM30 150h2v2h-2zM30 170h2v2h-2zM32 112h2v2h-2zM32 128h2v2h-2zM32 170h2v2h-2zM34 40h2v2h-2zM34 170h2v2h-2zM36 112h2v2h-2zM36 170h2v2h-2zM38 40h2v2h-2zM40 42h2v2h-2zM40 46h2v2h-2zM42 78h2v10h-2zM42 90h2v2h-2zM42 94h2v2h-2zM42 132h2v8h-2zM42 146h2v4h-2zM42 158h2v12h-2zM42 172h2v12h-2zM42 186h2v6h-2zM42 194h2v2h-2zM42 198h2v8h-2zM42 210h2v2h-2zM42 220h2v2h-2zM42 232h2v6h-2zM42 240h2v2h-2zM42 246h2v2h-2zM44 78h2v8h-2zM44 94h2v2h-2zM44 132h2v2h-2zM44 136h2v2h-2zM44 146h2v4h-2zM44 158h2v12h-2zM44 172h2v16h-2zM44 190h2v2h-2zM44 194h2v2h-2zM44 204h2v2h-2zM46 78h2v8h-2zM46 90h2v6h-2zM46 132h2v6h-2zM46 140h2v2h-2zM46 146h2v2h-2zM46 158h2v12h-2zM46 172h2v20h-2zM46 194h2v2h-2zM46 198h2v8h-2zM46 208h2v4h-2zM46 214h2v2h-2zM46 218h2v4h-2zM46 240h2v2h-2zM46 246h2v2h-2zM48 76h2v2h-2zM48 80h2v8h-2zM48 94h2v2h-2zM48 112h2v2h-2zM48 124h2v2h-2zM48 128h2v2h-2zM48 142h2v2h-2zM48 152h2v6h-2zM48 180h2v26h-2zM48 208h2v6h-2zM50 78h2v2h-2zM50 82h2v4h-2zM50 90h2v2h-2zM50 94h2v2h-2zM50 112h2v2h-2zM50 124h2v2h-2zM50 128h2v2h-2zM50 142h2v2h-2zM50 154h2v4h-2zM50 180h2v26h-2zM50 208h2v6h-2zM52 78h2v8h-2zM52 94h2v2h-2zM52 98h2v2h-2zM52 128h2v2h-2zM52 142h2v2h-2zM52 152h2v6h-2zM52 180h2v26h-2zM52 208h2v6h-2zM54 80h2v6h-2zM54 112h2v2h-2zM54 124h2v2h-2zM54 128h2v2h-2zM54 142h2v2h-2zM54 152h2v2h-2zM54 156h2v2h-2zM54 180h2v26h-2zM54 208h2v6h-2zM56 112h2v2h-2zM56 124h2v2h-2zM56 128h2v2h-2zM56 142h2v2h-2zM56 156h2v2h-2zM56 180h2v10h-2zM56 194h2v12h-2zM56 208h2v6h-2zM58 80h2v6h-2zM58 90h2v2h-2zM58 112h2v2h-2zM58 124h2v2h-2zM58 128h2v2h-2zM58 142h2v2h-2zM58 152h2v6h-2zM58 180h2v26h-2zM58 208h2v6h-2zM60 152h2v6h-2zM60 246h2v2h-2zM62 68h2v2h-2zM62 76h2v2h-2zM64 152h2v6h-2zM64 214h2v2h-2zM64 220h2v2h-2zM66 152h2v6h-2zM66 220h2v2h-2zM68 152h2v6h-2zM68 214h2v2h-2zM68 218h2v4h-2zM68 230h2v4h-2zM68 236h2v2h-2zM68 240h2v10h-2zM70 152h2v6h-2zM70 214h2v2h-2zM70 220h2v2h-2zM72 152h2v6h-2zM72 246h2v2h-2zM74 152h2v6h-2zM74 214h2v2h-2zM74 246h2v2h-2zM76 152h2v6h-2zM76 214h2v8h-2zM76 230h2v8h-2zM76 240h2v10h-2zM78 88h2v2h-2zM78 96h2v2h-2zM80 88h2v2h-2zM80 96h2v2h-2zM80 112h2v2h-2zM80 124h2v2h-2zM80 180h2v4h-2zM80 186h2v2h-2zM80 194h2v2h-2zM82 88h2v2h-2zM82 96h2v2h-2zM82 112h2v2h-2zM82 124h2v2h-2zM82 180h2v4h-2zM82 186h2v4h-2zM82 192h2v4h-2zM82 246h2v2h-2zM84 88h2v2h-2zM84 112h2v2h-2zM84 124h2v2h-2zM84 180h2v10h-2zM84 194h2v2h-2zM84 220h2v2h-2zM84 246h2v2h-2zM86 88h2v2h-2zM86 96h2v2h-2zM86 194h2v2h-2zM88 90h2v10h-2zM88 120h2v2h-2zM90 96h2v2h-2zM90 186h2v2h-2zM90 194h2v2h-2zM92 96h2v2h-2zM92 182h2v2h-2zM94 112h2v2h-2zM94 124h2v2h-2zM94 180h2v4h-2zM94 186h2v2h-2zM94 190h2v2h-2zM94 194h2v2h-2zM96 98h2v2h-2zM96 102h2v2h-2zM96 106h2v22h-2zM100 170h2v2h-2zM100 214h2v8h-2zM100 228h2v10h-2zM100 240h2v2h-2zM100 246h2v4h-2zM100 252h2v2h-2zM102 214h2v8h-2zM102 232h2v6h-2zM102 240h2v12h-2zM104 214h2v10h-2zM104 232h2v6h-2zM104 240h2v10h-2zM104 252h2v2h-2zM106 156h2v2h-2zM106 214h2v10h-2zM106 228h2v10h-2zM106 240h2v14h-2zM108 214h2v10h-2zM108 228h2v10h-2zM108 240h2v4h-2zM108 246h2v4h-2zM108 252h2v2h-2zM110 156h2v2h-2zM110 214h2v10h-2zM110 228h2v10h-2zM110 240h2v14h-2zM114 170h2v2h-2zM114 214h2v8h-2zM114 232h2v6h-2zM114 240h2v2h-2zM114 246h2v6h-2zM116 214h2v10h-2zM116 228h2v10h-2zM116 240h2v14h-2zM118 214h2v8h-2zM118 228h2v10h-2zM118 240h2v14h-2zM120 214h2v10h-2zM120 228h2v10h-2zM120 240h2v14h-2zM122 214h2v10h-2zM122 228h2v10h-2zM122 240h2v14h-2zM126 214h2v10h-2zM126 228h2v10h-2zM126 240h2v14h-2zM130 170h2v2h-2zM150 154h2v4h-2zM152 158h2v6h-2zM152 166h2v4h-2zM152 172h2v4h-2zM152 220h2v2h-2zM154 158h2v2h-2zM154 162h2v2h-2zM154 168h2v2h-2zM154 172h2v2h-2zM154 186h2v2h-2zM154 194h2v2h-2zM156 158h2v12h-2zM156 172h2v18h-2zM156 194h2v2h-2zM156 216h2v6h-2zM156 246h2v4h-2zM158 216h2v8h-2zM158 228h2v10h-2zM158 240h2v6h-2zM158 248h2v6h-2zM160 214h2v6h-2zM160 222h2v2h-2zM160 228h2v10h-2zM160 240h2v14h-2zM162 214h2v10h-2zM162 228h2v10h-2zM162 240h2v14h-2zM164 214h2v10h-2zM164 228h2v10h-2zM164 240h2v14h-2zM166 214h2v10h-2zM166 228h2v10h-2zM166 240h2v14h-2zM168 214h2v10h-2zM168 228h2v10h-2zM168 240h2v14h-2zM170 190h2v2h-2zM172 214h2v10h-2zM172 228h2v10h-2zM172 240h2v14h-2zM174 214h2v10h-2zM174 228h2v10h-2zM174 240h2v10h-2zM174 252h2v2h-2zM176 214h2v10h-2zM176 228h2v10h-2zM176 240h2v14h-2zM178 214h2v8h-2zM178 230h2v8h-2zM178 240h2v10h-2zM178 252h2v2h-2zM180 214h2v10h-2zM180 228h2v10h-2zM180 240h2v14h-2zM182 214h2v10h-2zM182 228h2v10h-2zM182 240h2v6h-2zM182 248h2v6h-2zM184 214h2v10h-2zM184 230h2v8h-2zM184 240h2v14h-2zM186 214h2v10h-2zM186 228h2v10h-2zM186 240h2v14h-2zM188 214h2v10h-2zM188 228h2v10h-2zM188 240h2v14h-2zM190 214h2v10h-2zM190 230h2v8h-2zM190 240h2v14h-2zM192 214h2v8h-2zM192 232h2v6h-2zM192 240h2v2h-2zM192 246h2v4h-2zM194 214h2v10h-2zM194 228h2v10h-2zM194 240h2v14h-2zM196 214h2v10h-2zM196 230h2v8h-2zM196 240h2v14h-2zM198 214h2v10h-2zM198 228h2v10h-2zM198 240h2v6h-2zM198 248h2v6h-2zM200 214h2v10h-2zM200 228h2v10h-2zM200 240h2v14h-2zM202 214h2v10h-2zM202 228h2v10h-2zM202 240h2v14h-2zM204 214h2v10h-2zM204 228h2v10h-2zM204 240h2v14h-2zM208 214h2v8h-2zM208 228h2v10h-2zM208 240h2v14h-2zM210 214h2v6h-2zM210 222h2v2h-2zM210 228h2v10h-2zM210 240h2v14h-2zM212 214h2v10h-2zM212 228h2v10h-2zM212 240h2v14h-2zM214 218h2v2h-2zM214 222h2v2h-2zM214 228h2v4h-2zM214 234h2v2h-2zM214 242h2v2h-2zM214 250h2v4h-2zM216 222h2v2h-2zM216 228h2v4h-2zM216 242h2v4h-2zM216 250h2v4h-2zM218 222h2v2h-2zM218 228h2v4h-2zM218 234h2v4h-2zM218 244h2v2h-2zM218 250h2v4h-2zM220 222h2v2h-2zM220 228h2v4h-2zM220 250h2v2h-2zM222 228h2v10h-2zM222 240h2v14h-2zM228 230h2v8h-2zM228 240h2v14h-2zM230 234h2v2h-2zM230 240h2v8h-2zM230 250h2v4h-2zM232 234h2v2h-2zM232 240h2v4h-2zM232 248h2v6h-2zM234 236h2v2h-2zM234 242h2v4h-2zM234 248h2v6h-2zM236 242h2v4h-2zM236 248h2v6h-2zM240 242h2v4h-2zM240 248h2v6h-2zM242 244h2v2h-2zM242 250h2v4h-2zM244 246h2v8h-2zM246 250h2v2h-2zM248 250h2v4h-2zM250 252h2v2h-2z"/>
<path fill="#fff4a7" stroke="#fff4a7" stroke-width="0.5" d="M0 90h2v2h-2zM0 94h2v2h-2zM0 116h2v2h-2zM0 120h2v2h-2zM2 8h2v2h-2zM4 12h2v2h-2zM4 80h2v4h-2zM6 78h2v6h-2zM6 90h2v2h-2zM6 110h2v2h-2zM6 116h2v2h-2zM6 120h2v4h-2zM8 86h2v2h-2zM8 90h2v4h-2zM8 98h2v2h-2zM8 102h2v4h-2zM8 108h2v2h-2zM8 118h2v2h-2zM8 122h2v2h-2zM8 126h2v2h-2zM10 78h2v2h-2zM10 86h2v2h-2zM10 90h2v6h-2zM10 98h2v2h-2zM10 102h2v4h-2zM10 118h2v4h-2zM12 24h2v6h-2zM12 34h2v2h-2zM12 102h2v2h-2zM12 110h2v2h-2zM12 114h2v4h-2zM12 122h2v2h-2zM12 126h2v2h-2zM12 136h2v4h-2zM12 146h2v4h-2zM12 152h2v2h-2zM12 166h2v2h-2zM12 172h2v4h-2zM12 184h2v2h-2zM12 196h2v2h-2zM12 200h2v2h-2zM12 208h2v2h-2zM14 24h2v2h-2zM14 28h2v6h-2zM14 36h2v2h-2zM14 100h2v2h-2zM14 108h2v2h-2zM14 116h2v4h-2zM14 134h2v2h-2zM14 138h2v2h-2zM14 144h2v2h-2zM14 152h2v4h-2zM14 168h2v2h-2zM14 172h2v4h-2zM14 184h2v2h-2zM14 188h2v6h-2zM14 196h2v2h-2zM14 208h2v2h-2zM18 102h2v2h-2zM18 114h2v2h-2zM20 28h2v2h-2zM20 102h2v2h-2zM20 118h2v2h-2zM20 144h2v2h-2zM20 190h2v4h-2zM22 24h2v2h-2zM22 28h2v6h-2zM22 36h2v2h-2zM22 102h2v4h-2zM22 118h2v2h-2zM22 132h2v2h-2zM22 138h2v4h-2zM22 144h2v2h-2zM22 152h2v4h-2zM22 166h2v2h-2zM22 172h2v2h-2zM22 180h2v2h-2zM22 184h2v4h-2zM22 192h2v2h-2zM22 196h2v2h-2zM24 102h2v2h-2zM24 108h2v2h-2zM24 114h2v2h-2zM24 118h2v6h-2zM24 126h2v2h-2zM24 134h2v2h-2zM24 140h2v2h-2zM24 148h2v2h-2zM24 152h2v4h-2zM24 166h2v4h-2zM24 174h2v2h-2zM24 178h2v2h-2zM24 184h2v2h-2zM24 196h2v2h-2zM26 100h2v2h-2zM26 114h2v2h-2zM28 56h2v2h-2zM28 106h2v2h-2zM28 110h2v2h-2zM28 120h2v4h-2zM28 138h2v4h-2zM28 144h2v2h-2zM28 148h2v2h-2zM28 154h2v2h-2zM28 164h2v2h-2zM28 174h2v2h-2zM28 180h2v2h-2zM28 184h2v6h-2zM28 196h2v2h-2zM28 208h2v2h-2zM30 100h2v2h-2zM30 104h2v2h-2zM30 108h2v2h-2zM30 122h2v2h-2zM30 126h2v2h-2zM30 134h2v2h-2zM30 140h2v2h-2zM30 144h2v2h-2zM30 154h2v2h-2zM30 174h2v2h-2zM30 178h2v2h-2zM30 184h2v10h-2zM30 196h2v2h-2zM30 208h2v2h-2zM32 100h2v4h-2zM32 118h2v2h-2zM32 130h2v2h-2zM32 192h2v2h-2zM36 100h2v4h-2zM36 108h2v2h-2zM36 114h2v2h-2zM36 118h2v2h-2zM36 126h2v2h-2zM36 130h2v2h-2zM36 138h2v2h-2zM36 144h2v2h-2zM48 104h2v8h-2zM48 126h2v2h-2zM48 136h2v2h-2zM48 146h2v4h-2zM50 102h2v2h-2zM50 110h2v2h-2zM50 116h2v2h-2zM50 120h2v2h-2zM50 132h2v2h-2zM50 146h2v4h-2zM52 100h2v4h-2zM52 108h2v2h-2zM52 114h2v2h-2zM52 118h2v2h-2zM52 134h2v2h-2zM52 138h2v2h-2zM52 148h2v2h-2zM54 102h2v4h-2zM54 108h2v2h-2zM54 116h2v2h-2zM54 120h2v4h-2zM54 126h2v2h-2zM54 146h2v2h-2zM56 106h2v2h-2zM56 110h2v2h-2zM56 116h2v2h-2zM56 120h2v2h-2zM58 104h2v2h-2zM58 114h2v4h-2zM58 120h2v4h-2zM58 132h2v2h-2zM58 146h2v4h-2zM78 90h2v2h-2zM78 94h2v2h-2zM80 92h2v2h-2zM82 86h2v2h-2zM82 92h2v4h-2zM82 98h2v2h-2zM84 86h2v2h-2zM84 92h2v2h-2zM84 98h2v2h-2zM90 94h2v2h-2zM90 98h2v2h-2zM92 94h2v2h-2zM94 106h2v2h-2zM102 124h2v2h-2zM104 112h2v2h-2zM104 124h2v2h-2zM106 128h2v2h-2zM106 142h2v2h-2zM108 112h2v2h-2zM110 142h2v2h-2zM112 118h2v2h-2zM112 124h2v2h-2zM112 128h2v2h-2zM112 132h2v2h-2zM112 142h2v2h-2zM112 146h2v2h-2zM114 124h2v2h-2zM116 128h2v2h-2zM118 124h2v2h-2zM120 142h2v2h-2zM122 128h2v2h-2zM122 142h2v2h-2zM124 126h2v2h-2zM124 132h2v2h-2zM124 142h2v2h-2zM124 146h2v2h-2zM126 128h2v2h-2zM128 132h2v4h-2zM128 138h2v4h-2zM128 144h2v2h-2zM138 142h2v2h-2zM140 142h2v2h-2zM142 144h2v2h-2zM142 148h2v2h-2z"/>
<path fill="#fff8c7" stroke="#fff8c7" stroke-width="0.5" d="M0 196h2v10h-2zM0 212h2v2h-2zM2 18h2v4h-2zM2 24h2v2h-2zM2 28h2v4h-2zM4 198h2v4h-2zM4 204h2v2h-2zM4 210h2v4h-2zM6 196h2v10h-2zM6 208h2v6h-2zM8 196h2v2h-2zM8 200h2v2h-2zM8 208h2v2h-2zM10 196h2v2h-2zM10 200h2v2h-2zM10 204h2v2h-2zM10 208h2v2h-2zM10 212h2v2h-2zM12 62h2v2h-2zM14 62h2v2h-2zM16 18h2v2h-2zM16 62h2v4h-2zM16 68h2v10h-2zM20 62h2v2h-2zM22 62h2v2h-2zM24 46h2v2h-2zM26 42h2v6h-2zM30 46h2v2h-2zM32 42h2v6h-2zM34 42h2v6h-2zM34 206h2v2h-2zM36 42h2v6h-2zM38 42h2v6h-2zM42 48h2v8h-2zM42 58h2v2h-2zM44 48h2v2h-2zM44 52h2v2h-2zM44 58h2v2h-2zM46 48h2v6h-2zM46 56h2v4h-2zM60 64h2v2h-2zM60 68h2v10h-2zM64 66h2v2h-2zM64 70h2v6h-2zM66 68h2v6h-2zM66 76h2v2h-2zM68 72h2v4h-2zM70 72h2v4h-2zM72 74h2v2h-2zM78 100h2v6h-2zM78 114h2v2h-2zM84 100h2v2h-2zM86 100h2v6h-2zM86 108h2v2h-2zM86 114h2v2h-2zM86 118h2v2h-2zM86 126h2v2h-2zM90 100h2v2h-2zM90 108h2v2h-2zM90 114h2v2h-2zM90 126h2v2h-2zM92 100h2v2h-2zM92 104h2v2h-2zM92 114h2v2h-2zM92 118h2v2h-2zM92 122h2v2h-2zM94 100h2v6h-2zM98 100h2v6h-2zM98 108h2v2h-2zM98 114h2v2h-2zM98 118h2v2h-2zM98 126h2v2h-2zM102 206h2v2h-2zM104 206h2v2h-2zM106 170h2v2h-2zM106 206h2v2h-2zM110 206h2v2h-2zM112 158h2v6h-2zM112 166h2v4h-2zM112 176h2v2h-2zM112 180h2v4h-2zM112 186h2v2h-2zM112 198h2v2h-2zM112 204h2v4h-2zM112 210h2v4h-2zM116 206h2v2h-2zM118 206h2v2h-2zM120 206h2v2h-2zM122 206h2v2h-2zM124 158h2v6h-2zM124 166h2v2h-2zM124 172h2v6h-2zM124 180h2v4h-2zM124 186h2v4h-2zM124 194h2v6h-2zM124 204h2v10h-2zM126 206h2v2h-2zM128 160h2v10h-2zM128 172h2v2h-2zM128 176h2v14h-2zM128 194h2v8h-2zM128 204h2v10h-2zM132 170h2v2h-2zM132 206h2v2h-2zM134 206h2v2h-2zM136 206h2v2h-2zM138 206h2v2h-2zM140 206h2v2h-2zM142 158h2v4h-2zM142 164h2v6h-2zM142 172h2v2h-2zM142 176h2v2h-2zM142 180h2v26h-2zM142 208h2v6h-2zM144 206h2v2h-2zM146 206h2v2h-2zM148 206h2v2h-2zM152 154h2v2h-2zM162 206h2v2h-2zM164 206h2v2h-2zM170 198h2v2h-2zM170 204h2v4h-2zM170 210h2v2h-2zM172 206h2v2h-2zM174 206h2v2h-2zM178 206h2v2h-2zM182 206h2v2h-2zM194 206h2v2h-2zM206 208h2v2h-2z"/>
<path fill="#fff6bc" stroke="#fff6bc" stroke-width="0.5" d="M0 210h2v2h-2zM2 4h2v2h-2zM2 26h2v2h-2zM2 32h2v8h-2zM4 90h2v4h-2zM4 98h2v8h-2zM4 114h2v2h-2zM4 118h2v2h-2zM6 100h2v4h-2zM6 118h2v2h-2zM8 198h2v2h-2zM8 202h2v4h-2zM8 212h2v2h-2zM10 198h2v2h-2zM10 202h2v2h-2zM10 210h2v2h-2zM18 62h2v2h-2zM28 100h2v2h-2zM42 44h2v4h-2zM44 46h2v2h-2zM48 130h2v2h-2zM50 134h2v2h-2zM50 138h2v2h-2zM54 130h2v2h-2zM54 138h2v2h-2zM54 144h2v2h-2zM56 100h2v2h-2zM56 114h2v2h-2zM56 118h2v2h-2zM56 126h2v2h-2zM56 130h2v2h-2zM56 134h2v8h-2zM56 144h2v2h-2zM56 148h2v2h-2zM58 130h2v2h-2zM58 144h2v2h-2zM64 68h2v2h-2zM64 76h2v2h-2zM68 70h2v2h-2zM68 76h2v2h-2zM70 76h2v2h-2zM72 76h2v2h-2zM74 76h2v2h-2zM78 108h2v2h-2zM78 116h2v4h-2zM78 122h2v2h-2zM78 126h2v2h-2zM80 100h2v6h-2zM80 108h2v2h-2zM80 114h2v6h-2zM80 122h2v2h-2zM80 126h2v2h-2zM82 100h2v6h-2zM82 114h2v2h-2zM82 118h2v6h-2zM84 102h2v4h-2zM84 108h2v2h-2zM84 114h2v2h-2zM84 118h2v2h-2zM86 98h2v2h-2zM86 106h2v2h-2zM86 110h2v2h-2zM86 116h2v2h-2zM86 120h2v4h-2zM90 102h2v4h-2zM90 110h2v2h-2zM90 116h2v8h-2zM92 102h2v2h-2zM92 106h2v6h-2zM92 116h2v2h-2zM92 120h2v2h-2zM92 126h2v2h-2zM94 108h2v4h-2zM94 114h2v2h-2zM94 118h2v6h-2zM94 126h2v2h-2zM98 106h2v2h-2zM98 110h2v2h-2zM98 116h2v2h-2zM98 120h2v4h-2zM104 142h2v2h-2zM112 138h2v2h-2zM118 128h2v2h-2zM124 130h2v2h-2zM124 144h2v2h-2zM128 158h2v2h-2zM142 162h2v2h-2zM142 206h2v2h-2zM152 156h2v2h-2zM154 156h2v2h-2zM158 206h2v2h-2zM160 206h2v2h-2zM162 170h2v2h-2zM164 170h2v2h-2zM166 170h2v2h-2zM166 206h2v2h-2zM168 206h2v2h-2zM170 172h2v8h-2zM176 206h2v2h-2zM196 206h2v2h-2zM198 206h2v2h-2zM200 206h2v2h-2zM202 206h2v2h-2zM204 206h2v2h-2zM206 210h2v4h-2z"/>
<path fill="#ffe253" stroke="#ffe253" stroke-width="0.5" d="M4 8h2v2h-2zM10 32h2v4h-2zM24 26h2v2h-2zM24 34h2v2h-2zM26 30h2v2h-2zM28 38h2v2h-2zM30 32h2v2h-2zM32 36h2v2h-2zM100 138h2v4h-2zM102 134h2v2h-2zM102 138h2v2h-2zM104 138h2v2h-2zM114 130h2v2h-2zM114 138h2v2h-2zM116 210h2v2h-2zM118 134h2v2h-2zM146 210h2v2h-2zM158 200h2v4h-2zM158 212h2v2h-2zM160 198h2v2h-2zM160 202h2v2h-2zM160 210h2v2h-2zM162 202h2v4h-2zM162 212h2v2h-2zM168 198h2v2h-2zM174 178h2v2h-2zM196 210h2v2h-2zM198 202h2v4h-2zM200 210h2v2h-2zM202 204h2v2h-2zM202 210h2v2h-2zM204 208h2v2h-2zM210 212h2v2h-2z"/>
<path fill="#f7bc5c" stroke="#f7bc5c" stroke-width="0.5" d="M6 8h2v2h-2zM26 32h2v2h-2zM36 38h2v2h-2zM48 54h2v2h-2zM52 54h2v2h-2zM100 102h2v4h-2zM100 116h2v2h-2zM100 122h2v2h-2zM100 126h2v2h-2zM100 146h2v2h-2zM102 108h2v2h-2zM102 126h2v2h-2zM102 136h2v2h-2zM104 108h2v2h-2zM104 114h2v2h-2zM104 118h2v2h-2zM104 132h2v2h-2zM104 146h2v4h-2zM106 134h2v2h-2zM108 114h2v2h-2zM108 138h2v2h-2zM114 118h2v4h-2zM114 136h2v2h-2zM116 130h2v2h-2zM118 136h2v2h-2zM122 134h2v2h-2zM122 148h2v2h-2zM126 132h2v4h-2zM130 138h2v4h-2zM130 146h2v2h-2zM136 144h2v2h-2zM138 140h2v2h-2zM140 144h2v2h-2zM144 148h2v2h-2zM160 178h2v2h-2zM162 164h2v2h-2zM162 168h2v2h-2zM166 172h2v2h-2zM166 176h2v2h-2zM172 178h2v2h-2z"/>
<path fill="#f4af59" stroke="#f4af59" stroke-width="0.5" d="M8 10h2v2h-2zM34 38h2v2h-2zM102 106h2v2h-2zM102 132h2v2h-2zM102 146h2v2h-2zM104 116h2v2h-2zM104 122h2v2h-2zM108 132h2v2h-2zM110 140h2v2h-2zM110 144h2v2h-2zM110 148h2v2h-2zM114 116h2v2h-2zM114 122h2v2h-2zM114 126h2v2h-2zM116 132h2v4h-2zM116 138h2v4h-2zM118 120h2v2h-2zM118 146h2v2h-2zM120 136h2v2h-2zM122 136h2v2h-2zM122 140h2v2h-2zM132 144h2v2h-2zM136 138h2v2h-2zM140 148h2v2h-2zM144 146h2v2h-2zM158 172h2v6h-2zM160 172h2v2h-2zM160 176h2v2h-2zM166 168h2v2h-2zM172 176h2v2h-2z"/>
<path fill="#fcd254" stroke="#fcd254" stroke-width="0.5" d="M8 32h2v2h-2zM18 76h2v2h-2zM26 36h2v2h-2zM30 38h2v2h-2zM34 36h2v2h-2zM56 58h2v2h-2zM100 118h2v2h-2zM100 132h2v2h-2zM102 118h2v2h-2zM102 144h2v2h-2zM104 144h2v2h-2zM106 144h2v2h-2zM108 144h2v2h-2zM114 132h2v4h-2zM114 148h2v2h-2zM118 138h2v2h-2zM120 144h2v2h-2zM122 130h2v2h-2zM126 138h2v2h-2zM130 148h2v2h-2zM134 144h2v2h-2zM176 178h2v2h-2z"/>
<path fill="#f5b55a" stroke="#f5b55a" stroke-width="0.5" d="M26 38h2v2h-2zM32 34h2v2h-2zM32 38h2v2h-2zM48 50h2v2h-2zM100 120h2v2h-2zM100 136h2v2h-2zM102 104h2v2h-2zM102 114h2v2h-2zM102 122h2v2h-2zM104 126h2v2h-2zM104 136h2v2h-2zM106 140h2v2h-2zM106 148h2v2h-2zM108 118h2v2h-2zM108 126h2v2h-2zM108 148h2v2h-2zM110 138h2v2h-2zM114 146h2v2h-2zM116 144h2v2h-2zM116 148h2v2h-2zM120 138h2v2h-2zM122 138h2v2h-2zM122 144h2v2h-2zM126 136h2v2h-2zM126 140h2v2h-2zM126 148h2v2h-2zM130 136h2v2h-2zM134 138h2v4h-2zM134 148h2v2h-2zM158 178h2v2h-2zM160 174h2v2h-2zM162 174h2v2h-2zM162 178h2v2h-2zM164 172h2v2h-2zM164 176h2v2h-2zM168 172h2v2h-2zM168 176h2v4h-2z"/>
<path fill="#f1a256" stroke="#f1a256" stroke-width="0.5" d="M48 52h2v2h-2zM102 116h2v2h-2zM102 120h2v2h-2zM104 106h2v2h-2zM104 120h2v2h-2zM106 146h2v2h-2zM110 118h2v2h-2zM116 118h2v2h-2zM116 136h2v2h-2zM120 132h2v2h-2zM120 146h2v2h-2zM132 134h2v2h-2zM132 138h2v2h-2zM158 160h2v2h-2zM158 164h2v2h-2zM160 166h2v4h-2z"/>
<path fill="#f2a857" stroke="#f2a857" stroke-width="0.5" d="M52 58h2v2h-2zM100 110h2v2h-2zM104 110h2v2h-2zM106 108h2v2h-2zM108 146h2v2h-2zM110 134h2v2h-2zM118 122h2v2h-2zM120 140h2v2h-2zM120 148h2v2h-2zM122 146h2v2h-2zM126 146h2v2h-2zM130 132h2v2h-2zM132 148h2v2h-2zM134 136h2v2h-2zM138 146h2v4h-2zM146 148h2v2h-2zM158 166h2v4h-2zM160 164h2v2h-2zM162 166h2v2h-2zM162 172h2v2h-2zM162 176h2v2h-2z"/>
<path fill="#f09a50" stroke="#f09a50" stroke-width="0.5" d="M100 106h2v2h-2zM106 118h2v2h-2zM106 132h2v2h-2zM106 136h2v2h-2zM110 114h2v2h-2zM110 132h2v2h-2zM110 146h2v2h-2zM116 146h2v2h-2zM132 140h2v2h-2zM160 162h2v2h-2z"/>
<path fill="#f0924b" stroke="#f0924b" stroke-width="0.5" d="M102 110h2v2h-2zM106 114h2v2h-2zM108 110h2v2h-2zM108 120h2v4h-2zM110 122h2v2h-2zM110 136h2v2h-2zM116 120h2v4h-2zM116 126h2v2h-2zM120 122h2v2h-2zM120 126h2v2h-2zM122 126h2v2h-2zM122 132h2v2h-2zM132 136h2v2h-2zM134 146h2v2h-2zM136 140h2v2h-2zM136 148h2v2h-2z"/>
<path fill="#ef8241" stroke="#ef8241" stroke-width="0.5" d="M106 110h2v2h-2zM106 126h2v2h-2zM110 126h2v2h-2zM136 146h2v2h-2z"/>
<path fill="#ee7a3c" stroke="#ee7a3c" stroke-width="0.5" d="M106 116h2v2h-2zM110 120h2v2h-2z"/>
<path fill="#ee7337" stroke="#ee7337" stroke-width="0.5" d="M106 120h2v2h-2z"/>
<path fill="#ef8a46" stroke="#ef8a46" stroke-width="0.5" d="M106 122h2v2h-2zM108 116h2v2h-2zM140 146h2v2h-2zM158 162h2v2h-2z"/>
<path fill="#ed6c34" stroke="#ed6c34" stroke-width="0.5" d="M110 116h2v2h-2zM132 146h2v2h-2z"/>
</g>
<path d="M362.8 27L362.8 152L371.7 169" fill="none" stroke="#e8453c" stroke-width="1.3" stroke-dasharray="3 2"/>
<path d="M432.4 27L432.4 152L491.6 170" fill="none" stroke="#e8453c" stroke-width="1.3" stroke-dasharray="3 2"/>
<rect x="423.5" y="305.3" width="5.9" height="10.7" fill="#fffdea"/>
<rect x="429.1" y="305.3" width="5.9" height="10.7" fill="#fff8c8"/>
<rect x="434.7" y="305.3" width="11.5" height="10.7" fill="#fff27a"/>
<rect x="445.9" y="305.3" width="17.1" height="10.7" fill="#fff200"/>
<rect x="462.7" y="305.3" width="11.5" height="10.7" fill="#f2cf1b"/>
<rect x="473.9" y="305.3" width="11.5" height="10.7" fill="#f7a123"/>
<rect x="485.1" y="305.3" width="11.5" height="10.7" fill="#f5841f"/>
<rect x="496.3" y="305.3" width="17.1" height="10.7" fill="#f26522"/>
<rect x="513.1" y="305.3" width="22.7" height="10.7" fill="#ef3b23"/>
<rect x="423.5" y="305.3" width="112" height="10.7" fill="none" stroke="#333" stroke-width="1"/>
<line x1="423.5" y1="316" x2="423.5" y2="320" stroke="#333" stroke-width="1"/>
<text x="423.5" y="334.5" font-size="11" text-anchor="middle" class="h">0</text>
<text x="423.5" y="334.5" font-size="11" text-anchor="middle" class="k">0</text>
<line x1="445.9" y1="316" x2="445.9" y2="320" stroke="#333" stroke-width="1"/>
<text x="445.9" y="334.5" font-size="11" text-anchor="middle" class="h">0.2</text>
<text x="445.9" y="334.5" font-size="11" text-anchor="middle" class="k">0.2</text>
<line x1="468.3" y1="316" x2="468.3" y2="320" stroke="#333" stroke-width="1"/>
<text x="468.3" y="334.5" font-size="11" text-anchor="middle" class="h">0.4</text>
<text x="468.3" y="334.5" font-size="11" text-anchor="middle" class="k">0.4</text>
<line x1="490.7" y1="316" x2="490.7" y2="320" stroke="#333" stroke-width="1"/>
<text x="490.7" y="334.5" font-size="11" text-anchor="middle" class="h">0.6</text>
<text x="490.7" y="334.5" font-size="11" text-anchor="middle" class="k">0.6</text>
<line x1="513.1" y1="316" x2="513.1" y2="320" stroke="#333" stroke-width="1"/>
<text x="513.1" y="334.5" font-size="11" text-anchor="middle" class="h">0.8</text>
<text x="513.1" y="334.5" font-size="11" text-anchor="middle" class="k">0.8</text>
<line x1="535.5" y1="316" x2="535.5" y2="320" stroke="#333" stroke-width="1"/>
<text x="535.5" y="334.5" font-size="11" text-anchor="middle" class="h">1.0</text>
<text x="535.5" y="334.5" font-size="11" text-anchor="middle" class="k">1.0</text>
<text x="476" y="300" font-size="11" font-style="italic">r<tspan font-size="8" dy="-4" font-style="normal">2</tspan></text>
<rect x="622" y="44.4" width="185.3" height="86.5" fill="#fff"/>
<text x="562.8" y="19.3" font-size="23" class="h">c</text>
<text x="562.8" y="19.3" font-size="23" class="k">c</text>
<text x="646" y="25.5" font-size="11" text-anchor="middle" class="h">ATG</text>
<text x="646" y="25.5" font-size="11" text-anchor="middle" class="k">ATG</text>
<text x="646" y="38.5" font-size="11" text-anchor="middle" class="h">(1 bp)</text>
<text x="646" y="38.5" font-size="11" text-anchor="middle" class="k">(1 bp)</text>
<text x="773" y="25.5" font-size="11" text-anchor="middle" class="h">TGA</text>
<text x="773" y="25.5" font-size="11" text-anchor="middle" class="k">TGA</text>
<text x="773" y="38.5" font-size="11" text-anchor="middle" class="h">(363 bp)</text>
<text x="773" y="38.5" font-size="11" text-anchor="middle" class="k">(363 bp)</text>
<line x1="622" y1="51.4" x2="800" y2="51.4" stroke="#000" stroke-width="1.2"/>
<path d="M798 48L806 51.4L798 54.8Z" fill="#000"/>
<rect x="646.3" y="45" width="136" height="11.6" fill="#000"/>
<line x1="714" y1="56.6" x2="714" y2="85" stroke="#000" stroke-width="1.3"/>
<text x="722.6" y="78.5" font-size="11">184 bp</text>
<text x="643.5" y="99" font-size="11.4" text-anchor="end" font-style="italic" class="h">GhLYI-D08<tspan font-style="normal" font-size="8" dy="-5" style="stroke:none">LLB</tspan></text>
<text x="643.5" y="99" font-size="11.4" text-anchor="end" font-style="italic" class="k">GhLYI-D08<tspan font-style="normal" font-size="8" dy="-5" style="stroke:none">LLB</tspan></text>
<text x="643.5" y="126.5" font-size="11.4" text-anchor="end" font-style="italic" class="h">GhLYI-D08<tspan font-style="normal" font-size="8" dy="-5" style="stroke:none">HLB</tspan></text>
<text x="643.5" y="126.5" font-size="11.4" text-anchor="end" font-style="italic" class="k">GhLYI-D08<tspan font-style="normal" font-size="8" dy="-5" style="stroke:none">HLB</tspan></text>
<text x="649.4" y="100.8" font-size="10.3" textLength="127.8" lengthAdjust="spacingAndGlyphs">TAAAGAGCAGAATAAGTGCAA</text>
<text x="649.4" y="128.7" font-size="10.3" textLength="127.8" lengthAdjust="spacingAndGlyphs">TAAAGAGCAGCATAAGTGCAA</text>
<line x1="710.55" y1="102.2" x2="727.54" y2="102.2" stroke="#000" stroke-width="0.9"/>
<line x1="710.55" y1="130" x2="727.54" y2="130" stroke="#000" stroke-width="0.9"/>
<text x="718" y="114.5" font-size="11" text-anchor="middle">(Asn)</text>
<text x="718" y="142" font-size="11" text-anchor="middle" class="h">(His)</text>
<text x="718" y="142" font-size="11" text-anchor="middle" class="k">(His)</text>
<rect x="604.5" y="205.5" width="220.5" height="108.3" fill="#fff"/>
<text x="563.1" y="182.3" font-size="23" class="h">d</text>
<text x="563.1" y="182.3" font-size="23" class="k">d</text>
<line x1="603.6" y1="187.5" x2="603.6" y2="313.7" stroke="#333" stroke-width="1.2"/>
<line x1="603.6" y1="313.7" x2="828" y2="313.7" stroke="#333" stroke-width="1.2"/>
<line x1="600" y1="313.7" x2="603.6" y2="313.7" stroke="#333" stroke-width="1"/>
<text x="596.5" y="317.7" font-size="11" text-anchor="end" class="h">0</text>
<text x="596.5" y="317.7" font-size="11" text-anchor="end" class="k">0</text>
<line x1="600" y1="295.73" x2="603.6" y2="295.73" stroke="#333" stroke-width="1"/>
<text x="596.5" y="299.73" font-size="11" text-anchor="end" class="h">10</text>
<text x="596.5" y="299.73" font-size="11" text-anchor="end" class="k">10</text>
<line x1="600" y1="277.76" x2="603.6" y2="277.76" stroke="#333" stroke-width="1"/>
<text x="596.5" y="281.76" font-size="11" text-anchor="end" class="h">20</text>
<text x="596.5" y="281.76" font-size="11" text-anchor="end" class="k">20</text>
<line x1="600" y1="259.79" x2="603.6" y2="259.79" stroke="#333" stroke-width="1"/>
<text x="596.5" y="263.79" font-size="11" text-anchor="end" class="h">30</text>
<text x="596.5" y="263.79" font-size="11" text-anchor="end" class="k">30</text>
<line x1="600" y1="241.82" x2="603.6" y2="241.82" stroke="#333" stroke-width="1"/>
<text x="596.5" y="245.82" font-size="11" text-anchor="end" class="h">40</text>
<text x="596.5" y="245.82" font-size="11" text-anchor="end" class="k">40</text>
<line x1="600" y1="223.85" x2="603.6" y2="223.85" stroke="#333" stroke-width="1"/>
<text x="596.5" y="227.85" font-size="11" text-anchor="end" class="h">50</text>
<text x="596.5" y="227.85" font-size="11" text-anchor="end" class="k">50</text>
<line x1="600" y1="205.88" x2="603.6" y2="205.88" stroke="#333" stroke-width="1"/>
<text x="596.5" y="209.88" font-size="11" text-anchor="end" class="h">60</text>
<text x="596.5" y="209.88" font-size="11" text-anchor="end" class="k">60</text>
<line x1="600" y1="187.91" x2="603.6" y2="187.91" stroke="#333" stroke-width="1"/>
<text x="596.5" y="191.91" font-size="11" text-anchor="end" class="h">70</text>
<text x="596.5" y="191.91" font-size="11" text-anchor="end" class="k">70</text>
<rect x="606.3" y="268.95" width="4.6" height="44.75" fill="#5b9bd5"/>
<text x="608.6" y="328" font-size="11" text-anchor="middle" class="h">R</text>
<text x="608.6" y="328" font-size="11" text-anchor="middle" class="k">R</text>
<line x1="615.3" y1="310.2" x2="615.3" y2="313.7" stroke="#333" stroke-width="1"/>
<rect x="619.62" y="228.16" width="4.6" height="85.54" fill="#5b9bd5"/>
<text x="621.92" y="328" font-size="11" text-anchor="middle" class="h">S</text>
<text x="621.92" y="328" font-size="11" text-anchor="middle" class="k">S</text>
<line x1="628.62" y1="310.2" x2="628.62" y2="313.7" stroke="#333" stroke-width="1"/>
<rect x="632.94" y="236.97" width="4.6" height="76.73" fill="#5b9bd5"/>
<text x="635.24" y="328" font-size="11" text-anchor="middle" class="h">L</text>
<text x="635.24" y="328" font-size="11" text-anchor="middle" class="k">L</text>
<line x1="641.94" y1="310.2" x2="641.94" y2="313.7" stroke="#333" stroke-width="1"/>
<rect x="646.26" y="226.37" width="4.6" height="87.33" fill="#5b9bd5"/>
<text x="648.56" y="328" font-size="11" text-anchor="middle" class="h">−3</text>
<text x="648.56" y="328" font-size="11" text-anchor="middle" class="k">−3</text>
<line x1="655.26" y1="310.2" x2="655.26" y2="313.7" stroke="#333" stroke-width="1"/>
<rect x="659.58" y="215.04" width="4.6" height="98.66" fill="#5b9bd5"/>
<text x="661.88" y="328" font-size="11" text-anchor="middle" class="h">−1</text>
<text x="661.88" y="328" font-size="11" text-anchor="middle" class="k">−1</text>
<line x1="668.58" y1="310.2" x2="668.58" y2="313.7" stroke="#333" stroke-width="1"/>
<rect x="672.9" y="208.4" width="4.6" height="105.3" fill="#5b9bd5"/>
<text x="675.2" y="328" font-size="11" text-anchor="middle" class="h">0</text>
<text x="675.2" y="328" font-size="11" text-anchor="middle" class="k">0</text>
<line x1="681.9" y1="310.2" x2="681.9" y2="313.7" stroke="#333" stroke-width="1"/>
<rect x="686.22" y="207.32" width="4.6" height="106.38" fill="#5b9bd5"/>
<text x="688.52" y="328" font-size="11" text-anchor="middle" class="h">1</text>
<text x="688.52" y="328" font-size="11" text-anchor="middle" class="k">1</text>
<line x1="695.22" y1="310.2" x2="695.22" y2="313.7" stroke="#333" stroke-width="1"/>
<rect x="699.54" y="254.94" width="4.6" height="58.76" fill="#5b9bd5"/>
<text x="701.84" y="328" font-size="11" text-anchor="middle" class="h">3</text>
<text x="701.84" y="328" font-size="11" text-anchor="middle" class="k">3</text>
<line x1="708.54" y1="310.2" x2="708.54" y2="313.7" stroke="#333" stroke-width="1"/>
<rect x="712.86" y="260.51" width="4.6" height="53.19" fill="#5b9bd5"/>
<text x="715.16" y="328" font-size="11" text-anchor="middle" class="h">5</text>
<text x="715.16" y="328" font-size="11" text-anchor="middle" class="k">5</text>
<line x1="721.86" y1="310.2" x2="721.86" y2="313.7" stroke="#333" stroke-width="1"/>
<rect x="726.18" y="241.82" width="4.6" height="71.88" fill="#5b9bd5"/>
<text x="728.48" y="328" font-size="11" text-anchor="middle" class="h">10</text>
<text x="728.48" y="328" font-size="11" text-anchor="middle" class="k">10</text>
<line x1="735.18" y1="310.2" x2="735.18" y2="313.7" stroke="#333" stroke-width="1"/>
<rect x="739.5" y="246.31" width="4.6" height="67.39" fill="#5b9bd5"/>
<text x="741.8" y="328" font-size="11" text-anchor="middle" class="h">20</text>
<text x="741.8" y="328" font-size="11" text-anchor="middle" class="k">20</text>
<line x1="748.5" y1="310.2" x2="748.5" y2="313.7" stroke="#333" stroke-width="1"/>
<rect x="752.82" y="270.57" width="4.6" height="43.13" fill="#5b9bd5"/>
<text x="755.12" y="328" font-size="11" text-anchor="middle" class="h">25</text>
<text x="755.12" y="328" font-size="11" text-anchor="middle" class="k">25</text>
<line x1="761.82" y1="310.2" x2="761.82" y2="313.7" stroke="#333" stroke-width="1"/>
<rect x="766.14" y="274.17" width="4.6" height="39.53" fill="#5b9bd5"/>
<text x="768.44" y="328" font-size="11" text-anchor="middle" class="h">35</text>
<text x="768.44" y="328" font-size="11" text-anchor="middle" class="k">35</text>
<line x1="775.14" y1="310.2" x2="775.14" y2="313.7" stroke="#333" stroke-width="1"/>
<rect x="779.46" y="268.77" width="4.6" height="44.92" fill="#5b9bd5"/>
<text x="781.76" y="328" font-size="11" text-anchor="middle" class="h">5</text>
<text x="781.76" y="328" font-size="11" text-anchor="middle" class="k">5</text>
<line x1="788.46" y1="310.2" x2="788.46" y2="313.7" stroke="#333" stroke-width="1"/>
<rect x="792.78" y="263.38" width="4.6" height="50.32" fill="#5b9bd5"/>
<text x="795.08" y="328" font-size="11" text-anchor="middle" class="h">10</text>
<text x="795.08" y="328" font-size="11" text-anchor="middle" class="k">10</text>
<line x1="801.78" y1="310.2" x2="801.78" y2="313.7" stroke="#333" stroke-width="1"/>
<rect x="806.1" y="261.59" width="4.6" height="52.11" fill="#5b9bd5"/>
<text x="808.4" y="328" font-size="11" text-anchor="middle" class="h">20</text>
<text x="808.4" y="328" font-size="11" text-anchor="middle" class="k">20</text>
<line x1="815.1" y1="310.2" x2="815.1" y2="313.7" stroke="#333" stroke-width="1"/>
<rect x="819.42" y="269.67" width="4.6" height="44.03" fill="#5b9bd5"/>
<text x="821.72" y="328" font-size="11" text-anchor="middle" class="h">25</text>
<text x="821.72" y="328" font-size="11" text-anchor="middle" class="k">25</text>
<line x1="828.42" y1="310.2" x2="828.42" y2="313.7" stroke="#333" stroke-width="1"/>
<text x="714.5" y="346" font-size="11.3" text-anchor="middle" class="h">Time (DPA)</text>
<text x="714.5" y="346" font-size="11.3" text-anchor="middle" class="k">Time (DPA)</text>
<text x="575" y="252" font-size="10.5" text-anchor="middle" class="h" transform="rotate(-90 575 252)">FPKM</text>
<text x="575" y="252" font-size="10.5" text-anchor="middle" class="k" transform="rotate(-90 575 252)">FPKM</text>
<text x="707.7" y="192.5" font-size="11" text-anchor="middle" class="h">Ovule</text>
<text x="707.7" y="192.5" font-size="11" text-anchor="middle" class="k">Ovule</text>
<line x1="644.5" y1="199.2" x2="770" y2="199.2" stroke="#444" stroke-width="1.2"/>
<text x="804" y="192.5" font-size="11" text-anchor="middle" class="h">Fiber</text>
<text x="804" y="192.5" font-size="11" text-anchor="middle" class="k">Fiber</text>
<line x1="781" y1="199.2" x2="831" y2="199.2" stroke="#bbb" stroke-width="1.2"/>
<path d="M777 199.2L783 196.5L783 201.9Z" fill="#bbb"/>
<text x="236.6" y="377" font-size="23" class="h">e</text>
<text x="236.6" y="377" font-size="23" class="k">e</text>
<line x1="283.5" y1="386" x2="283.5" y2="523.4" stroke="#333" stroke-width="1.2"/>
<line x1="283.5" y1="523.4" x2="474.4" y2="523.4" stroke="#333" stroke-width="1.2"/>
<line x1="283.5" y1="523.4" x2="289.5" y2="523.4" stroke="#333" stroke-width="1"/>
<text x="280.3" y="527.4" font-size="11.3" text-anchor="end" class="h">0</text>
<text x="280.3" y="527.4" font-size="11.3" text-anchor="end" class="k">0</text>
<line x1="283.5" y1="500.7" x2="289.5" y2="500.7" stroke="#333" stroke-width="1"/>
<text x="280.3" y="504.7" font-size="11.3" text-anchor="end" class="h">0.02</text>
<text x="280.3" y="504.7" font-size="11.3" text-anchor="end" class="k">0.02</text>
<line x1="283.5" y1="478" x2="289.5" y2="478" stroke="#333" stroke-width="1"/>
<text x="280.3" y="482" font-size="11.3" text-anchor="end" class="h">0.04</text>
<text x="280.3" y="482" font-size="11.3" text-anchor="end" class="k">0.04</text>
<line x1="283.5" y1="455.3" x2="289.5" y2="455.3" stroke="#333" stroke-width="1"/>
<text x="280.3" y="459.3" font-size="11.3" text-anchor="end" class="h">0.06</text>
<text x="280.3" y="459.3" font-size="11.3" text-anchor="end" class="k">0.06</text>
<line x1="283.5" y1="432.6" x2="289.5" y2="432.6" stroke="#333" stroke-width="1"/>
<text x="280.3" y="436.6" font-size="11.3" text-anchor="end" class="h">0.08</text>
<text x="280.3" y="436.6" font-size="11.3" text-anchor="end" class="k">0.08</text>
<line x1="283.5" y1="409.9" x2="289.5" y2="409.9" stroke="#333" stroke-width="1"/>
<text x="280.3" y="413.9" font-size="11.3" text-anchor="end" class="h">0.1</text>
<text x="280.3" y="413.9" font-size="11.3" text-anchor="end" class="k">0.1</text>
<line x1="283.5" y1="387.2" x2="289.5" y2="387.2" stroke="#333" stroke-width="1"/>
<text x="280.3" y="391.2" font-size="11.3" text-anchor="end" class="h">0.12</text>
<text x="280.3" y="391.2" font-size="11.3" text-anchor="end" class="k">0.12</text>
<rect x="298.9" y="420.12" width="11.8" height="103.28" fill="#5b9bd5" stroke="#ccc" stroke-width="0.5"/>
<path d="M304.8 408.42V420.12M300.8 408.42h8" fill="none" stroke="#b5b5b5" stroke-width="2.8"/>
<path d="M304.8 408.42V431.81M300.8 408.42h8M300.8 431.81h8" fill="none" stroke="#000" stroke-width="1.2"/>
<rect x="312.6" y="468.92" width="11.8" height="54.48" fill="#ed7d31" stroke="#ccc" stroke-width="0.5"/>
<path d="M318.5 459.27V468.92M314.5 459.27h8" fill="none" stroke="#b5b5b5" stroke-width="2.8"/>
<path d="M318.5 459.27V478.57M314.5 459.27h8M314.5 478.57h8" fill="none" stroke="#000" stroke-width="1.2"/>
<rect x="346" y="460.41" width="11.8" height="62.99" fill="#5b9bd5" stroke="#ccc" stroke-width="0.5"/>
<path d="M351.9 453.03V460.41M347.9 453.03h8" fill="none" stroke="#b5b5b5" stroke-width="2.8"/>
<path d="M351.9 453.03V467.78M347.9 453.03h8M347.9 467.78h8" fill="none" stroke="#000" stroke-width="1.2"/>
<rect x="359" y="504.1" width="11.8" height="19.3" fill="#ed7d31" stroke="#ccc" stroke-width="0.5"/>
<path d="M364.9 501.27V504.1M360.9 501.27h8" fill="none" stroke="#b5b5b5" stroke-width="2.8"/>
<path d="M364.9 501.27V506.94M360.9 501.27h8M360.9 506.94h8" fill="none" stroke="#000" stroke-width="1.2"/>
<rect x="393.4" y="485.38" width="11.8" height="38.02" fill="#5b9bd5" stroke="#ccc" stroke-width="0.5"/>
<path d="M399.3 482.54V485.38M395.3 482.54h8" fill="none" stroke="#b5b5b5" stroke-width="2.8"/>
<path d="M399.3 482.54V488.21M395.3 482.54h8M395.3 488.21h8" fill="none" stroke="#000" stroke-width="1.2"/>
<rect x="405.8" y="475.73" width="11.8" height="47.67" fill="#ed7d31" stroke="#ccc" stroke-width="0.5"/>
<path d="M411.7 470.62V475.73M407.7 470.62h8" fill="none" stroke="#b5b5b5" stroke-width="2.8"/>
<path d="M411.7 470.62V480.84M407.7 470.62h8M407.7 480.84h8" fill="none" stroke="#000" stroke-width="1.2"/>
<rect x="440" y="473.46" width="11.8" height="49.94" fill="#5b9bd5" stroke="#ccc" stroke-width="0.5"/>
<path d="M445.9 468.35V473.46M441.9 468.35h8" fill="none" stroke="#b5b5b5" stroke-width="2.8"/>
<path d="M445.9 468.35V478.57M441.9 468.35h8M441.9 478.57h8" fill="none" stroke="#000" stroke-width="1.2"/>
<rect x="452.6" y="494.46" width="11.8" height="28.94" fill="#ed7d31" stroke="#ccc" stroke-width="0.5"/>
<path d="M458.5 489.92V494.46M454.5 489.92h8" fill="none" stroke="#b5b5b5" stroke-width="2.8"/>
<path d="M458.5 489.92V499M454.5 489.92h8M454.5 499h8" fill="none" stroke="#000" stroke-width="1.2"/>
<text x="311.7" y="537.5" font-size="11" text-anchor="middle" class="h">10 DPA</text>
<text x="311.7" y="537.5" font-size="11" text-anchor="middle" class="k">10 DPA</text>
<text x="357.5" y="537.5" font-size="11" text-anchor="middle" class="h">20 DPA</text>
<text x="357.5" y="537.5" font-size="11" text-anchor="middle" class="k">20 DPA</text>
<text x="405.2" y="537.5" font-size="11" text-anchor="middle" class="h">30 DPA</text>
<text x="405.2" y="537.5" font-size="11" text-anchor="middle" class="k">30 DPA</text>
<text x="452.6" y="537.5" font-size="11" text-anchor="middle" class="h">40 DPA</text>
<text x="452.6" y="537.5" font-size="11" text-anchor="middle" class="k">40 DPA</text>
<text x="248" y="456" font-size="11.2" text-anchor="middle" class="h" transform="rotate(-90 248 456)">Relative expression level</text>
<text x="248" y="456" font-size="11.2" text-anchor="middle" class="k" transform="rotate(-90 248 456)">Relative expression level</text>
<rect x="347.5" y="388.7" width="7.8" height="8.3" fill="#5b9bd5"/>
<text x="359.7" y="397" font-size="11" class="h">TM-1</text>
<text x="359.7" y="397" font-size="11" class="k">TM-1</text>
<rect x="393.4" y="388.7" width="7.8" height="8.3" fill="#ed7d31"/>
<text x="405.2" y="397" font-size="11.5" class="h">ZMS12</text>
<text x="405.2" y="397" font-size="11.5" class="k">ZMS12</text>
<text x="318" y="456" font-size="13.5" text-anchor="middle" class="h">**</text>
<text x="318" y="456" font-size="13.5" text-anchor="middle" class="k">**</text>
<text x="364.7" y="499.5" font-size="13.5" text-anchor="middle" class="h">**</text>
<text x="364.7" y="499.5" font-size="13.5" text-anchor="middle" class="k">**</text>
<rect x="536" y="384" width="305" height="126.7" fill="#fff"/>
<text x="493.1" y="376" font-size="23" class="h">f</text>
<text x="493.1" y="376" font-size="23" class="k">f</text>
<line x1="532" y1="382.8" x2="532" y2="512" stroke="#333" stroke-width="1.2"/>
<line x1="532" y1="512" x2="603.3" y2="512" stroke="#333" stroke-width="1.2"/>
<line x1="528.5" y1="399.7" x2="532" y2="399.7" stroke="#333" stroke-width="1"/>
<text x="522.8" y="403.7" font-size="11" text-anchor="end" class="h">16</text>
<text x="522.8" y="403.7" font-size="11" text-anchor="end" class="k">16</text>
<line x1="528.5" y1="420.3" x2="532" y2="420.3" stroke="#333" stroke-width="1"/>
<text x="522.8" y="424.3" font-size="11" text-anchor="end" class="h">14</text>
<text x="522.8" y="424.3" font-size="11" text-anchor="end" class="k">14</text>
<line x1="528.5" y1="440.6" x2="532" y2="440.6" stroke="#333" stroke-width="1"/>
<text x="522.8" y="444.6" font-size="11" text-anchor="end" class="h">12</text>
<text x="522.8" y="444.6" font-size="11" text-anchor="end" class="k">12</text>
<line x1="528.5" y1="461.2" x2="532" y2="461.2" stroke="#333" stroke-width="1"/>
<text x="522.8" y="465.2" font-size="11" text-anchor="end" class="h">10</text>
<text x="522.8" y="465.2" font-size="11" text-anchor="end" class="k">10</text>
<line x1="528.5" y1="481.6" x2="532" y2="481.6" stroke="#333" stroke-width="1"/>
<text x="522.8" y="485.6" font-size="11" text-anchor="end" class="h">8</text>
<text x="522.8" y="485.6" font-size="11" text-anchor="end" class="k">8</text>
<line x1="528.5" y1="501.4" x2="532" y2="501.4" stroke="#333" stroke-width="1"/>
<text x="522.8" y="505.4" font-size="11" text-anchor="end" class="h">6</text>
<text x="522.8" y="505.4" font-size="11" text-anchor="end" class="k">6</text>
<text x="502" y="448" font-size="11" text-anchor="middle" class="h" transform="rotate(-90 502 448)">BN</text>
<text x="502" y="448" font-size="11" text-anchor="middle" class="k" transform="rotate(-90 502 448)">BN</text>
<line x1="551.2" y1="419.6" x2="551.2" y2="446.4" stroke="#222" stroke-width="1" stroke-dasharray="3 2.2"/>
<line x1="551.2" y1="471.2" x2="551.2" y2="507.6" stroke="#222" stroke-width="1" stroke-dasharray="3 2.2"/>
<line x1="544.95" y1="419.6" x2="557.45" y2="419.6" stroke="#111" stroke-width="1.1"/>
<line x1="544.95" y1="507.6" x2="557.45" y2="507.6" stroke="#111" stroke-width="1.1"/>
<rect x="537.2" y="446.4" width="28" height="24.8" fill="#4d8fd4" stroke="#333" stroke-width="1"/>
<line x1="537.2" y1="458.8" x2="565.2" y2="458.8" stroke="#000" stroke-width="2.4"/>
<line x1="585" y1="417.8" x2="585" y2="437.7" stroke="#222" stroke-width="1" stroke-dasharray="3 2.2"/>
<line x1="585" y1="456.8" x2="585" y2="477.1" stroke="#222" stroke-width="1" stroke-dasharray="3 2.2"/>
<line x1="578.75" y1="417.8" x2="591.25" y2="417.8" stroke="#111" stroke-width="1.1"/>
<line x1="578.75" y1="477.1" x2="591.25" y2="477.1" stroke="#111" stroke-width="1.1"/>
<rect x="571.5" y="437.7" width="27" height="19.1" fill="#e77a30" stroke="#333" stroke-width="1"/>
<line x1="571.5" y1="446.4" x2="598.5" y2="446.4" stroke="#000" stroke-width="2.4"/>
<line x1="551.2" y1="512" x2="551.2" y2="516" stroke="#333" stroke-width="1"/>
<line x1="585" y1="512" x2="585" y2="516" stroke="#333" stroke-width="1"/>
<path d="M549.5 382.4V377.4H586.7V382.4" fill="none" stroke="#888" stroke-width="1.2"/>
<text x="568.1" y="378.4" font-size="13.5" text-anchor="middle" class="h">**</text>
<text x="568.1" y="378.4" font-size="13.5" text-anchor="middle" class="k">**</text>
<text x="546" y="534" font-size="11" text-anchor="middle" class="h">D08<tspan font-size="8.2" dy="-4">LLB</tspan></text>
<text x="546" y="534" font-size="11" text-anchor="middle" class="k">D08<tspan font-size="8.2" dy="-4">LLB</tspan></text>
<text x="546" y="547.5" font-size="11" text-anchor="middle" class="h">(210)</text>
<text x="546" y="547.5" font-size="11" text-anchor="middle" class="k">(210)</text>
<text x="590.5" y="534" font-size="11" text-anchor="middle" class="h">D08<tspan font-size="8.2" dy="-4">HLB</tspan></text>
<text x="590.5" y="534" font-size="11" text-anchor="middle" class="k">D08<tspan font-size="8.2" dy="-4">HLB</tspan></text>
<text x="590.5" y="547.5" font-size="11" text-anchor="middle" class="h">(34)</text>
<text x="590.5" y="547.5" font-size="11" text-anchor="middle" class="k">(34)</text>
<line x1="654.1" y1="382.8" x2="654.1" y2="512" stroke="#333" stroke-width="1.2"/>
<line x1="654.1" y1="512" x2="724.4" y2="512" stroke="#333" stroke-width="1.2"/>
<line x1="650.5" y1="391" x2="654.1" y2="391" stroke="#333" stroke-width="1"/>
<text x="644" y="395" font-size="11" text-anchor="end">45</text>
<line x1="650.5" y1="416.6" x2="654.1" y2="416.6" stroke="#333" stroke-width="1"/>
<text x="644" y="420.6" font-size="11" text-anchor="end">40</text>
<line x1="650.5" y1="442.4" x2="654.1" y2="442.4" stroke="#333" stroke-width="1"/>
<text x="644" y="446.4" font-size="11" text-anchor="end">35</text>
<line x1="650.5" y1="468" x2="654.1" y2="468" stroke="#333" stroke-width="1"/>
<text x="644" y="472" font-size="11" text-anchor="end">30</text>
<line x1="650.5" y1="493.5" x2="654.1" y2="493.5" stroke="#333" stroke-width="1"/>
<text x="644" y="497.5" font-size="11" text-anchor="end">25</text>
<text x="623.5" y="449.3" font-size="11" text-anchor="middle" transform="rotate(-90 623.5 449.3)">LP</text>
<line x1="672.3" y1="386.6" x2="672.3" y2="419.6" stroke="#222" stroke-width="1" stroke-dasharray="3 2.2"/>
<line x1="672.3" y1="441.4" x2="672.3" y2="469.2" stroke="#222" stroke-width="1" stroke-dasharray="3 2.2"/>
<line x1="666.05" y1="386.6" x2="678.55" y2="386.6" stroke="#111" stroke-width="1.1"/>
<line x1="666.05" y1="469.2" x2="678.55" y2="469.2" stroke="#111" stroke-width="1.1"/>
<rect x="659" y="419.6" width="26.6" height="21.8" fill="#4d8fd4" stroke="#333" stroke-width="1"/>
<line x1="659" y1="431.5" x2="685.6" y2="431.5" stroke="#000" stroke-width="2.4"/>
<rect x="671.5" y="475.9" width="1.6" height="1.6" fill="#222"/>
<rect x="671.5" y="507.6" width="1.6" height="1.6" fill="#222"/>
<line x1="705.3" y1="406.4" x2="705.3" y2="418.3" stroke="#222" stroke-width="1" stroke-dasharray="3 2.2"/>
<line x1="705.3" y1="440.7" x2="705.3" y2="462.5" stroke="#222" stroke-width="1" stroke-dasharray="3 2.2"/>
<line x1="699.05" y1="406.4" x2="711.55" y2="406.4" stroke="#111" stroke-width="1.1"/>
<line x1="699.05" y1="462.5" x2="711.55" y2="462.5" stroke="#111" stroke-width="1.1"/>
<rect x="692" y="418.3" width="26.6" height="22.4" fill="#e77a30" stroke="#333" stroke-width="1"/>
<line x1="692" y1="428.5" x2="718.6" y2="428.5" stroke="#000" stroke-width="2.4"/>
<line x1="672.3" y1="512" x2="672.3" y2="516" stroke="#333" stroke-width="1"/>
<line x1="705.3" y1="512" x2="705.3" y2="516" stroke="#333" stroke-width="1"/>
<path d="M670.5 382.9V377.9H705.8V382.9" fill="none" stroke="#888" stroke-width="1.2"/>
<text x="688.15" y="378.9" font-size="13.5" text-anchor="middle" class="h">**</text>
<text x="688.15" y="378.9" font-size="13.5" text-anchor="middle" class="k">**</text>
<text x="667.3" y="534" font-size="11" text-anchor="middle" class="h">D08<tspan font-size="8.2" dy="-4">LLB</tspan></text>
<text x="667.3" y="534" font-size="11" text-anchor="middle" class="k">D08<tspan font-size="8.2" dy="-4">LLB</tspan></text>
<text x="667.3" y="547.5" font-size="11" text-anchor="middle" class="h">(210)</text>
<text x="667.3" y="547.5" font-size="11" text-anchor="middle" class="k">(210)</text>
<text x="712" y="534" font-size="11" text-anchor="middle" class="h">D08<tspan font-size="8.2" dy="-4">HLB</tspan></text>
<text x="712" y="534" font-size="11" text-anchor="middle" class="k">D08<tspan font-size="8.2" dy="-4">HLB</tspan></text>
<text x="712" y="547.5" font-size="11" text-anchor="middle" class="h">(34)</text>
<text x="712" y="547.5" font-size="11" text-anchor="middle" class="k">(34)</text>
<line x1="774" y1="382.8" x2="774" y2="514" stroke="#333" stroke-width="1.2"/>
<line x1="774" y1="513.9" x2="844.8" y2="513.9" stroke="#333" stroke-width="1.2"/>
<line x1="770.5" y1="395.2" x2="774" y2="395.2" stroke="#333" stroke-width="1"/>
<text x="766" y="399.2" font-size="11" text-anchor="end">18</text>
<line x1="770.5" y1="420.3" x2="774" y2="420.3" stroke="#333" stroke-width="1"/>
<text x="766" y="424.3" font-size="11" text-anchor="end">16</text>
<line x1="770.5" y1="445.6" x2="774" y2="445.6" stroke="#333" stroke-width="1"/>
<text x="766" y="449.6" font-size="11" text-anchor="end">14</text>
<line x1="770.5" y1="470.7" x2="774" y2="470.7" stroke="#333" stroke-width="1"/>
<text x="766" y="474.7" font-size="11" text-anchor="end">12</text>
<line x1="770.5" y1="495.8" x2="774" y2="495.8" stroke="#333" stroke-width="1"/>
<text x="766" y="499.8" font-size="11" text-anchor="end">10</text>
<text x="744" y="448" font-size="11" text-anchor="middle" transform="rotate(-90 744 448)">SI</text>
<line x1="792.6" y1="439" x2="792.6" y2="466.2" stroke="#222" stroke-width="1" stroke-dasharray="3 2.2"/>
<line x1="792.6" y1="484.6" x2="792.6" y2="508.9" stroke="#222" stroke-width="1" stroke-dasharray="3 2.2"/>
<line x1="786.35" y1="439" x2="798.85" y2="439" stroke="#111" stroke-width="1.1"/>
<line x1="786.35" y1="508.9" x2="798.85" y2="508.9" stroke="#111" stroke-width="1.1"/>
<rect x="779.3" y="466.2" width="26.6" height="18.4" fill="#4d8fd4" stroke="#333" stroke-width="1"/>
<line x1="779.3" y1="476.2" x2="805.9" y2="476.2" stroke="#000" stroke-width="2.4"/>
<rect x="791.8" y="384" width="1.6" height="1.6" fill="#222"/>
<rect x="791.8" y="420" width="1.6" height="1.6" fill="#222"/>
<rect x="791.8" y="423.2" width="1.6" height="1.6" fill="#222"/>
<rect x="791.8" y="427.2" width="1.6" height="1.6" fill="#222"/>
<rect x="791.8" y="431.2" width="1.6" height="1.6" fill="#222"/>
<line x1="825.7" y1="455" x2="825.7" y2="468.2" stroke="#222" stroke-width="1" stroke-dasharray="3 2.2"/>
<line x1="825.7" y1="484.1" x2="825.7" y2="496" stroke="#222" stroke-width="1" stroke-dasharray="3 2.2"/>
<line x1="819.45" y1="455" x2="831.95" y2="455" stroke="#111" stroke-width="1.1"/>
<line x1="819.45" y1="496" x2="831.95" y2="496" stroke="#111" stroke-width="1.1"/>
<rect x="812.45" y="468.2" width="26.5" height="15.9" fill="#e77a30" stroke="#333" stroke-width="1"/>
<line x1="812.45" y1="478.1" x2="838.95" y2="478.1" stroke="#000" stroke-width="2.4"/>
<rect x="824.9" y="439.9" width="1.6" height="1.6" fill="#222"/>
<rect x="824.9" y="508.2" width="1.6" height="1.6" fill="#222"/>
<line x1="792.6" y1="514" x2="792.6" y2="518" stroke="#333" stroke-width="1"/>
<line x1="825.7" y1="514" x2="825.7" y2="518" stroke="#333" stroke-width="1"/>
<path d="M791.4 382.4V377.4H827.4V382.4" fill="none" stroke="#888" stroke-width="1.2"/>
<text x="809.4" y="378.4" font-size="13.5" text-anchor="middle" class="h">**</text>
<text x="809.4" y="378.4" font-size="13.5" text-anchor="middle" class="k">**</text>
<text x="788.4" y="534" font-size="11" text-anchor="middle" class="h">D08<tspan font-size="8.2" dy="-4">LLB</tspan></text>
<text x="788.4" y="534" font-size="11" text-anchor="middle" class="k">D08<tspan font-size="8.2" dy="-4">LLB</tspan></text>
<text x="788.4" y="547.5" font-size="11" text-anchor="middle" class="h">(210)</text>
<text x="788.4" y="547.5" font-size="11" text-anchor="middle" class="k">(210)</text>
<text x="831" y="534" font-size="11" text-anchor="middle" class="h">D08<tspan font-size="8.2" dy="-4">HLB</tspan></text>
<text x="831" y="534" font-size="11" text-anchor="middle" class="k">D08<tspan font-size="8.2" dy="-4">HLB</tspan></text>
<text x="831" y="547.5" font-size="11" text-anchor="middle" class="h">(34)</text>
<text x="831" y="547.5" font-size="11" text-anchor="middle" class="k">(34)</text>
<rect x="140.2" y="623.5" width="301.5" height="126.2" fill="#fff"/>
<text x="93.6" y="617" font-size="26" class="h" style="font-family:'Liberation Serif',serif">g</text>
<text x="93.6" y="617" font-size="26" class="k" style="font-family:'Liberation Serif',serif">g</text>
<line x1="135.5" y1="620.6" x2="135.5" y2="753.3" stroke="#333" stroke-width="1.2"/>
<line x1="135.5" y1="752.8" x2="207.5" y2="752.8" stroke="#333" stroke-width="1.2"/>
<line x1="132" y1="640.8" x2="135.5" y2="640.8" stroke="#333" stroke-width="1"/>
<text x="127.2" y="644.8" font-size="11" text-anchor="end" class="h">16</text>
<text x="127.2" y="644.8" font-size="11" text-anchor="end" class="k">16</text>
<line x1="132" y1="660.4" x2="135.5" y2="660.4" stroke="#333" stroke-width="1"/>
<text x="127.2" y="664.4" font-size="11" text-anchor="end" class="h">14</text>
<text x="127.2" y="664.4" font-size="11" text-anchor="end" class="k">14</text>
<line x1="132" y1="680.8" x2="135.5" y2="680.8" stroke="#333" stroke-width="1"/>
<text x="127.2" y="684.8" font-size="11" text-anchor="end" class="h">12</text>
<text x="127.2" y="684.8" font-size="11" text-anchor="end" class="k">12</text>
<line x1="132" y1="701.5" x2="135.5" y2="701.5" stroke="#333" stroke-width="1"/>
<text x="127.2" y="705.5" font-size="11" text-anchor="end" class="h">10</text>
<text x="127.2" y="705.5" font-size="11" text-anchor="end" class="k">10</text>
<line x1="132" y1="722" x2="135.5" y2="722" stroke="#333" stroke-width="1"/>
<text x="127.2" y="726" font-size="11" text-anchor="end" class="h">8</text>
<text x="127.2" y="726" font-size="11" text-anchor="end" class="k">8</text>
<line x1="132" y1="742.3" x2="135.5" y2="742.3" stroke="#333" stroke-width="1"/>
<text x="127.2" y="746.3" font-size="11" text-anchor="end" class="h">6</text>
<text x="127.2" y="746.3" font-size="11" text-anchor="end" class="k">6</text>
<text x="104" y="686.6" font-size="11" text-anchor="middle" class="h" transform="rotate(-90 104 686.6)">BN</text>
<text x="104" y="686.6" font-size="11" text-anchor="middle" class="k" transform="rotate(-90 104 686.6)">BN</text>
<line x1="155.1" y1="673.5" x2="155.1" y2="693.1" stroke="#222" stroke-width="1" stroke-dasharray="3 2.2"/>
<line x1="155.1" y1="722.7" x2="155.1" y2="748.9" stroke="#222" stroke-width="1" stroke-dasharray="3 2.2"/>
<line x1="148.85" y1="673.5" x2="161.35" y2="673.5" stroke="#111" stroke-width="1.1"/>
<line x1="148.85" y1="748.9" x2="161.35" y2="748.9" stroke="#111" stroke-width="1.1"/>
<rect x="141.6" y="693.1" width="27" height="29.6" fill="#4d8fd4" stroke="#333" stroke-width="1"/>
<line x1="141.6" y1="706.5" x2="168.6" y2="706.5" stroke="#000" stroke-width="2.4"/>
<line x1="188.1" y1="657.8" x2="188.1" y2="678.2" stroke="#222" stroke-width="1" stroke-dasharray="3 2.2"/>
<line x1="188.1" y1="695.2" x2="188.1" y2="717.5" stroke="#222" stroke-width="1" stroke-dasharray="3 2.2"/>
<line x1="181.85" y1="657.8" x2="194.35" y2="657.8" stroke="#111" stroke-width="1.1"/>
<line x1="181.85" y1="717.5" x2="194.35" y2="717.5" stroke="#111" stroke-width="1.1"/>
<rect x="174.6" y="678.2" width="27" height="17" fill="#e77a30" stroke="#333" stroke-width="1"/>
<line x1="174.6" y1="685.8" x2="201.6" y2="685.8" stroke="#000" stroke-width="2.4"/>
<line x1="155.1" y1="753" x2="155.1" y2="757" stroke="#333" stroke-width="1"/>
<line x1="188.1" y1="753" x2="188.1" y2="757" stroke="#333" stroke-width="1"/>
<path d="M154.6 621V616H188.6V621" fill="none" stroke="#888" stroke-width="1.2"/>
<text x="171.6" y="617" font-size="13.5" text-anchor="middle" class="h">**</text>
<text x="171.6" y="617" font-size="13.5" text-anchor="middle" class="k">**</text>
<text x="128.4" y="771.5" font-size="11" class="h">A02<tspan font-size="8.2" dy="-4">LLB</tspan></text>
<text x="128.4" y="771.5" font-size="11" class="k">A02<tspan font-size="8.2" dy="-4">LLB</tspan></text>
<text x="214.8" y="771.5" font-size="11" text-anchor="end" class="h">A02<tspan font-size="8.2" dy="-4">HLB</tspan></text>
<text x="214.8" y="771.5" font-size="11" text-anchor="end" class="k">A02<tspan font-size="8.2" dy="-4">HLB</tspan></text>
<path d="M162.4 771.5H176.3" fill="none" stroke="#aaa" stroke-width="1.6"/>
<path d="M172.3 768L177.3 771.5L172.3 775" fill="none" stroke="#aaa" stroke-width="1.6"/>
<path d="M162.4 771.5H176.3M172.3 768L177.3 771.5L172.3 775" fill="none" stroke="#000" stroke-width="0.8"/>
<text x="128.4" y="789.5" font-size="11" class="h">D08<tspan font-size="8.2" dy="-4">LLB</tspan></text>
<text x="128.4" y="789.5" font-size="11" class="k">D08<tspan font-size="8.2" dy="-4">LLB</tspan></text>
<text x="214.8" y="789.5" font-size="11" text-anchor="end" class="h">D08<tspan font-size="8.2" dy="-4">HLB</tspan></text>
<text x="214.8" y="789.5" font-size="11" text-anchor="end" class="k">D08<tspan font-size="8.2" dy="-4">HLB</tspan></text>
<path d="M162.4 789.5H176.3" fill="none" stroke="#aaa" stroke-width="1.6"/>
<path d="M172.3 786L177.3 789.5L172.3 793" fill="none" stroke="#aaa" stroke-width="1.6"/>
<path d="M162.4 789.5H176.3M172.3 786L177.3 789.5L172.3 793" fill="none" stroke="#000" stroke-width="0.8"/>
<text x="145.5" y="803" font-size="11" text-anchor="middle" class="h">(64)</text>
<text x="145.5" y="803" font-size="11" text-anchor="middle" class="k">(64)</text>
<text x="194.6" y="803" font-size="11" text-anchor="middle" class="h">(30)</text>
<text x="194.6" y="803" font-size="11" text-anchor="middle" class="k">(30)</text>
<line x1="255.3" y1="621" x2="255.3" y2="751.7" stroke="#333" stroke-width="1.2"/>
<line x1="255.3" y1="753.1" x2="327.3" y2="753.1" stroke="#333" stroke-width="1.2"/>
<line x1="251.5" y1="626.9" x2="255.3" y2="626.9" stroke="#333" stroke-width="1"/>
<text x="246.5" y="630.9" font-size="11" text-anchor="end">45</text>
<line x1="251.5" y1="663.3" x2="255.3" y2="663.3" stroke="#333" stroke-width="1"/>
<text x="246.5" y="667.3" font-size="11" text-anchor="end">40</text>
<line x1="251.5" y1="699.5" x2="255.3" y2="699.5" stroke="#333" stroke-width="1"/>
<text x="246.5" y="703.5" font-size="11" text-anchor="end">35</text>
<line x1="251.5" y1="735.6" x2="255.3" y2="735.6" stroke="#333" stroke-width="1"/>
<text x="246.5" y="739.6" font-size="11" text-anchor="end">30</text>
<text x="225.5" y="688" font-size="11" text-anchor="middle" transform="rotate(-90 225.5 688)">LP</text>
<line x1="274.2" y1="635.1" x2="274.2" y2="674.9" stroke="#222" stroke-width="1" stroke-dasharray="3 2.2"/>
<line x1="274.2" y1="704.3" x2="274.2" y2="739" stroke="#222" stroke-width="1" stroke-dasharray="3 2.2"/>
<line x1="267.95" y1="635.1" x2="280.45" y2="635.1" stroke="#111" stroke-width="1.1"/>
<line x1="267.95" y1="739" x2="280.45" y2="739" stroke="#111" stroke-width="1.1"/>
<rect x="261.05" y="674.9" width="26.3" height="29.4" fill="#4d8fd4" stroke="#333" stroke-width="1"/>
<line x1="261.05" y1="690.4" x2="287.35" y2="690.4" stroke="#000" stroke-width="2.4"/>
<line x1="307.5" y1="625.5" x2="307.5" y2="652" stroke="#222" stroke-width="1" stroke-dasharray="3 2.2"/>
<line x1="307.5" y1="680.6" x2="307.5" y2="718.1" stroke="#222" stroke-width="1" stroke-dasharray="3 2.2"/>
<line x1="301.25" y1="625.5" x2="313.75" y2="625.5" stroke="#111" stroke-width="1.1"/>
<line x1="301.25" y1="718.1" x2="313.75" y2="718.1" stroke="#111" stroke-width="1.1"/>
<rect x="294" y="652" width="27" height="28.6" fill="#e77a30" stroke="#333" stroke-width="1"/>
<line x1="294" y1="666.2" x2="321" y2="666.2" stroke="#000" stroke-width="2.4"/>
<line x1="274.2" y1="753" x2="274.2" y2="757" stroke="#333" stroke-width="1"/>
<line x1="307.5" y1="753" x2="307.5" y2="757" stroke="#333" stroke-width="1"/>
<path d="M272.2 620.3V615.3H307.5V620.3" fill="none" stroke="#888" stroke-width="1.2"/>
<text x="289.85" y="616.3" font-size="13.5" text-anchor="middle" class="h">**</text>
<text x="289.85" y="616.3" font-size="13.5" text-anchor="middle" class="k">**</text>
<text x="248.2" y="771.5" font-size="11" class="h">A02<tspan font-size="8.2" dy="-4">LLB</tspan></text>
<text x="248.2" y="771.5" font-size="11" class="k">A02<tspan font-size="8.2" dy="-4">LLB</tspan></text>
<text x="335.8" y="771.5" font-size="11" text-anchor="end" class="h">A02<tspan font-size="8.2" dy="-4">HLB</tspan></text>
<text x="335.8" y="771.5" font-size="11" text-anchor="end" class="k">A02<tspan font-size="8.2" dy="-4">HLB</tspan></text>
<path d="M282.2 771.5H297.3" fill="none" stroke="#aaa" stroke-width="1.6"/>
<path d="M293.3 768L298.3 771.5L293.3 775" fill="none" stroke="#aaa" stroke-width="1.6"/>
<path d="M282.2 771.5H297.3M293.3 768L298.3 771.5L293.3 775" fill="none" stroke="#000" stroke-width="0.8"/>
<text x="248.2" y="789.5" font-size="11" class="h">D08<tspan font-size="8.2" dy="-4">LLB</tspan></text>
<text x="248.2" y="789.5" font-size="11" class="k">D08<tspan font-size="8.2" dy="-4">LLB</tspan></text>
<text x="335.8" y="789.5" font-size="11" text-anchor="end" class="h">D08<tspan font-size="8.2" dy="-4">HLB</tspan></text>
<text x="335.8" y="789.5" font-size="11" text-anchor="end" class="k">D08<tspan font-size="8.2" dy="-4">HLB</tspan></text>
<path d="M282.2 789.5H297.3" fill="none" stroke="#aaa" stroke-width="1.6"/>
<path d="M293.3 786L298.3 789.5L293.3 793" fill="none" stroke="#aaa" stroke-width="1.6"/>
<path d="M282.2 789.5H297.3M293.3 786L298.3 789.5L293.3 793" fill="none" stroke="#000" stroke-width="0.8"/>
<text x="266.6" y="803" font-size="11" text-anchor="middle" class="h">(64)</text>
<text x="266.6" y="803" font-size="11" text-anchor="middle" class="k">(64)</text>
<text x="317.4" y="803" font-size="11" text-anchor="middle" class="h">(30)</text>
<text x="317.4" y="803" font-size="11" text-anchor="middle" class="k">(30)</text>
<line x1="374.7" y1="620.4" x2="374.7" y2="751.7" stroke="#333" stroke-width="1.2"/>
<line x1="374.7" y1="751.7" x2="444.5" y2="751.7" stroke="#333" stroke-width="1.2"/>
<line x1="371" y1="634.5" x2="374.7" y2="634.5" stroke="#333" stroke-width="1"/>
<text x="367.5" y="638.5" font-size="11" text-anchor="end">18</text>
<line x1="371" y1="659.4" x2="374.7" y2="659.4" stroke="#333" stroke-width="1"/>
<text x="367.5" y="663.4" font-size="11" text-anchor="end">16</text>
<line x1="371" y1="684.8" x2="374.7" y2="684.8" stroke="#333" stroke-width="1"/>
<text x="367.5" y="688.8" font-size="11" text-anchor="end">14</text>
<line x1="371" y1="709.9" x2="374.7" y2="709.9" stroke="#333" stroke-width="1"/>
<text x="367.5" y="713.9" font-size="11" text-anchor="end">12</text>
<line x1="371" y1="734.8" x2="374.7" y2="734.8" stroke="#333" stroke-width="1"/>
<text x="367.5" y="738.8" font-size="11" text-anchor="end">10</text>
<text x="344.8" y="687.6" font-size="11" text-anchor="middle" transform="rotate(-90 344.8 687.6)">SI</text>
<line x1="394.2" y1="661.4" x2="394.2" y2="697.2" stroke="#222" stroke-width="1" stroke-dasharray="3 2.2"/>
<line x1="394.2" y1="722.9" x2="394.2" y2="748.9" stroke="#222" stroke-width="1" stroke-dasharray="3 2.2"/>
<line x1="387.95" y1="661.4" x2="400.45" y2="661.4" stroke="#111" stroke-width="1.1"/>
<line x1="387.95" y1="748.9" x2="400.45" y2="748.9" stroke="#111" stroke-width="1.1"/>
<rect x="381.05" y="697.2" width="26.3" height="25.7" fill="#4d8fd4" stroke="#333" stroke-width="1"/>
<line x1="381.05" y1="711" x2="407.35" y2="711" stroke="#000" stroke-width="2.4"/>
<rect x="393.4" y="623.8" width="1.6" height="1.6" fill="#222"/>
<line x1="427" y1="692.4" x2="427" y2="714.4" stroke="#222" stroke-width="1" stroke-dasharray="3 2.2"/>
<line x1="427" y1="730" x2="427" y2="739" stroke="#222" stroke-width="1" stroke-dasharray="3 2.2"/>
<line x1="420.75" y1="692.4" x2="433.25" y2="692.4" stroke="#111" stroke-width="1.1"/>
<line x1="420.75" y1="739" x2="433.25" y2="739" stroke="#111" stroke-width="1.1"/>
<rect x="413.85" y="714.4" width="26.3" height="15.6" fill="#e77a30" stroke="#333" stroke-width="1"/>
<line x1="413.85" y1="721.5" x2="440.15" y2="721.5" stroke="#000" stroke-width="2.4"/>
<rect x="426.2" y="684.6" width="1.6" height="1.6" fill="#222"/>
<line x1="394.2" y1="752" x2="394.2" y2="756" stroke="#333" stroke-width="1"/>
<line x1="427" y1="752" x2="427" y2="756" stroke="#333" stroke-width="1"/>
<path d="M393.1 621.2V616.2H429V621.2" fill="none" stroke="#888" stroke-width="1.2"/>
<text x="411.05" y="617.2" font-size="13.5" text-anchor="middle" class="h">**</text>
<text x="411.05" y="617.2" font-size="13.5" text-anchor="middle" class="k">**</text>
<text x="368.2" y="771.5" font-size="11" class="h">A02<tspan font-size="8.2" dy="-4">LLB</tspan></text>
<text x="368.2" y="771.5" font-size="11" class="k">A02<tspan font-size="8.2" dy="-4">LLB</tspan></text>
<text x="455.8" y="771.5" font-size="11" text-anchor="end" class="h">A02<tspan font-size="8.2" dy="-4">HLB</tspan></text>
<text x="455.8" y="771.5" font-size="11" text-anchor="end" class="k">A02<tspan font-size="8.2" dy="-4">HLB</tspan></text>
<path d="M402.2 771.5H417.3" fill="none" stroke="#aaa" stroke-width="1.6"/>
<path d="M413.3 768L418.3 771.5L413.3 775" fill="none" stroke="#aaa" stroke-width="1.6"/>
<path d="M402.2 771.5H417.3M413.3 768L418.3 771.5L413.3 775" fill="none" stroke="#000" stroke-width="0.8"/>
<text x="368.2" y="789.5" font-size="11" class="h">D08<tspan font-size="8.2" dy="-4">LLB</tspan></text>
<text x="368.2" y="789.5" font-size="11" class="k">D08<tspan font-size="8.2" dy="-4">LLB</tspan></text>
<text x="455.8" y="789.5" font-size="11" text-anchor="end" class="h">D08<tspan font-size="8.2" dy="-4">HLB</tspan></text>
<text x="455.8" y="789.5" font-size="11" text-anchor="end" class="k">D08<tspan font-size="8.2" dy="-4">HLB</tspan></text>
<path d="M402.2 789.5H417.3" fill="none" stroke="#aaa" stroke-width="1.6"/>
<path d="M413.3 786L418.3 789.5L413.3 793" fill="none" stroke="#aaa" stroke-width="1.6"/>
<path d="M402.2 789.5H417.3M413.3 786L418.3 789.5L413.3 793" fill="none" stroke="#000" stroke-width="0.8"/>
<text x="386.9" y="803" font-size="11" text-anchor="middle" class="h">(64)</text>
<text x="386.9" y="803" font-size="11" text-anchor="middle" class="k">(64)</text>
<text x="437.2" y="803" font-size="11" text-anchor="middle" class="h">(30)</text>
<text x="437.2" y="803" font-size="11" text-anchor="middle" class="k">(30)</text>
<rect x="558.6" y="640.8" width="210.9" height="127.9" fill="#fff"/>
<text x="509.5" y="617.5" font-size="23" class="h">h</text>
<text x="509.5" y="617.5" font-size="23" class="k">h</text>
<text x="511" y="649" font-size="10.9" class="h">Ethylene</text>
<text x="511" y="649" font-size="10.9" class="k">Ethylene</text>
<line x1="557.8" y1="645" x2="573" y2="645" stroke="#000" stroke-width="1.2"/>
<path d="M571 642L577 645L571 648Z" fill="#000"/>
<text x="597.2" y="649" font-size="11.6" text-anchor="middle">EIN2</text>
<line x1="597.2" y1="653.5" x2="597.2" y2="668.1" stroke="#000" stroke-width="1.7"/>
<path d="M594.2 667.6L600.2 667.6L597.2 672.6Z" fill="#000"/>
<line x1="597.2" y1="688.7" x2="597.2" y2="702" stroke="#000" stroke-width="1.7"/>
<path d="M594.2 701.5L600.2 701.5L597.2 706.5Z" fill="#000"/>
<line x1="597.2" y1="723.4" x2="597.2" y2="738" stroke="#000" stroke-width="1.7"/>
<path d="M594.2 737.5L600.2 737.5L597.2 742.5Z" fill="#000"/>
<text x="597.2" y="685" font-size="11.6" text-anchor="middle">EIL</text>
<text x="624.7" y="685" font-size="11.5">(<tspan font-style="italic">GhLYI-D08</tspan>)</text>
<text x="597.5" y="718" font-size="11.6" text-anchor="middle">AP2/ERF</text>
<text x="625.5" y="718" font-size="11.5">(<tspan font-style="italic">GhLYI-A02</tspan>)</text>
<line x1="562.8" y1="755.2" x2="740" y2="755.2" stroke="#000" stroke-width="1.2"/>
<path d="M738 752L744.5 755.2L738 758.4Z" fill="#000"/>
<rect x="574.7" y="747.6" width="44.5" height="15.2" fill="#aaa" stroke="#000" stroke-width="1.2"/>
<text x="596.9" y="759.5" font-size="11.6" text-anchor="middle">GCC</text>
<rect x="631" y="742.5" width="87.7" height="24.5" fill="#aaa" stroke="#000" stroke-width="1.2"/>
<text x="674.8" y="753" font-size="11.2" text-anchor="middle">Response</text>
<text x="674.8" y="764.5" font-size="11.2" text-anchor="middle">genes</text>
<path d="M634 742.5V738.2H650" fill="none" stroke="#000" stroke-width="1.2"/>
<path d="M649 735.5L654 738.2L649 740.9Z" fill="#000"/>
<rect x="746.2" y="646.3" width="22.5" height="120.7" fill="#fff" stroke="#000" stroke-width="1.2"/>
<text x="761.5" y="706.6" font-size="11.15" text-anchor="middle" transform="rotate(-90 761.5 706.6)">Developmental process</text>
</svg></body></html>
